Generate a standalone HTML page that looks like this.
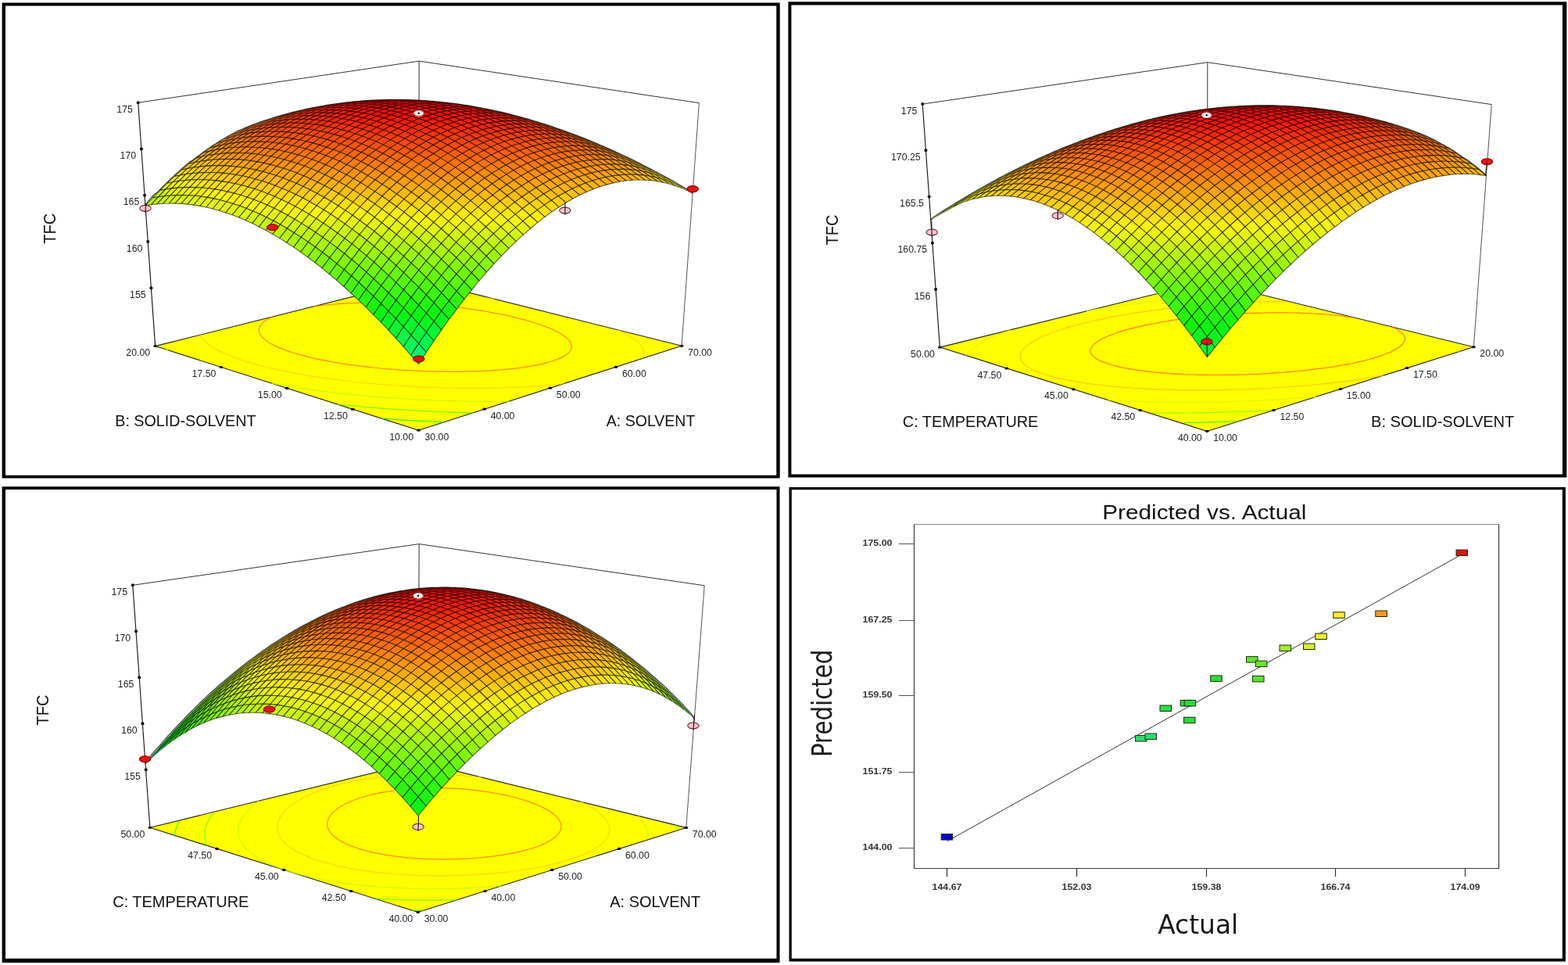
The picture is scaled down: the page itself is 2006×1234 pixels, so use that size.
<!DOCTYPE html>
<html lang="en"><head><meta charset="utf-8"><title>Response surface plots</title>
<style>
html,body{margin:0;padding:0;background:#fff;}
body{width:2006px;height:1234px;overflow:hidden;}
svg{display:block;}
.s0{stroke-opacity:0.15}.s1{stroke-opacity:0.24}.s2{stroke-opacity:0.33}.s3{stroke-opacity:0.42}.s4{stroke-opacity:0.51}
</style></head><body>
<svg width="2006" height="1234" viewBox="0 0 2006 1234">
<rect width="2006" height="1234" fill="#fff"/>
<path fill="#000" fill-rule="evenodd" d="M2.6,3.4H997.7V611.6H2.6ZM7,7.6H993.3V607.8H7Z"/>
<path fill="#000" fill-rule="evenodd" d="M1008.4,2.2H2004.3V610.6H1008.4ZM1012.4,6.4H1998.9V606.6H1012.4Z"/>
<path fill="#000" fill-rule="evenodd" d="M2.6,622.2H997.5V1231H2.6ZM7,625.9H993.5V1225.8H7Z"/>
<path fill="#000" fill-rule="evenodd" d="M1009.5,623H2002.9V1229.5H1009.5ZM1012.8,626.2H1998.8V1225.7H1012.8Z"/>
<g id="p1"><g fill="none" stroke="#333" stroke-width="1">
<polyline points="176.7,131.3 536.1,78.1 894.4,131.7"/>
<line x1="536.1" y1="78.1" x2="535.9" y2="358.1"/>
<line x1="894.4" y1="131.7" x2="872.1" y2="442.3" stroke="#555"/>
<line x1="176.7" y1="131.3" x2="198.6" y2="442.6" stroke="#111" stroke-width="1.1"/>
</g>
<polygon points="198.6,442.6 535.5,550.2 872.1,442.3 535.9,358.1" fill="#ffff00" stroke="#222" stroke-width="1.1" stroke-linejoin="round"/>
<g fill="none" stroke-width="1.2">
<polyline points="568.1,539.8 562.5,539.6 557,539.3 551.1,539 543.5,538.6 535.9,538.2 530,537.9 524.7,537.6 519.4,537.3 512.5,536.8 504.5,536.3 498.7,535.9 493.6,535.5 488.2,535.1" stroke="#08f526" stroke-opacity="0.8"/>
<polyline points="605.1,527.9 599.3,527.8 593.6,527.6 587.9,527.5 582.2,527.3 575.3,527 568.2,526.8 561,526.5 554.6,526.2 549.2,526 543.8,525.7 538.5,525.4 531.4,525 523.8,524.6 517.6,524.2 512.5,523.9 507.4,523.6 500.2,523.1 492.3,522.5 487.3,522.1 482.4,521.7 475.6,521.2 467.9,520.5 463.1,520.1 458.4,519.7 449.7,518.9 444.4,518.3 439.7,517.9 431.6,517" stroke="#54f50d" stroke-opacity="0.8"/>
<polyline points="650.5,513.3 644.2,513.4 637.9,513.5 631.8,513.5 625.7,513.5 619.6,513.5 613.7,513.4 607.7,513.3 601.9,513.3 596.1,513.2 590.4,513 584.5,512.9 577.7,512.7 570.9,512.5 564,512.3 557.1,512 551.7,511.8 546.4,511.6 541.1,511.3 535.3,511 527.8,510.6 520.4,510.2 515.3,509.9 510.3,509.5 504.8,509.2 496.8,508.6 490.7,508.1 485.8,507.8 480.5,507.3 472.1,506.6 467,506.1 462.3,505.7 454.7,505 448.7,504.4 444.2,503.9 436.5,503.1 431,502.5 426.7,502 418.2,500.9 414,500.4 407,499.5 401.5,498.8 396.5,498.1 389.4,497.1 385.5,496.5 377.7,495.3 373.8,494.7 366.2,493.5 361.5,492.7 355,491.6 348.1,490.4" stroke="#bbf50d" stroke-opacity="0.8"/>
<polyline points="214.7,447.7 212.5,446.2 210.2,444.5 208.3,443 206.7,441.6" stroke="#bbf50d" stroke-opacity="0.8"/>
<polyline points="525.7,360.7 529.9,360.9 534,361.1 538.8,361.4 545.4,361.8 550.3,362.1" stroke="#bbf50d" stroke-opacity="0.8"/>
<polyline points="721.5,490.6 715.6,491.2 711.2,491.7 704,492.4 697.7,492.9 693,493.3 688,493.7 680.4,494.2 673.6,494.6 668.6,494.9 663.5,495.1 658.3,495.4 652,495.6 645.3,495.8 638.7,496 632.2,496.2 625.9,496.3 619.7,496.4 613.9,496.4 607.9,496.4 601.9,496.4 595.8,496.4 589.7,496.4 584,496.3 578.4,496.2 572.8,496.1 567.2,495.9 561.8,495.8 556.4,495.6 550.1,495.3 543.1,495.1 536,494.7 530.3,494.4 525.2,494.2 520.2,493.9 513.9,493.5 506.2,493 500.7,492.6 495.9,492.2 490.2,491.8 482,491.1 477.4,490.7 472.9,490.3 464.7,489.5 459.6,488.9 455.2,488.5 446.6,487.5 442.4,487 436.6,486.3 430,485.5 426,485 418,483.9 414.1,483.3 406.3,482.2 402.5,481.6 395,480.4 391.4,479.7 384.1,478.5 378.2,477.4 373.6,476.5 366.7,475.2 362.3,474.3 356.8,473.1 350.3,471.7 344.1,470.2 341,469.5 335,468 329.2,466.4 323.5,464.8 318,463.2 312.7,461.6 307.6,459.9 302.6,458.1 297.8,456.4 293.3,454.6 291.1,453.7 286.8,451.8 282.8,449.9 280.5,448.8 277.1,447 273.6,445 271.9,444 268.8,441.9 267.3,440.8 264.5,438.7 263.3,437.6 261.5,435.9 259.9,434.2 258.9,433.1 257.6,431.3 256.5,429.5 255.9,428.3" stroke="#face0d" stroke-opacity="0.8"/>
<polyline points="484.7,370.9 489.5,371 494.2,371.1 498.9,371.2 503.4,371.4 508,371.5 513.6,371.7 519.7,372 525.5,372.2 529.7,372.4 533.9,372.7 539,373 545.8,373.4 550.3,373.7 554.3,374 560.1,374.4 566.1,374.9 570,375.2 575.5,375.7 581.3,376.3 585.1,376.6 592.3,377.4 596.1,377.8 601.4,378.4 606.9,379 611,379.5 617.5,380.3 621.4,380.8 627.9,381.7 632.7,382.3" stroke="#face0d" stroke-opacity="0.8"/>
<polyline points="790.2,421.8 794,423.6 796.1,424.6 800,426.7 802,427.8 805.1,429.6 807.5,431.2 809.2,432.3 811.6,434.1 814,436 815.5,437.3 816.8,438.6 818.2,440 819.7,441.8 821,443.5 822,445.2 822.7,446.9 823.3,448.4 823.6,450 823.7,451.5 823.7,452.9 823.5,454.4 823,456.2 822,458.3" stroke="#face0d" stroke-opacity="0.8"/>
<polyline points="401.1,391.9 405.9,391.2 411.8,390.5 416.9,390 420.9,389.6 428.6,388.9 432.7,388.6 436.9,388.3 443.2,387.9 449.8,387.5 454.3,387.3 458.9,387.2 463.6,387 468.4,386.9 473.4,386.8 478.7,386.8 484,386.8 489.1,386.8 494.3,386.8 499.9,386.9 505.6,387.1 511.5,387.3 517.6,387.5 522,387.7 526.4,387.9 530.7,388.1 537.3,388.5 543.3,389 547.4,389.3 551.8,389.6 559.3,390.2 563.2,390.6 567.9,391.1 574.5,391.8 578.2,392.2 585.5,393 589.1,393.5 596.2,394.4 599.7,394.9 606.5,395.9 609.9,396.4 616.6,397.4 623.1,398.5 626.3,399.1 632.6,400.3 638.9,401.5 644.7,402.7 648,403.4 653.9,404.7 659.7,406.1 665.3,407.5 670.8,408.9 676.2,410.5 681.5,412 684.1,412.8 689.1,414.5 694,416.2 698.5,417.9 701,418.9 705.4,420.7 707.6,421.7 711.7,423.7 713.7,424.7 717.4,426.8 719.2,427.9 721.4,429.4 724,431.4 725.4,432.6 726.8,433.9 728.2,435.5 729.5,437.3 730.4,439 731,440.6 731.3,442.1 731.4,443.6 731.2,445.1 730.7,446.4 729.9,448.1 728.3,450.3 727.1,451.5 725.3,453 722.6,454.8 719.9,456.4 716.9,457.9 712.4,459.8 707.4,461.5 701.9,463.2 696.1,464.7 689.8,466.1 684.9,467.1 679.5,468.1 672.2,469.3 668.4,469.9 661.4,470.8 656.3,471.4 652.1,471.8 643.7,472.6 638.9,473 634.3,473.4 628.3,473.8 621.1,474.2 614.8,474.5 609.7,474.7 604.5,474.9 599.1,475 593.7,475.1 588.1,475.2 582.4,475.3 576.6,475.3 570.6,475.2 564.5,475.2 558.3,475.1 551.9,474.9 545.3,474.7 538.6,474.5 533.5,474.2 528.5,474 523.6,473.7 517.3,473.4 509.8,472.9 504.6,472.5 500,472.1 493.9,471.6 486.6,471 482.3,470.5 476.6,470 469.6,469.2 465.5,468.7 457.4,467.7 453.5,467.2 446.7,466.3 442,465.6 434.9,464.5 431,463.8 423.9,462.6 420.4,461.9 413.6,460.6 407.1,459.3 403.9,458.6 397.6,457.2 391.6,455.7 385.8,454.2 380.2,452.6 374.9,451 369.7,449.4 364.9,447.6 360.2,445.9 356.6,444.4 353.8,443.1 349.8,441.2 347.4,439.9 344.5,438.2 342,436.6 339.8,435.1 338.3,433.9 336,431.7 335,430.6 333.9,429.2 332.7,427.2 332,425.7 331.6,424.4 331.4,423 331.4,421.7 331.5,420.2 332,418.7 332.7,417.2 333.7,415.6 335.1,413.8 336.6,412.3 338,411.2 339.7,410 342.9,407.9 344.8,406.9 348.6,405" stroke="#fa6a0d" stroke-opacity="0.8"/>
</g>
<g stroke="#000" stroke-opacity="0.6" stroke-width="1.1" stroke-linejoin="round">
<path d="M536,191.2l7.8,6.1 -7.8,3.5 -7.7,-6.2z" fill="#aef50d"/>
<path d="M543.9,188l7.8,6.1 -7.9,3.2 -7.8,-6.1z" fill="#bdf50d"/>
<path d="M528.2,185.3l7.8,5.9 -7.7,3.4 -7.9,-5.9z" fill="#c5f50d"/>
<path d="M551.8,185l7.7,6.2 -7.8,2.9 -7.8,-6.1z" fill="#cbf50d"/>
<path d="M536.1,182.2l7.8,5.8 -7.9,3.2 -7.8,-5.9z" fill="#d4f50d"/>
<path d="M520.3,179.8l7.9,5.5 -7.8,3.4 -7.9,-5.5z" fill="#dbf50d"/>
<path d="M559.7,182.3l7.8,6.1 -8,2.8 -7.7,-6.2z" fill="#d8f50d"/>
<path d="M544,179.2l7.8,5.8 -7.9,3 -7.8,-5.8z" fill="#e1f50d"/>
<path d="M528.1,176.7l8,5.5 -7.9,3.1 -7.9,-5.5z" fill="#e9f50d"/>
<path d="M512.3,174.7l8,5.1 -7.8,3.4 -8,-5.1z" fill="#eff50d"/>
<path d="M567.8,179.8l7.7,6.1 -8,2.5 -7.8,-6.1z" fill="#e4f50d"/>
<path d="M551.9,176.5l7.8,5.8 -7.9,2.7 -7.8,-5.8z" fill="#eef50d"/>
<path d="M536.1,173.8l7.9,5.4 -7.9,3 -8,-5.5z" fill="#f6f50d"/>
<path d="M520.2,171.6l7.9,5.1 -7.8,3.1 -8,-5.1z" fill="#faf20d"/>
<path d="M504.3,169.9l8,4.8 -7.8,3.4 -8,-4.8z" fill="#faed0d"/>
<path d="M575.8,177.6l7.8,6 -8.1,2.3 -7.7,-6.1z" fill="#f0f50d"/>
<path d="M559.9,174.1l7.9,5.7 -8.1,2.5 -7.8,-5.8z" fill="#faf40d"/>
<path d="M544,171.1l7.9,5.4 -7.9,2.7 -7.9,-5.4z" fill="#faec0d"/>
<path d="M528.1,168.7l8,5.1 -8,2.9 -7.9,-5.1z" fill="#fae40d"/>
<path d="M512.1,166.8l8.1,4.8 -7.9,3.1 -8,-4.8z" fill="#fadf0d"/>
<path d="M496.2,165.5l8.1,4.4 -7.8,3.4 -8.1,-4.5z" fill="#fadb0d"/>
<path d="M583.9,175.6l7.8,6 -8.1,2 -7.8,-6z" fill="#faf40d"/>
<path d="M568,171.9l7.8,5.7 -8,2.2 -7.9,-5.7z" fill="#fae90d"/>
<path d="M552,168.7l7.9,5.4 -8,2.4 -7.9,-5.4z" fill="#fae00d"/>
<path d="M536.1,166.1l7.9,5 -7.9,2.7 -8,-5.1z" fill="#fad80d"/>
<path d="M520,164l8.1,4.7 -7.9,2.9 -8.1,-4.8z" fill="#fad20d"/>
<path d="M504,162.5l8.1,4.3 -7.8,3.1 -8.1,-4.4z" fill="#facd0d"/>
<path d="M488,161.5l8.2,4 -7.8,3.3 -8.2,-4z" fill="#faca0d"/>
<path d="M592.1,173.8l7.8,6 -8.2,1.8 -7.8,-6z" fill="#faea0d"/>
<path d="M576.1,169.9l7.8,5.7 -8.1,2 -7.8,-5.7z" fill="#fadf0d"/>
<path d="M560.1,166.5l7.9,5.4 -8.1,2.2 -7.9,-5.4z" fill="#fad50d"/>
<path d="M544.1,163.7l7.9,5 -8,2.4 -7.9,-5z" fill="#facd0d"/>
<path d="M528,161.4l8.1,4.7 -8,2.6 -8.1,-4.7z" fill="#fac60d"/>
<path d="M511.9,159.6l8.1,4.4 -7.9,2.8 -8.1,-4.3z" fill="#fac10d"/>
<path d="M495.9,158.5l8.1,4 -7.8,3 -8.2,-4z" fill="#fabd0d"/>
<path d="M600.4,172.2l7.7,6 -8.2,1.6 -7.8,-6z" fill="#fae10d"/>
<path d="M479.8,157.8l8.2,3.7 -7.8,3.3 -8.2,-3.7z" fill="#fabb0d"/>
<path d="M584.3,168.1l7.8,5.7 -8.2,1.8 -7.8,-5.7z" fill="#fad50d"/>
<path d="M568.3,164.5l7.8,5.4 -8.1,2 -7.9,-5.4z" fill="#facb0d"/>
<path d="M552.2,161.5l7.9,5 -8.1,2.2 -7.9,-5z" fill="#fac20d"/>
<path d="M536.1,159l8,4.7 -8,2.4 -8.1,-4.7z" fill="#faba0d"/>
<path d="M519.9,157.1l8.1,4.3 -8,2.6 -8.1,-4.4z" fill="#fab50d"/>
<path d="M608.7,170.9l7.7,5.9 -8.3,1.4 -7.7,-6z" fill="#fad90d"/>
<path d="M503.8,155.7l8.1,3.9 -7.9,2.9 -8.1,-4z" fill="#fab10d"/>
<path d="M487.6,154.8l8.3,3.7 -7.9,3 -8.2,-3.7z" fill="#faae0d"/>
<path d="M471.5,154.6l8.3,3.2 -7.8,3.3 -8.3,-3.3z" fill="#faad0d"/>
<path d="M592.6,166.6l7.8,5.6 -8.3,1.6 -7.8,-5.7z" fill="#facc0d"/>
<path d="M576.5,162.8l7.8,5.3 -8.2,1.8 -7.8,-5.4z" fill="#fac10d"/>
<path d="M560.3,159.6l8,4.9 -8.2,2 -7.9,-5z" fill="#fab80d"/>
<path d="M544.1,156.9l8.1,4.6 -8.1,2.2 -8,-4.7z" fill="#fab00d"/>
<path d="M617,169.8l7.7,5.9 -8.3,1.1 -7.7,-5.9z" fill="#fad10d"/>
<path d="M528,154.7l8.1,4.3 -8.1,2.4 -8.1,-4.3z" fill="#faa90d"/>
<path d="M511.8,153.1l8.1,4 -8,2.5 -8.1,-3.9z" fill="#faa50d"/>
<path d="M495.6,152.1l8.2,3.6 -7.9,2.8 -8.3,-3.7z" fill="#faa20d"/>
<path d="M479.3,151.6l8.3,3.2 -7.8,3 -8.3,-3.2z" fill="#faa00d"/>
<path d="M600.9,165.3l7.8,5.6 -8.3,1.3 -7.8,-5.6z" fill="#fac40d"/>
<path d="M463.1,151.7l8.4,2.9 -7.8,3.2 -8.4,-2.9z" fill="#faa00d"/>
<path d="M584.7,161.3l7.9,5.3 -8.3,1.5 -7.8,-5.3z" fill="#fab80d"/>
<path d="M568.5,157.9l8,4.9 -8.2,1.7 -8,-4.9z" fill="#faae0d"/>
<path d="M552.3,155l8,4.6 -8.1,1.9 -8.1,-4.6z" fill="#faa60d"/>
<path d="M625.4,169l7.7,5.8 -8.4,0.9 -7.7,-5.9z" fill="#faca0d"/>
<path d="M536.1,152.6l8,4.3 -8,2.1 -8.1,-4.3z" fill="#fa9f0d"/>
<path d="M519.8,150.8l8.2,3.9 -8.1,2.4 -8.1,-4z" fill="#fa9a0d"/>
<path d="M609.2,164.3l7.8,5.5 -8.3,1.1 -7.8,-5.6z" fill="#fabc0d"/>
<path d="M503.5,149.5l8.3,3.6 -8,2.6 -8.2,-3.6z" fill="#fa960d"/>
<path d="M487.3,148.8l8.3,3.3 -8,2.7 -8.3,-3.2z" fill="#fa940d"/>
<path d="M454.7,149.2l8.4,2.5 -7.8,3.2 -8.4,-2.6z" fill="#fa940d"/>
<path d="M471,148.7l8.3,2.9 -7.8,3 -8.4,-2.9z" fill="#fa930d"/>
<path d="M593,160.1l7.9,5.2 -8.3,1.3 -7.9,-5.3z" fill="#fab00d"/>
<path d="M576.8,156.4l7.9,4.9 -8.2,1.5 -8,-4.9z" fill="#faa60d"/>
<path d="M633.8,168.4l7.7,5.8 -8.4,0.6 -7.7,-5.8z" fill="#fac40d"/>
<path d="M560.5,153.3l8,4.6 -8.2,1.7 -8,-4.6z" fill="#fa9d0d"/>
<path d="M544.2,150.8l8.1,4.2 -8.2,1.9 -8,-4.3z" fill="#fa950d"/>
<path d="M617.6,163.5l7.8,5.5 -8.4,0.8 -7.8,-5.5z" fill="#fab60d"/>
<path d="M527.9,148.7l8.2,3.9 -8.1,2.1 -8.2,-3.9z" fill="#fa8f0d"/>
<path d="M511.6,147.3l8.2,3.5 -8,2.3 -8.3,-3.6z" fill="#fa8b0d"/>
<path d="M495.2,146.4l8.3,3.1 -7.9,2.6 -8.3,-3.3z" fill="#fa880d"/>
<path d="M446.3,147l8.4,2.2 -7.8,3.1 -8.4,-2.1z" fill="#fa8a0d"/>
<path d="M478.9,146l8.4,2.8 -8,2.8 -8.3,-2.9z" fill="#fa870d"/>
<path d="M462.6,146.2l8.4,2.5 -7.9,3 -8.4,-2.5z" fill="#fa880d"/>
<path d="M601.4,159.1l7.8,5.2 -8.3,1 -7.9,-5.2z" fill="#faa90d"/>
<path d="M585.1,155.2l7.9,4.9 -8.3,1.2 -7.9,-4.9z" fill="#fa9e0d"/>
<path d="M642.3,168l7.7,5.8 -8.5,0.4 -7.7,-5.8z" fill="#fabe0d"/>
<path d="M568.8,151.9l8,4.5 -8.3,1.5 -8,-4.6z" fill="#fa940d"/>
<path d="M552.4,149.1l8.1,4.2 -8.2,1.7 -8.1,-4.2z" fill="#fa8c0d"/>
<path d="M626.1,162.9l7.7,5.5 -8.4,0.6 -7.8,-5.5z" fill="#faaf0d"/>
<path d="M536.1,146.9l8.1,3.9 -8.1,1.8 -8.2,-3.9z" fill="#fa860d"/>
<path d="M519.7,145.2l8.2,3.5 -8.1,2.1 -8.2,-3.5z" fill="#fa810d"/>
<path d="M503.3,144.1l8.3,3.2 -8.1,2.2 -8.3,-3.1z" fill="#fa7e0d"/>
<path d="M437.7,145.3l8.6,1.7 -7.8,3.2 -8.5,-1.8z" fill="#fa800d"/>
<path d="M609.8,158.3l7.8,5.2 -8.4,0.8 -7.8,-5.2z" fill="#faa20d"/>
<path d="M486.9,143.6l8.3,2.8 -7.9,2.4 -8.4,-2.8z" fill="#fa7c0d"/>
<path d="M454.1,144.2l8.5,2 -7.9,3 -8.4,-2.2z" fill="#fa7d0d"/>
<path d="M470.5,143.6l8.4,2.4 -7.9,2.7 -8.4,-2.5z" fill="#fa7c0d"/>
<path d="M593.5,154.3l7.9,4.8 -8.4,1 -7.9,-4.9z" fill="#fa970d"/>
<path d="M650.9,167.9l7.6,5.7 -8.5,0.2 -7.7,-5.8z" fill="#fab90d"/>
<path d="M577.1,150.8l8,4.4 -8.3,1.2 -8,-4.5z" fill="#fa8d0d"/>
<path d="M560.7,147.8l8.1,4.1 -8.3,1.4 -8.1,-4.2z" fill="#fa840d"/>
<path d="M634.6,162.6l7.7,5.4 -8.5,0.4 -7.7,-5.5z" fill="#faaa0d"/>
<path d="M544.3,145.4l8.1,3.7 -8.2,1.7 -8.1,-3.9z" fill="#fa7d0d"/>
<path d="M527.8,143.5l8.3,3.4 -8.2,1.8 -8.2,-3.5z" fill="#fa770d"/>
<path d="M618.3,157.8l7.8,5.1 -8.5,0.6 -7.8,-5.2z" fill="#fa9c0d"/>
<path d="M429.2,144l8.5,1.3 -7.7,3.1 -8.6,-1.3z" fill="#fa780d"/>
<path d="M511.4,142.1l8.3,3.1 -8.1,2.1 -8.3,-3.2z" fill="#fa740d"/>
<path d="M445.6,142.5l8.5,1.7 -7.8,2.8 -8.6,-1.7z" fill="#fa740d"/>
<path d="M494.9,141.4l8.4,2.7 -8.1,2.3 -8.3,-2.8z" fill="#fa710d"/>
<path d="M462,141.5l8.5,2.1 -7.9,2.6 -8.5,-2z" fill="#fa710d"/>
<path d="M478.5,141.2l8.4,2.4 -8,2.4 -8.4,-2.4z" fill="#fa710d"/>
<path d="M601.9,153.6l7.9,4.7 -8.4,0.8 -7.9,-4.8z" fill="#fa900d"/>
<path d="M659.5,168l7.6,5.7 -8.6,-0.1 -7.6,-5.7z" fill="#fab50d"/>
<path d="M585.5,149.9l8,4.4 -8.4,0.9 -8,-4.4z" fill="#fa860d"/>
<path d="M643.1,162.5l7.8,5.4 -8.6,0.1 -7.7,-5.4z" fill="#faa50d"/>
<path d="M569,146.7l8.1,4.1 -8.3,1.1 -8.1,-4.1z" fill="#fa7c0d"/>
<path d="M552.5,144l8.2,3.8 -8.3,1.3 -8.1,-3.7z" fill="#fa750d"/>
<path d="M626.8,157.6l7.8,5 -8.5,0.3 -7.8,-5.1z" fill="#fa970d"/>
<path d="M536.1,142l8.2,3.4 -8.2,1.5 -8.3,-3.4z" fill="#fa6f0d"/>
<path d="M420.6,143.1l8.6,0.9 -7.8,3.1 -8.6,-1z" fill="#fa710d"/>
<path d="M519.6,140.4l8.2,3.1 -8.1,1.7 -8.3,-3.1z" fill="#fa6a0d"/>
<path d="M437,141.2l8.6,1.3 -7.9,2.8 -8.5,-1.3z" fill="#fa6c0d"/>
<path d="M503,139.4l8.4,2.7 -8.1,2 -8.4,-2.7z" fill="#fa670d"/>
<path d="M453.5,139.9l8.5,1.6 -7.9,2.7 -8.5,-1.7z" fill="#fa680d"/>
<path d="M486.5,139l8.4,2.4 -8,2.2 -8.4,-2.4z" fill="#fa660d"/>
<path d="M610.3,153.1l8,4.7 -8.5,0.5 -7.9,-4.7z" fill="#fa8a0d"/>
<path d="M470,139.2l8.5,2 -8,2.4 -8.5,-2.1z" fill="#fa660d"/>
<path d="M668.1,168.4l7.7,5.6 -8.7,-0.3 -7.6,-5.7z" fill="#fab10d"/>
<path d="M593.9,149.2l8,4.4 -8.4,0.7 -8,-4.4z" fill="#fa7f0d"/>
<path d="M651.8,162.7l7.7,5.3 -8.6,-0.1 -7.8,-5.4z" fill="#faa10d"/>
<path d="M577.4,145.8l8.1,4.1 -8.4,0.9 -8.1,-4.1z" fill="#fa760d"/>
<path d="M560.9,143l8.1,3.7 -8.3,1.1 -8.2,-3.8z" fill="#fa6d0d"/>
<path d="M635.3,157.6l7.8,4.9 -8.5,0.1 -7.8,-5z" fill="#fa920d"/>
<path d="M544.3,140.7l8.2,3.3 -8.2,1.4 -8.2,-3.4z" fill="#fa670d"/>
<path d="M411.9,142.6l8.7,0.5 -7.8,3 -8.7,-0.5z" fill="#fa6b0d" class="s4"/>
<path d="M527.8,138.9l8.3,3.1 -8.3,1.5 -8.2,-3.1z" fill="#fa620d"/>
<path d="M676.8,169l7.6,5.5 -8.6,-0.5 -7.7,-5.6z" fill="#faae0d"/>
<path d="M428.4,140.4l8.6,0.8 -7.8,2.8 -8.6,-0.9z" fill="#fa650d" class="s4"/>
<path d="M618.9,152.9l7.9,4.7 -8.5,0.2 -8,-4.7z" fill="#fa850d"/>
<path d="M511.2,137.8l8.4,2.6 -8.2,1.7 -8.4,-2.7z" fill="#fa5e0d"/>
<path d="M444.9,138.7l8.6,1.2 -7.9,2.6 -8.6,-1.3z" fill="#fa600d"/>
<path d="M494.6,137.1l8.4,2.3 -8.1,2 -8.4,-2.4z" fill="#fa5c0d"/>
<path d="M461.5,137.6l8.5,1.6 -8,2.3 -8.5,-1.6z" fill="#fa5d0d"/>
<path d="M478.1,137.1l8.4,1.9 -8,2.2 -8.5,-2z" fill="#fa5c0d"/>
<path d="M602.4,148.8l7.9,4.3 -8.4,0.5 -8,-4.4z" fill="#fa7a0d"/>
<path d="M660.4,163.1l7.7,5.3 -8.6,-0.4 -7.7,-5.3z" fill="#fa9e0d"/>
<path d="M585.8,145.2l8.1,4 -8.4,0.7 -8.1,-4.1z" fill="#fa6f0d"/>
<path d="M644,157.8l7.8,4.9 -8.7,-0.2 -7.8,-4.9z" fill="#fa8e0d"/>
<path d="M569.3,142.2l8.1,3.6 -8.4,0.9 -8.1,-3.7z" fill="#fa670d"/>
<path d="M552.7,139.7l8.2,3.3 -8.4,1 -8.2,-3.3z" fill="#fa600d"/>
<path d="M403.2,142.5l8.7,0.1 -7.8,3 -8.7,-0.1z" fill="#fa660d" class="s4"/>
<path d="M685.6,169.8l7.6,5.5 -8.8,-0.8 -7.6,-5.5z" fill="#faac0d"/>
<path d="M627.5,153l7.8,4.6 -8.5,0 -7.9,-4.7z" fill="#fa810d"/>
<path d="M536.1,137.7l8.2,3 -8.2,1.3 -8.3,-3.1z" fill="#fa5a0d"/>
<path d="M419.7,139.9l8.7,0.5 -7.8,2.7 -8.7,-0.5z" fill="#fa5f0d" class="s4"/>
<path d="M519.4,136.3l8.4,2.6 -8.2,1.5 -8.4,-2.6z" fill="#fa560d"/>
<path d="M436.3,137.9l8.6,0.8 -7.9,2.5 -8.6,-0.8z" fill="#fa590d" class="s4"/>
<path d="M502.8,135.5l8.4,2.3 -8.2,1.6 -8.4,-2.3z" fill="#fa540d"/>
<path d="M452.9,136.4l8.6,1.2 -8,2.3 -8.6,-1.2z" fill="#fa560d" class="s4"/>
<path d="M486.2,135.2l8.4,1.9 -8.1,1.9 -8.4,-1.9z" fill="#fa530d" class="s4"/>
<path d="M469.5,135.5l8.6,1.6 -8.1,2.1 -8.5,-1.6z" fill="#fa530d" class="s4"/>
<path d="M610.9,148.6l8,4.3 -8.6,0.2 -7.9,-4.3z" fill="#fa750d"/>
<path d="M669.1,163.8l7.7,5.2 -8.7,-0.6 -7.7,-5.3z" fill="#fa9b0d"/>
<path d="M594.3,144.9l8.1,3.9 -8.5,0.4 -8.1,-4z" fill="#fa6a0d"/>
<path d="M652.6,158.3l7.8,4.8 -8.6,-0.4 -7.8,-4.9z" fill="#fa8b0d"/>
<path d="M577.7,141.6l8.1,3.6 -8.4,0.6 -8.1,-3.6z" fill="#fa610d"/>
<path d="M694.4,170.9l7.6,5.5 -8.8,-1.1 -7.6,-5.5z" fill="#faaa0d"/>
<path d="M394.4,142.9l8.8,-0.4 -7.8,3 -8.8,0.3z" fill="#fa620d" class="s3"/>
<path d="M561.1,138.9l8.2,3.3 -8.4,0.8 -8.2,-3.3z" fill="#fa590d"/>
<path d="M636.1,153.2l7.9,4.6 -8.7,-0.2 -7.8,-4.6z" fill="#fa7d0d"/>
<path d="M411,139.9l8.7,0 -7.8,2.7 -8.7,-0.1z" fill="#fa5a0d" class="s4"/>
<path d="M544.4,136.8l8.3,2.9 -8.4,1 -8.2,-3z" fill="#fa530d"/>
<path d="M427.6,137.5l8.7,0.4 -7.9,2.5 -8.7,-0.5z" fill="#fa540d" class="s4"/>
<path d="M527.7,135.2l8.4,2.5 -8.3,1.2 -8.4,-2.6z" fill="#fa4e0d" class="s4"/>
<path d="M677.9,164.7l7.7,5.1 -8.8,-0.8 -7.7,-5.2z" fill="#fa990d"/>
<path d="M444.3,135.7l8.6,0.7 -8,2.3 -8.6,-0.8z" fill="#fa4f0d" class="s4"/>
<path d="M511,134.1l8.4,2.2 -8.2,1.5 -8.4,-2.3z" fill="#fa4b0d" class="s4"/>
<path d="M619.5,148.7l8,4.3 -8.6,-0.1 -8,-4.3z" fill="#fa700d"/>
<path d="M460.9,134.4l8.6,1.1 -8,2.1 -8.6,-1.2z" fill="#fa4c0d" class="s4"/>
<path d="M494.3,133.7l8.5,1.8 -8.2,1.6 -8.4,-1.9z" fill="#fa4a0d" class="s4"/>
<path d="M477.6,133.8l8.6,1.4 -8.1,1.9 -8.6,-1.6z" fill="#fa4a0d" class="s4"/>
<path d="M602.9,144.8l8,3.8 -8.5,0.2 -8.1,-3.9z" fill="#fa650d"/>
<path d="M661.3,159l7.8,4.8 -8.7,-0.7 -7.8,-4.8z" fill="#fa890d"/>
<path d="M586.2,141.3l8.1,3.6 -8.5,0.3 -8.1,-3.6z" fill="#fa5c0d"/>
<path d="M703.2,172.3l7.6,5.3 -8.8,-1.2 -7.6,-5.5z" fill="#faa90d"/>
<path d="M385.6,143.7l8.8,-0.8 -7.8,2.9 -8.8,0.7z" fill="#fa600d" class="s3"/>
<path d="M644.8,153.8l7.8,4.5 -8.6,-0.5 -7.9,-4.6z" fill="#fa7a0d"/>
<path d="M569.5,138.4l8.2,3.2 -8.4,0.6 -8.2,-3.3z" fill="#fa530d" class="s4"/>
<path d="M402.2,140.3l8.8,-0.4 -7.8,2.6 -8.8,0.4z" fill="#fa570d" class="s3"/>
<path d="M552.8,136.1l8.3,2.8 -8.4,0.8 -8.3,-2.9z" fill="#fa4d0d" class="s4"/>
<path d="M686.7,165.9l7.7,5 -8.8,-1.1 -7.7,-5.1z" fill="#fa970d"/>
<path d="M418.9,137.5l8.7,0 -7.9,2.4 -8.7,0z" fill="#fa4f0d" class="s3"/>
<path d="M536.1,134.3l8.3,2.5 -8.3,0.9 -8.4,-2.5z" fill="#fa480d" class="s4"/>
<path d="M628.1,149.1l8,4.1 -8.6,-0.2 -8,-4.3z" fill="#fa6d0d"/>
<path d="M435.6,135.3l8.7,0.4 -8,2.2 -8.7,-0.4z" fill="#fa490d" class="s3"/>
<path d="M519.3,133l8.4,2.2 -8.3,1.1 -8.4,-2.2z" fill="#fa440d" class="s4"/>
<path d="M452.3,133.7l8.6,0.7 -8,2 -8.6,-0.7z" fill="#fa450d" class="s3"/>
<path d="M502.6,132.3l8.4,1.8 -8.2,1.4 -8.5,-1.8z" fill="#fa420d" class="s4"/>
<path d="M469,132.7l8.6,1.1 -8.1,1.7 -8.6,-1.1z" fill="#fa430d" class="s4"/>
<path d="M485.8,132.2l8.5,1.5 -8.1,1.5 -8.6,-1.4z" fill="#fa410d" class="s4"/>
<path d="M611.5,144.9l8,3.8 -8.6,-0.1 -8,-3.8z" fill="#fa610d"/>
<path d="M670.1,160l7.8,4.7 -8.8,-0.9 -7.8,-4.8z" fill="#fa870d"/>
<path d="M712.1,173.8l7.6,5.3 -8.9,-1.5 -7.6,-5.3z" fill="#faa90d"/>
<path d="M594.7,141.3l8.2,3.5 -8.6,0.1 -8.1,-3.6z" fill="#fa570d" class="s4"/>
<path d="M376.7,144.8l8.9,-1.1 -7.8,2.8 -8.8,1.1z" fill="#fa5e0d" class="s2"/>
<path d="M653.5,154.6l7.8,4.4 -8.7,-0.7 -7.8,-4.5z" fill="#fa780d"/>
<path d="M578,138.2l8.2,3.1 -8.5,0.3 -8.2,-3.2z" fill="#fa4e0d" class="s4"/>
<path d="M393.4,141.1l8.8,-0.8 -7.8,2.6 -8.8,0.8z" fill="#fa540d" class="s3"/>
<path d="M695.5,167.3l7.7,5 -8.8,-1.4 -7.7,-5z" fill="#fa970d"/>
<path d="M561.2,135.6l8.3,2.8 -8.4,0.5 -8.3,-2.8z" fill="#fa470d" class="s4"/>
<path d="M410.1,138l8.8,-0.5 -7.9,2.4 -8.8,0.4z" fill="#fa4c0d" class="s3"/>
<path d="M636.8,149.7l8,4.1 -8.7,-0.6 -8,-4.1z" fill="#fa6a0d" class="s4"/>
<path d="M544.4,133.6l8.4,2.5 -8.4,0.7 -8.3,-2.5z" fill="#fa420d" class="s4"/>
<path d="M426.8,135.4l8.8,-0.1 -8,2.2 -8.7,0z" fill="#fa450d" class="s3"/>
<path d="M527.6,132.2l8.5,2.1 -8.4,0.9 -8.4,-2.2z" fill="#fa3d0d" class="s4"/>
<path d="M443.6,133.4l8.7,0.3 -8,2 -8.7,-0.4z" fill="#fa400d" class="s3"/>
<path d="M510.8,131.3l8.5,1.7 -8.3,1.1 -8.4,-1.8z" fill="#fa3b0d" class="s4"/>
<path d="M460.4,132l8.6,0.7 -8.1,1.7 -8.6,-0.7z" fill="#fa3c0d" class="s3"/>
<path d="M678.9,161.2l7.8,4.7 -8.8,-1.2 -7.8,-4.7z" fill="#fa860d"/>
<path d="M494,131l8.6,1.3 -8.3,1.4 -8.5,-1.5z" fill="#fa3a0d" class="s3"/>
<path d="M620.1,145.3l8,3.8 -8.6,-0.4 -8,-3.8z" fill="#fa5e0d" class="s4"/>
<path d="M477.2,131.2l8.6,1 -8.2,1.6 -8.6,-1.1z" fill="#fa3a0d" class="s3"/>
<path d="M721,175.6l7.6,5.3 -8.9,-1.8 -7.6,-5.3z" fill="#faa90d"/>
<path d="M367.8,146.5l8.9,-1.7 -7.7,2.8 -8.9,1.6z" fill="#fa5e0d" class="s2"/>
<path d="M603.3,141.5l8.2,3.4 -8.6,-0.1 -8.2,-3.5z" fill="#fa530d" class="s4"/>
<path d="M662.3,155.6l7.8,4.4 -8.8,-1 -7.8,-4.4z" fill="#fa760d" class="s4"/>
<path d="M384.5,142.4l8.9,-1.3 -7.8,2.6 -8.9,1.1z" fill="#fa530d" class="s2"/>
<path d="M586.6,138.2l8.1,3.1 -8.5,0 -8.2,-3.1z" fill="#fa4a0d" class="s4"/>
<path d="M704.4,168.9l7.7,4.9 -8.9,-1.5 -7.7,-5z" fill="#fa960d"/>
<path d="M569.7,135.4l8.3,2.8 -8.5,0.2 -8.3,-2.8z" fill="#fa420d" class="s4"/>
<path d="M401.3,138.8l8.8,-0.8 -7.9,2.3 -8.8,0.8z" fill="#fa4a0d" class="s2"/>
<path d="M645.6,150.5l7.9,4.1 -8.7,-0.8 -8,-4.1z" fill="#fa680d" class="s4"/>
<path d="M552.9,133.2l8.3,2.4 -8.4,0.5 -8.4,-2.5z" fill="#fa3c0d" class="s4"/>
<path d="M418.1,135.9l8.7,-0.5 -7.9,2.1 -8.8,0.5z" fill="#fa420d" class="s2"/>
<path d="M687.8,162.6l7.7,4.7 -8.8,-1.4 -7.8,-4.7z" fill="#fa850d" class="s4"/>
<path d="M536,131.6l8.4,2 -8.3,0.7 -8.5,-2.1z" fill="#fa370d" class="s3"/>
<path d="M434.9,133.6l8.7,-0.2 -8,1.9 -8.8,0.1z" fill="#fa3c0d" class="s2"/>
<path d="M628.8,146l8,3.7 -8.7,-0.6 -8,-3.8z" fill="#fa5b0d" class="s4"/>
<path d="M730,177.7l7.5,5.2 -8.9,-2 -7.6,-5.3z" fill="#faaa0d" class="s4"/>
<path d="M519.2,130.5l8.4,1.7 -8.3,0.8 -8.5,-1.7z" fill="#fa340d" class="s3"/>
<path d="M451.7,131.8l8.7,0.2 -8.1,1.7 -8.7,-0.3z" fill="#fa370d" class="s3"/>
<path d="M502.3,130l8.5,1.3 -8.2,1 -8.6,-1.3z" fill="#fa330d" class="s3"/>
<path d="M468.6,130.6l8.6,0.6 -8.2,1.5 -8.6,-0.7z" fill="#fa340d" class="s3"/>
<path d="M485.4,130l8.6,1 -8.2,1.2 -8.6,-1z" fill="#fa330d" class="s3"/>
<path d="M358.9,148.5l8.9,-2 -7.7,2.7 -9,2z" fill="#fa5f0d" class="s1"/>
<path d="M612,142l8.1,3.3 -8.6,-0.4 -8.2,-3.4z" fill="#fa500d" class="s4"/>
<path d="M671.1,156.9l7.8,4.3 -8.8,-1.2 -7.8,-4.4z" fill="#fa750d" class="s4"/>
<path d="M375.6,144l8.9,-1.6 -7.8,2.4 -8.9,1.7z" fill="#fa530d" class="s1"/>
<path d="M713.4,170.8l7.6,4.8 -8.9,-1.8 -7.7,-4.9z" fill="#fa970d" class="s4"/>
<path d="M595.2,138.5l8.1,3 -8.6,-0.2 -8.1,-3.1z" fill="#fa460d" class="s4"/>
<path d="M392.4,140.1l8.9,-1.3 -7.9,2.3 -8.9,1.3z" fill="#fa490d" class="s1"/>
<path d="M654.3,151.6l8,4 -8.8,-1 -7.9,-4.1z" fill="#fa670d" class="s4"/>
<path d="M578.3,135.5l8.3,2.7 -8.6,0 -8.3,-2.8z" fill="#fa3e0d" class="s3"/>
<path d="M409.2,136.8l8.9,-0.9 -8,2.1 -8.8,0.8z" fill="#fa400d" class="s2"/>
<path d="M561.4,133.1l8.3,2.3 -8.5,0.2 -8.3,-2.4z" fill="#fa370d" class="s3"/>
<path d="M696.7,164.4l7.7,4.5 -8.9,-1.6 -7.7,-4.7z" fill="#fa850d" class="s4"/>
<path d="M739,180l7.5,5.1 -9,-2.2 -7.5,-5.2z" fill="#faac0d" class="s4"/>
<path d="M637.6,146.9l8,3.6 -8.8,-0.8 -8,-3.7z" fill="#fa590d" class="s4"/>
<path d="M426.1,134.1l8.8,-0.5 -8.1,1.8 -8.7,0.5z" fill="#fa390d" class="s2"/>
<path d="M544.5,131.3l8.4,1.9 -8.5,0.4 -8.4,-2z" fill="#fa320d" class="s3"/>
<path d="M349.9,151l9,-2.5 -7.8,2.7 -8.9,2.4z" fill="#fa610d" class="s0"/>
<path d="M443,132l8.7,-0.2 -8.1,1.6 -8.7,0.2z" fill="#fa330d" class="s2"/>
<path d="M527.6,130l8.4,1.6 -8.4,0.6 -8.4,-1.7z" fill="#fa2f0d" class="s3"/>
<path d="M459.9,130.4l8.7,0.2 -8.2,1.4 -8.7,-0.2z" fill="#fa2f0d" class="s2"/>
<path d="M510.7,129.2l8.5,1.3 -8.4,0.8 -8.5,-1.3z" fill="#fa2c0d" class="s3"/>
<path d="M476.8,129.5l8.6,0.5 -8.2,1.2 -8.6,-0.6z" fill="#fa2d0d" class="s2"/>
<path d="M493.7,129.1l8.6,0.9 -8.3,1 -8.6,-1z" fill="#fa2c0d" class="s2"/>
<path d="M620.7,142.7l8.1,3.3 -8.7,-0.7 -8.1,-3.3z" fill="#fa4e0d" class="s3"/>
<path d="M680,158.4l7.8,4.2 -8.9,-1.4 -7.8,-4.3z" fill="#fa750d" class="s4"/>
<path d="M366.7,146.1l8.9,-2.1 -7.8,2.5 -8.9,2z" fill="#fa540d" class="s0"/>
<path d="M722.4,172.9l7.6,4.8 -9,-2.1 -7.6,-4.8z" fill="#fa980d" class="s4"/>
<path d="M603.8,139l8.2,3 -8.7,-0.5 -8.1,-3z" fill="#fa440d" class="s3"/>
<path d="M383.5,141.9l8.9,-1.8 -7.9,2.3 -8.9,1.6z" fill="#fa490d" class="s1"/>
<path d="M663.2,153l7.9,3.9 -8.8,-1.3 -8,-4z" fill="#fa660d" class="s4"/>
<path d="M586.9,135.9l8.3,2.6 -8.6,-0.3 -8.3,-2.7z" fill="#fa3b0d" class="s3"/>
<path d="M748.1,182.6l7.5,5 -9.1,-2.5 -7.5,-5.1z" fill="#faae0d" class="s4"/>
<path d="M705.7,166.3l7.7,4.5 -9,-1.9 -7.7,-4.5z" fill="#fa860d" class="s4"/>
<path d="M400.3,138.2l8.9,-1.4 -7.9,2 -8.9,1.3z" fill="#fa3f0d" class="s1"/>
<path d="M570,133.3l8.3,2.2 -8.6,-0.1 -8.3,-2.3z" fill="#fa340d" class="s3"/>
<path d="M646.3,148.1l8,3.5 -8.7,-1.1 -8,-3.6z" fill="#fa580d" class="s3"/>
<path d="M340.9,153.9l9,-2.9 -7.7,2.6 -9,2.9z" fill="#fa650d" class="s0"/>
<path d="M417.2,135.1l8.9,-1 -8,1.8 -8.9,0.9z" fill="#fa370d" class="s1"/>
<path d="M553,131.2l8.4,1.9 -8.5,0.1 -8.4,-1.9z" fill="#fa2e0d" class="s3"/>
<path d="M434.2,132.6l8.8,-0.6 -8.1,1.6 -8.8,0.5z" fill="#fa300d" class="s1"/>
<path d="M536,129.7l8.5,1.6 -8.5,0.3 -8.4,-1.6z" fill="#fa2a0d" class="s2"/>
<path d="M688.9,160.2l7.8,4.2 -8.9,-1.8 -7.8,-4.2z" fill="#fa750d" class="s4"/>
<path d="M451.1,130.7l8.8,-0.3 -8.2,1.4 -8.7,0.2z" fill="#fa2b0d" class="s1"/>
<path d="M629.5,143.7l8.1,3.2 -8.8,-0.9 -8.1,-3.3z" fill="#fa4c0d" class="s3"/>
<path d="M519.1,128.8l8.5,1.2 -8.4,0.5 -8.5,-1.3z" fill="#fa270d" class="s2"/>
<path d="M468.1,129.3l8.7,0.2 -8.2,1.1 -8.7,-0.2z" fill="#fa280d" class="s2"/>
<path d="M357.7,148.7l9,-2.6 -7.8,2.4 -9,2.5z" fill="#fa570d" class="s0"/>
<path d="M731.4,175.3l7.6,4.7 -9,-2.3 -7.6,-4.8z" fill="#fa9a0d" class="s4"/>
<path d="M502.1,128.4l8.6,0.8 -8.4,0.8 -8.6,-0.9z" fill="#fa260d" class="s2"/>
<path d="M485.1,128.6l8.6,0.5 -8.3,0.9 -8.6,-0.5z" fill="#fa260d" class="s2"/>
<path d="M612.5,139.8l8.2,2.9 -8.7,-0.7 -8.2,-3z" fill="#fa410d" class="s3"/>
<path d="M374.5,144.1l9,-2.2 -7.9,2.1 -8.9,2.1z" fill="#fa4a0d" class="s0"/>
<path d="M672.1,154.6l7.9,3.8 -8.9,-1.5 -7.9,-3.9z" fill="#fa660d" class="s3"/>
<path d="M757.2,185.4l7.5,4.9 -9.1,-2.7 -7.5,-5z" fill="#fab10d" class="s4"/>
<path d="M714.7,168.5l7.7,4.4 -9,-2.1 -7.7,-4.5z" fill="#fa870d" class="s3"/>
<path d="M595.6,136.5l8.2,2.5 -8.6,-0.5 -8.3,-2.6z" fill="#fa380d" class="s3"/>
<path d="M391.4,140l8.9,-1.8 -7.9,1.9 -8.9,1.8z" fill="#fa3f0d" class="s0"/>
<path d="M331.8,157.3l9.1,-3.4 -7.7,2.6 -9.1,3.3z" fill="#fa690d" class="s0"/>
<path d="M655.2,149.5l8,3.5 -8.9,-1.4 -8,-3.5z" fill="#fa580d" class="s3"/>
<path d="M578.6,133.7l8.3,2.2 -8.6,-0.4 -8.3,-2.2z" fill="#fa300d" class="s2"/>
<path d="M408.4,136.5l8.8,-1.4 -8,1.7 -8.9,1.4z" fill="#fa360d" class="s0"/>
<path d="M561.6,131.4l8.4,1.9 -8.6,-0.2 -8.4,-1.9z" fill="#fa2a0d" class="s2"/>
<path d="M425.3,133.7l8.9,-1.1 -8.1,1.5 -8.9,1z" fill="#fa2f0d" class="s0"/>
<path d="M697.9,162.3l7.8,4 -9,-1.9 -7.8,-4.2z" fill="#fa760d" class="s3"/>
<path d="M348.6,151.7l9.1,-3 -7.8,2.3 -9,2.9z" fill="#fa5a0d" class="s0"/>
<path d="M740.5,177.9l7.6,4.7 -9.1,-2.6 -7.6,-4.7z" fill="#fa9c0d" class="s3"/>
<path d="M544.6,129.7l8.4,1.5 -8.5,0.1 -8.5,-1.6z" fill="#fa250d" class="s2"/>
<path d="M638.3,144.9l8,3.2 -8.7,-1.2 -8.1,-3.2z" fill="#fa4b0d" class="s3"/>
<path d="M442.3,131.4l8.8,-0.7 -8.1,1.3 -8.8,0.6z" fill="#fa290d" class="s1"/>
<path d="M527.5,128.6l8.5,1.1 -8.4,0.3 -8.5,-1.2z" fill="#fa220d" class="s2"/>
<path d="M459.3,129.7l8.8,-0.4 -8.2,1.1 -8.8,0.3z" fill="#fa240d" class="s1"/>
<path d="M510.5,128l8.6,0.8 -8.4,0.4 -8.6,-0.8z" fill="#fa200d" class="s2"/>
<path d="M476.4,128.5l8.7,0.1 -8.3,0.9 -8.7,-0.2z" fill="#fa210d" class="s1"/>
<path d="M493.4,128l8.7,0.4 -8.4,0.7 -8.6,-0.5z" fill="#fa200d" class="s1"/>
<path d="M365.5,146.7l9,-2.6 -7.8,2 -9,2.6z" fill="#fa4d0d" class="s0"/>
<path d="M621.3,140.9l8.2,2.8 -8.8,-1 -8.2,-2.9z" fill="#fa400d" class="s3"/>
<path d="M681,156.5l7.9,3.7 -8.9,-1.8 -7.9,-3.8z" fill="#fa660d" class="s3"/>
<path d="M766.3,188.4l7.5,4.9 -9.1,-3 -7.5,-4.9z" fill="#fab40d" class="s3"/>
<path d="M723.7,171l7.7,4.3 -9,-2.4 -7.7,-4.4z" fill="#fa890d" class="s3"/>
<path d="M322.7,161.1l9.1,-3.8 -7.7,2.5 -9,3.7z" fill="#fa6f0d" class="s1"/>
<path d="M382.5,142.2l8.9,-2.2 -7.9,1.9 -9,2.2z" fill="#fa410d" class="s0"/>
<path d="M604.3,137.3l8.2,2.5 -8.7,-0.8 -8.2,-2.5z" fill="#fa360d" class="s2"/>
<path d="M664.1,151.2l8,3.4 -8.9,-1.6 -8,-3.5z" fill="#fa580d" class="s3"/>
<path d="M399.4,138.4l9,-1.9 -8.1,1.7 -8.9,1.8z" fill="#fa370d" class="s0"/>
<path d="M587.3,134.3l8.3,2.2 -8.7,-0.6 -8.3,-2.2z" fill="#fa2e0d" class="s2"/>
<path d="M339.6,155.1l9,-3.4 -7.7,2.2 -9.1,3.4z" fill="#fa5f0d" class="s1"/>
<path d="M706.9,164.5l7.8,4 -9,-2.2 -7.8,-4z" fill="#fa780d" class="s3"/>
<path d="M749.6,180.8l7.6,4.6 -9.1,-2.8 -7.6,-4.7z" fill="#fa9f0d" class="s3"/>
<path d="M416.4,135.1l8.9,-1.4 -8.1,1.4 -8.8,1.4z" fill="#fa2e0d" class="s0"/>
<path d="M570.2,131.9l8.4,1.8 -8.6,-0.4 -8.4,-1.9z" fill="#fa270d" class="s2"/>
<path d="M647.1,146.4l8.1,3.1 -8.9,-1.4 -8,-3.2z" fill="#fa4b0d" class="s2"/>
<path d="M433.5,132.5l8.8,-1.1 -8.1,1.2 -8.9,1.1z" fill="#fa270d" class="s0"/>
<path d="M553.1,130l8.5,1.4 -8.6,-0.2 -8.4,-1.5z" fill="#fa220d" class="s2"/>
<path d="M356.5,149.7l9,-3 -7.8,2 -9.1,3z" fill="#fa500d" class="s1"/>
<path d="M450.5,130.4l8.8,-0.7 -8.2,1 -8.8,0.7z" fill="#fa220d" class="s0"/>
<path d="M536,128.6l8.6,1.1 -8.6,0 -8.5,-1.1z" fill="#fa1e0d" class="s1"/>
<path d="M775.5,191.7l7.4,4.7 -9.1,-3.1 -7.5,-4.9z" fill="#fab80d" class="s3"/>
<path d="M467.6,128.9l8.8,-0.4 -8.3,0.8 -8.8,0.4z" fill="#fa1e0d" class="s0"/>
<path d="M518.9,127.9l8.6,0.7 -8.4,0.2 -8.6,-0.8z" fill="#fa1c0d" class="s1"/>
<path d="M690,158.6l7.9,3.7 -9,-2.1 -7.9,-3.7z" fill="#fa670d" class="s3"/>
<path d="M484.7,128l8.7,0 -8.3,0.6 -8.7,-0.1z" fill="#fa1c0d" class="s0"/>
<path d="M501.8,127.6l8.7,0.4 -8.4,0.4 -8.7,-0.4z" fill="#fa1b0d" class="s1"/>
<path d="M630.1,142.2l8.2,2.7 -8.8,-1.2 -8.2,-2.8z" fill="#fa3f0d" class="s2"/>
<path d="M313.6,165.4l9.1,-4.3 -7.6,2.4 -9.1,4.2z" fill="#fa750d" class="s2"/>
<path d="M732.8,173.7l7.7,4.2 -9.1,-2.6 -7.7,-4.3z" fill="#fa8c0d" class="s3"/>
<path d="M373.4,144.9l9.1,-2.7 -8,1.9 -9,2.6z" fill="#fa430d" class="s0"/>
<path d="M613.1,138.5l8.2,2.4 -8.8,-1.1 -8.2,-2.5z" fill="#fa350d" class="s2"/>
<path d="M673,153.1l8,3.4 -8.9,-1.9 -8,-3.4z" fill="#fa580d" class="s2"/>
<path d="M390.4,140.7l9,-2.3 -8,1.6 -8.9,2.2z" fill="#fa380d" class="s0"/>
<path d="M330.5,159l9.1,-3.9 -7.8,2.2 -9.1,3.8z" fill="#fa640d" class="s1"/>
<path d="M758.7,183.9l7.6,4.5 -9.1,-3 -7.6,-4.6z" fill="#faa30d" class="s3"/>
<path d="M596,135.3l8.3,2 -8.7,-0.8 -8.3,-2.2z" fill="#fa2c0d" class="s2"/>
<path d="M715.9,167.1l7.8,3.9 -9,-2.5 -7.8,-4z" fill="#fa7a0d" class="s2"/>
<path d="M407.5,137.1l8.9,-2 -8,1.4 -9,1.9z" fill="#fa2f0d" class="s0"/>
<path d="M578.9,132.6l8.4,1.7 -8.7,-0.6 -8.4,-1.8z" fill="#fa250d" class="s1"/>
<path d="M656,148.2l8.1,3 -8.9,-1.7 -8.1,-3.1z" fill="#fa4b0d" class="s2"/>
<path d="M347.4,153.2l9.1,-3.5 -7.9,2 -9,3.4z" fill="#fa550d" class="s1"/>
<path d="M424.6,134l8.9,-1.5 -8.2,1.2 -8.9,1.4z" fill="#fa270d" class="s0"/>
<path d="M784.7,195.2l7.4,4.7 -9.2,-3.5 -7.4,-4.7z" fill="#fabd0d" class="s3"/>
<path d="M561.8,130.5l8.4,1.4 -8.6,-0.5 -8.5,-1.4z" fill="#fa1f0d" class="s1"/>
<path d="M304.5,170.1l9.1,-4.7 -7.6,2.3 -9.2,4.6z" fill="#fa7d0d" class="s2"/>
<path d="M699,161l7.9,3.5 -9,-2.2 -7.9,-3.7z" fill="#fa690d" class="s2"/>
<path d="M441.7,131.6l8.8,-1.2 -8.2,1 -8.8,1.1z" fill="#fa200d" class="s0"/>
<path d="M544.6,129l8.5,1 -8.5,-0.3 -8.6,-1.1z" fill="#fa1a0d" class="s1"/>
<path d="M741.9,176.7l7.7,4.1 -9.1,-2.9 -7.7,-4.2z" fill="#fa8f0d" class="s2"/>
<path d="M639,143.8l8.1,2.6 -8.8,-1.5 -8.2,-2.7z" fill="#fa3f0d" class="s2"/>
<path d="M458.8,129.7l8.8,-0.8 -8.3,0.8 -8.8,0.7z" fill="#fa1c0d" class="s0"/>
<path d="M527.5,128l8.5,0.6 -8.5,0 -8.6,-0.7z" fill="#fa180d" class="s0"/>
<path d="M364.4,148l9,-3.1 -7.9,1.8 -9,3z" fill="#fa470d" class="s1"/>
<path d="M476,128.4l8.7,-0.4 -8.3,0.5 -8.8,0.4z" fill="#fa180d" class="s0"/>
<path d="M510.3,127.6l8.6,0.3 -8.4,0.1 -8.7,-0.4z" fill="#fa160d" class="s0"/>
<path d="M493.1,127.7l8.7,-0.1 -8.4,0.4 -8.7,0z" fill="#fa170d" class="s0"/>
<path d="M321.4,163.3l9.1,-4.3 -7.8,2.1 -9.1,4.3z" fill="#fa6b0d" class="s2"/>
<path d="M621.9,139.8l8.2,2.4 -8.8,-1.3 -8.2,-2.4z" fill="#fa340d" class="s1"/>
<path d="M682,155.3l8,3.3 -9,-2.1 -8,-3.4z" fill="#fa5a0d" class="s2"/>
<path d="M381.4,143.5l9,-2.8 -7.9,1.5 -9.1,2.7z" fill="#fa3b0d" class="s1"/>
<path d="M767.9,187.3l7.6,4.4 -9.2,-3.3 -7.6,-4.5z" fill="#faa80d" class="s2"/>
<path d="M725,169.9l7.8,3.8 -9.1,-2.7 -7.8,-3.9z" fill="#fa7d0d" class="s2"/>
<path d="M604.8,136.5l8.3,2 -8.8,-1.2 -8.3,-2z" fill="#fa2b0d" class="s1"/>
<path d="M398.5,139.5l9,-2.4 -8.1,1.3 -9,2.3z" fill="#fa300d" class="s1"/>
<path d="M338.3,157.2l9.1,-4 -7.8,1.9 -9.1,3.9z" fill="#fa5b0d" class="s2"/>
<path d="M295.3,175.2l9.2,-5.1 -7.7,2.2 -9.1,5.1z" fill="#fa860d" class="s3"/>
<path d="M665,150.2l8,2.9 -8.9,-1.9 -8.1,-3z" fill="#fa4c0d" class="s2"/>
<path d="M794,199l7.4,4.6 -9.3,-3.7 -7.4,-4.7z" fill="#fac20d" class="s2"/>
<path d="M587.6,133.6l8.4,1.7 -8.7,-1 -8.4,-1.7z" fill="#fa230d" class="s1"/>
<path d="M415.6,136l9,-2 -8.2,1.1 -8.9,2z" fill="#fa280d" class="s1"/>
<path d="M708.1,163.6l7.8,3.5 -9,-2.6 -7.9,-3.5z" fill="#fa6c0d" class="s2"/>
<path d="M751.1,179.9l7.6,4 -9.1,-3.1 -7.7,-4.1z" fill="#fa930d" class="s2"/>
<path d="M570.4,131.3l8.5,1.3 -8.7,-0.7 -8.4,-1.4z" fill="#fa1d0d" class="s0"/>
<path d="M432.8,133.2l8.9,-1.6 -8.2,0.9 -8.9,1.5z" fill="#fa200d" class="s0"/>
<path d="M355.3,151.6l9.1,-3.6 -7.9,1.7 -9.1,3.5z" fill="#fa4c0d" class="s2"/>
<path d="M647.9,145.6l8.1,2.6 -8.9,-1.8 -8.1,-2.6z" fill="#fa3f0d" class="s1"/>
<path d="M553.2,129.6l8.6,0.9 -8.7,-0.5 -8.5,-1z" fill="#fa180d" class="s0"/>
<path d="M450,131l8.8,-1.3 -8.3,0.7 -8.8,1.2z" fill="#fa1a0d" class="s0"/>
<path d="M312.2,168.1l9.2,-4.8 -7.8,2.1 -9.1,4.7z" fill="#fa730d" class="s3"/>
<path d="M536,128.4l8.6,0.6 -8.6,-0.4 -8.5,-0.6z" fill="#fa140d" class="s0"/>
<path d="M467.2,129.3l8.8,-0.9 -8.4,0.5 -8.8,0.8z" fill="#fa160d" class="s0"/>
<path d="M518.8,127.8l8.7,0.2 -8.6,-0.1 -8.6,-0.3z" fill="#fa130d" class="s0"/>
<path d="M484.4,128.2l8.7,-0.5 -8.4,0.3 -8.7,0.4z" fill="#fa130d" class="s0"/>
<path d="M501.6,127.7l8.7,-0.1 -8.5,0 -8.7,0.1z" fill="#fa120d" class="s0"/>
<path d="M777.2,190.9l7.5,4.3 -9.2,-3.5 -7.6,-4.4z" fill="#faac0d" class="s2"/>
<path d="M691.1,157.8l7.9,3.2 -9,-2.4 -8,-3.3z" fill="#fa5c0d" class="s1"/>
<path d="M630.8,141.5l8.2,2.3 -8.9,-1.6 -8.2,-2.4z" fill="#fa340d" class="s1"/>
<path d="M372.4,146.7l9,-3.2 -8,1.4 -9,3.1z" fill="#fa3f0d" class="s2"/>
<path d="M734.2,172.9l7.7,3.8 -9.1,-3 -7.8,-3.8z" fill="#fa800d" class="s2"/>
<path d="M286.1,180.8l9.2,-5.6 -7.6,2.2 -9.2,5.5z" fill="#fa900d" class="s3"/>
<path d="M329.2,161.6l9.1,-4.4 -7.8,1.8 -9.1,4.3z" fill="#fa620d" class="s3"/>
<path d="M613.6,137.9l8.3,1.9 -8.8,-1.3 -8.3,-2z" fill="#fa2a0d" class="s0"/>
<path d="M389.5,142.3l9,-2.8 -8.1,1.2 -9,2.8z" fill="#fa330d" class="s2"/>
<path d="M803.2,203l7.5,4.5 -9.3,-3.9 -7.4,-4.6z" fill="#fac80d" class="s2"/>
<path d="M674,152.5l8,2.8 -9,-2.2 -8,-2.9z" fill="#fa4d0d" class="s1"/>
<path d="M596.4,134.9l8.4,1.6 -8.8,-1.2 -8.4,-1.7z" fill="#fa220d" class="s0"/>
<path d="M406.6,138.5l9,-2.5 -8.1,1.1 -9,2.4z" fill="#fa2a0d" class="s2"/>
<path d="M760.3,183.4l7.6,3.9 -9.2,-3.4 -7.6,-4z" fill="#fa980d" class="s2"/>
<path d="M717.2,166.5l7.8,3.4 -9.1,-2.8 -7.8,-3.5z" fill="#fa6f0d" class="s1"/>
<path d="M346.2,155.6l9.1,-4 -7.9,1.6 -9.1,4z" fill="#fa520d" class="s3"/>
<path d="M303,173.3l9.2,-5.2 -7.7,2 -9.2,5.1z" fill="#fa7c0d" class="s3"/>
<path d="M579.2,132.4l8.4,1.2 -8.7,-1 -8.5,-1.3z" fill="#fa1b0d" class="s0"/>
<path d="M423.8,135.3l9,-2.1 -8.2,0.8 -9,2z" fill="#fa210d" class="s1"/>
<path d="M656.9,147.7l8.1,2.5 -9,-2 -8.1,-2.6z" fill="#fa400d" class="s1"/>
<path d="M561.9,130.5l8.5,0.8 -8.6,-0.8 -8.6,-0.9z" fill="#fa160d" class="s0"/>
<path d="M441,132.7l9,-1.7 -8.3,0.6 -8.9,1.6z" fill="#fa1a0d" class="s1"/>
<path d="M786.4,194.8l7.6,4.2 -9.3,-3.8 -7.5,-4.3z" fill="#fab20d" class="s2"/>
<path d="M363.3,150.3l9.1,-3.6 -8,1.3 -9.1,3.6z" fill="#fa440d" class="s3"/>
<path d="M276.9,186.9l9.2,-6.1 -7.6,2.1 -9.2,6z" fill="#fa9c0d" class="s4"/>
<path d="M544.7,129.1l8.5,0.5 -8.6,-0.6 -8.6,-0.6z" fill="#fa120d" class="s0"/>
<path d="M458.3,130.6l8.9,-1.3 -8.4,0.4 -8.8,1.3z" fill="#fa150d" class="s1"/>
<path d="M700.1,160.5l8,3.1 -9.1,-2.6 -7.9,-3.2z" fill="#fa5e0d" class="s1"/>
<path d="M743.4,176.2l7.7,3.7 -9.2,-3.2 -7.7,-3.8z" fill="#fa840d" class="s1"/>
<path d="M639.7,143.4l8.2,2.2 -8.9,-1.8 -8.2,-2.3z" fill="#fa350d" class="s0"/>
<path d="M527.4,128.3l8.6,0.1 -8.5,-0.4 -8.7,-0.2z" fill="#fa100d" class="s0"/>
<path d="M475.6,129.2l8.8,-1 -8.4,0.2 -8.8,0.9z" fill="#fa110d" class="s1"/>
<path d="M510.1,128l8.7,-0.2 -8.5,-0.2 -8.7,0.1z" fill="#fa0f0d" class="s0"/>
<path d="M492.8,128.3l8.8,-0.6 -8.5,0 -8.7,0.5z" fill="#fa0f0d" class="s0"/>
<path d="M320,166.4l9.2,-4.8 -7.8,1.7 -9.2,4.8z" fill="#fa6a0d" class="s3"/>
<path d="M812.6,207.2l7.4,4.4 -9.3,-4.1 -7.5,-4.5z" fill="#facf0d" class="s1"/>
<path d="M380.4,145.6l9.1,-3.3 -8.1,1.2 -9,3.2z" fill="#fa380d" class="s2"/>
<path d="M622.5,139.7l8.3,1.8 -8.9,-1.7 -8.3,-1.9z" fill="#fa2b0d" class="s0"/>
<path d="M683,155l8.1,2.8 -9.1,-2.5 -8,-2.8z" fill="#fa500d" class="s0"/>
<path d="M769.5,187.1l7.7,3.8 -9.3,-3.6 -7.6,-3.9z" fill="#fa9d0d" class="s1"/>
<path d="M293.8,179l9.2,-5.7 -7.7,1.9 -9.2,5.6z" fill="#fa870d" class="s4"/>
<path d="M726.3,169.6l7.9,3.3 -9.2,-3 -7.8,-3.4z" fill="#fa720d" class="s1"/>
<path d="M337.1,160.1l9.1,-4.5 -7.9,1.6 -9.1,4.4z" fill="#fa590d" class="s3"/>
<path d="M397.6,141.4l9,-2.9 -8.1,1 -9,2.8z" fill="#fa2d0d" class="s2"/>
<path d="M605.2,136.5l8.4,1.4 -8.8,-1.4 -8.4,-1.6z" fill="#fa220d" class="s0"/>
<path d="M267.7,193.4l9.2,-6.5 -7.6,2 -9.2,6.4z" fill="#faa80d" class="s4"/>
<path d="M414.8,137.8l9,-2.5 -8.2,0.7 -9,2.5z" fill="#fa230d" class="s2"/>
<path d="M665.9,150.1l8.1,2.4 -9,-2.3 -8.1,-2.5z" fill="#fa420d" class="s0"/>
<path d="M588,133.8l8.4,1.1 -8.8,-1.3 -8.4,-1.2z" fill="#fa1b0d" class="s0"/>
<path d="M795.7,198.9l7.5,4.1 -9.2,-4 -7.6,-4.2z" fill="#fab80d" class="s1"/>
<path d="M354.2,154.4l9.1,-4.1 -8,1.3 -9.1,4z" fill="#fa4a0d" class="s3"/>
<path d="M432.1,134.8l8.9,-2.1 -8.2,0.5 -9,2.1z" fill="#fa1c0d" class="s2"/>
<path d="M570.7,131.7l8.5,0.7 -8.8,-1.1 -8.5,-0.8z" fill="#fa150d" class="s0"/>
<path d="M310.8,171.7l9.2,-5.3 -7.8,1.7 -9.2,5.2z" fill="#fa730d" class="s4"/>
<path d="M709.3,163.5l7.9,3 -9.1,-2.9 -8,-3.1z" fill="#fa620d" class="s0"/>
<path d="M752.6,179.8l7.7,3.6 -9.2,-3.5 -7.7,-3.7z" fill="#fa890d" class="s1"/>
<path d="M449.4,132.4l8.9,-1.8 -8.3,0.4 -9,1.7z" fill="#fa150d" class="s2"/>
<path d="M648.7,145.6l8.2,2.1 -9,-2.1 -8.2,-2.2z" fill="#fa360d" class="s0"/>
<path d="M553.4,130.1l8.5,0.4 -8.7,-0.9 -8.5,-0.5z" fill="#fa100d" class="s0"/>
<path d="M821.9,211.7l7.4,4.3 -9.3,-4.4 -7.4,-4.4z" fill="#fad60d" class="s1"/>
<path d="M466.7,130.6l8.9,-1.4 -8.4,0.1 -8.9,1.3z" fill="#fa110d" class="s2"/>
<path d="M536,129l8.7,0.1 -8.7,-0.7 -8.6,-0.1z" fill="#fa0d0d" class="s0"/>
<path d="M371.3,149.3l9.1,-3.7 -8,1.1 -9.1,3.6z" fill="#fa3d0d" class="s3"/>
<path d="M484,129.4l8.8,-1.1 -8.4,-0.1 -8.8,1z" fill="#fa0e0d" class="s1"/>
<path d="M518.7,128.6l8.7,-0.3 -8.6,-0.5 -8.7,0.2z" fill="#fa0c0d" class="s1"/>
<path d="M501.4,128.7l8.7,-0.7 -8.5,-0.3 -8.8,0.6z" fill="#fa0c0d" class="s1"/>
<path d="M284.6,185.2l9.2,-6.2 -7.7,1.8 -9.2,6.1z" fill="#fa920d" class="s4"/>
<path d="M631.4,141.7l8.3,1.7 -8.9,-1.9 -8.3,-1.8z" fill="#fa2b0d" class="s0"/>
<path d="M692.1,157.8l8,2.7 -9,-2.7 -8.1,-2.8z" fill="#fa530d" class="s0"/>
<path d="M778.8,191l7.6,3.8 -9.2,-3.9 -7.7,-3.8z" fill="#faa30d" class="s1"/>
<path d="M327.9,165.1l9.2,-5 -7.9,1.5 -9.2,4.8z" fill="#fa620d" class="s4"/>
<path d="M258.5,200.3l9.2,-6.9 -7.6,1.9 -9.2,6.9z" fill="#fab60d"/>
<path d="M735.5,173l7.9,3.2 -9.2,-3.3 -7.9,-3.3z" fill="#fa770d" class="s0"/>
<path d="M388.5,144.7l9.1,-3.3 -8.1,0.9 -9.1,3.3z" fill="#fa310d" class="s3"/>
<path d="M614.1,138.3l8.4,1.4 -8.9,-1.8 -8.4,-1.4z" fill="#fa220d" class="s0"/>
<path d="M805.1,203.2l7.5,4 -9.4,-4.2 -7.5,-4.1z" fill="#fabf0d" class="s0"/>
<path d="M405.8,140.8l9,-3 -8.2,0.7 -9,2.9z" fill="#fa270d" class="s3"/>
<path d="M674.9,152.7l8.1,2.3 -9,-2.5 -8.1,-2.4z" fill="#fa450d" class="s0"/>
<path d="M301.6,177.5l9.2,-5.8 -7.8,1.6 -9.2,5.7z" fill="#fa7e0d" class="s4"/>
<path d="M345,159l9.2,-4.6 -8,1.2 -9.1,4.5z" fill="#fa520d" class="s4"/>
<path d="M596.8,135.4l8.4,1.1 -8.8,-1.6 -8.4,-1.1z" fill="#fa1a0d" class="s0"/>
<path d="M761.8,183.6l7.7,3.5 -9.2,-3.7 -7.7,-3.6z" fill="#fa8f0d" class="s0"/>
<path d="M718.4,166.7l7.9,2.9 -9.1,-3.1 -7.9,-3z" fill="#fa660d" class="s0"/>
<path d="M423.1,137.4l9,-2.6 -8.3,0.5 -9,2.5z" fill="#fa1e0d" class="s3"/>
<path d="M831.3,216.5l7.4,4.2 -9.4,-4.7 -7.4,-4.3z" fill="#fade0d" class="s0"/>
<path d="M579.5,133.1l8.5,0.7 -8.8,-1.4 -8.5,-0.7z" fill="#fa140d" class="s0"/>
<path d="M275.4,191.7l9.2,-6.5 -7.7,1.7 -9.2,6.5z" fill="#fa9f0d"/>
<path d="M657.7,148.1l8.2,2 -9,-2.4 -8.2,-2.1z" fill="#fa380d" class="s0"/>
<path d="M440.4,134.6l9,-2.2 -8.4,0.3 -8.9,2.1z" fill="#fa170d" class="s2"/>
<path d="M362.2,153.5l9.1,-4.2 -8,1 -9.1,4.1z" fill="#fa430d" class="s4"/>
<path d="M562.1,131.3l8.6,0.4 -8.8,-1.2 -8.5,-0.4z" fill="#fa0f0d" class="s1"/>
<path d="M249.2,207.8l9.3,-7.5 -7.6,1.9 -9.3,7.3z" fill="#fac40d"/>
<path d="M318.7,170.4l9.2,-5.3 -7.9,1.3 -9.2,5.3z" fill="#fa6b0d" class="s4"/>
<path d="M457.8,132.5l8.9,-1.9 -8.4,0 -8.9,1.8z" fill="#fa110d" class="s2"/>
<path d="M544.7,130.1l8.7,0 -8.7,-1 -8.7,-0.1z" fill="#fa0c0d" class="s1"/>
<path d="M788.2,195.2l7.5,3.7 -9.3,-4.1 -7.6,-3.8z" fill="#faa90d" class="s0"/>
<path d="M475.2,130.8l8.8,-1.4 -8.4,-0.2 -8.9,1.4z" fill="#fa0d0d" class="s2"/>
<path d="M527.3,129.4l8.7,-0.4 -8.6,-0.7 -8.7,0.3z" fill="#fa0a0d" class="s1"/>
<path d="M701.3,160.9l8,2.6 -9.2,-3 -8,-2.7z" fill="#fa560d" class="s0"/>
<path d="M492.5,129.8l8.9,-1.1 -8.6,-0.4 -8.8,1.1z" fill="#fa0a0d" class="s2"/>
<path d="M509.9,129.3l8.8,-0.7 -8.6,-0.6 -8.7,0.7z" fill="#fa090d" class="s2"/>
<path d="M640.4,143.9l8.3,1.7 -9,-2.2 -8.3,-1.7z" fill="#fa2d0d" class="s0"/>
<path d="M744.8,176.6l7.8,3.2 -9.2,-3.6 -7.9,-3.2z" fill="#fa7c0d" class="s0"/>
<path d="M379.4,148.5l9.1,-3.8 -8.1,0.9 -9.1,3.7z" fill="#fa360d" class="s3"/>
<path d="M292.4,183.7l9.2,-6.2 -7.8,1.5 -9.2,6.2z" fill="#fa890d"/>
<path d="M814.5,207.8l7.4,3.9 -9.3,-4.5 -7.5,-4z" fill="#fac60d" class="s0"/>
<path d="M335.8,164l9.2,-5 -7.9,1.1 -9.2,5z" fill="#fa5a0d" class="s4"/>
<path d="M623.1,140.4l8.3,1.3 -8.9,-2 -8.4,-1.4z" fill="#fa230d" class="s0"/>
<path d="M396.7,144.2l9.1,-3.4 -8.2,0.6 -9.1,3.3z" fill="#fa2b0d" class="s3"/>
<path d="M684,155.6l8.1,2.2 -9.1,-2.8 -8.1,-2.3z" fill="#fa480d" class="s0"/>
<path d="M266.1,198.8l9.3,-7.1 -7.7,1.7 -9.2,6.9z" fill="#faac0d"/>
<path d="M840.8,221.4l7.3,4.1 -9.4,-4.8 -7.4,-4.2z" fill="#fae60d" class="s0"/>
<path d="M771.1,187.6l7.7,3.4 -9.3,-3.9 -7.7,-3.5z" fill="#fa950d" class="s0"/>
<path d="M239.9,215.6l9.3,-7.8 -7.6,1.7 -9.2,7.8z" fill="#fad40d"/>
<path d="M727.6,170.2l7.9,2.8 -9.2,-3.4 -7.9,-2.9z" fill="#fa6a0d" class="s0"/>
<path d="M605.7,137.3l8.4,1 -8.9,-1.8 -8.4,-1.1z" fill="#fa1b0d" class="s1"/>
<path d="M414.1,140.5l9,-3.1 -8.3,0.4 -9,3z" fill="#fa210d" class="s3"/>
<path d="M353,158.1l9.2,-4.6 -8,0.9 -9.2,4.6z" fill="#fa4b0d" class="s4"/>
<path d="M309.5,176.3l9.2,-5.9 -7.9,1.3 -9.2,5.8z" fill="#fa760d"/>
<path d="M666.8,150.8l8.1,1.9 -9,-2.6 -8.2,-2z" fill="#fa3b0d" class="s0"/>
<path d="M588.3,134.8l8.5,0.6 -8.8,-1.6 -8.5,-0.7z" fill="#fa140d" class="s1"/>
<path d="M431.4,137.3l9,-2.7 -8.3,0.2 -9,2.6z" fill="#fa190d" class="s3"/>
<path d="M797.5,199.7l7.6,3.5 -9.4,-4.3 -7.5,-3.7z" fill="#fab00d" class="s0"/>
<path d="M570.9,132.8l8.6,0.3 -8.8,-1.4 -8.6,-0.4z" fill="#fa0f0d" class="s1"/>
<path d="M448.8,134.8l9,-2.3 -8.4,-0.1 -9,2.2z" fill="#fa130d" class="s3"/>
<path d="M710.4,164.2l8,2.5 -9.1,-3.2 -8,-2.6z" fill="#fa5a0d" class="s0"/>
<path d="M283.1,190.4l9.3,-6.7 -7.8,1.5 -9.2,6.5z" fill="#fa960d"/>
<path d="M754,180.5l7.8,3.1 -9.2,-3.8 -7.8,-3.2z" fill="#fa820d" class="s0"/>
<path d="M370.3,152.8l9.1,-4.3 -8.1,0.8 -9.1,4.2z" fill="#fa3d0d" class="s4"/>
<path d="M553.5,131.4l8.6,-0.1 -8.7,-1.2 -8.7,0z" fill="#fa0b0d" class="s2"/>
<path d="M466.2,132.8l9,-2 -8.5,-0.2 -8.9,1.9z" fill="#fa0e0d" class="s3"/>
<path d="M649.4,146.5l8.3,1.6 -9,-2.5 -8.3,-1.7z" fill="#fa2f0d" class="s1"/>
<path d="M823.9,212.7l7.4,3.8 -9.4,-4.8 -7.4,-3.9z" fill="#face0d" class="s0"/>
<path d="M536,130.6l8.7,-0.5 -8.7,-1.1 -8.7,0.4z" fill="#fa090d" class="s2"/>
<path d="M483.7,131.4l8.8,-1.6 -8.5,-0.4 -8.8,1.4z" fill="#fa0a0d" class="s3"/>
<path d="M256.8,206.3l9.3,-7.5 -7.6,1.5 -9.3,7.5z" fill="#fabb0d"/>
<path d="M326.6,169.4l9.2,-5.4 -7.9,1.1 -9.2,5.3z" fill="#fa640d"/>
<path d="M518.6,130.3l8.7,-0.9 -8.6,-0.8 -8.8,0.7z" fill="#fa080d" class="s2"/>
<path d="M501.1,130.5l8.8,-1.2 -8.5,-0.6 -8.9,1.1z" fill="#fa080d" class="s2"/>
<path d="M230.6,224l9.3,-8.4 -7.5,1.7 -9.3,8.3z" fill="#fae50d"/>
<path d="M850.3,226.6l7.3,4 -9.5,-5.1 -7.3,-4.1z" fill="#faef0d" class="s0"/>
<path d="M387.6,148.1l9.1,-3.9 -8.2,0.5 -9.1,3.8z" fill="#fa310d" class="s4"/>
<path d="M632.1,142.7l8.3,1.2 -9,-2.2 -8.3,-1.3z" fill="#fa250d" class="s1"/>
<path d="M693.2,158.7l8.1,2.2 -9.2,-3.1 -8.1,-2.2z" fill="#fa4c0d" class="s0"/>
<path d="M780.5,191.9l7.7,3.3 -9.4,-4.2 -7.7,-3.4z" fill="#fa9b0d" class="s0"/>
<path d="M736.9,173.9l7.9,2.7 -9.3,-3.6 -7.9,-2.8z" fill="#fa700d" class="s0"/>
<path d="M300.2,182.6l9.3,-6.3 -7.9,1.2 -9.2,6.2z" fill="#fa820d"/>
<path d="M343.8,163.2l9.2,-5.1 -8,0.9 -9.2,5z" fill="#fa530d"/>
<path d="M405,144l9.1,-3.5 -8.3,0.3 -9.1,3.4z" fill="#fa260d" class="s4"/>
<path d="M614.7,139.5l8.4,0.9 -9,-2.1 -8.4,-1z" fill="#fa1c0d" class="s1"/>
<path d="M806.9,204.4l7.6,3.4 -9.4,-4.6 -7.6,-3.5z" fill="#fab80d" class="s0"/>
<path d="M273.8,197.5l9.3,-7.1 -7.7,1.3 -9.3,7.1z" fill="#faa40d"/>
<path d="M675.9,153.7l8.1,1.9 -9.1,-2.9 -8.1,-1.9z" fill="#fa3e0d" class="s1"/>
<path d="M422.4,140.5l9,-3.2 -8.3,0.1 -9,3.1z" fill="#fa1d0d" class="s4"/>
<path d="M221.3,232.7l9.3,-8.7 -7.5,1.6 -9.3,8.6z" fill="#f7f50d"/>
<path d="M597.2,136.8l8.5,0.5 -8.9,-1.9 -8.5,-0.6z" fill="#fa150d" class="s2"/>
<path d="M247.5,214.2l9.3,-7.9 -7.6,1.5 -9.3,7.8z" fill="#facb0d"/>
<path d="M763.4,184.7l7.7,2.9 -9.3,-4 -7.8,-3.1z" fill="#fa880d" class="s0"/>
<path d="M361.1,157.5l9.2,-4.7 -8.1,0.7 -9.2,4.6z" fill="#fa450d"/>
<path d="M719.7,167.8l7.9,2.4 -9.2,-3.5 -8,-2.5z" fill="#fa5f0d" class="s1"/>
<path d="M833.3,217.8l7.5,3.6 -9.5,-4.9 -7.4,-3.8z" fill="#fad70d" class="s0"/>
<path d="M317.4,175.4l9.2,-6 -7.9,1 -9.2,5.9z" fill="#fa6f0d"/>
<path d="M439.8,137.5l9,-2.7 -8.4,-0.2 -9,2.7z" fill="#fa150d" class="s4"/>
<path d="M579.8,134.6l8.5,0.2 -8.8,-1.7 -8.6,-0.3z" fill="#fa0f0d" class="s2"/>
<path d="M658.5,149.3l8.3,1.5 -9.1,-2.7 -8.3,-1.6z" fill="#fa320d" class="s1"/>
<path d="M562.3,133l8.6,-0.2 -8.8,-1.5 -8.6,0.1z" fill="#fa0b0d" class="s2"/>
<path d="M457.3,135.2l8.9,-2.4 -8.4,-0.3 -9,2.3z" fill="#fa0f0d" class="s3"/>
<path d="M859.8,232.1l7.3,3.9 -9.5,-5.4 -7.3,-4z" fill="#f7f50d" class="s0"/>
<path d="M544.8,132l8.7,-0.6 -8.8,-1.3 -8.7,0.5z" fill="#fa080d" class="s2"/>
<path d="M474.8,133.4l8.9,-2 -8.5,-0.6 -9,2z" fill="#fa0b0d" class="s3"/>
<path d="M378.5,152.4l9.1,-4.3 -8.2,0.4 -9.1,4.3z" fill="#fa370d" class="s4"/>
<path d="M290.9,189.3l9.3,-6.7 -7.8,1.1 -9.3,6.7z" fill="#fa8f0d"/>
<path d="M527.3,131.5l8.7,-0.9 -8.7,-1.2 -8.7,0.9z" fill="#fa080d" class="s3"/>
<path d="M492.2,132.2l8.9,-1.7 -8.6,-0.7 -8.8,1.6z" fill="#fa080d" class="s3"/>
<path d="M789.9,196.5l7.6,3.2 -9.3,-4.5 -7.7,-3.3z" fill="#faa30d" class="s0"/>
<path d="M509.8,131.5l8.8,-1.2 -8.7,-1 -8.8,1.2z" fill="#fa080d" class="s3"/>
<path d="M702.4,162.1l8,2.1 -9.1,-3.3 -8.1,-2.2z" fill="#fa500d" class="s1"/>
<path d="M641.1,145.3l8.3,1.2 -9,-2.6 -8.3,-1.2z" fill="#fa280d" class="s2"/>
<path d="M212,242l9.3,-9.3 -7.5,1.5 -9.2,9.2z" fill="#e4f50d"/>
<path d="M334.6,168.7l9.2,-5.5 -8,0.8 -9.2,5.4z" fill="#fa5d0d"/>
<path d="M746.2,177.9l7.8,2.6 -9.2,-3.9 -7.9,-2.7z" fill="#fa760d" class="s1"/>
<path d="M264.5,205.1l9.3,-7.6 -7.7,1.3 -9.3,7.5z" fill="#fab30d"/>
<path d="M238.2,222.7l9.3,-8.5 -7.6,1.4 -9.3,8.4z" fill="#fadc0d"/>
<path d="M395.9,148l9.1,-4 -8.3,0.2 -9.1,3.9z" fill="#fa2c0d" class="s4"/>
<path d="M816.4,209.3l7.5,3.4 -9.4,-4.9 -7.6,-3.4z" fill="#fac00d" class="s0"/>
<path d="M623.6,141.9l8.5,0.8 -9,-2.3 -8.4,-0.9z" fill="#fa1e0d" class="s2"/>
<path d="M685,157l8.2,1.7 -9.2,-3.1 -8.1,-1.9z" fill="#fa420d" class="s1"/>
<path d="M308.1,181.8l9.3,-6.4 -7.9,0.9 -9.3,6.3z" fill="#fa7b0d"/>
<path d="M413.3,144l9.1,-3.5 -8.3,0 -9.1,3.5z" fill="#fa220d" class="s4"/>
<path d="M351.9,162.7l9.2,-5.2 -8.1,0.6 -9.2,5.1z" fill="#fa4d0d"/>
<path d="M842.8,223.1l7.5,3.5 -9.5,-5.2 -7.5,-3.6z" fill="#fae00d" class="s0"/>
<path d="M772.7,189.1l7.8,2.8 -9.4,-4.3 -7.7,-2.9z" fill="#fa8f0d" class="s1"/>
<path d="M606.2,139l8.5,0.5 -9,-2.2 -8.5,-0.5z" fill="#fa170d" class="s2"/>
<path d="M728.9,171.6l8,2.3 -9.3,-3.7 -7.9,-2.4z" fill="#fa650d" class="s1"/>
<path d="M202.7,251.7l9.3,-9.7 -7.4,1.4 -9.3,9.6z" fill="#cff50d"/>
<path d="M430.8,140.7l9,-3.2 -8.4,-0.2 -9,3.2z" fill="#fa190d" class="s4"/>
<path d="M869.3,237.8l7.3,3.7 -9.5,-5.5 -7.3,-3.9z" fill="#ecf50d" class="s0"/>
<path d="M281.6,196.6l9.3,-7.3 -7.8,1.1 -9.3,7.1z" fill="#fa9d0d"/>
<path d="M588.7,136.7l8.5,0.1 -8.9,-2 -8.5,-0.2z" fill="#fa100d" class="s2"/>
<path d="M667.6,152.4l8.3,1.3 -9.1,-2.9 -8.3,-1.5z" fill="#fa360d" class="s2"/>
<path d="M228.9,231.5l9.3,-8.8 -7.6,1.3 -9.3,8.7z" fill="#faef0d"/>
<path d="M255.2,213.2l9.3,-8.1 -7.7,1.2 -9.3,7.9z" fill="#fac30d"/>
<path d="M448.3,138l9,-2.8 -8.5,-0.4 -9,2.7z" fill="#fa120d" class="s4"/>
<path d="M369.3,157.2l9.2,-4.8 -8.2,0.4 -9.2,4.7z" fill="#fa3f0d"/>
<path d="M799.3,201.3l7.6,3.1 -9.4,-4.7 -7.6,-3.2z" fill="#faaa0d" class="s1"/>
<path d="M571.1,134.9l8.7,-0.3 -8.9,-1.8 -8.6,0.2z" fill="#fa0b0d" class="s3"/>
<path d="M325.4,174.8l9.2,-6.1 -8,0.7 -9.2,6z" fill="#fa680d"/>
<path d="M465.8,135.8l9,-2.4 -8.6,-0.6 -8.9,2.4z" fill="#fa0d0d" class="s4"/>
<path d="M553.6,133.6l8.7,-0.6 -8.8,-1.6 -8.7,0.6z" fill="#fa080d" class="s3"/>
<path d="M711.6,165.8l8.1,2 -9.3,-3.6 -8,-2.1z" fill="#fa550d" class="s2"/>
<path d="M755.5,182.2l7.9,2.5 -9.4,-4.2 -7.8,-2.6z" fill="#fa7c0d" class="s1"/>
<path d="M483.3,134.3l8.9,-2.1 -8.5,-0.8 -8.9,2z" fill="#fa090d" class="s4"/>
<path d="M536,133l8.8,-1 -8.8,-1.4 -8.7,0.9z" fill="#fa080d" class="s3"/>
<path d="M650.2,148.2l8.3,1.1 -9.1,-2.8 -8.3,-1.2z" fill="#fa2b0d" class="s2"/>
<path d="M500.9,133.3l8.9,-1.8 -8.7,-1 -8.9,1.7z" fill="#fa080d" class="s4"/>
<path d="M518.4,132.8l8.9,-1.3 -8.7,-1.2 -8.8,1.2z" fill="#fa080d" class="s3"/>
<path d="M825.8,214.5l7.5,3.3 -9.4,-5.1 -7.5,-3.4z" fill="#fac90d" class="s1"/>
<path d="M386.7,152.4l9.2,-4.4 -8.3,0.1 -9.1,4.3z" fill="#fa330d"/>
<path d="M193.4,261.8l9.3,-10.1 -7.4,1.3 -9.3,10z" fill="#b9f50d"/>
<path d="M298.8,188.6l9.3,-6.8 -7.9,0.8 -9.3,6.7z" fill="#fa880d"/>
<path d="M342.7,168.3l9.2,-5.6 -8.1,0.5 -9.2,5.5z" fill="#fa580d"/>
<path d="M632.7,144.6l8.4,0.7 -9,-2.6 -8.5,-0.8z" fill="#fa210d" class="s2"/>
<path d="M852.4,228.6l7.4,3.5 -9.5,-5.5 -7.5,-3.5z" fill="#fae90d" class="s1"/>
<path d="M694.2,160.5l8.2,1.6 -9.2,-3.4 -8.2,-1.7z" fill="#fa470d" class="s2"/>
<path d="M219.6,240.9l9.3,-9.4 -7.6,1.2 -9.3,9.3z" fill="#ecf50d"/>
<path d="M782.1,193.8l7.8,2.7 -9.4,-4.6 -7.8,-2.8z" fill="#fa960d" class="s1"/>
<path d="M272.3,204.3l9.3,-7.7 -7.8,0.9 -9.3,7.6z" fill="#faac0d"/>
<path d="M404.2,148.1l9.1,-4.1 -8.3,0 -9.1,4z" fill="#fa280d"/>
<path d="M245.9,221.7l9.3,-8.5 -7.7,1 -9.3,8.5z" fill="#fad50d"/>
<path d="M738.2,175.7l8,2.2 -9.3,-4 -8,-2.3z" fill="#fa6b0d" class="s2"/>
<path d="M878.9,243.7l7.2,3.6 -9.5,-5.8 -7.3,-3.7z" fill="#e2f50d" class="s1"/>
<path d="M615.2,141.6l8.4,0.3 -8.9,-2.4 -8.5,-0.5z" fill="#fa190d" class="s3"/>
<path d="M421.7,144.4l9.1,-3.7 -8.4,-0.2 -9.1,3.5z" fill="#fa1e0d"/>
<path d="M316.1,181.2l9.3,-6.4 -8,0.6 -9.3,6.4z" fill="#fa740d"/>
<path d="M360.1,162.5l9.2,-5.3 -8.2,0.3 -9.2,5.2z" fill="#fa480d"/>
<path d="M808.7,206.4l7.7,2.9 -9.5,-4.9 -7.6,-3.1z" fill="#fab30d" class="s1"/>
<path d="M676.8,155.7l8.2,1.3 -9.1,-3.3 -8.3,-1.3z" fill="#fa3a0d" class="s2"/>
<path d="M597.6,139l8.6,0 -9,-2.2 -8.5,-0.1z" fill="#fa120d" class="s3"/>
<path d="M439.2,141.3l9.1,-3.3 -8.5,-0.5 -9,3.2z" fill="#fa160d"/>
<path d="M764.9,186.7l7.8,2.4 -9.3,-4.4 -7.9,-2.5z" fill="#fa830d" class="s2"/>
<path d="M720.9,169.7l8,1.9 -9.2,-3.8 -8.1,-2z" fill="#fa5b0d" class="s2"/>
<path d="M580,137.1l8.7,-0.4 -8.9,-2.1 -8.7,0.3z" fill="#fa0d0d" class="s3"/>
<path d="M289.5,195.9l9.3,-7.3 -7.9,0.7 -9.3,7.3z" fill="#fa960d"/>
<path d="M210.3,250.7l9.3,-9.8 -7.6,1.1 -9.3,9.7z" fill="#d7f50d"/>
<path d="M835.3,219.9l7.5,3.2 -9.5,-5.3 -7.5,-3.3z" fill="#fad20d" class="s1"/>
<path d="M456.8,138.8l9,-3 -8.5,-0.6 -9,2.8z" fill="#fa100d" class="s4"/>
<path d="M377.5,157.3l9.2,-4.9 -8.2,0 -9.2,4.8z" fill="#fa3b0d"/>
<path d="M659.3,151.4l8.3,1 -9.1,-3.1 -8.3,-1.1z" fill="#fa2f0d" class="s3"/>
<path d="M562.4,135.6l8.7,-0.7 -8.8,-1.9 -8.7,0.6z" fill="#fa090d" class="s3"/>
<path d="M263,212.4l9.3,-8.1 -7.8,0.8 -9.3,8.1z" fill="#fabc0d"/>
<path d="M236.6,230.6l9.3,-8.9 -7.7,1 -9.3,8.8z" fill="#fae70d"/>
<path d="M474.4,136.8l8.9,-2.5 -8.5,-0.9 -9,2.4z" fill="#fa0b0d" class="s4"/>
<path d="M544.8,134.7l8.8,-1.1 -8.8,-1.6 -8.8,1z" fill="#fa080d" class="s4"/>
<path d="M333.4,174.4l9.3,-6.1 -8.1,0.4 -9.2,6.1z" fill="#fa630d"/>
<path d="M861.9,234.4l7.4,3.4 -9.5,-5.7 -7.4,-3.5z" fill="#faf40d" class="s1"/>
<path d="M492,135.4l8.9,-2.1 -8.7,-1.1 -8.9,2.1z" fill="#fa080d" class="s4"/>
<path d="M527.2,134.4l8.8,-1.4 -8.7,-1.5 -8.9,1.3z" fill="#fa080d" class="s4"/>
<path d="M509.6,134.6l8.8,-1.8 -8.6,-1.3 -8.9,1.8z" fill="#fa080d" class="s4"/>
<path d="M791.5,198.7l7.8,2.6 -9.4,-4.8 -7.8,-2.7z" fill="#fa9e0d" class="s2"/>
<path d="M703.5,164.3l8.1,1.5 -9.2,-3.7 -8.2,-1.6z" fill="#fa4c0d" class="s2"/>
<path d="M641.8,147.6l8.4,0.6 -9.1,-2.9 -8.4,-0.7z" fill="#fa250d" class="s3"/>
<path d="M395,152.6l9.2,-4.5 -8.3,-0.1 -9.2,4.4z" fill="#fa2f0d"/>
<path d="M747.6,180.1l7.9,2.1 -9.3,-4.3 -8,-2.2z" fill="#fa720d" class="s2"/>
<path d="M306.8,188.2l9.3,-7 -8,0.6 -9.3,6.8z" fill="#fa820d"/>
<path d="M201,260.9l9.3,-10.2 -7.6,1 -9.3,10.1z" fill="#c1f50d"/>
<path d="M350.8,168.2l9.3,-5.7 -8.2,0.2 -9.2,5.6z" fill="#fa530d"/>
<path d="M818.2,211.7l7.6,2.8 -9.4,-5.2 -7.7,-2.9z" fill="#fabc0d" class="s2"/>
<path d="M624.2,144.4l8.5,0.2 -9.1,-2.7 -8.4,-0.3z" fill="#fa1c0d" class="s3"/>
<path d="M412.5,148.5l9.2,-4.1 -8.4,-0.4 -9.1,4.1z" fill="#fa240d"/>
<path d="M280.2,203.7l9.3,-7.8 -7.9,0.7 -9.3,7.7z" fill="#faa50d"/>
<path d="M227.3,240.1l9.3,-9.5 -7.7,0.9 -9.3,9.4z" fill="#f4f50d"/>
<path d="M686,159.3l8.2,1.2 -9.2,-3.5 -8.2,-1.3z" fill="#fa3f0d" class="s3"/>
<path d="M253.7,221l9.3,-8.6 -7.8,0.8 -9.3,8.5z" fill="#face0d"/>
<path d="M606.6,141.7l8.6,-0.1 -9,-2.6 -8.6,0z" fill="#fa150d" class="s3"/>
<path d="M844.9,225.6l7.5,3 -9.6,-5.5 -7.5,-3.2z" fill="#fadc0d" class="s2"/>
<path d="M774.3,191.4l7.8,2.4 -9.4,-4.7 -7.8,-2.4z" fill="#fa8b0d" class="s2"/>
<path d="M430.1,145.1l9.1,-3.8 -8.4,-0.6 -9.1,3.7z" fill="#fa1b0d"/>
<path d="M730.2,173.9l8,1.8 -9.3,-4.1 -8,-1.9z" fill="#fa610d" class="s2"/>
<path d="M368.3,162.6l9.2,-5.3 -8.2,-0.1 -9.2,5.3z" fill="#fa440d"/>
<path d="M324.1,181l9.3,-6.6 -8,0.4 -9.3,6.4z" fill="#fa6f0d"/>
<path d="M589,139.5l8.6,-0.5 -8.9,-2.3 -8.7,0.4z" fill="#fa0f0d" class="s4"/>
<path d="M871.5,240.5l7.4,3.2 -9.6,-5.9 -7.4,-3.4z" fill="#f0f50d" class="s2"/>
<path d="M447.7,142.2l9.1,-3.4 -8.5,-0.8 -9.1,3.3z" fill="#fa140d"/>
<path d="M668.5,154.8l8.3,0.9 -9.2,-3.3 -8.3,-1z" fill="#fa330d" class="s3"/>
<path d="M571.3,137.9l8.7,-0.8 -8.9,-2.2 -8.7,0.7z" fill="#fa0a0d" class="s4"/>
<path d="M465.3,139.8l9.1,-3 -8.6,-1 -9,3z" fill="#fa0e0d"/>
<path d="M801,203.8l7.7,2.6 -9.4,-5.1 -7.8,-2.6z" fill="#faa70d" class="s2"/>
<path d="M297.5,195.6l9.3,-7.4 -8,0.4 -9.3,7.3z" fill="#fa900d"/>
<path d="M553.7,136.8l8.7,-1.2 -8.8,-2 -8.8,1.1z" fill="#fa080d" class="s4"/>
<path d="M483,138.1l9,-2.7 -8.7,-1.1 -8.9,2.5z" fill="#fa0a0d"/>
<path d="M385.8,157.6l9.2,-5 -8.3,-0.2 -9.2,4.9z" fill="#fa370d"/>
<path d="M217.9,250l9.4,-9.9 -7.7,0.8 -9.3,9.8z" fill="#dff50d"/>
<path d="M712.7,168.3l8.2,1.4 -9.3,-3.9 -8.1,-1.5z" fill="#fa520d" class="s3"/>
<path d="M536,136.3l8.8,-1.6 -8.8,-1.7 -8.8,1.4z" fill="#fa080d" class="s4"/>
<path d="M500.7,136.9l8.9,-2.3 -8.7,-1.3 -8.9,2.1z" fill="#fa080d"/>
<path d="M518.3,136.3l8.9,-1.9 -8.8,-1.6 -8.8,1.8z" fill="#fa080d" class="s4"/>
<path d="M756.9,184.7l8,2 -9.4,-4.5 -7.9,-2.1z" fill="#fa790d" class="s3"/>
<path d="M650.9,150.9l8.4,0.5 -9.1,-3.2 -8.4,-0.6z" fill="#fa290d" class="s3"/>
<path d="M270.9,211.9l9.3,-8.2 -7.9,0.6 -9.3,8.1z" fill="#fab60d"/>
<path d="M244.3,230.1l9.4,-9.1 -7.8,0.7 -9.3,8.9z" fill="#fae00d"/>
<path d="M341.5,174.4l9.3,-6.2 -8.1,0.1 -9.3,6.1z" fill="#fa5e0d"/>
<path d="M827.7,217.2l7.6,2.7 -9.5,-5.4 -7.6,-2.8z" fill="#fac50d" class="s2"/>
<path d="M403.4,153.1l9.1,-4.6 -8.3,-0.4 -9.2,4.5z" fill="#fa2c0d"/>
<path d="M633.3,147.5l8.5,0.1 -9.1,-3 -8.5,-0.2z" fill="#fa1f0d" class="s4"/>
<path d="M854.4,231.5l7.5,2.9 -9.5,-5.8 -7.5,-3z" fill="#fae60d" class="s2"/>
<path d="M695.2,163.2l8.3,1.1 -9.3,-3.8 -8.2,-1.2z" fill="#fa450d" class="s3"/>
<path d="M783.7,196.5l7.8,2.2 -9.4,-4.9 -7.8,-2.4z" fill="#fa930d" class="s3"/>
<path d="M314.8,188l9.3,-7 -8,0.2 -9.3,7z" fill="#fa7c0d"/>
<path d="M359,168.4l9.3,-5.8 -8.2,-0.1 -9.3,5.7z" fill="#fa4e0d"/>
<path d="M421,149.3l9.1,-4.2 -8.4,-0.7 -9.2,4.1z" fill="#fa220d"/>
<path d="M739.5,178.4l8.1,1.7 -9.4,-4.4 -8,-1.8z" fill="#fa680d" class="s3"/>
<path d="M208.6,260.3l9.3,-10.3 -7.6,0.7 -9.3,10.2z" fill="#c8f50d"/>
<path d="M615.7,144.6l8.5,-0.2 -9,-2.8 -8.6,0.1z" fill="#fa180d" class="s4"/>
<path d="M288.1,203.4l9.4,-7.8 -8,0.3 -9.3,7.8z" fill="#faa00d"/>
<path d="M235,239.6l9.3,-9.5 -7.7,0.5 -9.3,9.5z" fill="#faf40d"/>
<path d="M438.6,146l9.1,-3.8 -8.5,-0.9 -9.1,3.8z" fill="#fa190d"/>
<path d="M677.7,158.5l8.3,0.8 -9.2,-3.6 -8.3,-0.9z" fill="#fa380d" class="s3"/>
<path d="M261.5,220.6l9.4,-8.7 -7.9,0.5 -9.3,8.6z" fill="#fac70d"/>
<path d="M598,142.2l8.6,-0.5 -9,-2.7 -8.6,0.5z" fill="#fa110d" class="s4"/>
<path d="M810.5,209.2l7.7,2.5 -9.5,-5.3 -7.7,-2.6z" fill="#fab00d" class="s3"/>
<path d="M376.6,163l9.2,-5.4 -8.3,-0.3 -9.2,5.3z" fill="#fa400d"/>
<path d="M456.3,143.3l9,-3.5 -8.5,-1 -9.1,3.4z" fill="#fa130d"/>
<path d="M580.3,140.4l8.7,-0.9 -9,-2.4 -8.7,0.8z" fill="#fa0c0d" class="s4"/>
<path d="M332.2,181.1l9.3,-6.7 -8.1,0 -9.3,6.6z" fill="#fa6a0d"/>
<path d="M722.1,172.6l8.1,1.3 -9.3,-4.2 -8.2,-1.4z" fill="#fa590d" class="s3"/>
<path d="M766.4,189.5l7.9,1.9 -9.4,-4.7 -8,-2z" fill="#fa810d" class="s3"/>
<path d="M474,141.2l9,-3.1 -8.6,-1.3 -9.1,3z" fill="#fa0d0d"/>
<path d="M837.3,223l7.6,2.6 -9.6,-5.7 -7.6,-2.7z" fill="#fad00d" class="s3"/>
<path d="M562.6,139.1l8.7,-1.2 -8.9,-2.3 -8.7,1.2z" fill="#fa090d" class="s4"/>
<path d="M660.1,154.4l8.4,0.4 -9.2,-3.4 -8.4,-0.5z" fill="#fa2d0d" class="s4"/>
<path d="M491.7,139.6l9,-2.7 -8.7,-1.5 -9,2.7z" fill="#fa090d"/>
<path d="M544.9,138.4l8.8,-1.6 -8.9,-2.1 -8.8,1.6z" fill="#fa080d"/>
<path d="M509.4,138.7l8.9,-2.4 -8.7,-1.7 -8.9,2.3z" fill="#fa080d"/>
<path d="M527.1,138.3l8.9,-2 -8.8,-1.9 -8.9,1.9z" fill="#fa080d"/>
<path d="M394.1,158.2l9.3,-5.1 -8.4,-0.5 -9.2,5z" fill="#fa340d"/>
<path d="M864,237.7l7.5,2.8 -9.6,-6.1 -7.5,-2.9z" fill="#faf10d" class="s3"/>
<path d="M305.5,195.5l9.3,-7.5 -8,0.2 -9.3,7.4z" fill="#fa8b0d"/>
<path d="M225.6,249.6l9.4,-10 -7.7,0.5 -9.4,9.9z" fill="#e5f50d"/>
<path d="M793.2,201.7l7.8,2.1 -9.5,-5.1 -7.8,-2.2z" fill="#fa9c0d" class="s3"/>
<path d="M642.4,150.8l8.5,0.1 -9.1,-3.3 -8.5,-0.1z" fill="#fa240d" class="s4"/>
<path d="M349.7,174.7l9.3,-6.3 -8.2,-0.2 -9.3,6.2z" fill="#fa5a0d"/>
<path d="M704.5,167.3l8.2,1 -9.2,-4 -8.3,-1.1z" fill="#fa4b0d" class="s4"/>
<path d="M278.8,211.8l9.3,-8.4 -7.9,0.3 -9.3,8.2z" fill="#fab00d"/>
<path d="M252.1,229.8l9.4,-9.2 -7.8,0.4 -9.4,9.1z" fill="#fada0d"/>
<path d="M748.9,183.1l8,1.6 -9.3,-4.6 -8.1,-1.7z" fill="#fa700d" class="s3"/>
<path d="M411.8,154l9.2,-4.7 -8.5,-0.8 -9.1,4.6z" fill="#fa290d"/>
<path d="M624.8,147.7l8.5,-0.2 -9.1,-3.1 -8.5,0.2z" fill="#fa1b0d" class="s4"/>
<path d="M820,214.9l7.7,2.3 -9.5,-5.5 -7.7,-2.5z" fill="#faba0d" class="s3"/>
<path d="M429.5,150.3l9.1,-4.3 -8.5,-0.9 -9.1,4.2z" fill="#fa200d"/>
<path d="M322.9,188.2l9.3,-7.1 -8.1,-0.1 -9.3,7z" fill="#fa780d"/>
<path d="M686.9,162.5l8.3,0.7 -9.2,-3.9 -8.3,-0.8z" fill="#fa3e0d" class="s4"/>
<path d="M367.3,168.9l9.3,-5.9 -8.3,-0.4 -9.3,5.8z" fill="#fa4b0d"/>
<path d="M607,145.2l8.7,-0.6 -9.1,-2.9 -8.6,0.5z" fill="#fa150d" class="s4"/>
<path d="M216.3,260l9.3,-10.4 -7.7,0.4 -9.3,10.3z" fill="#cff50d"/>
<path d="M775.8,194.7l7.9,1.8 -9.4,-5.1 -7.9,-1.9z" fill="#fa890d" class="s3"/>
<path d="M846.9,229l7.5,2.5 -9.5,-5.9 -7.6,-2.6z" fill="#fada0d" class="s3"/>
<path d="M447.2,147.2l9.1,-3.9 -8.6,-1.1 -9.1,3.8z" fill="#fa180d"/>
<path d="M731.4,177.2l8.1,1.2 -9.3,-4.5 -8.1,-1.3z" fill="#fa600d" class="s4"/>
<path d="M296.1,203.5l9.4,-8 -8,0.1 -9.4,7.8z" fill="#fa9b0d"/>
<path d="M589.3,143.2l8.7,-1 -9,-2.7 -8.7,0.9z" fill="#fa0f0d"/>
<path d="M242.8,239.4l9.3,-9.6 -7.8,0.3 -9.3,9.5z" fill="#faee0d"/>
<path d="M269.4,220.6l9.4,-8.8 -7.9,0.1 -9.4,8.7z" fill="#fac20d"/>
<path d="M464.9,144.8l9.1,-3.6 -8.7,-1.4 -9,3.5z" fill="#fa120d"/>
<path d="M669.3,158.2l8.4,0.3 -9.2,-3.7 -8.4,-0.4z" fill="#fa330d" class="s4"/>
<path d="M384.9,163.7l9.2,-5.5 -8.3,-0.6 -9.2,5.4z" fill="#fa3e0d"/>
<path d="M571.6,141.8l8.7,-1.4 -9,-2.5 -8.7,1.2z" fill="#fa0b0d"/>
<path d="M482.7,142.8l9,-3.2 -8.7,-1.5 -9,3.1z" fill="#fa0d0d"/>
<path d="M340.4,181.5l9.3,-6.8 -8.2,-0.3 -9.3,6.7z" fill="#fa670d"/>
<path d="M553.8,140.8l8.8,-1.7 -8.9,-2.3 -8.8,1.6z" fill="#fa090d"/>
<path d="M802.7,207.2l7.8,2 -9.5,-5.4 -7.8,-2.1z" fill="#faa60d" class="s3"/>
<path d="M500.4,141.5l9,-2.8 -8.7,-1.8 -9,2.7z" fill="#fa0a0d"/>
<path d="M536,140.5l8.9,-2.1 -8.9,-2.1 -8.9,2z" fill="#fa080d"/>
<path d="M518.2,140.7l8.9,-2.4 -8.8,-2 -8.9,2.4z" fill="#fa080d"/>
<path d="M713.9,171.7l8.2,0.9 -9.4,-4.3 -8.2,-1z" fill="#fa520d" class="s4"/>
<path d="M651.6,154.5l8.5,-0.1 -9.2,-3.5 -8.5,-0.1z" fill="#fa290d" class="s4"/>
<path d="M758.4,188.1l8,1.4 -9.5,-4.8 -8,-1.6z" fill="#fa780d" class="s4"/>
<path d="M402.6,159.1l9.2,-5.1 -8.4,-0.9 -9.3,5.1z" fill="#fa320d"/>
<path d="M313.6,195.8l9.3,-7.6 -8.1,-0.2 -9.3,7.5z" fill="#fa870d"/>
<path d="M829.6,220.8l7.7,2.2 -9.6,-5.8 -7.7,-2.3z" fill="#fac40d" class="s3"/>
<path d="M358,175.3l9.3,-6.4 -8.3,-0.5 -9.3,6.3z" fill="#fa570d"/>
<path d="M233.4,249.5l9.4,-10.1 -7.8,0.2 -9.4,10z" fill="#ebf50d"/>
<path d="M633.9,151.2l8.5,-0.4 -9.1,-3.3 -8.5,0.2z" fill="#fa200d"/>
<path d="M286.8,211.9l9.3,-8.4 -8,-0.1 -9.3,8.4z" fill="#faac0d"/>
<path d="M420.3,155.1l9.2,-4.8 -8.5,-1 -9.2,4.7z" fill="#fa280d"/>
<path d="M260,229.8l9.4,-9.2 -7.9,0 -9.4,9.2z" fill="#fad50d"/>
<path d="M856.5,235.3l7.5,2.4 -9.6,-6.2 -7.5,-2.5z" fill="#fae60d" class="s4"/>
<path d="M696.2,166.8l8.3,0.5 -9.3,-4.1 -8.3,-0.7z" fill="#fa440d" class="s4"/>
<path d="M785.3,200.1l7.9,1.6 -9.5,-5.2 -7.9,-1.8z" fill="#fa930d" class="s4"/>
<path d="M740.8,182l8.1,1.1 -9.4,-4.7 -8.1,-1.2z" fill="#fa680d" class="s4"/>
<path d="M616.2,148.5l8.6,-0.8 -9.1,-3.1 -8.7,0.6z" fill="#fa190d"/>
<path d="M438,151.7l9.2,-4.5 -8.6,-1.2 -9.1,4.3z" fill="#fa1f0d"/>
<path d="M331.1,188.7l9.3,-7.2 -8.2,-0.4 -9.3,7.1z" fill="#fa740d"/>
<path d="M375.6,169.7l9.3,-6 -8.3,-0.7 -9.3,5.9z" fill="#fa480d"/>
<path d="M598.4,146.3l8.6,-1.1 -9,-3 -8.7,1z" fill="#fa130d"/>
<path d="M678.6,162.3l8.3,0.2 -9.2,-4 -8.4,-0.3z" fill="#fa390d" class="s4"/>
<path d="M455.8,148.8l9.1,-4 -8.6,-1.5 -9.1,3.9z" fill="#fa180d"/>
<path d="M812.3,213l7.7,1.9 -9.5,-5.7 -7.8,-2z" fill="#fab00d" class="s4"/>
<path d="M224,260.1l9.4,-10.6 -7.8,0.1 -9.3,10.4z" fill="#d4f50d"/>
<path d="M580.6,144.7l8.7,-1.5 -9,-2.8 -8.7,1.4z" fill="#fa0e0d"/>
<path d="M473.6,146.5l9.1,-3.7 -8.7,-1.6 -9.1,3.6z" fill="#fa120d"/>
<path d="M304.2,203.9l9.4,-8.1 -8.1,-0.3 -9.4,8z" fill="#fa970d"/>
<path d="M723.2,176.4l8.2,0.8 -9.3,-4.6 -8.2,-0.9z" fill="#fa590d" class="s4"/>
<path d="M767.8,193.3l8,1.4 -9.4,-5.2 -8,-1.4z" fill="#fa810d" class="s4"/>
<path d="M562.7,143.6l8.9,-1.8 -9,-2.7 -8.8,1.7z" fill="#fa0b0d"/>
<path d="M491.4,144.8l9,-3.3 -8.7,-1.9 -9,3.2z" fill="#fa0e0d"/>
<path d="M393.3,164.8l9.3,-5.7 -8.5,-0.9 -9.2,5.5z" fill="#fa3c0d"/>
<path d="M250.6,239.6l9.4,-9.8 -7.9,0 -9.3,9.6z" fill="#fae90d"/>
<path d="M277.4,220.8l9.4,-8.9 -8,-0.1 -9.4,8.8z" fill="#fabe0d"/>
<path d="M839.2,227l7.7,2 -9.6,-6 -7.7,-2.2z" fill="#facf0d" class="s4"/>
<path d="M544.9,143l8.9,-2.2 -8.9,-2.4 -8.9,2.1z" fill="#fa0a0d"/>
<path d="M509.2,143.6l9,-2.9 -8.8,-2 -9,2.8z" fill="#fa0b0d"/>
<path d="M660.9,158.4l8.4,-0.2 -9.2,-3.8 -8.5,0.1z" fill="#fa2e0d"/>
<path d="M527.1,143.1l8.9,-2.6 -8.9,-2.2 -8.9,2.4z" fill="#fa0a0d"/>
<path d="M348.7,182.2l9.3,-6.9 -8.3,-0.6 -9.3,6.8z" fill="#fa640d"/>
<path d="M411,160.4l9.3,-5.3 -8.5,-1.1 -9.2,5.1z" fill="#fa300d"/>
<path d="M643.1,154.9l8.5,-0.4 -9.2,-3.7 -8.5,0.4z" fill="#fa250d"/>
<path d="M794.8,205.7l7.9,1.5 -9.5,-5.5 -7.9,-1.6z" fill="#fa9c0d" class="s4"/>
<path d="M705.6,171.3l8.3,0.4 -9.4,-4.4 -8.3,-0.5z" fill="#fa4b0d"/>
<path d="M321.7,196.4l9.4,-7.7 -8.2,-0.5 -9.3,7.6z" fill="#fa830d"/>
<path d="M750.3,187.1l8.1,1 -9.5,-5 -8.1,-1.1z" fill="#fa700d" class="s4"/>
<path d="M366.3,176.2l9.3,-6.5 -8.3,-0.8 -9.3,6.4z" fill="#fa540d"/>
<path d="M428.8,156.5l9.2,-4.8 -8.5,-1.4 -9.2,4.8z" fill="#fa270d"/>
<path d="M625.3,152l8.6,-0.8 -9.1,-3.5 -8.6,0.8z" fill="#fa1d0d"/>
<path d="M241.3,249.8l9.3,-10.2 -7.8,-0.2 -9.4,10.1z" fill="#f0f50d"/>
<path d="M294.8,212.4l9.4,-8.5 -8.1,-0.4 -9.3,8.4z" fill="#faa80d"/>
<path d="M821.8,219l7.8,1.8 -9.6,-5.9 -7.7,-1.9z" fill="#faba0d" class="s4"/>
<path d="M268,230.2l9.4,-9.4 -8,-0.2 -9.4,9.2z" fill="#fad10d"/>
<path d="M687.9,166.7l8.3,0.1 -9.3,-4.3 -8.3,-0.2z" fill="#fa3f0d"/>
<path d="M446.6,153.3l9.2,-4.5 -8.6,-1.6 -9.2,4.5z" fill="#fa1f0d"/>
<path d="M607.5,149.7l8.7,-1.2 -9.2,-3.3 -8.6,1.1z" fill="#fa170d"/>
<path d="M777.3,198.8l8,1.3 -9.5,-5.4 -8,-1.4z" fill="#fa8a0d" class="s4"/>
<path d="M384,170.9l9.3,-6.1 -8.4,-1.1 -9.3,6z" fill="#fa470d"/>
<path d="M848.8,233.4l7.7,1.9 -9.6,-6.3 -7.7,-2z" fill="#fadb0d" class="s4"/>
<path d="M339.3,189.5l9.4,-7.3 -8.3,-0.7 -9.3,7.2z" fill="#fa720d"/>
<path d="M732.7,181.3l8.1,0.7 -9.4,-4.8 -8.2,-0.8z" fill="#fa610d"/>
<path d="M464.5,150.6l9.1,-4.1 -8.7,-1.7 -9.1,4z" fill="#fa180d"/>
<path d="M589.6,147.9l8.8,-1.6 -9.1,-3.1 -8.7,1.5z" fill="#fa120d"/>
<path d="M482.3,148.5l9.1,-3.7 -8.7,-2 -9.1,3.7z" fill="#fa130d"/>
<path d="M571.8,146.6l8.8,-1.9 -9,-2.9 -8.9,1.8z" fill="#fa0f0d"/>
<path d="M670.1,162.5l8.5,-0.2 -9.3,-4.1 -8.4,0.2z" fill="#fa340d"/>
<path d="M500.2,147l9,-3.4 -8.8,-2.1 -9,3.3z" fill="#fa0f0d"/>
<path d="M553.9,145.9l8.8,-2.3 -8.9,-2.8 -8.9,2.2z" fill="#fa0d0d"/>
<path d="M231.9,260.4l9.4,-10.6 -7.9,-0.3 -9.4,10.6z" fill="#d9f50d"/>
<path d="M312.3,204.5l9.4,-8.1 -8.1,-0.6 -9.4,8.1z" fill="#fa930d"/>
<path d="M518.1,146.1l9,-3 -8.9,-2.4 -9,2.9z" fill="#fa0d0d"/>
<path d="M536,145.7l8.9,-2.7 -8.9,-2.5 -8.9,2.6z" fill="#fa0c0d"/>
<path d="M401.8,166.1l9.2,-5.7 -8.4,-1.3 -9.3,5.7z" fill="#fa3a0d"/>
<path d="M804.4,211.6l7.9,1.4 -9.6,-5.8 -7.9,-1.5z" fill="#faa70d"/>
<path d="M258.6,240l9.4,-9.8 -8,-0.4 -9.4,9.8z" fill="#fae50d"/>
<path d="M285.4,221.4l9.4,-9 -8,-0.5 -9.4,8.9z" fill="#faba0d"/>
<path d="M715,176l8.2,0.4 -9.3,-4.7 -8.3,-0.4z" fill="#fa530d"/>
<path d="M357,183.2l9.3,-7 -8.3,-0.9 -9.3,6.9z" fill="#fa610d"/>
<path d="M652.3,159l8.6,-0.6 -9.3,-3.9 -8.5,0.4z" fill="#fa2b0d"/>
<path d="M759.7,192.4l8.1,0.9 -9.4,-5.2 -8.1,-1z" fill="#fa790d"/>
<path d="M419.6,161.9l9.2,-5.4 -8.5,-1.4 -9.3,5.3z" fill="#fa300d"/>
<path d="M831.4,225.3l7.8,1.7 -9.6,-6.2 -7.8,-1.8z" fill="#fac60d"/>
<path d="M634.5,155.9l8.6,-1 -9.2,-3.7 -8.6,0.8z" fill="#fa230d"/>
<path d="M329.9,197.3l9.4,-7.8 -8.2,-0.8 -9.4,7.7z" fill="#fa810d"/>
<path d="M697.2,171.3l8.4,0 -9.4,-4.5 -8.3,-0.1z" fill="#fa470d"/>
<path d="M437.4,158.3l9.2,-5 -8.6,-1.6 -9.2,4.8z" fill="#fa270d"/>
<path d="M374.7,177.4l9.3,-6.5 -8.4,-1.2 -9.3,6.5z" fill="#fa530d"/>
<path d="M786.9,204.6l7.9,1.1 -9.5,-5.6 -8,-1.3z" fill="#fa940d"/>
<path d="M616.6,153.3l8.7,-1.3 -9.1,-3.5 -8.7,1.2z" fill="#fa1c0d"/>
<path d="M742.1,186.5l8.2,0.6 -9.5,-5.1 -8.1,-0.7z" fill="#fa6a0d"/>
<path d="M302.9,213.2l9.4,-8.7 -8.1,-0.6 -9.4,8.5z" fill="#faa50d"/>
<path d="M249.2,250.3l9.4,-10.3 -8,-0.4 -9.3,10.2z" fill="#f4f50d"/>
<path d="M455.3,155.2l9.2,-4.6 -8.7,-1.8 -9.2,4.5z" fill="#fa1f0d"/>
<path d="M276,230.9l9.4,-9.5 -8,-0.6 -9.4,9.4z" fill="#facd0d"/>
<path d="M598.7,151.3l8.8,-1.6 -9.1,-3.4 -8.8,1.6z" fill="#fa170d"/>
<path d="M679.5,167l8.4,-0.3 -9.3,-4.4 -8.5,0.2z" fill="#fa3b0d"/>
<path d="M473.2,152.8l9.1,-4.3 -8.7,-2 -9.1,4.1z" fill="#fa190d"/>
<path d="M392.5,172.3l9.3,-6.2 -8.5,-1.3 -9.3,6.1z" fill="#fa460d"/>
<path d="M814,217.7l7.8,1.3 -9.5,-6 -7.9,-1.4z" fill="#fab20d"/>
<path d="M580.8,149.9l8.8,-2 -9,-3.2 -8.8,1.9z" fill="#fa130d"/>
<path d="M347.6,190.6l9.4,-7.4 -8.3,-1 -9.4,7.3z" fill="#fa700d"/>
<path d="M491.1,150.9l9.1,-3.9 -8.8,-2.2 -9.1,3.7z" fill="#fa140d"/>
<path d="M562.9,149l8.9,-2.4 -9.1,-3 -8.8,2.3z" fill="#fa100d"/>
<path d="M509.1,149.6l9,-3.5 -8.9,-2.5 -9,3.4z" fill="#fa110d"/>
<path d="M545,148.6l8.9,-2.7 -9,-2.9 -8.9,2.7z" fill="#fa0f0d"/>
<path d="M724.4,181.1l8.3,0.2 -9.5,-4.9 -8.2,-0.4z" fill="#fa5b0d"/>
<path d="M527,148.8l9,-3.1 -8.9,-2.6 -9,3z" fill="#fa0f0d"/>
<path d="M769.3,198l8,0.8 -9.5,-5.5 -8.1,-0.9z" fill="#fa830d"/>
<path d="M661.6,163.2l8.5,-0.7 -9.2,-4.1 -8.6,0.6z" fill="#fa310d"/>
<path d="M841.1,231.8l7.7,1.6 -9.6,-6.4 -7.8,-1.7z" fill="#fad10d"/>
<path d="M410.3,167.7l9.3,-5.8 -8.6,-1.5 -9.2,5.7z" fill="#fa3a0d"/>
<path d="M320.6,205.5l9.3,-8.2 -8.2,-0.9 -9.4,8.1z" fill="#fa910d"/>
<path d="M239.8,261.1l9.4,-10.8 -7.9,-0.5 -9.4,10.6z" fill="#ddf50d"/>
<path d="M293.5,222.3l9.4,-9.1 -8.1,-0.8 -9.4,9z" fill="#fab70d"/>
<path d="M365.4,184.5l9.3,-7.1 -8.4,-1.2 -9.3,7z" fill="#fa600d"/>
<path d="M266.6,240.8l9.4,-9.9 -8,-0.7 -9.4,9.8z" fill="#fae20d"/>
<path d="M643.7,160l8.6,-1 -9.2,-4.1 -8.6,1z" fill="#fa290d"/>
<path d="M796.4,210.6l8,1 -9.6,-5.9 -7.9,-1.1z" fill="#fa9f0d"/>
<path d="M706.6,176.2l8.4,-0.2 -9.4,-4.7 -8.4,0z" fill="#fa4e0d"/>
<path d="M428.2,163.7l9.2,-5.4 -8.6,-1.8 -9.2,5.4z" fill="#fa300d"/>
<path d="M751.6,192l8.1,0.4 -9.4,-5.3 -8.2,-0.6z" fill="#fa730d"/>
<path d="M625.8,157.3l8.7,-1.4 -9.2,-3.9 -8.7,1.3z" fill="#fa220d"/>
<path d="M446.1,160.3l9.2,-5.1 -8.7,-1.9 -9.2,5z" fill="#fa270d"/>
<path d="M338.2,198.5l9.4,-7.9 -8.3,-1.1 -9.4,7.8z" fill="#fa7f0d"/>
<path d="M383.2,179l9.3,-6.7 -8.5,-1.4 -9.3,6.5z" fill="#fa520d"/>
<path d="M823.6,224.1l7.8,1.2 -9.6,-6.3 -7.8,-1.3z" fill="#fabd0d"/>
<path d="M688.8,171.7l8.4,-0.4 -9.3,-4.6 -8.4,0.3z" fill="#fa430d"/>
<path d="M607.9,155.1l8.7,-1.8 -9.1,-3.6 -8.8,1.6z" fill="#fa1c0d"/>
<path d="M464,157.5l9.2,-4.7 -8.7,-2.2 -9.2,4.6z" fill="#fa200d"/>
<path d="M311.2,214.3l9.4,-8.8 -8.3,-1 -9.4,8.7z" fill="#faa20d"/>
<path d="M257.2,251.2l9.4,-10.4 -8,-0.8 -9.4,10.3z" fill="#f7f50d"/>
<path d="M589.9,153.5l8.8,-2.2 -9.1,-3.4 -8.8,2z" fill="#fa170d"/>
<path d="M778.8,203.9l8.1,0.7 -9.6,-5.8 -8,-0.8z" fill="#fa8d0d"/>
<path d="M733.9,186.4l8.2,0.1 -9.4,-5.2 -8.3,-0.2z" fill="#fa640d"/>
<path d="M482,155.2l9.1,-4.3 -8.8,-2.4 -9.1,4.3z" fill="#fa1b0d"/>
<path d="M284.1,231.9l9.4,-9.6 -8.1,-0.9 -9.4,9.5z" fill="#facb0d"/>
<path d="M572,152.4l8.8,-2.5 -9,-3.3 -8.9,2.4z" fill="#fa140d"/>
<path d="M401,174l9.3,-6.3 -8.5,-1.6 -9.3,6.2z" fill="#fa450d"/>
<path d="M500,153.5l9.1,-3.9 -8.9,-2.6 -9.1,3.9z" fill="#fa160d"/>
<path d="M670.9,167.8l8.6,-0.8 -9.4,-4.5 -8.5,0.7z" fill="#fa380d"/>
<path d="M554,151.8l8.9,-2.8 -9,-3.1 -8.9,2.7z" fill="#fa130d"/>
<path d="M518,152.4l9,-3.6 -8.9,-2.7 -9,3.5z" fill="#fa140d"/>
<path d="M356,192l9.4,-7.5 -8.4,-1.3 -9.4,7.4z" fill="#fa6e0d"/>
<path d="M536,151.8l9,-3.2 -9,-2.9 -9,3.1z" fill="#fa130d"/>
<path d="M806,216.9l8,0.8 -9.6,-6.1 -8,-1z" fill="#faaa0d"/>
<path d="M418.9,169.6l9.3,-5.9 -8.6,-1.8 -9.3,5.8z" fill="#fa3a0d"/>
<path d="M716.1,181.3l8.3,-0.2 -9.4,-5.1 -8.4,0.2z" fill="#fa570d"/>
<path d="M653,164.4l8.6,-1.2 -9.3,-4.2 -8.6,1z" fill="#fa2f0d"/>
<path d="M328.8,206.9l9.4,-8.4 -8.3,-1.2 -9.3,8.2z" fill="#fa8f0d"/>
<path d="M761.1,197.7l8.2,0.3 -9.6,-5.6 -8.1,-0.4z" fill="#fa7d0d"/>
<path d="M247.8,262.1l9.4,-10.9 -8,-0.9 -9.4,10.8z" fill="#e0f50d"/>
<path d="M373.8,186.1l9.4,-7.1 -8.5,-1.6 -9.3,7.1z" fill="#fa5f0d"/>
<path d="M833.3,230.8l7.8,1 -9.7,-6.5 -7.8,-1.2z" fill="#fac90d"/>
<path d="M301.7,223.5l9.5,-9.2 -8.3,-1.1 -9.4,9.1z" fill="#fab50d"/>
<path d="M436.9,165.9l9.2,-5.6 -8.7,-2 -9.2,5.4z" fill="#fa310d"/>
<path d="M274.7,241.9l9.4,-10 -8.1,-1 -9.4,9.9z" fill="#fadf0d"/>
<path d="M635.1,161.5l8.6,-1.5 -9.2,-4.1 -8.7,1.4z" fill="#fa280d"/>
<path d="M698.2,176.7l8.4,-0.5 -9.4,-4.9 -8.4,0.4z" fill="#fa4b0d"/>
<path d="M454.8,162.7l9.2,-5.2 -8.7,-2.3 -9.2,5.1z" fill="#fa290d"/>
<path d="M617.1,159.2l8.7,-1.9 -9.2,-4 -8.7,1.8z" fill="#fa220d"/>
<path d="M788.4,210.1l8,0.5 -9.5,-6 -8.1,-0.7z" fill="#fa980d"/>
<path d="M743.4,192l8.2,0 -9.5,-5.5 -8.2,-0.1z" fill="#fa6e0d"/>
<path d="M346.6,200l9.4,-8 -8.4,-1.4 -9.4,7.9z" fill="#fa7e0d"/>
<path d="M391.7,180.8l9.3,-6.8 -8.5,-1.7 -9.3,6.7z" fill="#fa520d"/>
<path d="M472.8,160l9.2,-4.8 -8.8,-2.4 -9.2,4.7z" fill="#fa220d"/>
<path d="M599.1,157.3l8.8,-2.2 -9.2,-3.8 -8.8,2.2z" fill="#fa1d0d"/>
<path d="M680.3,172.6l8.5,-0.9 -9.3,-4.7 -8.6,0.8z" fill="#fa400d"/>
<path d="M490.9,157.9l9.1,-4.4 -8.9,-2.6 -9.1,4.3z" fill="#fa1d0d"/>
<path d="M581.1,156.1l8.8,-2.6 -9.1,-3.6 -8.8,2.5z" fill="#fa190d"/>
<path d="M319.4,215.7l9.4,-8.8 -8.2,-1.4 -9.4,8.8z" fill="#faa10d"/>
<path d="M815.7,223.4l7.9,0.7 -9.6,-6.4 -8,-0.8z" fill="#fab60d"/>
<path d="M508.9,156.5l9.1,-4.1 -8.9,-2.8 -9.1,3.9z" fill="#fa190d"/>
<path d="M563,155.3l9,-2.9 -9.1,-3.4 -8.9,2.8z" fill="#fa170d"/>
<path d="M265.3,252.4l9.4,-10.5 -8.1,-1.1 -9.4,10.4z" fill="#faf50d"/>
<path d="M545,155.1l9,-3.3 -9,-3.2 -9,3.2z" fill="#fa160d"/>
<path d="M526.9,155.5l9.1,-3.7 -9,-3 -9,3.6z" fill="#fa170d"/>
<path d="M292.3,233.2l9.4,-9.7 -8.2,-1.2 -9.4,9.6z" fill="#fac90d"/>
<path d="M409.6,176.1l9.3,-6.5 -8.6,-1.9 -9.3,6.3z" fill="#fa460d"/>
<path d="M725.5,186.8l8.4,-0.4 -9.5,-5.3 -8.3,0.2z" fill="#fa600d"/>
<path d="M770.7,203.7l8.1,0.2 -9.5,-5.9 -8.2,-0.3z" fill="#fa870d"/>
<path d="M364.4,193.7l9.4,-7.6 -8.4,-1.6 -9.4,7.5z" fill="#fa6e0d"/>
<path d="M662.4,169.1l8.5,-1.3 -9.3,-4.6 -8.6,1.2z" fill="#fa370d"/>
<path d="M427.6,171.9l9.3,-6 -8.7,-2.2 -9.3,5.9z" fill="#fa3b0d"/>
<path d="M644.4,166l8.6,-1.6 -9.3,-4.4 -8.6,1.5z" fill="#fa2f0d"/>
<path d="M337.2,208.5l9.4,-8.5 -8.4,-1.5 -9.4,8.4z" fill="#fa8e0d"/>
<path d="M707.7,182l8.4,-0.7 -9.5,-5.1 -8.4,0.5z" fill="#fa540d"/>
<path d="M798,216.4l8,0.5 -9.6,-6.3 -8,-0.5z" fill="#faa40d"/>
<path d="M382.3,188l9.4,-7.2 -8.5,-1.8 -9.4,7.1z" fill="#fa5f0d"/>
<path d="M445.6,168.3l9.2,-5.6 -8.7,-2.4 -9.2,5.6z" fill="#fa320d"/>
<path d="M255.8,263.4l9.5,-11 -8.1,-1.2 -9.4,10.9z" fill="#e2f50d"/>
<path d="M752.9,197.8l8.2,-0.1 -9.5,-5.7 -8.2,0z" fill="#fa780d"/>
<path d="M310,225l9.4,-9.3 -8.2,-1.4 -9.5,9.2z" fill="#fab40d"/>
<path d="M626.4,163.5l8.7,-2 -9.3,-4.2 -8.7,1.9z" fill="#fa280d"/>
<path d="M282.8,243.3l9.5,-10.1 -8.2,-1.3 -9.4,10z" fill="#fadd0d"/>
<path d="M463.6,165.3l9.2,-5.3 -8.8,-2.5 -9.2,5.2z" fill="#fa2b0d"/>
<path d="M825.3,230.2l8,0.6 -9.7,-6.7 -7.9,-0.7z" fill="#fac20d"/>
<path d="M608.3,161.5l8.8,-2.3 -9.2,-4.1 -8.8,2.2z" fill="#fa230d"/>
<path d="M689.7,177.8l8.5,-1.1 -9.4,-5 -8.5,0.9z" fill="#fa490d"/>
<path d="M400.3,182.9l9.3,-6.8 -8.6,-2.1 -9.3,6.8z" fill="#fa520d"/>
<path d="M481.7,162.9l9.2,-5 -8.9,-2.7 -9.2,4.8z" fill="#fa250d"/>
<path d="M355,201.8l9.4,-8.1 -8.4,-1.7 -9.4,8z" fill="#fa7e0d"/>
<path d="M590.2,160l8.9,-2.7 -9.2,-3.8 -8.8,2.6z" fill="#fa1f0d"/>
<path d="M780.3,210l8.1,0.1 -9.6,-6.2 -8.1,-0.2z" fill="#fa930d"/>
<path d="M499.8,161l9.1,-4.5 -8.9,-3 -9.1,4.4z" fill="#fa200d"/>
<path d="M735,192.5l8.4,-0.5 -9.5,-5.6 -8.4,0.4z" fill="#fa6a0d"/>
<path d="M572.2,159.1l8.9,-3 -9.1,-3.7 -9,2.9z" fill="#fa1c0d"/>
<path d="M517.9,159.7l9,-4.2 -8.9,-3.1 -9.1,4.1z" fill="#fa1d0d"/>
<path d="M554.1,158.8l8.9,-3.5 -9,-3.5 -9,3.3z" fill="#fa1b0d"/>
<path d="M536,158.9l9,-3.8 -9,-3.3 -9.1,3.7z" fill="#fa1b0d"/>
<path d="M671.7,174l8.6,-1.4 -9.4,-4.8 -8.5,1.3z" fill="#fa3f0d"/>
<path d="M327.8,217.4l9.4,-8.9 -8.4,-1.6 -9.4,8.8z" fill="#faa00d"/>
<path d="M418.3,178.4l9.3,-6.5 -8.7,-2.3 -9.3,6.5z" fill="#fa470d"/>
<path d="M273.4,253.9l9.4,-10.6 -8.1,-1.4 -9.4,10.5z" fill="#faf30d"/>
<path d="M300.5,234.8l9.5,-9.8 -8.3,-1.5 -9.4,9.7z" fill="#fac80d"/>
<path d="M372.9,195.8l9.4,-7.8 -8.5,-1.9 -9.4,7.6z" fill="#fa6e0d"/>
<path d="M807.7,223.1l8,0.3 -9.7,-6.5 -8,-0.5z" fill="#fab00d"/>
<path d="M653.7,170.8l8.7,-1.7 -9.4,-4.7 -8.6,1.6z" fill="#fa360d"/>
<path d="M717.1,187.6l8.4,-0.8 -9.4,-5.5 -8.4,0.7z" fill="#fa5d0d"/>
<path d="M436.3,174.4l9.3,-6.1 -8.7,-2.4 -9.3,6z" fill="#fa3d0d"/>
<path d="M762.5,204l8.2,-0.3 -9.6,-6 -8.2,0.1z" fill="#fa830d"/>
<path d="M635.7,168.1l8.7,-2.1 -9.3,-4.5 -8.7,2z" fill="#fa2f0d"/>
<path d="M345.6,210.4l9.4,-8.6 -8.4,-1.8 -9.4,8.5z" fill="#fa8e0d"/>
<path d="M454.4,171.1l9.2,-5.8 -8.8,-2.6 -9.2,5.6z" fill="#fa350d"/>
<path d="M390.9,190.3l9.4,-7.4 -8.6,-2.1 -9.4,7.2z" fill="#fa600d"/>
<path d="M699.2,183.2l8.5,-1.2 -9.5,-5.3 -8.5,1.1z" fill="#fa520d"/>
<path d="M263.9,265l9.5,-11.1 -8.1,-1.5 -9.5,11z" fill="#e4f50d"/>
<path d="M617.6,165.9l8.8,-2.4 -9.3,-4.3 -8.8,2.3z" fill="#fa290d"/>
<path d="M318.3,226.8l9.5,-9.4 -8.4,-1.7 -9.4,9.3z" fill="#fab30d"/>
<path d="M472.5,168.2l9.2,-5.3 -8.9,-2.9 -9.2,5.3z" fill="#fa2e0d"/>
<path d="M789.9,216.5l8.1,-0.1 -9.6,-6.3 -8.1,-0.1z" fill="#fa9e0d"/>
<path d="M291.1,245.1l9.4,-10.3 -8.2,-1.6 -9.5,10.1z" fill="#fadd0d"/>
<path d="M744.6,198.4l8.3,-0.6 -9.5,-5.8 -8.4,0.5z" fill="#fa740d"/>
<path d="M599.5,164.3l8.8,-2.8 -9.2,-4.2 -8.9,2.7z" fill="#fa250d"/>
<path d="M490.6,166l9.2,-5 -8.9,-3.1 -9.2,5z" fill="#fa280d"/>
<path d="M408.9,185.4l9.4,-7 -8.7,-2.3 -9.3,6.8z" fill="#fa540d"/>
<path d="M581.3,163.2l8.9,-3.2 -9.1,-3.9 -8.9,3z" fill="#fa220d"/>
<path d="M681.2,179.3l8.5,-1.5 -9.4,-5.2 -8.6,1.4z" fill="#fa470d"/>
<path d="M363.5,204l9.4,-8.2 -8.5,-2.1 -9.4,8.1z" fill="#fa7e0d"/>
<path d="M508.7,164.3l9.2,-4.6 -9,-3.2 -9.1,4.5z" fill="#fa240d"/>
<path d="M563.2,162.7l9,-3.6 -9.2,-3.8 -8.9,3.5z" fill="#fa200d"/>
<path d="M526.9,163.2l9.1,-4.3 -9.1,-3.4 -9,4.2z" fill="#fa210d"/>
<path d="M545,162.7l9.1,-3.9 -9.1,-3.7 -9,3.8z" fill="#fa200d"/>
<path d="M817.3,230l8,0.2 -9.6,-6.8 -8,-0.3z" fill="#fabc0d"/>
<path d="M726.7,193.4l8.3,-0.9 -9.5,-5.7 -8.4,0.8z" fill="#fa670d"/>
<path d="M427,181.1l9.3,-6.7 -8.7,-2.5 -9.3,6.5z" fill="#fa490d"/>
<path d="M336.2,219.5l9.4,-9.1 -8.4,-1.9 -9.4,8.9z" fill="#faa00d"/>
<path d="M772.1,210.3l8.2,-0.3 -9.6,-6.3 -8.2,0.3z" fill="#fa8e0d"/>
<path d="M663.1,175.9l8.6,-1.9 -9.3,-4.9 -8.7,1.7z" fill="#fa3f0d"/>
<path d="M281.6,255.8l9.5,-10.7 -8.3,-1.8 -9.4,10.6z" fill="#faf30d"/>
<path d="M308.8,236.7l9.5,-9.9 -8.3,-1.8 -9.5,9.8z" fill="#fac70d"/>
<path d="M381.5,198.1l9.4,-7.8 -8.6,-2.3 -9.4,7.8z" fill="#fa6f0d"/>
<path d="M445.1,177.3l9.3,-6.2 -8.8,-2.8 -9.3,6.1z" fill="#fa400d"/>
<path d="M645,173l8.7,-2.2 -9.3,-4.8 -8.7,2.1z" fill="#fa370d"/>
<path d="M708.7,188.8l8.4,-1.2 -9.4,-5.6 -8.5,1.2z" fill="#fa5b0d"/>
<path d="M799.6,223.2l8.1,-0.1 -9.7,-6.7 -8.1,0.1z" fill="#faab0d"/>
<path d="M463.2,174.1l9.3,-5.9 -8.9,-2.9 -9.2,5.8z" fill="#fa380d"/>
<path d="M626.9,170.7l8.8,-2.6 -9.3,-4.6 -8.8,2.4z" fill="#fa310d"/>
<path d="M754.2,204.7l8.3,-0.7 -9.6,-6.2 -8.3,0.6z" fill="#fa7f0d"/>
<path d="M354.1,212.7l9.4,-8.7 -8.5,-2.2 -9.4,8.6z" fill="#fa8f0d"/>
<path d="M399.5,192.9l9.4,-7.5 -8.6,-2.5 -9.4,7.4z" fill="#fa620d"/>
<path d="M608.7,168.9l8.9,-3 -9.3,-4.4 -8.8,2.8z" fill="#fa2c0d"/>
<path d="M481.4,171.5l9.2,-5.5 -8.9,-3.1 -9.2,5.3z" fill="#fa310d"/>
<path d="M272.1,267l9.5,-11.2 -8.2,-1.9 -9.5,11.1z" fill="#e4f50d"/>
<path d="M690.6,184.8l8.6,-1.6 -9.5,-5.4 -8.5,1.5z" fill="#fa510d"/>
<path d="M326.7,229l9.5,-9.5 -8.4,-2.1 -9.5,9.4z" fill="#fab40d"/>
<path d="M299.4,247.1l9.4,-10.4 -8.3,-1.9 -9.4,10.3z" fill="#fadd0d"/>
<path d="M590.5,167.6l9,-3.3 -9.3,-4.3 -8.9,3.2z" fill="#fa290d"/>
<path d="M499.6,169.5l9.1,-5.2 -8.9,-3.3 -9.2,5z" fill="#fa2c0d"/>
<path d="M572.4,166.9l8.9,-3.7 -9.1,-4.1 -9,3.6z" fill="#fa270d"/>
<path d="M517.7,168l9.2,-4.8 -9,-3.5 -9.2,4.6z" fill="#fa290d"/>
<path d="M417.6,188.2l9.4,-7.1 -8.7,-2.7 -9.4,7z" fill="#fa560d"/>
<path d="M554.2,166.7l9,-4 -9.1,-3.9 -9.1,3.9z" fill="#fa260d"/>
<path d="M535.9,167l9.1,-4.3 -9,-3.8 -9.1,4.3z" fill="#fa270d"/>
<path d="M781.7,217l8.2,-0.5 -9.6,-6.5 -8.2,0.3z" fill="#fa9a0d"/>
<path d="M736.2,199.5l8.4,-1.1 -9.6,-5.9 -8.3,0.9z" fill="#fa720d"/>
<path d="M372.1,206.5l9.4,-8.4 -8.6,-2.3 -9.4,8.2z" fill="#fa7f0d"/>
<path d="M672.5,181.2l8.7,-1.9 -9.5,-5.3 -8.6,1.9z" fill="#fa470d"/>
<path d="M435.7,184l9.4,-6.7 -8.8,-2.9 -9.3,6.7z" fill="#fa4c0d"/>
<path d="M344.6,221.8l9.5,-9.1 -8.5,-2.3 -9.4,9.1z" fill="#faa10d"/>
<path d="M809.3,230.3l8,-0.3 -9.6,-6.9 -8.1,0.1z" fill="#fab70d"/>
<path d="M654.4,178.2l8.7,-2.3 -9.4,-5.1 -8.7,2.2z" fill="#fa400d"/>
<path d="M718.2,194.8l8.5,-1.4 -9.6,-5.8 -8.4,1.2z" fill="#fa660d"/>
<path d="M390.1,200.8l9.4,-7.9 -8.6,-2.6 -9.4,7.8z" fill="#fa710d"/>
<path d="M317.2,239l9.5,-10 -8.4,-2.2 -9.5,9.9z" fill="#fac80d"/>
<path d="M289.9,258l9.5,-10.9 -8.3,-2 -9.5,10.7z" fill="#faf30d"/>
<path d="M763.8,211.2l8.3,-0.9 -9.6,-6.3 -8.3,0.7z" fill="#fa8b0d"/>
<path d="M453.9,180.5l9.3,-6.4 -8.8,-3 -9.3,6.2z" fill="#fa430d"/>
<path d="M636.2,175.7l8.8,-2.7 -9.3,-4.9 -8.8,2.6z" fill="#fa390d"/>
<path d="M472.1,177.5l9.3,-6 -8.9,-3.3 -9.3,5.9z" fill="#fa3c0d"/>
<path d="M700.1,190.6l8.6,-1.8 -9.5,-5.6 -8.6,1.6z" fill="#fa5b0d"/>
<path d="M618,173.7l8.9,-3 -9.3,-4.8 -8.9,3z" fill="#fa340d"/>
<path d="M362.6,215.3l9.5,-8.8 -8.6,-2.5 -9.4,8.7z" fill="#fa910d"/>
<path d="M408.2,195.7l9.4,-7.5 -8.7,-2.8 -9.4,7.5z" fill="#fa640d"/>
<path d="M490.3,175.1l9.3,-5.6 -9,-3.5 -9.2,5.5z" fill="#fa360d"/>
<path d="M791.4,223.9l8.2,-0.7 -9.7,-6.7 -8.2,0.5z" fill="#faa70d"/>
<path d="M599.8,172.3l8.9,-3.4 -9.2,-4.6 -9,3.3z" fill="#fa300d"/>
<path d="M745.8,205.8l8.4,-1.1 -9.6,-6.3 -8.4,1.1z" fill="#fa7d0d"/>
<path d="M508.6,173.2l9.1,-5.2 -9,-3.7 -9.1,5.2z" fill="#fa310d"/>
<path d="M581.6,171.4l8.9,-3.8 -9.2,-4.4 -8.9,3.7z" fill="#fa2d0d"/>
<path d="M335.2,231.5l9.4,-9.7 -8.4,-2.3 -9.5,9.5z" fill="#fab50d"/>
<path d="M280.4,269.3l9.5,-11.3 -8.3,-2.2 -9.5,11.2z" fill="#e4f50d"/>
<path d="M526.8,171.9l9.1,-4.9 -9,-3.8 -9.2,4.8z" fill="#fa2e0d"/>
<path d="M563.3,171l9.1,-4.1 -9.2,-4.2 -9,4z" fill="#fa2c0d"/>
<path d="M682,186.9l8.6,-2.1 -9.4,-5.5 -8.7,1.9z" fill="#fa510d"/>
<path d="M545.1,171.2l9.1,-4.5 -9.2,-4 -9.1,4.3z" fill="#fa2c0d"/>
<path d="M307.7,249.5l9.5,-10.5 -8.4,-2.3 -9.4,10.4z" fill="#fadd0d"/>
<path d="M426.4,191.2l9.3,-7.2 -8.7,-2.9 -9.4,7.1z" fill="#fa590d"/>
<path d="M380.7,209.2l9.4,-8.4 -8.6,-2.7 -9.4,8.4z" fill="#fa810d"/>
<path d="M727.7,201l8.5,-1.5 -9.5,-6.1 -8.5,1.4z" fill="#fa710d"/>
<path d="M663.8,183.7l8.7,-2.5 -9.4,-5.3 -8.7,2.3z" fill="#fa490d"/>
<path d="M773.4,217.9l8.3,-0.9 -9.6,-6.7 -8.3,0.9z" fill="#fa970d"/>
<path d="M444.6,187.3l9.3,-6.8 -8.8,-3.2 -9.4,6.7z" fill="#fa4f0d"/>
<path d="M353.2,224.5l9.4,-9.2 -8.5,-2.6 -9.5,9.1z" fill="#faa30d"/>
<path d="M645.6,181l8.8,-2.8 -9.4,-5.2 -8.8,2.7z" fill="#fa420d"/>
<path d="M398.8,203.8l9.4,-8.1 -8.7,-2.8 -9.4,7.9z" fill="#fa740d"/>
<path d="M462.8,183.9l9.3,-6.4 -8.9,-3.4 -9.3,6.4z" fill="#fa470d"/>
<path d="M325.7,241.6l9.5,-10.1 -8.5,-2.5 -9.5,10z" fill="#fac90d"/>
<path d="M709.6,196.6l8.6,-1.8 -9.5,-6 -8.6,1.8z" fill="#fa650d"/>
<path d="M298.2,260.5l9.5,-11 -8.3,-2.4 -9.5,10.9z" fill="#faf40d"/>
<path d="M801.1,231l8.2,-0.7 -9.7,-7.1 -8.2,0.7z" fill="#fab40d"/>
<path d="M627.4,178.8l8.8,-3.1 -9.3,-5 -8.9,3z" fill="#fa3c0d"/>
<path d="M755.4,212.5l8.4,-1.3 -9.6,-6.5 -8.4,1.1z" fill="#fa890d"/>
<path d="M481.1,181.1l9.2,-6 -8.9,-3.6 -9.3,6z" fill="#fa400d"/>
<path d="M609.1,177.2l8.9,-3.5 -9.3,-4.8 -8.9,3.4z" fill="#fa380d"/>
<path d="M499.3,178.9l9.3,-5.7 -9,-3.7 -9.3,5.6z" fill="#fa3b0d"/>
<path d="M417,198.9l9.4,-7.7 -8.8,-3 -9.4,7.5z" fill="#fa670d"/>
<path d="M371.2,218.1l9.5,-8.9 -8.6,-2.7 -9.5,8.8z" fill="#fa930d"/>
<path d="M691.5,192.8l8.6,-2.2 -9.5,-5.8 -8.6,2.1z" fill="#fa5b0d"/>
<path d="M590.8,176.1l9,-3.8 -9.3,-4.7 -8.9,3.8z" fill="#fa350d"/>
<path d="M517.6,177.3l9.2,-5.4 -9.1,-3.9 -9.1,5.2z" fill="#fa370d"/>
<path d="M572.5,175.6l9.1,-4.2 -9.2,-4.5 -9.1,4.1z" fill="#fa330d"/>
<path d="M535.9,176.2l9.2,-5 -9.2,-4.2 -9.1,4.9z" fill="#fa340d"/>
<path d="M554.2,175.6l9.1,-4.6 -9.1,-4.3 -9.1,4.5z" fill="#fa330d"/>
<path d="M343.7,234.3l9.5,-9.8 -8.6,-2.7 -9.4,9.7z" fill="#fab70d"/>
<path d="M737.3,207.5l8.5,-1.7 -9.6,-6.3 -8.5,1.5z" fill="#fa7c0d"/>
<path d="M783.1,225l8.3,-1.1 -9.7,-6.9 -8.3,0.9z" fill="#faa40d"/>
<path d="M288.7,271.9l9.5,-11.4 -8.3,-2.5 -9.5,11.3z" fill="#e3f50d"/>
<path d="M435.2,194.6l9.4,-7.3 -8.9,-3.3 -9.3,7.2z" fill="#fa5d0d"/>
<path d="M673.3,189.4l8.7,-2.5 -9.5,-5.7 -8.7,2.5z" fill="#fa520d"/>
<path d="M316.2,252.2l9.5,-10.6 -8.5,-2.6 -9.5,10.5z" fill="#fadf0d"/>
<path d="M389.4,212.3l9.4,-8.5 -8.7,-3 -9.4,8.4z" fill="#fa840d"/>
<path d="M453.5,190.9l9.3,-7 -8.9,-3.4 -9.3,6.8z" fill="#fa530d"/>
<path d="M655.1,186.6l8.7,-2.9 -9.4,-5.5 -8.8,2.8z" fill="#fa4b0d"/>
<path d="M719.2,203l8.5,-2 -9.5,-6.2 -8.6,1.8z" fill="#fa700d"/>
<path d="M765.1,219.3l8.3,-1.4 -9.6,-6.7 -8.4,1.3z" fill="#fa960d"/>
<path d="M361.8,227.5l9.4,-9.4 -8.6,-2.8 -9.4,9.2z" fill="#faa50d"/>
<path d="M471.8,187.7l9.3,-6.6 -9,-3.6 -9.3,6.4z" fill="#fa4c0d"/>
<path d="M636.8,184.3l8.8,-3.3 -9.4,-5.3 -8.8,3.1z" fill="#fa450d"/>
<path d="M407.6,207.1l9.4,-8.2 -8.8,-3.2 -9.4,8.1z" fill="#fa770d"/>
<path d="M334.2,244.5l9.5,-10.2 -8.5,-2.8 -9.5,10.1z" fill="#facb0d"/>
<path d="M306.7,263.3l9.5,-11.1 -8.5,-2.7 -9.5,11z" fill="#f9f50d"/>
<path d="M618.5,182.5l8.9,-3.7 -9.4,-5.1 -8.9,3.5z" fill="#fa400d"/>
<path d="M490.1,185.1l9.2,-6.2 -9,-3.8 -9.2,6z" fill="#fa450d"/>
<path d="M701,199l8.6,-2.4 -9.5,-6 -8.6,2.2z" fill="#fa660d"/>
<path d="M600.2,181.2l8.9,-4 -9.3,-4.9 -9,3.8z" fill="#fa3d0d"/>
<path d="M508.4,183.1l9.2,-5.8 -9,-4.1 -9.3,5.7z" fill="#fa400d"/>
<path d="M792.8,232.2l8.3,-1.2 -9.7,-7.1 -8.3,1.1z" fill="#fab20d"/>
<path d="M425.8,202.4l9.4,-7.8 -8.8,-3.4 -9.4,7.7z" fill="#fa6b0d"/>
<path d="M747,214.2l8.4,-1.7 -9.6,-6.7 -8.5,1.7z" fill="#fa880d"/>
<path d="M581.8,180.5l9,-4.4 -9.2,-4.7 -9.1,4.2z" fill="#fa3b0d"/>
<path d="M526.8,181.6l9.1,-5.4 -9.1,-4.3 -9.2,5.4z" fill="#fa3d0d"/>
<path d="M379.9,221.4l9.5,-9.1 -8.7,-3.1 -9.5,8.9z" fill="#fa960d"/>
<path d="M563.5,180.3l9,-4.7 -9.2,-4.6 -9.1,4.6z" fill="#fa3a0d"/>
<path d="M545.1,180.7l9.1,-5.1 -9.1,-4.4 -9.2,5z" fill="#fa3b0d"/>
<path d="M682.8,195.4l8.7,-2.6 -9.5,-5.9 -8.7,2.5z" fill="#fa5d0d"/>
<path d="M352.3,237.4l9.5,-9.9 -8.6,-3 -9.5,9.8z" fill="#fab90d"/>
<path d="M444.1,198.3l9.4,-7.4 -8.9,-3.6 -9.4,7.3z" fill="#fa610d"/>
<path d="M297.1,274.8l9.6,-11.5 -8.5,-2.8 -9.5,11.4z" fill="#e1f50d"/>
<path d="M324.7,255.2l9.5,-10.7 -8.5,-2.9 -9.5,10.6z" fill="#fae10d"/>
<path d="M664.5,192.5l8.8,-3.1 -9.5,-5.7 -8.7,2.9z" fill="#fa550d"/>
<path d="M728.8,209.6l8.5,-2.1 -9.6,-6.5 -8.5,2z" fill="#fa7c0d"/>
<path d="M774.8,226.5l8.3,-1.5 -9.7,-7.1 -8.3,1.4z" fill="#faa30d"/>
<path d="M398.1,215.7l9.5,-8.6 -8.8,-3.3 -9.4,8.5z" fill="#fa880d"/>
<path d="M462.4,194.8l9.4,-7.1 -9,-3.8 -9.3,7z" fill="#fa580d"/>
<path d="M646.2,190l8.9,-3.4 -9.5,-5.6 -8.8,3.3z" fill="#fa4e0d"/>
<path d="M480.8,191.8l9.3,-6.7 -9,-4 -9.3,6.6z" fill="#fa510d"/>
<path d="M710.6,205.4l8.6,-2.4 -9.6,-6.4 -8.6,2.4z" fill="#fa710d"/>
<path d="M370.4,230.9l9.5,-9.5 -8.7,-3.3 -9.4,9.4z" fill="#faa90d"/>
<path d="M627.9,188l8.9,-3.7 -9.4,-5.5 -8.9,3.7z" fill="#fa490d"/>
<path d="M416.4,210.7l9.4,-8.3 -8.8,-3.5 -9.4,8.2z" fill="#fa7b0d"/>
<path d="M756.6,221.2l8.5,-1.9 -9.7,-6.8 -8.4,1.7z" fill="#fa950d"/>
<path d="M499.1,189.4l9.3,-6.3 -9.1,-4.2 -9.2,6.2z" fill="#fa4b0d"/>
<path d="M609.5,186.6l9,-4.1 -9.4,-5.3 -8.9,4z" fill="#fa450d"/>
<path d="M342.8,247.8l9.5,-10.4 -8.6,-3.1 -9.5,10.2z" fill="#face0d"/>
<path d="M315.2,266.4l9.5,-11.2 -8.5,-3 -9.5,11.1z" fill="#f7f50d"/>
<path d="M517.5,187.6l9.3,-6 -9.2,-4.3 -9.2,5.8z" fill="#fa470d"/>
<path d="M591.1,185.7l9.1,-4.5 -9.4,-5.1 -9,4.4z" fill="#fa430d"/>
<path d="M692.3,201.8l8.7,-2.8 -9.5,-6.2 -8.7,2.6z" fill="#fa680d"/>
<path d="M535.9,186.3l9.2,-5.6 -9.2,-4.5 -9.1,5.4z" fill="#fa440d"/>
<path d="M572.7,185.3l9.1,-4.8 -9.3,-4.9 -9,4.7z" fill="#fa420d"/>
<path d="M554.3,185.5l9.2,-5.2 -9.3,-4.7 -9.1,5.1z" fill="#fa420d"/>
<path d="M434.7,206.2l9.4,-7.9 -8.9,-3.7 -9.4,7.8z" fill="#fa700d"/>
<path d="M388.6,224.9l9.5,-9.2 -8.7,-3.4 -9.5,9.1z" fill="#fa9a0d"/>
<path d="M738.5,216.5l8.5,-2.3 -9.7,-6.7 -8.5,2.1z" fill="#fa890d"/>
<path d="M784.5,233.9l8.3,-1.7 -9.7,-7.2 -8.3,1.5z" fill="#fab00d"/>
<path d="M674,198.6l8.8,-3.2 -9.5,-6 -8.8,3.1z" fill="#fa600d"/>
<path d="M453,202.3l9.4,-7.5 -8.9,-3.9 -9.4,7.4z" fill="#fa660d"/>
<path d="M360.9,240.9l9.5,-10 -8.6,-3.4 -9.5,9.9z" fill="#fabd0d"/>
<path d="M305.6,278.1l9.6,-11.7 -8.5,-3.1 -9.6,11.5z" fill="#def50d"/>
<path d="M333.2,258.6l9.6,-10.8 -8.6,-3.3 -9.5,10.7z" fill="#fae40d"/>
<path d="M655.7,196l8.8,-3.5 -9.4,-5.9 -8.9,3.4z" fill="#fa590d"/>
<path d="M406.9,219.5l9.5,-8.8 -8.8,-3.6 -9.5,8.6z" fill="#fa8c0d"/>
<path d="M471.4,199l9.4,-7.2 -9,-4.1 -9.4,7.1z" fill="#fa5e0d"/>
<path d="M720.2,212.2l8.6,-2.6 -9.6,-6.6 -8.6,2.4z" fill="#fa7d0d"/>
<path d="M766.3,228.5l8.5,-2 -9.7,-7.2 -8.5,1.9z" fill="#faa20d"/>
<path d="M637.3,193.9l8.9,-3.9 -9.4,-5.7 -8.9,3.7z" fill="#fa530d"/>
<path d="M489.8,196.2l9.3,-6.8 -9,-4.3 -9.3,6.7z" fill="#fa570d"/>
<path d="M379.2,234.5l9.4,-9.6 -8.7,-3.5 -9.5,9.5z" fill="#faad0d"/>
<path d="M618.9,192.3l9,-4.3 -9.4,-5.5 -9,4.1z" fill="#fa4f0d"/>
<path d="M425.2,214.6l9.5,-8.4 -8.9,-3.8 -9.4,8.3z" fill="#fa800d"/>
<path d="M508.2,194l9.3,-6.4 -9.1,-4.5 -9.3,6.3z" fill="#fa520d"/>
<path d="M701.9,208.3l8.7,-2.9 -9.6,-6.4 -8.7,2.8z" fill="#fa740d"/>
<path d="M600.5,191.2l9,-4.6 -9.3,-5.4 -9.1,4.5z" fill="#fa4c0d"/>
<path d="M526.7,192.3l9.2,-6 -9.1,-4.7 -9.3,6z" fill="#fa4e0d"/>
<path d="M582,190.7l9.1,-5 -9.3,-5.2 -9.1,4.8z" fill="#fa4a0d"/>
<path d="M351.4,251.3l9.5,-10.4 -8.6,-3.5 -9.5,10.4z" fill="#fad20d"/>
<path d="M545.1,191.2l9.2,-5.7 -9.2,-4.8 -9.2,5.6z" fill="#fa4b0d"/>
<path d="M563.6,190.7l9.1,-5.4 -9.2,-5 -9.2,5.2z" fill="#fa4a0d"/>
<path d="M323.7,269.9l9.5,-11.3 -8.5,-3.4 -9.5,11.2z" fill="#f3f50d"/>
<path d="M748.1,223.6l8.5,-2.4 -9.6,-7 -8.5,2.3z" fill="#fa960d"/>
<path d="M443.6,210.4l9.4,-8.1 -8.9,-4 -9.4,7.9z" fill="#fa750d"/>
<path d="M683.6,205l8.7,-3.2 -9.5,-6.4 -8.8,3.2z" fill="#fa6b0d"/>
<path d="M397.4,228.7l9.5,-9.2 -8.8,-3.8 -9.5,9.2z" fill="#fa9e0d"/>
<path d="M462,206.7l9.4,-7.7 -9,-4.2 -9.4,7.5z" fill="#fa6c0d"/>
<path d="M665.2,202.3l8.8,-3.7 -9.5,-6.1 -8.8,3.5z" fill="#fa640d"/>
<path d="M729.9,219.2l8.6,-2.7 -9.7,-6.9 -8.6,2.6z" fill="#fa8a0d"/>
<path d="M369.6,244.6l9.6,-10.1 -8.8,-3.6 -9.5,10z" fill="#fac10d"/>
<path d="M776.1,236.1l8.4,-2.2 -9.7,-7.4 -8.5,2z" fill="#fab00d"/>
<path d="M314.2,281.7l9.5,-11.8 -8.5,-3.5 -9.6,11.7z" fill="#dbf50d"/>
<path d="M415.8,223.5l9.4,-8.9 -8.8,-3.9 -9.5,8.8z" fill="#fa910d"/>
<path d="M480.5,203.5l9.3,-7.3 -9,-4.4 -9.4,7.2z" fill="#fa650d"/>
<path d="M646.8,200l8.9,-4 -9.5,-6 -8.9,3.9z" fill="#fa5e0d"/>
<path d="M341.9,262.3l9.5,-11 -8.6,-3.5 -9.6,10.8z" fill="#fae80d"/>
<path d="M711.5,215.2l8.7,-3 -9.6,-6.8 -8.7,2.9z" fill="#fa800d"/>
<path d="M498.9,200.9l9.3,-6.9 -9.1,-4.6 -9.3,6.8z" fill="#fa5e0d"/>
<path d="M628.4,198.2l8.9,-4.3 -9.4,-5.9 -9,4.3z" fill="#fa590d"/>
<path d="M609.9,197l9,-4.7 -9.4,-5.7 -9,4.6z" fill="#fa560d"/>
<path d="M517.4,198.9l9.3,-6.6 -9.2,-4.7 -9.3,6.4z" fill="#fa590d"/>
<path d="M757.8,231l8.5,-2.5 -9.7,-7.3 -8.5,2.4z" fill="#faa30d"/>
<path d="M434.2,218.9l9.4,-8.5 -8.9,-4.2 -9.5,8.4z" fill="#fa860d"/>
<path d="M387.9,238.5l9.5,-9.8 -8.8,-3.8 -9.4,9.6z" fill="#fab10d"/>
<path d="M591.4,196.3l9.1,-5.1 -9.4,-5.5 -9.1,5z" fill="#fa540d"/>
<path d="M535.9,197.4l9.2,-6.2 -9.2,-4.9 -9.2,6z" fill="#fa560d"/>
<path d="M572.9,196.1l9.1,-5.4 -9.3,-5.4 -9.1,5.4z" fill="#fa530d"/>
<path d="M554.4,196.5l9.2,-5.8 -9.3,-5.2 -9.2,5.7z" fill="#fa540d"/>
<path d="M693.2,211.8l8.7,-3.5 -9.6,-6.5 -8.7,3.2z" fill="#fa770d"/>
<path d="M360.1,255.2l9.5,-10.6 -8.7,-3.7 -9.5,10.4z" fill="#fad60d"/>
<path d="M332.3,273.7l9.6,-11.4 -8.7,-3.7 -9.5,11.3z" fill="#eff50d"/>
<path d="M452.6,214.8l9.4,-8.1 -9,-4.4 -9.4,8.1z" fill="#fa7c0d"/>
<path d="M739.5,226.5l8.6,-2.9 -9.6,-7.1 -8.6,2.7z" fill="#fa970d"/>
<path d="M674.8,208.8l8.8,-3.8 -9.6,-6.4 -8.8,3.7z" fill="#fa6f0d"/>
<path d="M406.3,232.9l9.5,-9.4 -8.9,-4 -9.5,9.2z" fill="#faa30d"/>
<path d="M471.1,211.3l9.4,-7.8 -9.1,-4.5 -9.4,7.7z" fill="#fa730d"/>
<path d="M656.3,206.4l8.9,-4.1 -9.5,-6.3 -8.9,4z" fill="#fa690d"/>
<path d="M378.4,248.7l9.5,-10.2 -8.7,-4 -9.6,10.1z" fill="#fac60d"/>
<path d="M721.2,222.4l8.7,-3.2 -9.7,-7 -8.7,3z" fill="#fa8d0d"/>
<path d="M489.6,208.3l9.3,-7.4 -9.1,-4.7 -9.3,7.3z" fill="#fa6c0d"/>
<path d="M424.7,227.9l9.5,-9 -9,-4.3 -9.4,8.9z" fill="#fa970d"/>
<path d="M637.8,204.5l9,-4.5 -9.5,-6.1 -8.9,4.3z" fill="#fa640d"/>
<path d="M322.8,285.6l9.5,-11.9 -8.6,-3.8 -9.5,11.8z" fill="#d6f50d"/>
<path d="M350.6,266.3l9.5,-11.1 -8.7,-3.9 -9.5,11z" fill="#faed0d"/>
<path d="M767.6,238.7l8.5,-2.6 -9.8,-7.6 -8.5,2.5z" fill="#fab10d"/>
<path d="M508.1,205.9l9.3,-7 -9.2,-4.9 -9.3,6.9z" fill="#fa660d"/>
<path d="M619.3,203.1l9.1,-4.9 -9.5,-5.9 -9,4.7z" fill="#fa600d"/>
<path d="M526.6,204.1l9.3,-6.7 -9.2,-5.1 -9.3,6.6z" fill="#fa610d"/>
<path d="M600.8,202.2l9.1,-5.2 -9.4,-5.8 -9.1,5.1z" fill="#fa5e0d"/>
<path d="M702.8,218.8l8.7,-3.6 -9.6,-6.9 -8.7,3.5z" fill="#fa830d"/>
<path d="M545.2,202.8l9.2,-6.3 -9.3,-5.3 -9.2,6.2z" fill="#fa5e0d"/>
<path d="M582.3,201.9l9.1,-5.6 -9.4,-5.6 -9.1,5.4z" fill="#fa5c0d"/>
<path d="M443.2,223.5l9.4,-8.7 -9,-4.4 -9.4,8.5z" fill="#fa8c0d"/>
<path d="M563.7,202.1l9.2,-6 -9.3,-5.4 -9.2,5.8z" fill="#fa5d0d"/>
<path d="M396.8,242.8l9.5,-9.9 -8.9,-4.2 -9.5,9.8z" fill="#fab70d"/>
<path d="M749.3,234l8.5,-3 -9.7,-7.4 -8.6,2.9z" fill="#faa50d"/>
<path d="M684.4,215.7l8.8,-3.9 -9.6,-6.8 -8.8,3.8z" fill="#fa7b0d"/>
<path d="M368.9,259.4l9.5,-10.7 -8.8,-4.1 -9.5,10.6z" fill="#fadb0d"/>
<path d="M461.6,219.6l9.5,-8.3 -9.1,-4.6 -9.4,8.1z" fill="#fa820d"/>
<path d="M341,277.9l9.6,-11.6 -8.7,-4 -9.6,11.4z" fill="#eaf50d"/>
<path d="M415.2,237.4l9.5,-9.5 -8.9,-4.4 -9.5,9.4z" fill="#faaa0d"/>
<path d="M665.9,213.1l8.9,-4.3 -9.6,-6.5 -8.9,4.1z" fill="#fa750d"/>
<path d="M730.9,229.8l8.6,-3.3 -9.6,-7.3 -8.7,3.2z" fill="#fa9a0d"/>
<path d="M480.2,216.2l9.4,-7.9 -9.1,-4.8 -9.4,7.8z" fill="#fa7a0d"/>
<path d="M647.4,211l8.9,-4.6 -9.5,-6.4 -9,4.5z" fill="#fa6f0d"/>
<path d="M498.7,213.5l9.4,-7.6 -9.2,-5 -9.3,7.4z" fill="#fa740d"/>
<path d="M387.2,253.1l9.6,-10.3 -8.9,-4.3 -9.5,10.2z" fill="#facb0d"/>
<path d="M433.7,232.6l9.5,-9.1 -9,-4.6 -9.5,9z" fill="#fa9e0d"/>
<path d="M628.8,209.4l9,-4.9 -9.4,-6.3 -9.1,4.9z" fill="#fa6b0d"/>
<path d="M712.5,226l8.7,-3.6 -9.7,-7.2 -8.7,3.6z" fill="#fa910d"/>
<path d="M517.3,211.3l9.3,-7.2 -9.2,-5.2 -9.3,7z" fill="#fa6e0d"/>
<path d="M359.3,270.6l9.6,-11.2 -8.8,-4.2 -9.5,11.1z" fill="#faf20d"/>
<path d="M331.4,289.9l9.6,-12 -8.7,-4.2 -9.5,11.9z" fill="#d1f50d"/>
<path d="M610.3,208.4l9,-5.3 -9.4,-6.1 -9.1,5.2z" fill="#fa680d"/>
<path d="M535.9,209.6l9.3,-6.8 -9.3,-5.4 -9.3,6.7z" fill="#fa6a0d"/>
<path d="M591.7,207.9l9.1,-5.7 -9.4,-5.9 -9.1,5.6z" fill="#fa670d"/>
<path d="M759,241.8l8.6,-3.1 -9.8,-7.7 -8.5,3z" fill="#fab40d"/>
<path d="M554.5,208.5l9.2,-6.4 -9.3,-5.6 -9.2,6.3z" fill="#fa680d"/>
<path d="M573.1,207.9l9.2,-6 -9.4,-5.8 -9.2,6z" fill="#fa660d"/>
<path d="M452.2,228.3l9.4,-8.7 -9,-4.8 -9.4,8.7z" fill="#fa930d"/>
<path d="M694,222.8l8.8,-4 -9.6,-7 -8.8,3.9z" fill="#fa880d"/>
<path d="M405.7,247.4l9.5,-10 -8.9,-4.5 -9.5,9.9z" fill="#fabd0d"/>
<path d="M470.7,224.6l9.5,-8.4 -9.1,-4.9 -9.5,8.3z" fill="#fa8a0d"/>
<path d="M377.7,264l9.5,-10.9 -8.8,-4.4 -9.5,10.7z" fill="#fae10d"/>
<path d="M740.6,237.5l8.7,-3.5 -9.8,-7.5 -8.6,3.3z" fill="#faa80d"/>
<path d="M675.5,220.1l8.9,-4.4 -9.6,-6.9 -8.9,4.3z" fill="#fa810d"/>
<path d="M349.7,282.3l9.6,-11.7 -8.7,-4.3 -9.6,11.6z" fill="#e5f50d"/>
<path d="M424.2,242.2l9.5,-9.6 -9,-4.7 -9.5,9.5z" fill="#fab00d"/>
<path d="M489.3,221.5l9.4,-8 -9.1,-5.2 -9.4,7.9z" fill="#fa820d"/>
<path d="M656.9,217.8l9,-4.7 -9.6,-6.7 -8.9,4.6z" fill="#fa7b0d"/>
<path d="M722.2,233.6l8.7,-3.8 -9.7,-7.4 -8.7,3.6z" fill="#fa9e0d"/>
<path d="M507.9,218.9l9.4,-7.6 -9.2,-5.4 -9.4,7.6z" fill="#fa7c0d"/>
<path d="M638.3,216.1l9.1,-5.1 -9.6,-6.5 -9,4.9z" fill="#fa770d"/>
<path d="M396.1,257.9l9.6,-10.5 -8.9,-4.6 -9.6,10.3z" fill="#fad20d"/>
<path d="M442.7,237.6l9.5,-9.3 -9,-4.8 -9.5,9.1z" fill="#faa50d"/>
<path d="M526.6,216.9l9.3,-7.3 -9.3,-5.5 -9.3,7.2z" fill="#fa770d"/>
<path d="M619.7,214.9l9.1,-5.5 -9.5,-6.3 -9,5.3z" fill="#fa730d"/>
<path d="M545.2,215.4l9.3,-6.9 -9.3,-5.7 -9.3,6.8z" fill="#fa740d"/>
<path d="M601.1,214.2l9.2,-5.8 -9.5,-6.2 -9.1,5.7z" fill="#fa710d"/>
<path d="M368.1,275.3l9.6,-11.3 -8.8,-4.6 -9.6,11.2z" fill="#f7f50d"/>
<path d="M340.2,294.5l9.5,-12.2 -8.7,-4.4 -9.6,12z" fill="#cbf50d"/>
<path d="M563.8,214.5l9.3,-6.6 -9.4,-5.8 -9.2,6.4z" fill="#fa720d"/>
<path d="M582.5,214.1l9.2,-6.2 -9.4,-6 -9.2,6z" fill="#fa710d"/>
<path d="M703.7,230.2l8.8,-4.2 -9.7,-7.2 -8.8,4z" fill="#fa960d"/>
<path d="M461.3,233.5l9.4,-8.9 -9.1,-5 -9.4,8.7z" fill="#fa9b0d"/>
<path d="M750.4,245.5l8.6,-3.7 -9.7,-7.8 -8.7,3.5z" fill="#fab70d"/>
<path d="M414.6,252.3l9.6,-10.1 -9,-4.8 -9.5,10z" fill="#fac40d"/>
<path d="M685.1,227.3l8.9,-4.5 -9.6,-7.1 -8.9,4.4z" fill="#fa8e0d"/>
<path d="M479.9,230l9.4,-8.5 -9.1,-5.3 -9.5,8.4z" fill="#fa920d"/>
<path d="M386.6,268.8l9.5,-10.9 -8.9,-4.8 -9.5,10.9z" fill="#fae80d"/>
<path d="M666.5,224.9l9,-4.8 -9.6,-7 -9,4.7z" fill="#fa880d"/>
<path d="M358.5,287.1l9.6,-11.8 -8.8,-4.7 -9.6,11.7z" fill="#def50d"/>
<path d="M731.9,241.4l8.7,-3.9 -9.7,-7.7 -8.7,3.8z" fill="#faad0d"/>
<path d="M433.2,247.3l9.5,-9.7 -9,-5 -9.5,9.6z" fill="#fab80d"/>
<path d="M498.5,227.1l9.4,-8.2 -9.2,-5.4 -9.4,8z" fill="#fa8b0d"/>
<path d="M647.9,223.1l9,-5.3 -9.5,-6.8 -9.1,5.1z" fill="#fa830d"/>
<path d="M517.2,224.7l9.4,-7.8 -9.3,-5.6 -9.4,7.6z" fill="#fa850d"/>
<path d="M629.3,221.7l9,-5.6 -9.5,-6.7 -9.1,5.5z" fill="#fa7f0d"/>
<path d="M535.9,222.8l9.3,-7.4 -9.3,-5.8 -9.3,7.3z" fill="#fa810d"/>
<path d="M713.4,237.9l8.8,-4.3 -9.7,-7.6 -8.8,4.2z" fill="#faa40d"/>
<path d="M405.1,262.9l9.5,-10.6 -8.9,-4.9 -9.6,10.5z" fill="#fad90d"/>
<path d="M610.6,220.9l9.1,-6 -9.4,-6.5 -9.2,5.8z" fill="#fa7d0d"/>
<path d="M451.8,242.9l9.5,-9.4 -9.1,-5.2 -9.5,9.3z" fill="#faad0d"/>
<path d="M554.6,221.5l9.2,-7 -9.3,-6 -9.3,6.9z" fill="#fa7e0d"/>
<path d="M591.9,220.5l9.2,-6.3 -9.4,-6.3 -9.2,6.2z" fill="#fa7c0d"/>
<path d="M573.2,220.8l9.3,-6.7 -9.4,-6.2 -9.3,6.6z" fill="#fa7c0d"/>
<path d="M377,280.3l9.6,-11.5 -8.9,-4.8 -9.6,11.3z" fill="#f0f50d"/>
<path d="M348.9,299.4l9.6,-12.3 -8.8,-4.8 -9.5,12.2z" fill="#c4f50d"/>
<path d="M694.8,234.9l8.9,-4.7 -9.7,-7.4 -8.9,4.5z" fill="#fa9c0d"/>
<path d="M470.4,239.1l9.5,-9.1 -9.2,-5.4 -9.4,8.9z" fill="#faa30d"/>
<path d="M423.7,257.6l9.5,-10.3 -9,-5.1 -9.6,10.1z" fill="#facc0d"/>
<path d="M676.2,232.3l8.9,-5 -9.6,-7.2 -9,4.8z" fill="#fa950d"/>
<path d="M741.6,249.5l8.8,-4 -9.8,-8 -8.7,3.9z" fill="#fabc0d"/>
<path d="M489.1,235.7l9.4,-8.6 -9.2,-5.6 -9.4,8.5z" fill="#fa9b0d"/>
<path d="M395.5,274l9.6,-11.1 -9,-5 -9.5,10.9z" fill="#faef0d"/>
<path d="M657.5,230.3l9,-5.4 -9.6,-7.1 -9,5.3z" fill="#fa900d"/>
<path d="M507.8,233l9.4,-8.3 -9.3,-5.8 -9.4,8.2z" fill="#fa950d"/>
<path d="M367.4,292.2l9.6,-11.9 -8.9,-5 -9.6,11.8z" fill="#d7f50d"/>
<path d="M442.3,252.8l9.5,-9.9 -9.1,-5.3 -9.5,9.7z" fill="#fac00d"/>
<path d="M638.8,228.8l9.1,-5.7 -9.6,-7 -9,5.6z" fill="#fa8c0d"/>
<path d="M723.1,245.9l8.8,-4.5 -9.7,-7.8 -8.8,4.3z" fill="#fab20d"/>
<path d="M526.5,230.8l9.4,-8 -9.3,-5.9 -9.4,7.8z" fill="#fa8f0d"/>
<path d="M620.1,227.8l9.2,-6.1 -9.6,-6.8 -9.1,6z" fill="#fa890d"/>
<path d="M545.2,229.1l9.4,-7.6 -9.4,-6.1 -9.3,7.4z" fill="#fa8b0d"/>
<path d="M601.4,227.3l9.2,-6.4 -9.5,-6.7 -9.2,6.3z" fill="#fa880d"/>
<path d="M564,228l9.2,-7.2 -9.4,-6.3 -9.2,7z" fill="#fa890d"/>
<path d="M582.7,227.4l9.2,-6.9 -9.4,-6.4 -9.3,6.7z" fill="#fa880d"/>
<path d="M460.9,248.6l9.5,-9.5 -9.1,-5.6 -9.5,9.4z" fill="#fab60d"/>
<path d="M414.1,268.3l9.6,-10.7 -9.1,-5.3 -9.5,10.6z" fill="#fae10d"/>
<path d="M704.5,242.7l8.9,-4.8 -9.7,-7.7 -8.9,4.7z" fill="#faaa0d"/>
<path d="M385.9,285.6l9.6,-11.6 -8.9,-5.2 -9.6,11.5z" fill="#e8f50d"/>
<path d="M357.8,304.6l9.6,-12.4 -8.9,-5.1 -9.6,12.3z" fill="#bdf50d"/>
<path d="M479.6,244.9l9.5,-9.2 -9.2,-5.7 -9.5,9.1z" fill="#faad0d"/>
<path d="M685.8,240l9,-5.1 -9.7,-7.6 -8.9,5z" fill="#faa30d"/>
<path d="M432.7,263.2l9.6,-10.4 -9.1,-5.5 -9.5,10.3z" fill="#fad40d"/>
<path d="M498.3,241.7l9.5,-8.7 -9.3,-5.9 -9.4,8.6z" fill="#faa50d"/>
<path d="M667.2,237.8l9,-5.5 -9.7,-7.4 -9,5.4z" fill="#fa9d0d"/>
<path d="M732.9,254.1l8.7,-4.6 -9.7,-8.1 -8.8,4.5z" fill="#fac20d"/>
<path d="M404.5,279.5l9.6,-11.2 -9,-5.4 -9.6,11.1z" fill="#f7f50d"/>
<path d="M517.1,239.2l9.4,-8.4 -9.3,-6.1 -9.4,8.3z" fill="#fa9f0d"/>
<path d="M648.4,236.2l9.1,-5.9 -9.6,-7.2 -9.1,5.7z" fill="#fa990d"/>
<path d="M451.4,258.6l9.5,-10 -9.1,-5.7 -9.5,9.9z" fill="#fac90d"/>
<path d="M376.3,297.7l9.6,-12.1 -8.9,-5.3 -9.6,11.9z" fill="#cff50d"/>
<path d="M535.9,237.1l9.3,-8 -9.3,-6.3 -9.4,8z" fill="#fa9a0d"/>
<path d="M629.7,235l9.1,-6.2 -9.5,-7.1 -9.2,6.1z" fill="#fa960d"/>
<path d="M554.6,235.6l9.4,-7.6 -9.4,-6.5 -9.4,7.6z" fill="#fa960d"/>
<path d="M611,234.4l9.1,-6.6 -9.5,-6.9 -9.2,6.4z" fill="#fa940d"/>
<path d="M714.2,250.8l8.9,-4.9 -9.7,-8 -8.9,4.8z" fill="#fab90d"/>
<path d="M573.4,234.7l9.3,-7.3 -9.5,-6.6 -9.2,7.2z" fill="#fa940d"/>
<path d="M592.2,234.3l9.2,-7 -9.5,-6.8 -9.2,6.9z" fill="#fa930d"/>
<path d="M470.1,254.5l9.5,-9.6 -9.2,-5.8 -9.5,9.5z" fill="#fabf0d"/>
<path d="M423.1,274l9.6,-10.8 -9,-5.6 -9.6,10.7z" fill="#faea0d"/>
<path d="M695.6,248l8.9,-5.3 -9.7,-7.8 -9,5.1z" fill="#fab20d"/>
<path d="M394.9,291.2l9.6,-11.7 -9,-5.5 -9.6,11.6z" fill="#dff50d"/>
<path d="M488.9,251l9.4,-9.3 -9.2,-6 -9.5,9.2z" fill="#fab70d"/>
<path d="M366.7,310.2l9.6,-12.5 -8.9,-5.5 -9.6,12.4z" fill="#b5f50d"/>
<path d="M676.8,245.7l9,-5.7 -9.6,-7.7 -9,5.5z" fill="#faac0d"/>
<path d="M441.8,269.1l9.6,-10.5 -9.1,-5.8 -9.6,10.4z" fill="#fade0d"/>
<path d="M507.6,248.1l9.5,-8.9 -9.3,-6.2 -9.5,8.7z" fill="#faaf0d"/>
<path d="M658.1,243.8l9.1,-6 -9.7,-7.5 -9.1,5.9z" fill="#faa70d"/>
<path d="M526.4,245.7l9.5,-8.6 -9.4,-6.3 -9.4,8.4z" fill="#faaa0d"/>
<path d="M413.6,285.4l9.5,-11.4 -9,-5.7 -9.6,11.2z" fill="#eef50d"/>
<path d="M639.3,242.5l9.1,-6.3 -9.6,-7.4 -9.1,6.2z" fill="#faa30d"/>
<path d="M724,259.2l8.9,-5.1 -9.8,-8.2 -8.9,4.9z" fill="#fac90d"/>
<path d="M460.6,264.6l9.5,-10.1 -9.2,-5.9 -9.5,10z" fill="#fad30d"/>
<path d="M545.3,243.8l9.3,-8.2 -9.4,-6.5 -9.3,8z" fill="#faa50d"/>
<path d="M620.5,241.7l9.2,-6.7 -9.6,-7.2 -9.1,6.6z" fill="#faa10d"/>
<path d="M385.3,303.4l9.6,-12.2 -9,-5.6 -9.6,12.1z" fill="#c6f50d"/>
<path d="M564.1,242.5l9.3,-7.8 -9.4,-6.7 -9.4,7.6z" fill="#faa20d"/>
<path d="M601.7,241.5l9.3,-7.1 -9.6,-7.1 -9.2,7z" fill="#faa00d"/>
<path d="M582.9,241.7l9.3,-7.4 -9.5,-6.9 -9.3,7.3z" fill="#faa00d"/>
<path d="M705.3,256.2l8.9,-5.4 -9.7,-8.1 -8.9,5.3z" fill="#fac10d"/>
<path d="M479.4,260.8l9.5,-9.8 -9.3,-6.1 -9.5,9.6z" fill="#fac90d"/>
<path d="M432.3,280l9.5,-10.9 -9.1,-5.9 -9.6,10.8z" fill="#faf30d"/>
<path d="M686.6,253.8l9,-5.8 -9.8,-8 -9,5.7z" fill="#faba0d"/>
<path d="M498.2,257.5l9.4,-9.4 -9.3,-6.4 -9.4,9.3z" fill="#fac10d"/>
<path d="M403.9,297.2l9.7,-11.8 -9.1,-5.9 -9.6,11.7z" fill="#d6f50d"/>
<path d="M375.7,316.1l9.6,-12.7 -9,-5.7 -9.6,12.5z" fill="#acf50d"/>
<path d="M667.8,251.8l9,-6.1 -9.6,-7.9 -9.1,6z" fill="#fab50d"/>
<path d="M451,275.3l9.6,-10.7 -9.2,-6 -9.6,10.5z" fill="#fae80d"/>
<path d="M517,254.7l9.4,-9 -9.3,-6.5 -9.5,8.9z" fill="#fabb0d"/>
<path d="M649,250.3l9.1,-6.5 -9.7,-7.6 -9.1,6.3z" fill="#fab10d"/>
<path d="M535.8,252.5l9.5,-8.7 -9.4,-6.7 -9.5,8.6z" fill="#fab50d"/>
<path d="M630.1,249.4l9.2,-6.9 -9.6,-7.5 -9.2,6.7z" fill="#faaf0d"/>
<path d="M554.7,250.8l9.4,-8.3 -9.5,-6.9 -9.3,8.2z" fill="#fab10d"/>
<path d="M422.7,291.5l9.6,-11.5 -9.2,-6 -9.5,11.4z" fill="#e4f50d"/>
<path d="M469.8,271l9.6,-10.2 -9.3,-6.3 -9.5,10.1z" fill="#fadd0d"/>
<path d="M611.3,248.9l9.2,-7.2 -9.5,-7.3 -9.3,7.1z" fill="#faad0d"/>
<path d="M573.6,249.7l9.3,-8 -9.5,-7 -9.3,7.8z" fill="#faaf0d"/>
<path d="M592.4,249l9.3,-7.5 -9.5,-7.2 -9.3,7.4z" fill="#faad0d"/>
<path d="M715.1,264.8l8.9,-5.6 -9.8,-8.4 -8.9,5.4z" fill="#fad10d"/>
<path d="M394.3,309.5l9.6,-12.3 -9,-6 -9.6,12.2z" fill="#bcf50d"/>
<path d="M488.6,267.4l9.6,-9.9 -9.3,-6.5 -9.5,9.8z" fill="#fad40d"/>
<path d="M696.3,262.1l9,-5.9 -9.7,-8.2 -9,5.8z" fill="#faca0d"/>
<path d="M441.4,286.4l9.6,-11.1 -9.2,-6.2 -9.5,10.9z" fill="#f1f50d"/>
<path d="M507.5,264.2l9.5,-9.5 -9.4,-6.6 -9.4,9.4z" fill="#facd0d"/>
<path d="M677.5,260l9.1,-6.2 -9.8,-8.1 -9,6.1z" fill="#fac40d"/>
<path d="M413,303.5l9.7,-12 -9.1,-6.1 -9.7,11.8z" fill="#ccf50d"/>
<path d="M384.7,322.3l9.6,-12.8 -9,-6.1 -9.6,12.7z" fill="#a2f50d"/>
<path d="M526.4,261.7l9.4,-9.2 -9.4,-6.8 -9.4,9z" fill="#fac60d"/>
<path d="M460.2,281.8l9.6,-10.8 -9.2,-6.4 -9.6,10.7z" fill="#faf20d"/>
<path d="M658.6,258.4l9.2,-6.6 -9.7,-8 -9.1,6.5z" fill="#fac00d"/>
<path d="M545.3,259.6l9.4,-8.8 -9.4,-7 -9.5,8.7z" fill="#fac20d"/>
<path d="M639.8,257.3l9.2,-7 -9.7,-7.8 -9.2,6.9z" fill="#fabd0d"/>
<path d="M564.2,258.1l9.4,-8.4 -9.5,-7.2 -9.4,8.3z" fill="#fabe0d"/>
<path d="M620.9,256.7l9.2,-7.3 -9.6,-7.7 -9.2,7.2z" fill="#fabb0d"/>
<path d="M583.1,257.1l9.3,-8.1 -9.5,-7.3 -9.3,8z" fill="#fabc0d"/>
<path d="M602,256.7l9.3,-7.8 -9.6,-7.4 -9.3,7.5z" fill="#fabb0d"/>
<path d="M431.8,298l9.6,-11.6 -9.1,-6.4 -9.6,11.5z" fill="#d9f50d"/>
<path d="M479.1,277.8l9.5,-10.4 -9.2,-6.6 -9.6,10.2z" fill="#fae80d"/>
<path d="M403.4,315.9l9.6,-12.4 -9.1,-6.3 -9.6,12.3z" fill="#b2f50d"/>
<path d="M706.1,270.8l9,-6 -9.8,-8.6 -9,5.9z" fill="#fada0d"/>
<path d="M498,274.3l9.5,-10.1 -9.3,-6.7 -9.6,9.9z" fill="#fae00d"/>
<path d="M450.6,293.1l9.6,-11.3 -9.2,-6.5 -9.6,11.1z" fill="#e6f50d"/>
<path d="M687.2,268.6l9.1,-6.5 -9.7,-8.3 -9.1,6.2z" fill="#fad40d"/>
<path d="M516.9,271.3l9.5,-9.6 -9.4,-7 -9.5,9.5z" fill="#fad90d"/>
<path d="M668.4,266.8l9.1,-6.8 -9.7,-8.2 -9.2,6.6z" fill="#facf0d"/>
<path d="M422.2,310.1l9.6,-12.1 -9.1,-6.5 -9.7,12z" fill="#c1f50d"/>
<path d="M535.8,268.9l9.5,-9.3 -9.5,-7.1 -9.4,9.2z" fill="#fad30d"/>
<path d="M393.8,328.9l9.6,-13 -9.1,-6.4 -9.6,12.8z" fill="#97f50d"/>
<path d="M469.5,288.7l9.6,-10.9 -9.3,-6.8 -9.6,10.8z" fill="#f1f50d"/>
<path d="M649.5,265.6l9.1,-7.2 -9.6,-8.1 -9.2,7z" fill="#facc0d"/>
<path d="M554.8,267l9.4,-8.9 -9.5,-7.3 -9.4,8.8z" fill="#face0d"/>
<path d="M630.5,264.8l9.3,-7.5 -9.7,-7.9 -9.2,7.3z" fill="#faca0d"/>
<path d="M573.7,265.7l9.4,-8.6 -9.5,-7.4 -9.4,8.4z" fill="#facb0d"/>
<path d="M611.6,264.6l9.3,-7.9 -9.6,-7.8 -9.3,7.8z" fill="#fac90d"/>
<path d="M592.7,264.9l9.3,-8.2 -9.6,-7.7 -9.3,8.1z" fill="#faca0d"/>
<path d="M488.4,284.8l9.6,-10.5 -9.4,-6.9 -9.5,10.4z" fill="#faf40d"/>
<path d="M441,304.8l9.6,-11.7 -9.2,-6.7 -9.6,11.6z" fill="#cef50d"/>
<path d="M412.6,322.7l9.6,-12.6 -9.2,-6.6 -9.6,12.4z" fill="#a7f50d"/>
<path d="M507.4,281.5l9.5,-10.2 -9.4,-7.1 -9.5,10.1z" fill="#faec0d"/>
<path d="M697,277.4l9.1,-6.6 -9.8,-8.7 -9.1,6.5z" fill="#fae40d"/>
<path d="M459.9,300l9.6,-11.3 -9.3,-6.9 -9.6,11.3z" fill="#daf50d"/>
<path d="M526.3,278.7l9.5,-9.8 -9.4,-7.2 -9.5,9.6z" fill="#fae50d"/>
<path d="M678.1,275.5l9.1,-6.9 -9.7,-8.6 -9.1,6.8z" fill="#fadf0d"/>
<path d="M659.2,274.1l9.2,-7.3 -9.8,-8.4 -9.1,7.2z" fill="#fadc0d"/>
<path d="M545.3,276.5l9.5,-9.5 -9.5,-7.4 -9.5,9.3z" fill="#fae00d"/>
<path d="M431.4,317l9.6,-12.2 -9.2,-6.8 -9.6,12.1z" fill="#b5f50d"/>
<path d="M478.8,295.8l9.6,-11 -9.3,-7 -9.6,10.9z" fill="#e5f50d"/>
<path d="M402.9,335.7l9.7,-13 -9.2,-6.8 -9.6,13z" fill="#8cf50d"/>
<path d="M640.2,273.2l9.3,-7.6 -9.7,-8.3 -9.3,7.5z" fill="#fad90d"/>
<path d="M564.3,274.8l9.4,-9.1 -9.5,-7.6 -9.4,8.9z" fill="#fadc0d"/>
<path d="M621.3,272.8l9.2,-8 -9.6,-8.1 -9.3,7.9z" fill="#fad80d"/>
<path d="M583.3,273.6l9.4,-8.7 -9.6,-7.8 -9.4,8.6z" fill="#fad90d"/>
<path d="M602.3,272.9l9.3,-8.3 -9.6,-7.9 -9.3,8.2z" fill="#fad80d"/>
<path d="M497.8,292.2l9.6,-10.7 -9.4,-7.2 -9.6,10.5z" fill="#eef50d"/>
<path d="M450.3,311.9l9.6,-11.9 -9.3,-6.9 -9.6,11.7z" fill="#c2f50d"/>
<path d="M421.7,329.7l9.7,-12.7 -9.2,-6.9 -9.6,12.6z" fill="#9bf50d"/>
<path d="M516.8,289l9.5,-10.3 -9.4,-7.4 -9.5,10.2z" fill="#f5f50d"/>
<path d="M687.9,284.4l9.1,-7 -9.8,-8.8 -9.1,6.9z" fill="#faf00d"/>
<path d="M469.2,307.3l9.6,-11.5 -9.3,-7.1 -9.6,11.3z" fill="#cdf50d"/>
<path d="M535.8,286.4l9.5,-9.9 -9.5,-7.6 -9.5,9.8z" fill="#faf30d"/>
<path d="M668.9,282.9l9.2,-7.4 -9.7,-8.7 -9.2,7.3z" fill="#faec0d"/>
<path d="M554.8,284.4l9.5,-9.6 -9.5,-7.8 -9.5,9.5z" fill="#faee0d"/>
<path d="M650,281.9l9.2,-7.8 -9.7,-8.5 -9.3,7.6z" fill="#fae90d"/>
<path d="M440.6,324.3l9.7,-12.4 -9.3,-7.1 -9.6,12.2z" fill="#a9f50d"/>
<path d="M573.8,282.8l9.5,-9.2 -9.6,-7.9 -9.4,9.1z" fill="#faea0d"/>
<path d="M630.9,281.3l9.3,-8.1 -9.7,-8.4 -9.2,8z" fill="#fae70d"/>
<path d="M488.2,303.3l9.6,-11.1 -9.4,-7.4 -9.6,11z" fill="#d8f50d"/>
<path d="M592.9,281.8l9.4,-8.9 -9.6,-8 -9.4,8.7z" fill="#fae80d"/>
<path d="M611.9,281.3l9.4,-8.5 -9.7,-8.2 -9.3,8.3z" fill="#fae70d"/>
<path d="M412.1,342.9l9.6,-13.2 -9.1,-7 -9.7,13z" fill="#80f50d"/>
<path d="M507.2,299.8l9.6,-10.8 -9.4,-7.5 -9.6,10.7z" fill="#e0f50d"/>
<path d="M459.6,319.4l9.6,-12.1 -9.3,-7.3 -9.6,11.9z" fill="#b5f50d"/>
<path d="M526.3,296.9l9.5,-10.5 -9.5,-7.7 -9.5,10.3z" fill="#e8f50d"/>
<path d="M431,337.1l9.6,-12.8 -9.2,-7.3 -9.7,12.7z" fill="#8ef50d"/>
<path d="M678.7,292l9.2,-7.6 -9.8,-8.9 -9.2,7.4z" fill="#f2f50d"/>
<path d="M545.3,294.4l9.5,-10 -9.5,-7.9 -9.5,9.9z" fill="#edf50d"/>
<path d="M478.6,315l9.6,-11.7 -9.4,-7.5 -9.6,11.5z" fill="#c0f50d"/>
<path d="M659.7,290.8l9.2,-7.9 -9.7,-8.8 -9.2,7.8z" fill="#f5f50d"/>
<path d="M564.4,292.5l9.4,-9.7 -9.5,-8 -9.5,9.6z" fill="#f2f50d"/>
<path d="M640.7,290.1l9.3,-8.2 -9.8,-8.7 -9.3,8.1z" fill="#f7f50d"/>
<path d="M583.5,291.2l9.4,-9.4 -9.6,-8.2 -9.5,9.2z" fill="#f5f50d"/>
<path d="M621.6,290l9.3,-8.7 -9.6,-8.5 -9.4,8.5z" fill="#f8f50d"/>
<path d="M602.5,290.3l9.4,-9 -9.6,-8.4 -9.4,8.9z" fill="#f7f50d"/>
<path d="M450,331.9l9.6,-12.5 -9.3,-7.5 -9.7,12.4z" fill="#9cf50d"/>
<path d="M497.6,311.1l9.6,-11.3 -9.4,-7.6 -9.6,11.1z" fill="#caf50d"/>
<path d="M421.3,350.5l9.7,-13.4 -9.3,-7.4 -9.6,13.2z" fill="#73f50d"/>
<path d="M516.7,307.8l9.6,-10.9 -9.5,-7.9 -9.6,10.8z" fill="#d2f50d"/>
<path d="M469,327.1l9.6,-12.1 -9.4,-7.7 -9.6,12.1z" fill="#a8f50d"/>
<path d="M535.8,305l9.5,-10.6 -9.5,-8 -9.5,10.5z" fill="#d9f50d"/>
<path d="M440.3,344.8l9.7,-12.9 -9.4,-7.6 -9.6,12.8z" fill="#81f50d"/>
<path d="M554.9,302.7l9.5,-10.2 -9.6,-8.1 -9.5,10z" fill="#def50d"/>
<path d="M669.5,300.1l9.2,-8.1 -9.8,-9.1 -9.2,7.9z" fill="#e4f50d"/>
<path d="M488,322.9l9.6,-11.8 -9.4,-7.8 -9.6,11.7z" fill="#b2f50d"/>
<path d="M574,301l9.5,-9.8 -9.7,-8.4 -9.4,9.7z" fill="#e2f50d"/>
<path d="M650.4,299.2l9.3,-8.4 -9.7,-8.9 -9.3,8.2z" fill="#e6f50d"/>
<path d="M593.1,299.8l9.4,-9.5 -9.6,-8.5 -9.4,9.4z" fill="#e5f50d"/>
<path d="M631.3,298.9l9.4,-8.8 -9.8,-8.8 -9.3,8.7z" fill="#e7f50d"/>
<path d="M612.2,299.1l9.4,-9.1 -9.7,-8.7 -9.4,9z" fill="#e7f50d"/>
<path d="M459.3,339.7l9.7,-12.6 -9.4,-7.7 -9.6,12.5z" fill="#8ef50d"/>
<path d="M507.1,319.2l9.6,-11.4 -9.5,-8 -9.6,11.3z" fill="#bbf50d"/>
<path d="M430.6,358.3l9.7,-13.5 -9.3,-7.7 -9.7,13.4z" fill="#65f50d"/>
<path d="M526.2,316.1l9.6,-11.1 -9.5,-8.1 -9.6,10.9z" fill="#c3f50d"/>
<path d="M478.4,335.2l9.6,-12.3 -9.4,-7.9 -9.6,12.1z" fill="#99f50d"/>
<path d="M545.3,313.5l9.6,-10.8 -9.6,-8.3 -9.5,10.6z" fill="#c9f50d"/>
<path d="M449.6,352.9l9.7,-13.2 -9.3,-7.8 -9.7,12.9z" fill="#73f50d"/>
<path d="M564.5,311.4l9.5,-10.4 -9.6,-8.5 -9.5,10.2z" fill="#cff50d"/>
<path d="M660.2,308.6l9.3,-8.5 -9.8,-9.3 -9.3,8.4z" fill="#d4f50d"/>
<path d="M497.5,331.2l9.6,-12 -9.5,-8.1 -9.6,11.8z" fill="#a3f50d"/>
<path d="M583.6,309.8l9.5,-10 -9.6,-8.6 -9.5,9.8z" fill="#d2f50d"/>
<path d="M641.1,308.2l9.3,-9 -9.7,-9.1 -9.4,8.8z" fill="#d6f50d"/>
<path d="M602.8,308.7l9.4,-9.6 -9.7,-8.8 -9.4,9.5z" fill="#d5f50d"/>
<path d="M621.9,308.2l9.4,-9.3 -9.7,-8.9 -9.4,9.1z" fill="#d6f50d"/>
<path d="M516.6,327.7l9.6,-11.6 -9.5,-8.3 -9.6,11.4z" fill="#acf50d"/>
<path d="M468.7,348l9.7,-12.8 -9.4,-8.1 -9.7,12.6z" fill="#7ff50d"/>
<path d="M439.9,366.5l9.7,-13.6 -9.3,-8.1 -9.7,13.5z" fill="#57f50d"/>
<path d="M535.7,324.7l9.6,-11.2 -9.5,-8.5 -9.6,11.1z" fill="#b3f50d"/>
<path d="M487.8,343.6l9.7,-12.4 -9.5,-8.3 -9.6,12.3z" fill="#8af50d"/>
<path d="M554.9,322.2l9.6,-10.8 -9.6,-8.7 -9.6,10.8z" fill="#b9f50d"/>
<path d="M574.1,320.3l9.5,-10.5 -9.6,-8.8 -9.5,10.4z" fill="#bef50d"/>
<path d="M459,361.2l9.7,-13.2 -9.4,-8.3 -9.7,13.2z" fill="#64f50d"/>
<path d="M650.9,317.7l9.3,-9.1 -9.8,-9.4 -9.3,9z" fill="#c4f50d"/>
<path d="M593.3,318.9l9.5,-10.2 -9.7,-8.9 -9.5,10z" fill="#c1f50d"/>
<path d="M507,339.7l9.6,-12 -9.5,-8.5 -9.6,12z" fill="#94f50d"/>
<path d="M631.7,317.6l9.4,-9.4 -9.8,-9.3 -9.4,9.3z" fill="#c4f50d"/>
<path d="M612.5,318l9.4,-9.8 -9.7,-9.1 -9.4,9.6z" fill="#c3f50d"/>
<path d="M526.1,336.4l9.6,-11.7 -9.5,-8.6 -9.6,11.6z" fill="#9cf50d"/>
<path d="M478.1,356.5l9.7,-12.9 -9.4,-8.4 -9.7,12.8z" fill="#70f50d"/>
<path d="M449.3,375l9.7,-13.8 -9.4,-8.3 -9.7,13.6z" fill="#48f50d"/>
<path d="M545.3,333.6l9.6,-11.4 -9.6,-8.7 -9.6,11.2z" fill="#a3f50d"/>
<path d="M497.3,352.3l9.7,-12.6 -9.5,-8.5 -9.7,12.4z" fill="#7bf50d"/>
<path d="M564.6,331.3l9.5,-11 -9.6,-8.9 -9.6,10.8z" fill="#a9f50d"/>
<path d="M583.8,329.5l9.5,-10.6 -9.7,-9.1 -9.5,10.5z" fill="#adf50d"/>
<path d="M603,328.3l9.5,-10.3 -9.7,-9.3 -9.5,10.2z" fill="#b0f50d"/>
<path d="M468.4,369.9l9.7,-13.4 -9.4,-8.5 -9.7,13.2z" fill="#55f50d"/>
<path d="M641.5,327.3l9.4,-9.6 -9.8,-9.5 -9.4,9.4z" fill="#b2f50d"/>
<path d="M622.2,327.5l9.5,-9.9 -9.8,-9.4 -9.4,9.8z" fill="#b1f50d"/>
<path d="M516.5,348.6l9.6,-12.2 -9.5,-8.7 -9.6,12z" fill="#84f50d"/>
<path d="M535.7,345.4l9.6,-11.8 -9.6,-8.9 -9.6,11.7z" fill="#8cf50d"/>
<path d="M487.6,365.3l9.7,-13 -9.5,-8.7 -9.7,12.9z" fill="#60f50d"/>
<path d="M458.7,383.8l9.7,-13.9 -9.4,-8.7 -9.7,13.8z" fill="#38f50d"/>
<path d="M555,342.8l9.6,-11.5 -9.7,-9.1 -9.6,11.4z" fill="#92f50d"/>
<path d="M574.2,340.7l9.6,-11.2 -9.7,-9.2 -9.5,11z" fill="#97f50d"/>
<path d="M506.8,361.3l9.7,-12.7 -9.5,-8.9 -9.7,12.6z" fill="#6af50d"/>
<path d="M593.5,339.1l9.5,-10.8 -9.7,-9.4 -9.5,10.6z" fill="#9bf50d"/>
<path d="M612.8,338l9.4,-10.5 -9.7,-9.5 -9.5,10.3z" fill="#9ef50d"/>
<path d="M632,337.4l9.5,-10.1 -9.8,-9.7 -9.5,9.9z" fill="#9ff50d"/>
<path d="M477.9,378.9l9.7,-13.6 -9.5,-8.8 -9.7,13.4z" fill="#45f50d"/>
<path d="M526.1,357.8l9.6,-12.4 -9.6,-9 -9.6,12.2z" fill="#73f50d"/>
<path d="M545.4,354.8l9.6,-12 -9.7,-9.2 -9.6,11.8z" fill="#7af50d"/>
<path d="M497.1,374.5l9.7,-13.2 -9.5,-9 -9.7,13z" fill="#50f50d"/>
<path d="M564.6,352.3l9.6,-11.6 -9.6,-9.4 -9.6,11.5z" fill="#80f50d"/>
<path d="M468.2,392.9l9.7,-14 -9.5,-9 -9.7,13.9z" fill="#28f50d"/>
<path d="M583.9,350.4l9.6,-11.3 -9.7,-9.6 -9.6,11.2z" fill="#85f50d"/>
<path d="M516.4,370.6l9.7,-12.8 -9.6,-9.2 -9.7,12.7z" fill="#59f50d"/>
<path d="M603.2,348.9l9.6,-10.9 -9.8,-9.7 -9.5,10.8z" fill="#89f50d"/>
<path d="M622.5,347.9l9.5,-10.5 -9.8,-9.9 -9.4,10.5z" fill="#8bf50d"/>
<path d="M487.4,388.2l9.7,-13.7 -9.5,-9.2 -9.7,13.6z" fill="#34f50d"/>
<path d="M535.7,367.3l9.7,-12.5 -9.7,-9.4 -9.6,12.4z" fill="#61f50d"/>
<path d="M555,364.5l9.6,-12.2 -9.6,-9.5 -9.6,12z" fill="#68f50d"/>
<path d="M506.7,384l9.7,-13.4 -9.6,-9.3 -9.7,13.2z" fill="#3ef50d"/>
<path d="M574.3,362.1l9.6,-11.7 -9.7,-9.7 -9.6,11.6z" fill="#6ef50d"/>
<path d="M477.7,402.4l9.7,-14.2 -9.5,-9.3 -9.7,14z" fill="#17f50d"/>
<path d="M593.7,360.3l9.5,-11.4 -9.7,-9.8 -9.6,11.3z" fill="#72f50d"/>
<path d="M613,359l9.5,-11.1 -9.7,-9.9 -9.6,10.9z" fill="#75f50d"/>
<path d="M526,380.3l9.7,-13 -9.6,-9.5 -9.7,12.8z" fill="#47f50d"/>
<path d="M497,397.8l9.7,-13.8 -9.6,-9.5 -9.7,13.7z" fill="#22f50d"/>
<path d="M545.4,377.1l9.6,-12.6 -9.6,-9.7 -9.7,12.5z" fill="#4ff50d"/>
<path d="M564.7,374.4l9.6,-12.3 -9.7,-9.8 -9.6,12.2z" fill="#56f50d"/>
<path d="M516.3,393.8l9.7,-13.5 -9.6,-9.7 -9.7,13.4z" fill="#2cf50d"/>
<path d="M584.1,372.3l9.6,-12 -9.8,-9.9 -9.6,11.7z" fill="#5bf50d"/>
<path d="M603.5,370.6l9.5,-11.6 -9.8,-10.1 -9.5,11.4z" fill="#5ff50d"/>
<path d="M487.3,412.1l9.7,-14.3 -9.6,-9.6 -9.7,14.2z" fill="#08f50f"/>
<path d="M535.7,390.2l9.7,-13.1 -9.7,-9.8 -9.7,13z" fill="#35f50d"/>
<path d="M555.1,387.2l9.6,-12.8 -9.7,-9.9 -9.6,12.6z" fill="#3cf50d"/>
<path d="M506.6,407.7l9.7,-13.9 -9.6,-9.8 -9.7,13.8z" fill="#10f50d"/>
<path d="M574.4,384.7l9.7,-12.4 -9.8,-10.2 -9.6,12.3z" fill="#42f50d"/>
<path d="M526,403.9l9.7,-13.7 -9.7,-9.9 -9.7,13.5z" fill="#19f50d"/>
<path d="M593.9,382.7l9.6,-12.1 -9.8,-10.3 -9.6,12z" fill="#47f50d"/>
<path d="M496.9,422.2l9.7,-14.5 -9.6,-9.9 -9.7,14.3z" fill="#08f521"/>
<path d="M545.4,400.5l9.7,-13.3 -9.7,-10.1 -9.7,13.1z" fill="#22f50d"/>
<path d="M564.8,397.6l9.6,-12.9 -9.7,-10.3 -9.6,12.8z" fill="#29f50d"/>
<path d="M516.2,418l9.8,-14.1 -9.7,-10.1 -9.7,13.9z" fill="#08f517"/>
<path d="M584.2,395.3l9.7,-12.6 -9.8,-10.4 -9.7,12.4z" fill="#2ff50d"/>
<path d="M535.6,414.3l9.8,-13.8 -9.7,-10.3 -9.7,13.7z" fill="#08f50e"/>
<path d="M506.5,432.6l9.7,-14.6 -9.6,-10.3 -9.7,14.5z" fill="#08f533"/>
<path d="M555.1,411.1l9.7,-13.5 -9.7,-10.4 -9.7,13.3z" fill="#0ef50d"/>
<path d="M574.5,408.3l9.7,-13 -9.8,-10.6 -9.6,12.9z" fill="#15f50d"/>
<path d="M525.9,428.5l9.7,-14.2 -9.6,-10.4 -9.8,14.1z" fill="#08f52a"/>
<path d="M545.4,425l9.7,-13.9 -9.7,-10.6 -9.8,13.8z" fill="#08f521"/>
<path d="M516.2,443.3l9.7,-14.8 -9.7,-10.5 -9.7,14.6z" fill="#08f546"/>
<path d="M564.8,421.9l9.7,-13.6 -9.7,-10.7 -9.7,13.5z" fill="#08f51a"/>
<path d="M535.6,439.4l9.8,-14.4 -9.8,-10.7 -9.7,14.2z" fill="#08f53d"/>
<path d="M555.1,436l9.7,-14.1 -9.7,-10.8 -9.7,13.9z" fill="#08f535"/>
<path d="M525.9,454.3l9.7,-14.9 -9.7,-10.9 -9.7,14.8z" fill="#08f55a"/>
<path d="M545.4,450.5l9.7,-14.5 -9.7,-11 -9.8,14.4z" fill="#08f551"/>
<path d="M535.6,465.6l9.8,-15.1 -9.8,-11.1 -9.7,14.9z" fill="#08f56e"/>
</g>
<polyline points="186,263 189,257.9 192,254.6 195,251.3 198,248.1 201,246.2 204,243.1 207,239.9 210,237.1 213,234.1 216,231.2 219,228.3 222,225.4 225,222.6 228,219.9 231,217.2 234,214.5 237,211.9 240,209.3 243,206.8 246,205.3 249,202.9 252,200.5 255,198.5 258,196.2 261,194 264,191.8 267,189.7 270,187.6 273,185.6 276,183.7 279,181.7 282,179.9 285,178 288,176.3 291,174.6 294,172.9 297,171.3 300,169.7 303,168.2 306,166.7 309,165.6 312,164.2 315,162.9 318,161.6 321,160.3 324,159.1 327,158.1 330,157 333,155.9 336,154.9 339,153.9 342,153 345,152 348,151 351,150.1 354,149.2 357,148.3 360,147.5 363,146.7 366,145.9 369,145 372,144.2 375,143.4 378,142.7 381,142 384,141.4 387,140.7 390,139.9 393,139.2 396,138.6 399,138 402,137.4 405,136.9 408,136.4 411,135.8 414,135.3 417,134.7 420,134.2 423,133.7 426,133.3 429,132.9 432,132.5 435,132.1 438,131.7 441,131.3 444,130.9 447,130.6 450,130.3 453,130 456,129.7 459,129.5 462,129.2 465,129 468,128.8 471,128.6 474,128.4 477,128.2 480,128.1 483,128 486,127.9 489,127.8 492,127.7 495,127.6 498,127.6 501,127.6 504,127.6 507,127.6 510,127.6 513,127.6 516,127.6 519,127.7 522,127.7 525,127.8 528,128 531,128.1 534,128.2 537,128.4 540,128.6 543,128.7 546,128.9 549,129.1 552,129.4 555,129.6 558,129.9 561,130.1 564,130.4 567,130.9 570,131.2 573,131.5 576,131.9 579,132.2 582,132.6 585,133 588,133.4 591,133.8 594,134.3 597,134.7 600,135.2 603,135.7 606,136.2 609,136.8 612,137.4 615,138 618,138.6 621,139.1 624,139.7 627,140.3 630,140.9 633,141.6 636,142.2 639,142.8 642,143.5 645,144.2 648,144.9 651,145.7 654,146.5 657,147.3 660,148.1 663,148.9 666,149.7 669,150.6 672,151.4 675,152.2 678,153 681,153.9 684,154.8 687,155.6 690,156.6 693,157.5 696,158.4 699,159.4 702,160.4 705,161.4 708,162.4 711,163.5 714,164.6 717,165.6 720,166.7 723,167.7 726,168.8 729,169.9 732,171 735,172.1 738,173.2 741,174.4 744,175.6 747,176.7 750,177.9 753,179.2 756,180.4 759,181.7 762,182.8 765,184.2 768,185.5 771,186.7 774,188.1 777,189.4 780,190.7 783,192.1 786,193.4 789,194.8 792,196.1 795,197.5 798,199 801,200.3 804,201.8 807,203.2 810,204.7 813,206.1 816,207.7 819,209.1 822,210.7 825,212.3 828,213.8 831,215.4 834,216.9 837,218.5 840,220.1 843,221.7 846,223.3 849,224.9 852,226.6 855,228.1 858,229.9 861,231.4 864,233.2 867,235 870,236.7 873,238.6 876,240.2 879,242.1 882,243.8 886.1,247.3" fill="none" stroke="#000" stroke-opacity="0.7" stroke-width="1.3" stroke-linejoin="round"/>
<circle cx="193.4" cy="368.3" r="2" fill="#000"/>
<text x="186.6" y="380.9" font-size="12.3" text-anchor="end" fill="#222" font-family="'Liberation Sans',sans-serif">155</text>
<circle cx="189.2" cy="309" r="2" fill="#000"/>
<text x="182.4" y="321.6" font-size="12.3" text-anchor="end" fill="#222" font-family="'Liberation Sans',sans-serif">160</text>
<circle cx="185.1" cy="249.8" r="2" fill="#000"/>
<text x="178.3" y="262.4" font-size="12.3" text-anchor="end" fill="#222" font-family="'Liberation Sans',sans-serif">165</text>
<circle cx="180.9" cy="190.6" r="2" fill="#000"/>
<text x="174.1" y="203.2" font-size="12.3" text-anchor="end" fill="#222" font-family="'Liberation Sans',sans-serif">170</text>
<circle cx="176.7" cy="131.3" r="2" fill="#000"/>
<text x="169.9" y="143.9" font-size="12.3" text-anchor="end" fill="#222" font-family="'Liberation Sans',sans-serif">175</text>
<ellipse cx="535.5" cy="550.2" rx="2.4" ry="1.6" fill="#000"/>
<text x="529" y="562.7" font-size="12.3" text-anchor="end" fill="#222" font-family="'Liberation Sans',sans-serif">10.00</text>
<ellipse cx="451.3" cy="523.3" rx="2.4" ry="1.6" fill="#000"/>
<text x="444.8" y="535.8" font-size="12.3" text-anchor="end" fill="#222" font-family="'Liberation Sans',sans-serif">12.50</text>
<ellipse cx="367.1" cy="496.4" rx="2.4" ry="1.6" fill="#000"/>
<text x="360.6" y="508.9" font-size="12.3" text-anchor="end" fill="#222" font-family="'Liberation Sans',sans-serif">15.00</text>
<ellipse cx="282.9" cy="469.5" rx="2.4" ry="1.6" fill="#000"/>
<text x="276.4" y="482" font-size="12.3" text-anchor="end" fill="#222" font-family="'Liberation Sans',sans-serif">17.50</text>
<ellipse cx="198.6" cy="442.6" rx="2.4" ry="1.6" fill="#000"/>
<text x="192.1" y="455.1" font-size="12.3" text-anchor="end" fill="#222" font-family="'Liberation Sans',sans-serif">20.00</text>
<text x="543.5" y="562.7" font-size="12.3" text-anchor="start" fill="#222" font-family="'Liberation Sans',sans-serif">30.00</text>
<ellipse cx="619.7" cy="523.2" rx="2.4" ry="1.6" fill="#000"/>
<text x="627.7" y="535.7" font-size="12.3" text-anchor="start" fill="#222" font-family="'Liberation Sans',sans-serif">40.00</text>
<ellipse cx="703.8" cy="496.2" rx="2.4" ry="1.6" fill="#000"/>
<text x="711.8" y="508.7" font-size="12.3" text-anchor="start" fill="#222" font-family="'Liberation Sans',sans-serif">50.00</text>
<ellipse cx="788" cy="469.3" rx="2.4" ry="1.6" fill="#000"/>
<text x="796" y="481.8" font-size="12.3" text-anchor="start" fill="#222" font-family="'Liberation Sans',sans-serif">60.00</text>
<ellipse cx="872.1" cy="442.3" rx="2.4" ry="1.6" fill="#000"/>
<text x="880.1" y="454.8" font-size="12.3" text-anchor="start" fill="#222" font-family="'Liberation Sans',sans-serif">70.00</text>
<ellipse cx="535.7" cy="144.8" rx="6.2" ry="3.4" fill="#fff4f4" stroke="#d8a0a0" stroke-width="1.1"/><circle cx="535.7" cy="144.8" r="1.2" fill="#111"/>
<ellipse cx="186" cy="266.4" rx="7.2" ry="4" fill="#ffc6c6" stroke="#5a2444" stroke-width="1.1"/><line x1="186.5" y1="260" x2="186" y2="271.9" stroke="#1a0a14" stroke-width="1.1"/>
<ellipse cx="348.7" cy="290.8" rx="7.2" ry="4" fill="#e41414" stroke="#8a0000" stroke-width="1.1"/>
<ellipse cx="722.9" cy="269.1" rx="7.2" ry="4" fill="#ffc6c6" stroke="#5a2444" stroke-width="1.1"/><line x1="722.9" y1="259" x2="722.9" y2="274.6" stroke="#1a0a14" stroke-width="1.1"/>
<ellipse cx="886.2" cy="241.6" rx="7.2" ry="4" fill="#e41414" stroke="#8a0000" stroke-width="1.1"/>
<ellipse cx="535.7" cy="459" rx="7.2" ry="4" fill="#e41414" stroke="#8a0000" stroke-width="1.1"/>
<text x="147.3" y="545.1" font-size="19.9" fill="#111" font-family="'Liberation Sans',sans-serif" textLength="180.2" lengthAdjust="spacingAndGlyphs">B: SOLID-SOLVENT</text>
<text x="775.8" y="545.1" font-size="19.9" fill="#111" font-family="'Liberation Sans',sans-serif" textLength="113.6" lengthAdjust="spacingAndGlyphs">A: SOLVENT</text>
<text x="51.2" y="292.3" font-size="21.6" fill="#111" font-family="'Liberation Sans',sans-serif" textLength="38.9" lengthAdjust="spacingAndGlyphs" transform="rotate(-90 70.7 292.3)">TFC</text></g>
<g id="p2"><g fill="none" stroke="#333" stroke-width="1">
<polyline points="1180.2,133.1 1544.8,79.7 1908.2,133.6"/>
<line x1="1544.8" y1="79.7" x2="1544.5" y2="359.7"/>
<line x1="1908.2" y1="133.6" x2="1885.3" y2="443.7" stroke="#555"/>
<line x1="1180.2" y1="133.1" x2="1202.4" y2="444.1" stroke="#111" stroke-width="1.1"/>
</g>
<polygon points="1202.4,444.1 1544.2,551.4 1885.3,443.7 1544.5,359.7" fill="#ffff00" stroke="#222" stroke-width="1.1" stroke-linejoin="round"/>
<g fill="none" stroke-width="1.2">
<polyline points="1584.3,538.7 1577.1,539 1569.9,539.2 1563.8,539.4 1557.9,539.6 1552,539.7 1546.1,539.9 1540.1,540 1534.1,540.1 1528,540.3 1521.7,540.4 1515.1,540.4" stroke="#1df50d" stroke-opacity="0.8"/>
<polyline points="1525.8,364.3 1531,363.9 1535.1,363.7 1539.8,363.4 1546.6,363 1551.4,362.7 1555.6,362.4" stroke="#1df50d" stroke-opacity="0.8"/>
<polyline points="1629.3,524.5 1623.4,524.8 1618,525.1 1612.6,525.4 1606.9,525.6 1599.6,525.9 1592.4,526.2 1585.3,526.5 1579.3,526.7 1573.6,526.9 1567.9,527.1 1562.1,527.2 1556.3,527.4 1550.4,527.5 1543.9,527.7 1537.2,527.8 1530.6,527.9 1524.1,528 1517.6,528 1511.2,528.1 1504.8,528.1 1498.5,528.1 1492.3,528.1 1486.1,528.1 1479.9,528 1473.9,527.9" stroke="#7af50d" stroke-opacity="0.8"/>
<polyline points="1479.4,375.8 1483.4,375.4 1487.9,374.9 1494.7,374.3 1498.6,374 1504.3,373.5 1510.2,373 1514.1,372.6 1519.7,372.2 1526,371.7 1530,371.4 1534.4,371.1 1541.4,370.6 1546.3,370.3 1550.4,370.1 1555.1,369.8 1561.8,369.4 1567.2,369.1 1571.5,368.9 1575.8,368.7" stroke="#7af50d" stroke-opacity="0.8"/>
<polyline points="1683.7,507.3 1677.3,507.9 1672.5,508.3 1667.2,508.7 1659.1,509.3 1652.9,509.7 1647.8,510.1 1642.8,510.4 1635.7,510.8 1628.2,511.3 1622.1,511.6 1616.9,511.9 1611.5,512.1 1606.1,512.4 1598.9,512.7 1591.8,513 1584.8,513.2 1578.7,513.4 1573,513.6 1567.3,513.7 1561.6,513.9 1555.8,514 1549.9,514.1 1544,514.2 1538,514.3 1531.7,514.3 1525.4,514.4 1519.1,514.4 1513,514.4 1506.8,514.4 1500.8,514.3 1494.4,514.2 1487.8,514.2 1481.2,514 1474.5,513.9 1467.8,513.7 1460.9,513.5 1454.7,513.3 1449.2,513.1 1443.8,512.9 1438.4,512.7 1432.3,512.4 1424.9,512 1417.5,511.6" stroke="#d8f50d" stroke-opacity="0.8"/>
<polyline points="1236,454.7 1236.9,453.2 1238,451.7 1239.2,450.3 1240.5,448.9 1242.6,446.9 1245,444.9 1246.6,443.7 1248.4,442.5 1251.4,440.4 1253.9,438.9 1255.8,437.8 1259.9,435.6 1262,434.5 1265.8,432.6 1268.5,431.4 1272.7,429.5 1275.4,428.4 1280.2,426.5 1282.6,425.6 1287.6,423.7 1292.7,421.9" stroke="#d8f50d" stroke-opacity="0.8"/>
<polyline points="1390.3,397.8 1395.3,396.9 1401.8,395.7 1408.4,394.6 1411.8,394.1 1418.5,393 1423.3,392.2 1428.7,391.4 1435.5,390.4 1439,389.9 1446,389 1449.5,388.5 1456.6,387.6 1460.2,387.1 1467.4,386.2 1471.1,385.8 1478.4,385 1482.1,384.6 1488.5,383.9 1493.4,383.4 1497.4,383 1504.8,382.3 1508.7,381.9 1514.1,381.4 1520.4,380.9 1524.3,380.5 1529.7,380.1 1536.3,379.6 1540.4,379.3 1544.5,379 1551.5,378.5 1556.9,378.2 1561.1,377.9 1565.4,377.7 1571.7,377.4 1578.2,377 1582.7,376.8 1587.1,376.6 1591.6,376.4 1596.9,376.2 1602.9,376 1608.8,375.8" stroke="#d8f50d" stroke-opacity="0.8"/>
<polyline points="1770.2,480 1763.3,481.3 1756.9,482.4 1752.2,483.1 1744.9,484.3 1740.8,484.9 1733.7,485.9 1728.9,486.6 1723.2,487.3 1716.6,488.2 1712.5,488.7 1704,489.7 1699.7,490.1 1694.3,490.7 1686.5,491.5 1682,491.9 1676.7,492.5 1668.3,493.2 1663.6,493.6 1658.9,494 1651.9,494.5 1644.5,495 1639.6,495.4 1634.6,495.7 1628.7,496 1621.3,496.5 1614.2,496.8 1609,497.1 1603.7,497.3 1598.4,497.5 1592.8,497.8 1586,498 1579.2,498.2 1572.6,498.4 1566.1,498.5 1559.6,498.6 1553.5,498.7 1547.6,498.8 1541.6,498.8 1535.6,498.8 1529.4,498.8 1523.2,498.7 1516.9,498.7 1511.1,498.6 1505.4,498.5 1499.7,498.4 1494.2,498.2 1488.7,498 1483.3,497.9 1476.5,497.6 1469.3,497.3 1462.3,496.9 1457.3,496.6 1452.3,496.3 1446.7,495.9 1438.7,495.4 1433,494.9 1428.4,494.5 1421.7,493.9 1414.8,493.2 1410.5,492.7 1403,491.9 1397.8,491.2 1392.6,490.5 1385.7,489.5 1381,488.8 1374.4,487.7 1367.1,486.4 1363.7,485.7 1356.9,484.3 1350.5,482.8 1344.4,481.2 1341.5,480.4 1335.9,478.6 1332.7,477.5 1328.3,475.9 1323.7,474 1319.5,472 1317.6,470.9 1314.1,468.7 1312.5,467.6 1309.8,465.2 1308.7,464 1307.4,462.4 1306.2,460.2 1305.6,458.7 1305.3,457.3 1305.2,455.8 1305.3,454.3 1305.6,452.8 1306.2,451.1 1307,449.4 1308.2,447.7 1309.7,445.8 1311.3,444.2 1312.7,442.9 1314.2,441.7 1317,439.6 1319.3,438.1 1321.1,437 1325,434.8 1327,433.7 1330.9,431.8 1333.4,430.6 1337.9,428.7 1340.2,427.7 1345,425.8 1348.9,424.4 1352.4,423.2 1357.6,421.5 1362.8,419.8 1368.2,418.2 1371,417.4 1376.5,415.8 1382.2,414.3 1388,412.9 1393.9,411.5 1399.9,410.1 1403,409.4 1409,408.1 1415.3,406.8 1421.6,405.6 1428,404.3 1431.2,403.7 1437.8,402.6 1444.4,401.5 1447.8,400.9 1454.6,399.8 1460.6,398.9 1464.9,398.3 1472,397.3 1475.5,396.8 1482.7,395.9 1486.3,395.4 1493.6,394.5 1497.3,394.1 1503.8,393.4 1508.6,392.9 1512.8,392.4 1520.1,391.7 1524,391.3 1529.7,390.8 1535.9,390.3 1539.9,389.9 1545.3,389.5 1552.2,389 1556.3,388.7 1560.5,388.4 1566.9,388 1573.4,387.7 1577.7,387.4 1582.1,387.2 1586.7,387 1593,386.7 1599.2,386.5 1604.9,386.3 1609.6,386.1 1614.3,386 1619.1,385.9 1624,385.8 1629,385.7 1634,385.7 1639.3,385.6 1644.6,385.6" stroke="#fabb0d" stroke-opacity="0.8"/>
<polyline points="1874.4,441 1873.6,442.2 1871.7,444.4 1870.4,445.7 1868.8,447.1 1866.5,448.9 1864.6,450.2" stroke="#fabb0d" stroke-opacity="0.8"/>
<polyline points="1780.5,417.9 1782.9,418.9 1786.4,420.7 1788.7,422 1790.4,423.2 1792.7,425 1794.6,426.8 1795.6,428.2 1796.4,429.6 1797,431.1 1797.2,432.7 1797.2,434.4 1796.8,435.8 1796.3,437.1 1795.6,438.3 1793.9,440.5 1792.6,441.8 1791.2,443.1 1788.4,445.1 1786.7,446.1 1783.1,448.1 1779.2,450.1 1777.1,451 1772.6,452.8 1767.9,454.6 1762.8,456.3 1757.4,457.9 1751.8,459.5 1745.9,461 1739.8,462.4 1736.6,463.2 1730.1,464.5 1723.4,465.8 1719.7,466.5 1712.8,467.7 1706.5,468.8 1701.8,469.5 1694.9,470.5 1690.2,471.1 1684.4,471.9 1678.1,472.7 1673.9,473.2 1665.4,474.1 1661.1,474.5 1656.7,474.9 1648.3,475.7 1643.2,476.1 1638.5,476.5 1632.3,476.9 1624.7,477.4 1619.3,477.7 1614.3,478 1609.2,478.3 1603.2,478.5 1596.4,478.8 1589.7,479 1583.2,479.2 1577.2,479.3 1571.6,479.4 1565.8,479.5 1559.9,479.5 1554,479.5 1547.9,479.5 1541.6,479.4 1535.5,479.3 1530,479.1 1524.7,479 1519.4,478.8 1514.2,478.6 1507.8,478.2 1500.4,477.8 1494.6,477.4 1489.9,477.1 1484.4,476.6 1476.4,475.9 1472.1,475.4 1466.2,474.7 1459.7,473.9 1455.5,473.3 1448.2,472.2 1442.3,471.2 1437.5,470.3 1430.9,468.9 1424.8,467.3 1419.1,465.7 1413.9,463.9 1409.2,462.1 1405.5,460.3 1403.2,459 1400.3,457 1398.6,455.6 1397.5,454.3 1396.2,452.4 1395.4,450.5 1395.1,448.8 1395.2,447.3 1395.7,445.7 1396.5,444.1 1397.4,442.7 1398.5,441.4 1399.8,440.1 1402.4,438 1404.5,436.5 1406.2,435.4 1410.1,433.3 1412.1,432.2 1416.4,430.3 1418.6,429.3 1423.3,427.5 1428.3,425.7 1433.1,424.1 1436,423.2 1441.5,421.7 1447.1,420.1 1452.8,418.7 1458.8,417.3 1464.2,416.1 1468,415.3 1474.3,414 1480.8,412.8 1485.7,411.9 1490.8,411 1497.6,409.9 1501.1,409.4 1508.1,408.4 1512.2,407.8 1519,406.9 1522.8,406.5 1530.2,405.6 1534.1,405.2 1541.4,404.4 1545.8,404 1549.8,403.6 1557.8,402.9 1562.1,402.6 1566.3,402.3 1572.6,401.9 1579.2,401.5 1583.7,401.2 1588.1,401 1592.9,400.7 1599.3,400.5 1605.4,400.3 1611.4,400.1 1616.6,400 1621.6,399.9 1626.8,399.8 1632,399.8 1637.4,399.8 1642.9,399.8 1648.5,399.9 1654.3,400 1659.5,400.1 1664.3,400.3 1669.1,400.5 1673.7,400.7 1679.6,401 1686.6,401.4 1691.4,401.7 1695.7,402 1702.1,402.5 1708,403.1 1711.9,403.5 1719.6,404.3 1723.3,404.8 1730.6,405.8" stroke="#fa5f0d" stroke-opacity="0.8"/>
</g>
<g stroke="#000" stroke-opacity="0.6" stroke-width="1.1" stroke-linejoin="round">
<path d="M1544.6,252.9l7.8,5.1 -7.8,9.4 -7.8,-5.1z" fill="#08f50d"/>
<path d="M1536.8,248.2l7.8,4.7 -7.8,9.4 -7.8,-4.8z" fill="#1bf50d"/>
<path d="M1552.5,244l7.8,5 -7.9,9 -7.8,-5.1z" fill="#28f50d"/>
<path d="M1528.8,243.6l8,4.6 -7.8,9.3 -8,-4.6z" fill="#2ef50d"/>
<path d="M1544.6,239.2l7.9,4.8 -7.9,8.9 -7.8,-4.7z" fill="#3bf50d"/>
<path d="M1560.5,235.3l7.8,5 -8,8.7 -7.8,-5z" fill="#47f50d"/>
<path d="M1520.8,239.4l8,4.2 -7.8,9.3 -7.9,-4.3z" fill="#40f50d"/>
<path d="M1536.7,234.8l7.9,4.4 -7.8,9 -8,-4.6z" fill="#4ef50d"/>
<path d="M1552.6,230.7l7.9,4.6 -8,8.7 -7.9,-4.8z" fill="#5af50d"/>
<path d="M1568.5,227.1l7.8,4.9 -8,8.3 -7.8,-5z" fill="#64f50d"/>
<path d="M1512.8,235.4l8,4 -7.7,9.2 -8.1,-4z" fill="#51f50d"/>
<path d="M1528.7,230.6l8,4.2 -7.9,8.8 -8,-4.2z" fill="#5ff50d"/>
<path d="M1544.6,226.3l8,4.4 -8,8.5 -7.9,-4.4z" fill="#6cf50d"/>
<path d="M1560.6,222.5l7.9,4.6 -8,8.2 -7.9,-4.6z" fill="#77f50d"/>
<path d="M1576.6,219.3l7.8,4.8 -8.1,7.9 -7.8,-4.9z" fill="#80f50d"/>
<path d="M1504.7,231.7l8.1,3.7 -7.8,9.2 -8.1,-3.8z" fill="#61f50d"/>
<path d="M1520.6,226.7l8.1,3.9 -7.9,8.8 -8,-4z" fill="#6ff50d"/>
<path d="M1536.6,222.2l8,4.1 -7.9,8.5 -8,-4.2z" fill="#7df50d"/>
<path d="M1552.7,218.2l7.9,4.3 -8,8.2 -8,-4.4z" fill="#88f50d"/>
<path d="M1568.7,214.8l7.9,4.5 -8.1,7.8 -7.9,-4.6z" fill="#92f50d"/>
<path d="M1584.8,211.9l7.8,4.7 -8.2,7.5 -7.8,-4.8z" fill="#9bf50d"/>
<path d="M1496.5,228.3l8.2,3.4 -7.8,9.1 -8.2,-3.5z" fill="#70f50d"/>
<path d="M1512.5,223.1l8.1,3.6 -7.8,8.7 -8.1,-3.7z" fill="#7ff50d"/>
<path d="M1528.6,218.3l8,3.9 -7.9,8.4 -8.1,-3.9z" fill="#8df50d"/>
<path d="M1544.7,214.2l8,4 -8.1,8.1 -8,-4.1z" fill="#99f50d"/>
<path d="M1560.8,210.5l7.9,4.3 -8.1,7.7 -7.9,-4.3z" fill="#a4f50d"/>
<path d="M1488.3,225.2l8.2,3.1 -7.8,9 -8.2,-3.2z" fill="#7ef50d"/>
<path d="M1576.9,207.4l7.9,4.5 -8.2,7.4 -7.9,-4.5z" fill="#adf50d"/>
<path d="M1593,204.9l7.8,4.6 -8.2,7.1 -7.8,-4.7z" fill="#b4f50d"/>
<path d="M1504.3,219.7l8.2,3.4 -7.8,8.6 -8.2,-3.4z" fill="#8ef50d"/>
<path d="M1520.5,214.8l8.1,3.5 -8,8.4 -8.1,-3.6z" fill="#9cf50d"/>
<path d="M1536.6,210.4l8.1,3.8 -8.1,8 -8,-3.9z" fill="#a9f50d"/>
<path d="M1552.8,206.5l8,4 -8.1,7.7 -8,-4z" fill="#b4f50d"/>
<path d="M1480,222.3l8.3,2.9 -7.8,8.9 -8.3,-2.9z" fill="#8bf50d"/>
<path d="M1568.9,203.2l8,4.2 -8.2,7.4 -7.9,-4.3z" fill="#bef50d"/>
<path d="M1585.1,200.5l7.9,4.4 -8.2,7 -7.9,-4.5z" fill="#c6f50d"/>
<path d="M1496.1,216.7l8.2,3 -7.8,8.6 -8.2,-3.1z" fill="#9cf50d"/>
<path d="M1601.3,198.3l7.9,4.6 -8.4,6.6 -7.8,-4.6z" fill="#ccf50d"/>
<path d="M1512.3,211.5l8.2,3.3 -8,8.3 -8.2,-3.4z" fill="#aaf50d"/>
<path d="M1528.5,206.9l8.1,3.5 -8,7.9 -8.1,-3.5z" fill="#b8f50d"/>
<path d="M1544.7,202.9l8.1,3.6 -8.1,7.7 -8.1,-3.8z" fill="#c3f50d"/>
<path d="M1471.6,219.7l8.4,2.6 -7.8,8.9 -8.3,-2.7z" fill="#98f50d"/>
<path d="M1560.9,199.3l8,3.9 -8.1,7.3 -8,-4z" fill="#cef50d"/>
<path d="M1487.8,213.9l8.3,2.8 -7.8,8.5 -8.3,-2.9z" fill="#a9f50d"/>
<path d="M1577.2,196.4l7.9,4.1 -8.2,6.9 -8,-4.2z" fill="#d6f50d"/>
<path d="M1593.5,193.9l7.8,4.4 -8.3,6.6 -7.9,-4.4z" fill="#ddf50d"/>
<path d="M1609.7,192.1l7.9,4.5 -8.4,6.3 -7.9,-4.6z" fill="#e3f50d"/>
<path d="M1504,208.5l8.3,3 -8,8.2 -8.2,-3z" fill="#b8f50d"/>
<path d="M1520.3,203.7l8.2,3.2 -8,7.9 -8.2,-3.3z" fill="#c6f50d"/>
<path d="M1463.2,217.5l8.4,2.2 -7.7,8.8 -8.4,-2.4z" fill="#a3f50d"/>
<path d="M1536.5,199.5l8.2,3.4 -8.1,7.5 -8.1,-3.5z" fill="#d2f50d"/>
<path d="M1552.8,195.7l8.1,3.6 -8.1,7.2 -8.1,-3.6z" fill="#ddf50d"/>
<path d="M1479.4,211.4l8.4,2.5 -7.8,8.4 -8.4,-2.6z" fill="#b5f50d"/>
<path d="M1569.2,192.6l8,3.8 -8.3,6.8 -8,-3.9z" fill="#e6f50d"/>
<path d="M1585.5,189.9l8,4 -8.4,6.6 -7.9,-4.1z" fill="#edf50d"/>
<path d="M1495.7,205.8l8.3,2.7 -7.9,8.2 -8.3,-2.8z" fill="#c4f50d"/>
<path d="M1601.8,187.8l7.9,4.3 -8.4,6.2 -7.8,-4.4z" fill="#f3f50d"/>
<path d="M1618.2,186.3l7.8,4.5 -8.4,5.8 -7.9,-4.5z" fill="#f8f50d"/>
<path d="M1512,200.8l8.3,2.9 -8,7.8 -8.3,-3z" fill="#d3f50d"/>
<path d="M1454.7,215.4l8.5,2.1 -7.7,8.6 -8.5,-2.1z" fill="#aef50d"/>
<path d="M1528.3,196.4l8.2,3.1 -8,7.4 -8.2,-3.2z" fill="#e0f50d"/>
<path d="M1544.7,192.4l8.1,3.3 -8.1,7.2 -8.2,-3.4z" fill="#ebf50d"/>
<path d="M1471,209.2l8.4,2.2 -7.8,8.3 -8.4,-2.2z" fill="#c0f50d"/>
<path d="M1561.1,189l8.1,3.6 -8.3,6.7 -8.1,-3.6z" fill="#f5f50d"/>
<path d="M1577.5,186.2l8,3.7 -8.3,6.5 -8,-3.8z" fill="#faf20d"/>
<path d="M1487.3,203.4l8.4,2.4 -7.9,8.1 -8.4,-2.5z" fill="#d0f50d"/>
<path d="M1593.9,183.9l7.9,3.9 -8.3,6.1 -8,-4z" fill="#faec0d"/>
<path d="M1610.3,182.2l7.9,4.1 -8.5,5.8 -7.9,-4.3z" fill="#fae70d"/>
<path d="M1626.7,181l7.8,4.3 -8.5,5.5 -7.8,-4.5z" fill="#fae30d"/>
<path d="M1503.7,198.2l8.3,2.6 -8,7.7 -8.3,-2.7z" fill="#dff50d"/>
<path d="M1446.2,213.7l8.5,1.7 -7.7,8.6 -8.5,-1.8z" fill="#b8f50d"/>
<path d="M1520.1,193.5l8.2,2.9 -8,7.3 -8.3,-2.9z" fill="#ecf50d"/>
<path d="M1462.5,207.3l8.5,1.9 -7.8,8.3 -8.5,-2.1z" fill="#caf50d"/>
<path d="M1536.5,189.4l8.2,3 -8.2,7.1 -8.2,-3.1z" fill="#f8f50d"/>
<path d="M1552.9,185.8l8.2,3.2 -8.3,6.7 -8.1,-3.3z" fill="#faec0d"/>
<path d="M1478.9,201.3l8.4,2.1 -7.9,8 -8.4,-2.2z" fill="#dbf50d"/>
<path d="M1569.4,182.7l8.1,3.5 -8.3,6.4 -8.1,-3.6z" fill="#fae40d"/>
<path d="M1585.8,180.2l8.1,3.7 -8.4,6 -8,-3.7z" fill="#fadd0d"/>
<path d="M1602.3,178.3l8,3.9 -8.5,5.6 -7.9,-3.9z" fill="#fad70d"/>
<path d="M1495.3,195.9l8.4,2.3 -8,7.6 -8.4,-2.4z" fill="#eaf50d"/>
<path d="M1437.6,212.3l8.6,1.4 -7.7,8.5 -8.6,-1.5z" fill="#c1f50d"/>
<path d="M1618.8,176.9l7.9,4.1 -8.5,5.3 -7.9,-4.1z" fill="#fad30d"/>
<path d="M1635.3,176.1l7.8,4.3 -8.6,4.9 -7.8,-4.3z" fill="#fad10d"/>
<path d="M1511.7,191l8.4,2.5 -8.1,7.3 -8.3,-2.6z" fill="#f8f50d"/>
<path d="M1454,205.6l8.5,1.7 -7.8,8.1 -8.5,-1.7z" fill="#d4f50d"/>
<path d="M1528.2,186.7l8.3,2.7 -8.2,7 -8.2,-2.9z" fill="#faea0d"/>
<path d="M1544.7,182.9l8.2,2.9 -8.2,6.6 -8.2,-3z" fill="#fae00d"/>
<path d="M1470.4,199.5l8.5,1.8 -7.9,7.9 -8.5,-1.9z" fill="#e5f50d"/>
<path d="M1561.2,179.6l8.2,3.1 -8.3,6.3 -8.2,-3.2z" fill="#fad70d"/>
<path d="M1577.8,176.9l8,3.3 -8.3,6 -8.1,-3.5z" fill="#facf0d"/>
<path d="M1429,211.1l8.6,1.2 -7.7,8.4 -8.6,-1.2z" fill="#c9f50d"/>
<path d="M1486.8,193.9l8.5,2 -8,7.5 -8.4,-2.1z" fill="#f5f50d"/>
<path d="M1594.3,174.7l8,3.6 -8.4,5.6 -8.1,-3.7z" fill="#fac90d"/>
<path d="M1610.8,173.1l8,3.8 -8.5,5.3 -8,-3.9z" fill="#fac50d"/>
<path d="M1627.4,172.1l7.9,4 -8.6,4.9 -7.9,-4.1z" fill="#fac20d"/>
<path d="M1643.9,171.6l7.9,4.2 -8.7,4.6 -7.8,-4.3z" fill="#fac00d"/>
<path d="M1503.3,188.8l8.4,2.2 -8,7.2 -8.4,-2.3z" fill="#faec0d"/>
<path d="M1445.4,204.3l8.6,1.3 -7.8,8.1 -8.6,-1.4z" fill="#dcf50d"/>
<path d="M1519.9,184.2l8.3,2.5 -8.1,6.8 -8.4,-2.5z" fill="#fadf0d"/>
<path d="M1461.8,197.9l8.6,1.6 -7.9,7.8 -8.5,-1.7z" fill="#eef50d"/>
<path d="M1536.4,180.2l8.3,2.7 -8.2,6.5 -8.3,-2.7z" fill="#fad40d"/>
<path d="M1553,176.7l8.2,2.9 -8.3,6.2 -8.2,-2.9z" fill="#faca0d"/>
<path d="M1420.3,210.3l8.7,0.8 -7.7,8.4 -8.7,-1z" fill="#d1f50d"/>
<path d="M1478.3,192.1l8.5,1.8 -7.9,7.4 -8.5,-1.8z" fill="#faf00d"/>
<path d="M1569.6,173.8l8.2,3.1 -8.4,5.8 -8.2,-3.1z" fill="#fac20d"/>
<path d="M1586.2,171.5l8.1,3.2 -8.5,5.5 -8,-3.3z" fill="#fabc0d"/>
<path d="M1602.8,169.6l8,3.5 -8.5,5.2 -8,-3.6z" fill="#fab70d"/>
<path d="M1494.9,186.8l8.4,2 -8,7.1 -8.5,-2z" fill="#fae20d"/>
<path d="M1619.4,168.4l8,3.7 -8.6,4.8 -8,-3.8z" fill="#fab30d"/>
<path d="M1652.6,167.6l7.9,4.1 -8.7,4.1 -7.9,-4.2z" fill="#fab00d"/>
<path d="M1636,167.7l7.9,3.9 -8.6,4.5 -7.9,-4z" fill="#fab10d"/>
<path d="M1436.7,203.2l8.7,1.1 -7.8,8 -8.6,-1.2z" fill="#e4f50d"/>
<path d="M1511.5,182.1l8.4,2.1 -8.2,6.8 -8.4,-2.2z" fill="#fad50d"/>
<path d="M1453.2,196.7l8.6,1.2 -7.8,7.7 -8.6,-1.3z" fill="#f7f50d"/>
<path d="M1528.1,177.9l8.3,2.3 -8.2,6.5 -8.3,-2.5z" fill="#fac90d"/>
<path d="M1411.5,209.7l8.8,0.6 -7.7,8.2 -8.7,-0.7z" fill="#d7f50d"/>
<path d="M1544.7,174.2l8.3,2.5 -8.3,6.2 -8.3,-2.7z" fill="#fabf0d"/>
<path d="M1469.8,190.7l8.5,1.4 -7.9,7.4 -8.6,-1.6z" fill="#fae70d"/>
<path d="M1561.4,171.1l8.2,2.7 -8.4,5.8 -8.2,-2.9z" fill="#fab60d"/>
<path d="M1578,168.5l8.2,3 -8.4,5.4 -8.2,-3.1z" fill="#faaf0d"/>
<path d="M1486.4,185.2l8.5,1.6 -8.1,7.1 -8.5,-1.8z" fill="#fad80d"/>
<path d="M1428,202.5l8.7,0.7 -7.7,7.9 -8.7,-0.8z" fill="#ebf50d"/>
<path d="M1594.7,166.5l8.1,3.1 -8.5,5.1 -8.1,-3.2z" fill="#faa90d"/>
<path d="M1611.4,165l8,3.4 -8.6,4.7 -8,-3.5z" fill="#faa50d"/>
<path d="M1661.4,164l7.8,4 -8.7,3.7 -7.9,-4.1z" fill="#faa20d"/>
<path d="M1628.1,164.1l7.9,3.6 -8.6,4.4 -8,-3.7z" fill="#faa30d"/>
<path d="M1644.7,163.7l7.9,3.9 -8.7,4 -7.9,-3.9z" fill="#faa20d"/>
<path d="M1503,180.2l8.5,1.9 -8.2,6.7 -8.4,-2z" fill="#facb0d"/>
<path d="M1444.6,195.7l8.6,1 -7.8,7.6 -8.7,-1.1z" fill="#faf10d"/>
<path d="M1519.7,175.8l8.4,2.1 -8.2,6.3 -8.4,-2.1z" fill="#fabf0d"/>
<path d="M1402.7,209.4l8.8,0.3 -7.6,8.1 -8.8,-0.3z" fill="#ddf50d"/>
<path d="M1536.4,171.9l8.3,2.3 -8.3,6 -8.3,-2.3z" fill="#fab40d"/>
<path d="M1461.2,189.5l8.6,1.2 -8,7.2 -8.6,-1.2z" fill="#fae00d"/>
<path d="M1553.1,168.6l8.3,2.5 -8.4,5.6 -8.3,-2.5z" fill="#faab0d"/>
<path d="M1419.3,202l8.7,0.5 -7.7,7.8 -8.8,-0.6z" fill="#f2f50d"/>
<path d="M1477.8,183.8l8.6,1.4 -8.1,6.9 -8.5,-1.4z" fill="#fad00d"/>
<path d="M1569.8,165.8l8.2,2.7 -8.4,5.3 -8.2,-2.7z" fill="#faa30d"/>
<path d="M1586.5,163.6l8.2,2.9 -8.5,5 -8.2,-3z" fill="#fa9d0d"/>
<path d="M1603.3,161.9l8.1,3.1 -8.6,4.6 -8.1,-3.1z" fill="#fa990d"/>
<path d="M1670.2,160.8l7.8,3.9 -8.8,3.3 -7.8,-4z" fill="#fa950d"/>
<path d="M1620,160.8l8.1,3.3 -8.7,4.3 -8,-3.4z" fill="#fa950d"/>
<path d="M1653.5,160.2l7.9,3.8 -8.8,3.6 -7.9,-3.9z" fill="#fa940d"/>
<path d="M1636.8,160.2l7.9,3.5 -8.7,4 -7.9,-3.6z" fill="#fa940d"/>
<path d="M1494.5,178.7l8.5,1.5 -8.1,6.6 -8.5,-1.6z" fill="#fac20d"/>
<path d="M1435.9,195.1l8.7,0.6 -7.9,7.5 -8.7,-0.7z" fill="#faea0d"/>
<path d="M1393.9,209.4l8.8,0 -7.6,8.1 -8.8,-0.1z" fill="#e2f50d"/>
<path d="M1511.2,174.1l8.5,1.7 -8.2,6.3 -8.5,-1.9z" fill="#fab60d"/>
<path d="M1452.5,188.7l8.7,0.8 -8,7.2 -8.6,-1z" fill="#fad90d"/>
<path d="M1527.9,170l8.5,1.9 -8.3,6 -8.4,-2.1z" fill="#faaa0d"/>
<path d="M1410.5,201.8l8.8,0.2 -7.8,7.7 -8.8,-0.3z" fill="#f7f50d"/>
<path d="M1544.7,166.4l8.4,2.2 -8.4,5.6 -8.3,-2.3z" fill="#faa10d"/>
<path d="M1469.2,182.8l8.6,1 -8,6.9 -8.6,-1.2z" fill="#fac90d"/>
<path d="M1561.5,163.5l8.3,2.3 -8.4,5.3 -8.3,-2.5z" fill="#fa990d"/>
<path d="M1578.3,161l8.2,2.6 -8.5,4.9 -8.2,-2.7z" fill="#fa920d"/>
<path d="M1679.1,158.1l7.8,3.8 -8.9,2.8 -7.8,-3.9z" fill="#fa890d"/>
<path d="M1485.9,177.4l8.6,1.3 -8.1,6.5 -8.6,-1.4z" fill="#faba0d"/>
<path d="M1595.1,159.1l8.2,2.8 -8.6,4.6 -8.2,-2.9z" fill="#fa8d0d"/>
<path d="M1427.1,194.7l8.8,0.4 -7.9,7.4 -8.7,-0.5z" fill="#fae40d"/>
<path d="M1662.3,157.2l7.9,3.6 -8.8,3.2 -7.9,-3.8z" fill="#fa870d"/>
<path d="M1611.9,157.8l8.1,3 -8.6,4.2 -8.1,-3.1z" fill="#fa890d"/>
<path d="M1645.5,156.8l8,3.4 -8.8,3.5 -7.9,-3.5z" fill="#fa860d"/>
<path d="M1628.7,157l8.1,3.2 -8.7,3.9 -8.1,-3.3z" fill="#fa870d"/>
<path d="M1385,209.7l8.9,-0.3 -7.6,8 -8.9,0.2z" fill="#e6f50d"/>
<path d="M1502.7,172.6l8.5,1.5 -8.2,6.1 -8.5,-1.5z" fill="#faad0d"/>
<path d="M1443.8,188.1l8.7,0.6 -7.9,7 -8.7,-0.6z" fill="#fad20d"/>
<path d="M1519.5,168.3l8.4,1.7 -8.2,5.8 -8.5,-1.7z" fill="#faa20d"/>
<path d="M1401.6,201.9l8.9,-0.1 -7.8,7.6 -8.8,0z" fill="#faf30d"/>
<path d="M1536.3,164.6l8.4,1.8 -8.3,5.5 -8.5,-1.9z" fill="#fa970d"/>
<path d="M1460.5,182l8.7,0.8 -8,6.7 -8.7,-0.8z" fill="#fac20d"/>
<path d="M1553.1,161.4l8.4,2.1 -8.4,5.1 -8.4,-2.2z" fill="#fa8f0d"/>
<path d="M1418.3,194.6l8.8,0.1 -7.8,7.3 -8.8,-0.2z" fill="#fadf0d"/>
<path d="M1570,158.7l8.3,2.3 -8.5,4.8 -8.3,-2.3z" fill="#fa870d"/>
<path d="M1477.3,176.5l8.6,0.9 -8.1,6.4 -8.6,-1z" fill="#fab30d"/>
<path d="M1688,155.8l7.8,3.8 -8.9,2.3 -7.8,-3.8z" fill="#fa7e0d"/>
<path d="M1376,210.3l9,-0.6 -7.6,7.9 -8.9,0.4z" fill="#eaf50d"/>
<path d="M1586.9,156.7l8.2,2.4 -8.6,4.5 -8.2,-2.6z" fill="#fa820d"/>
<path d="M1671.2,154.6l7.9,3.5 -8.9,2.7 -7.9,-3.6z" fill="#fa7b0d"/>
<path d="M1603.8,155.1l8.1,2.7 -8.6,4.1 -8.2,-2.8z" fill="#fa7d0d"/>
<path d="M1654.4,153.9l7.9,3.3 -8.8,3 -8,-3.4z" fill="#fa790d"/>
<path d="M1620.6,154.1l8.1,2.9 -8.7,3.8 -8.1,-3z" fill="#fa7b0d"/>
<path d="M1637.5,153.7l8,3.1 -8.7,3.4 -8.1,-3.2z" fill="#fa790d"/>
<path d="M1494.1,171.5l8.6,1.1 -8.2,6.1 -8.6,-1.3z" fill="#faa50d"/>
<path d="M1435,187.8l8.8,0.3 -7.9,7 -8.8,-0.4z" fill="#facd0d"/>
<path d="M1392.7,202.3l8.9,-0.4 -7.7,7.5 -8.9,0.3z" fill="#faef0d"/>
<path d="M1510.9,167l8.6,1.3 -8.3,5.8 -8.5,-1.5z" fill="#fa990d"/>
<path d="M1451.8,181.6l8.7,0.4 -8,6.7 -8.7,-0.6z" fill="#fabc0d"/>
<path d="M1527.8,163l8.5,1.6 -8.4,5.4 -8.4,-1.7z" fill="#fa8f0d"/>
<path d="M1544.7,159.6l8.4,1.8 -8.4,5 -8.4,-1.8z" fill="#fa860d"/>
<path d="M1409.4,194.9l8.9,-0.3 -7.8,7.2 -8.9,0.1z" fill="#fadb0d"/>
<path d="M1367,211.2l9,-0.9 -7.5,7.7 -9,0.8z" fill="#ecf50d"/>
<path d="M1468.6,175.8l8.7,0.7 -8.1,6.3 -8.7,-0.8z" fill="#faad0d"/>
<path d="M1561.6,156.8l8.4,1.9 -8.5,4.8 -8.4,-2.1z" fill="#fa7e0d"/>
<path d="M1697,154l7.8,3.7 -9,1.9 -7.8,-3.8z" fill="#fa750d"/>
<path d="M1578.6,154.5l8.3,2.2 -8.6,4.3 -8.3,-2.3z" fill="#fa780d"/>
<path d="M1680.1,152.4l7.9,3.4 -8.9,2.3 -7.9,-3.5z" fill="#fa710d"/>
<path d="M1595.5,152.7l8.3,2.4 -8.7,4 -8.2,-2.4z" fill="#fa730d"/>
<path d="M1663.2,151.4l8,3.2 -8.9,2.6 -7.9,-3.3z" fill="#fa6e0d"/>
<path d="M1485.4,170.6l8.7,0.9 -8.2,5.9 -8.6,-0.9z" fill="#fa9f0d"/>
<path d="M1612.5,151.6l8.1,2.5 -8.7,3.7 -8.1,-2.7z" fill="#fa6f0d"/>
<path d="M1426.1,187.9l8.9,-0.1 -7.9,6.9 -8.8,-0.1z" fill="#fac80d"/>
<path d="M1646.3,150.9l8.1,3 -8.9,2.9 -8,-3.1z" fill="#fa6d0d"/>
<path d="M1629.4,150.9l8.1,2.8 -8.8,3.3 -8.1,-2.9z" fill="#fa6e0d"/>
<path d="M1383.7,203l9,-0.7 -7.7,7.4 -9,0.6z" fill="#faec0d"/>
<path d="M1502.3,165.9l8.6,1.1 -8.2,5.6 -8.6,-1.1z" fill="#fa920d"/>
<path d="M1443,181.4l8.8,0.2 -8,6.5 -8.8,-0.3z" fill="#fab70d"/>
<path d="M1519.3,161.8l8.5,1.2 -8.3,5.3 -8.6,-1.3z" fill="#fa870d"/>
<path d="M1400.5,195.4l8.9,-0.5 -7.8,7 -8.9,0.4z" fill="#fad80d"/>
<path d="M1358,212.4l9,-1.2 -7.5,7.6 -9.1,1.1z" fill="#eef50d"/>
<path d="M1536.2,158.2l8.5,1.4 -8.4,5 -8.5,-1.6z" fill="#fa7d0d"/>
<path d="M1459.8,175.5l8.8,0.3 -8.1,6.2 -8.7,-0.4z" fill="#faa70d"/>
<path d="M1706,152.7l7.8,3.5 -9,1.5 -7.8,-3.7z" fill="#fa6d0d"/>
<path d="M1553.2,155.1l8.4,1.7 -8.5,4.6 -8.4,-1.8z" fill="#fa750d"/>
<path d="M1689.1,150.7l7.9,3.3 -9,1.8 -7.9,-3.4z" fill="#fa680d"/>
<path d="M1570.2,152.6l8.4,1.9 -8.6,4.2 -8.4,-1.9z" fill="#fa6e0d"/>
<path d="M1417.3,188.2l8.8,-0.3 -7.8,6.7 -8.9,0.3z" fill="#fac50d"/>
<path d="M1476.7,170.1l8.7,0.5 -8.1,5.9 -8.7,-0.7z" fill="#fa990d"/>
<path d="M1587.2,150.7l8.3,2 -8.6,4 -8.3,-2.2z" fill="#fa690d"/>
<path d="M1672.2,149.3l7.9,3.1 -8.9,2.2 -8,-3.2z" fill="#fa640d"/>
<path d="M1374.7,204l9,-1 -7.7,7.3 -9,0.9z" fill="#faea0d"/>
<path d="M1604.2,149.3l8.3,2.3 -8.7,3.5 -8.3,-2.4z" fill="#fa650d"/>
<path d="M1655.2,148.5l8,2.9 -8.8,2.5 -8.1,-3z" fill="#fa620d"/>
<path d="M1621.2,148.4l8.2,2.5 -8.8,3.2 -8.1,-2.5z" fill="#fa630d"/>
<path d="M1638.2,148.2l8.1,2.7 -8.8,2.8 -8.1,-2.8z" fill="#fa620d"/>
<path d="M1493.7,165.2l8.6,0.7 -8.2,5.6 -8.7,-0.9z" fill="#fa8c0d"/>
<path d="M1434.1,181.6l8.9,-0.2 -8,6.4 -8.9,0.1z" fill="#fab30d"/>
<path d="M1348.9,213.8l9.1,-1.4 -7.6,7.5 -9,1.3z" fill="#eff50d"/>
<path d="M1510.7,160.8l8.6,1 -8.4,5.2 -8.6,-1.1z" fill="#fa800d"/>
<path d="M1391.5,196.2l9,-0.8 -7.8,6.9 -9,0.7z" fill="#fad50d"/>
<path d="M1451,175.4l8.8,0.1 -8,6.1 -8.8,-0.2z" fill="#faa20d"/>
<path d="M1527.7,157l8.5,1.2 -8.4,4.8 -8.5,-1.2z" fill="#fa760d"/>
<path d="M1715.1,151.8l7.8,3.5 -9.1,0.9 -7.8,-3.5z" fill="#fa660d"/>
<path d="M1544.7,153.8l8.5,1.3 -8.5,4.5 -8.5,-1.4z" fill="#fa6d0d"/>
<path d="M1408.3,188.8l9,-0.6 -7.9,6.7 -8.9,0.5z" fill="#fac10d"/>
<path d="M1365.6,205.3l9.1,-1.3 -7.7,7.2 -9,1.2z" fill="#fae90d"/>
<path d="M1698.2,149.5l7.8,3.2 -9,1.3 -7.9,-3.3z" fill="#fa600d"/>
<path d="M1468,169.8l8.7,0.3 -8.1,5.7 -8.8,-0.3z" fill="#fa940d"/>
<path d="M1561.8,151.1l8.4,1.5 -8.6,4.2 -8.4,-1.7z" fill="#fa660d"/>
<path d="M1681.2,147.7l7.9,3 -9,1.7 -7.9,-3.1z" fill="#fa5c0d"/>
<path d="M1578.8,148.9l8.4,1.8 -8.6,3.8 -8.4,-1.9z" fill="#fa600d"/>
<path d="M1664.1,146.5l8.1,2.8 -9,2.1 -8,-2.9z" fill="#fa590d"/>
<path d="M1595.9,147.3l8.3,2 -8.7,3.4 -8.3,-2z" fill="#fa5c0d"/>
<path d="M1647.1,145.9l8.1,2.6 -8.9,2.4 -8.1,-2.7z" fill="#fa570d"/>
<path d="M1613,146.3l8.2,2.1 -8.7,3.2 -8.3,-2.3z" fill="#fa590d"/>
<path d="M1630.1,145.8l8.1,2.4 -8.8,2.7 -8.2,-2.5z" fill="#fa570d"/>
<path d="M1485,164.8l8.7,0.4 -8.3,5.4 -8.7,-0.5z" fill="#fa860d"/>
<path d="M1425.2,182l8.9,-0.4 -8,6.3 -8.8,0.3z" fill="#faaf0d"/>
<path d="M1339.8,215.6l9.1,-1.8 -7.5,7.4 -9.1,1.6z" fill="#eff50d"/>
<path d="M1382.5,197.3l9,-1.1 -7.8,6.8 -9,1z" fill="#fad30d"/>
<path d="M1502,160.2l8.7,0.6 -8.4,5.1 -8.6,-0.7z" fill="#fa7a0d"/>
<path d="M1442.2,175.7l8.8,-0.3 -8,6 -8.9,0.2z" fill="#fa9f0d"/>
<path d="M1519.1,156.2l8.6,0.8 -8.4,4.8 -8.6,-1z" fill="#fa6f0d"/>
<path d="M1724.2,151.4l7.8,3.3 -9.1,0.6 -7.8,-3.5z" fill="#fa600d"/>
<path d="M1399.3,189.8l9,-1 -7.8,6.6 -9,0.8z" fill="#fabf0d"/>
<path d="M1356.5,206.9l9.1,-1.6 -7.6,7.1 -9.1,1.4z" fill="#fae80d"/>
<path d="M1536.2,152.8l8.5,1 -8.5,4.4 -8.5,-1.2z" fill="#fa660d"/>
<path d="M1459.2,169.9l8.8,-0.1 -8.2,5.7 -8.8,-0.1z" fill="#fa8f0d"/>
<path d="M1707.2,148.7l7.9,3.1 -9.1,0.9 -7.8,-3.2z" fill="#fa590d"/>
<path d="M1553.3,149.8l8.5,1.3 -8.6,4 -8.5,-1.3z" fill="#fa5e0d"/>
<path d="M1690.2,146.6l8,2.9 -9.1,1.2 -7.9,-3z" fill="#fa540d"/>
<path d="M1570.4,147.5l8.4,1.4 -8.6,3.7 -8.4,-1.5z" fill="#fa580d"/>
<path d="M1673.1,145l8.1,2.7 -9,1.6 -8.1,-2.8z" fill="#fa500d"/>
<path d="M1416.3,182.7l8.9,-0.7 -7.9,6.2 -9,0.6z" fill="#faad0d"/>
<path d="M1330.6,217.6l9.2,-2 -7.5,7.2 -9.2,2z" fill="#eff50d"/>
<path d="M1476.2,164.6l8.8,0.2 -8.3,5.3 -8.7,-0.3z" fill="#fa810d"/>
<path d="M1587.5,145.7l8.4,1.6 -8.7,3.4 -8.4,-1.8z" fill="#fa530d"/>
<path d="M1656,144l8.1,2.5 -8.9,2 -8.1,-2.6z" fill="#fa4e0d"/>
<path d="M1604.7,144.4l8.3,1.9 -8.8,3 -8.3,-2z" fill="#fa4f0d"/>
<path d="M1373.4,198.7l9.1,-1.4 -7.8,6.7 -9.1,1.3z" fill="#fad20d"/>
<path d="M1638.9,143.6l8.2,2.3 -8.9,2.3 -8.1,-2.4z" fill="#fa4d0d"/>
<path d="M1621.8,143.7l8.3,2.1 -8.9,2.6 -8.2,-2.1z" fill="#fa4d0d"/>
<path d="M1493.3,159.9l8.7,0.3 -8.3,5 -8.7,-0.4z" fill="#fa750d"/>
<path d="M1433.3,176.2l8.9,-0.5 -8.1,5.9 -8.9,0.4z" fill="#fa9b0d"/>
<path d="M1510.4,155.7l8.7,0.5 -8.4,4.6 -8.7,-0.6z" fill="#fa690d"/>
<path d="M1347.4,208.8l9.1,-1.9 -7.6,6.9 -9.1,1.8z" fill="#fae80d"/>
<path d="M1390.3,191l9,-1.2 -7.8,6.4 -9,1.1z" fill="#fabe0d"/>
<path d="M1733.4,151.4l7.8,3.3 -9.2,0 -7.8,-3.3z" fill="#fa5c0d" class="s4"/>
<path d="M1450.3,170.3l8.9,-0.4 -8.2,5.5 -8.8,0.3z" fill="#fa8c0d"/>
<path d="M1527.6,152l8.6,0.8 -8.5,4.2 -8.6,-0.8z" fill="#fa600d"/>
<path d="M1716.4,148.4l7.8,3 -9.1,0.4 -7.9,-3.1z" fill="#fa540d" class="s4"/>
<path d="M1544.7,148.9l8.6,0.9 -8.6,4 -8.5,-1z" fill="#fa570d"/>
<path d="M1321.4,220l9.2,-2.4 -7.5,7.2 -9.2,2.2z" fill="#eef50d"/>
<path d="M1699.3,145.9l7.9,2.8 -9,0.8 -8,-2.9z" fill="#fa4e0d"/>
<path d="M1407.3,183.8l9,-1.1 -8,6.1 -9,1z" fill="#faab0d"/>
<path d="M1364.3,200.4l9.1,-1.7 -7.8,6.6 -9.1,1.6z" fill="#fad20d"/>
<path d="M1467.4,164.8l8.8,-0.2 -8.2,5.2 -8.8,0.1z" fill="#fa7d0d"/>
<path d="M1561.9,146.3l8.5,1.2 -8.6,3.6 -8.5,-1.3z" fill="#fa510d"/>
<path d="M1682.2,144l8,2.6 -9,1.1 -8.1,-2.7z" fill="#fa490d"/>
<path d="M1579.1,144.3l8.4,1.4 -8.7,3.2 -8.4,-1.4z" fill="#fa4b0d"/>
<path d="M1665,142.6l8.1,2.4 -9,1.5 -8.1,-2.5z" fill="#fa460d"/>
<path d="M1596.3,142.9l8.4,1.5 -8.8,2.9 -8.4,-1.6z" fill="#fa470d"/>
<path d="M1647.9,141.9l8.1,2.1 -8.9,1.9 -8.2,-2.3z" fill="#fa440d"/>
<path d="M1613.5,142l8.3,1.7 -8.8,2.6 -8.3,-1.9z" fill="#fa450d"/>
<path d="M1630.7,141.6l8.2,2 -8.8,2.2 -8.3,-2.1z" fill="#fa430d"/>
<path d="M1484.5,159.9l8.8,0 -8.3,4.9 -8.8,-0.2z" fill="#fa700d"/>
<path d="M1424.3,177.1l9,-0.9 -8.1,5.8 -8.9,0.7z" fill="#fa990d"/>
<path d="M1338.2,210.9l9.2,-2.1 -7.6,6.8 -9.2,2z" fill="#fae90d"/>
<path d="M1381.2,192.5l9.1,-1.5 -7.8,6.3 -9.1,1.4z" fill="#fabd0d"/>
<path d="M1742.6,151.9l7.8,3.2 -9.2,-0.4 -7.8,-3.3z" fill="#fa580d" class="s4"/>
<path d="M1501.7,155.5l8.7,0.2 -8.4,4.5 -8.7,-0.3z" fill="#fa640d"/>
<path d="M1441.4,170.9l8.9,-0.6 -8.1,5.4 -8.9,0.5z" fill="#fa890d"/>
<path d="M1725.5,148.5l7.9,2.9 -9.2,0 -7.8,-3z" fill="#fa500d" class="s4"/>
<path d="M1518.9,151.6l8.7,0.4 -8.5,4.2 -8.7,-0.5z" fill="#fa5a0d"/>
<path d="M1312.1,222.6l9.3,-2.6 -7.5,7 -9.3,2.5z" fill="#ecf50d"/>
<path d="M1398.2,185.1l9.1,-1.3 -8,6 -9,1.2z" fill="#faa90d"/>
<path d="M1355.1,202.4l9.2,-2 -7.8,6.5 -9.1,1.9z" fill="#fad20d"/>
<path d="M1708.4,145.7l8,2.7 -9.2,0.3 -7.9,-2.8z" fill="#fa490d" class="s4"/>
<path d="M1536.1,148.3l8.6,0.6 -8.5,3.9 -8.6,-0.8z" fill="#fa510d"/>
<path d="M1458.5,165.3l8.9,-0.5 -8.2,5.1 -8.9,0.4z" fill="#fa7a0d"/>
<path d="M1691.3,143.4l8,2.5 -9.1,0.7 -8,-2.6z" fill="#fa430d" class="s4"/>
<path d="M1553.4,145.5l8.5,0.8 -8.6,3.5 -8.6,-0.9z" fill="#fa4a0d"/>
<path d="M1674.1,141.7l8.1,2.3 -9.1,1 -8.1,-2.4z" fill="#fa3f0d" class="s4"/>
<path d="M1570.6,143.3l8.5,1 -8.7,3.2 -8.5,-1.2z" fill="#fa440d"/>
<path d="M1656.9,140.6l8.1,2 -9,1.4 -8.1,-2.1z" fill="#fa3c0d" class="s4"/>
<path d="M1587.9,141.7l8.4,1.2 -8.8,2.8 -8.4,-1.4z" fill="#fa400d"/>
<path d="M1415.3,178.3l9,-1.2 -8,5.6 -9,1.1z" fill="#fa970d"/>
<path d="M1475.7,160.2l8.8,-0.3 -8.3,4.7 -8.8,0.2z" fill="#fa6c0d"/>
<path d="M1329,213.4l9.2,-2.5 -7.6,6.7 -9.2,2.4z" fill="#faea0d"/>
<path d="M1639.6,140l8.3,1.9 -9,1.7 -8.2,-2z" fill="#fa3b0d" class="s4"/>
<path d="M1605.1,140.6l8.4,1.4 -8.8,2.4 -8.4,-1.5z" fill="#fa3d0d"/>
<path d="M1622.4,140l8.3,1.6 -8.9,2.1 -8.3,-1.7z" fill="#fa3b0d"/>
<path d="M1372.1,194.3l9.1,-1.8 -7.8,6.2 -9.1,1.7z" fill="#fabd0d"/>
<path d="M1751.8,152.9l7.8,3 -9.2,-0.8 -7.8,-3.2z" fill="#fa560d" class="s3"/>
<path d="M1492.9,155.6l8.8,-0.1 -8.4,4.4 -8.8,0z" fill="#fa600d"/>
<path d="M1302.8,225.5l9.3,-2.9 -7.5,6.9 -9.3,2.7z" fill="#e9f50d"/>
<path d="M1432.4,171.9l9,-1 -8.1,5.3 -9,0.9z" fill="#fa870d"/>
<path d="M1734.7,149.2l7.9,2.7 -9.2,-0.5 -7.9,-2.9z" fill="#fa4d0d" class="s3"/>
<path d="M1510.2,151.5l8.7,0.1 -8.5,4.1 -8.7,-0.2z" fill="#fa560d"/>
<path d="M1345.9,204.7l9.2,-2.3 -7.7,6.4 -9.2,2.1z" fill="#fad30d"/>
<path d="M1389.1,186.8l9.1,-1.7 -7.9,5.9 -9.1,1.5z" fill="#faa90d"/>
<path d="M1717.6,146l7.9,2.5 -9.1,-0.1 -8,-2.7z" fill="#fa450d" class="s3"/>
<path d="M1527.4,148l8.7,0.3 -8.5,3.7 -8.7,-0.4z" fill="#fa4c0d"/>
<path d="M1449.6,166.1l8.9,-0.8 -8.2,5 -8.9,0.6z" fill="#fa770d"/>
<path d="M1700.4,143.4l8,2.3 -9.1,0.2 -8,-2.5z" fill="#fa3e0d" class="s3"/>
<path d="M1544.7,145l8.7,0.5 -8.7,3.4 -8.6,-0.6z" fill="#fa440d"/>
<path d="M1319.7,216.1l9.3,-2.7 -7.6,6.6 -9.3,2.6z" fill="#faec0d"/>
<path d="M1683.2,141.3l8.1,2.1 -9.1,0.6 -8.1,-2.3z" fill="#fa390d" class="s4"/>
<path d="M1406.2,179.7l9.1,-1.4 -8,5.5 -9.1,1.3z" fill="#fa970d"/>
<path d="M1562,142.6l8.6,0.7 -8.7,3 -8.5,-0.8z" fill="#fa3e0d"/>
<path d="M1466.8,160.8l8.9,-0.6 -8.3,4.6 -8.9,0.5z" fill="#fa690d"/>
<path d="M1362.9,196.4l9.2,-2.1 -7.8,6.1 -9.2,2z" fill="#fabe0d"/>
<path d="M1665.9,139.8l8.2,1.9 -9.1,0.9 -8.1,-2z" fill="#fa350d" class="s4"/>
<path d="M1579.4,140.8l8.5,0.9 -8.8,2.6 -8.5,-1z" fill="#fa390d" class="s4"/>
<path d="M1761.1,154.3l7.8,2.9 -9.3,-1.3 -7.8,-3z" fill="#fa550d" class="s3"/>
<path d="M1648.6,138.9l8.3,1.7 -9,1.3 -8.3,-1.9z" fill="#fa330d" class="s4"/>
<path d="M1596.7,139.4l8.4,1.2 -8.8,2.3 -8.4,-1.2z" fill="#fa350d" class="s4"/>
<path d="M1631.3,138.5l8.3,1.5 -8.9,1.6 -8.3,-1.6z" fill="#fa330d" class="s4"/>
<path d="M1614,138.7l8.4,1.3 -8.9,2 -8.4,-1.4z" fill="#fa330d" class="s4"/>
<path d="M1293.5,228.7l9.3,-3.2 -7.5,6.7 -9.3,3.1z" fill="#e6f50d"/>
<path d="M1484.1,156l8.8,-0.4 -8.4,4.3 -8.8,0.3z" fill="#fa5d0d"/>
<path d="M1423.4,173.2l9,-1.3 -8.1,5.2 -9,1.2z" fill="#fa850d"/>
<path d="M1744,150.2l7.8,2.7 -9.2,-1 -7.9,-2.7z" fill="#fa4b0d" class="s3"/>
<path d="M1336.6,207.2l9.3,-2.5 -7.7,6.2 -9.2,2.5z" fill="#fad50d"/>
<path d="M1380,188.7l9.1,-1.9 -7.9,5.7 -9.1,1.8z" fill="#faa90d"/>
<path d="M1501.4,151.7l8.8,-0.2 -8.5,4 -8.8,0.1z" fill="#fa520d"/>
<path d="M1726.8,146.7l7.9,2.5 -9.2,-0.7 -7.9,-2.5z" fill="#fa420d" class="s3"/>
<path d="M1440.6,167.2l9,-1.1 -8.2,4.8 -9,1z" fill="#fa760d"/>
<path d="M1518.7,148l8.7,0 -8.5,3.6 -8.7,-0.1z" fill="#fa480d" class="s4"/>
<path d="M1310.4,219.2l9.3,-3.1 -7.6,6.5 -9.3,2.9z" fill="#faef0d"/>
<path d="M1709.6,143.7l8,2.3 -9.2,-0.3 -8,-2.3z" fill="#fa3b0d" class="s3"/>
<path d="M1397.1,181.5l9.1,-1.8 -8,5.4 -9.1,1.7z" fill="#fa960d"/>
<path d="M1536.1,144.9l8.6,0.1 -8.6,3.3 -8.7,-0.3z" fill="#fa400d" class="s4"/>
<path d="M1353.7,198.9l9.2,-2.5 -7.8,6 -9.2,2.3z" fill="#fabf0d"/>
<path d="M1692.3,141.3l8.1,2.1 -9.1,0 -8.1,-2.1z" fill="#fa350d" class="s3"/>
<path d="M1457.9,161.7l8.9,-0.9 -8.3,4.5 -8.9,0.8z" fill="#fa670d"/>
<path d="M1770.5,156.3l7.7,2.7 -9.3,-1.8 -7.8,-2.9z" fill="#fa560d" class="s2"/>
<path d="M1284.1,232.2l9.4,-3.5 -7.5,6.6 -9.4,3.4z" fill="#e2f50d"/>
<path d="M1553.4,142.2l8.6,0.4 -8.6,2.9 -8.7,-0.5z" fill="#fa390d" class="s4"/>
<path d="M1675,139.5l8.2,1.8 -9.1,0.4 -8.2,-1.9z" fill="#fa300d" class="s3"/>
<path d="M1570.8,140.2l8.6,0.6 -8.8,2.5 -8.6,-0.7z" fill="#fa330d" class="s4"/>
<path d="M1657.7,138.2l8.2,1.6 -9,0.8 -8.3,-1.7z" fill="#fa2d0d" class="s3"/>
<path d="M1588.2,138.7l8.5,0.7 -8.8,2.3 -8.5,-0.9z" fill="#fa2f0d" class="s4"/>
<path d="M1640.3,137.5l8.3,1.4 -9,1.1 -8.3,-1.5z" fill="#fa2b0d" class="s3"/>
<path d="M1605.6,137.7l8.4,1 -8.9,1.9 -8.4,-1.2z" fill="#fa2c0d" class="s4"/>
<path d="M1623,137.3l8.3,1.2 -8.9,1.5 -8.4,-1.3z" fill="#fa2b0d" class="s3"/>
<path d="M1475.2,156.7l8.9,-0.7 -8.4,4.2 -8.9,0.6z" fill="#fa5a0d" class="s4"/>
<path d="M1414.3,174.8l9.1,-1.6 -8.1,5.1 -9.1,1.4z" fill="#fa850d"/>
<path d="M1327.3,210.1l9.3,-2.9 -7.6,6.2 -9.3,2.7z" fill="#fad80d"/>
<path d="M1753.3,151.8l7.8,2.5 -9.3,-1.4 -7.8,-2.7z" fill="#fa4a0d" class="s2"/>
<path d="M1370.8,191l9.2,-2.3 -7.9,5.6 -9.2,2.1z" fill="#faaa0d"/>
<path d="M1492.5,152.3l8.9,-0.6 -8.5,3.9 -8.8,0.4z" fill="#fa4f0d" class="s4"/>
<path d="M1736.1,147.9l7.9,2.3 -9.3,-1 -7.9,-2.5z" fill="#fa410d" class="s2"/>
<path d="M1301,222.5l9.4,-3.3 -7.6,6.3 -9.3,3.2z" fill="#faf30d"/>
<path d="M1431.6,168.6l9,-1.4 -8.2,4.7 -9,1.3z" fill="#fa750d" class="s4"/>
<path d="M1509.9,148.4l8.8,-0.4 -8.5,3.5 -8.8,0.2z" fill="#fa440d" class="s4"/>
<path d="M1718.8,144.6l8,2.1 -9.2,-0.7 -8,-2.3z" fill="#fa380d" class="s2"/>
<path d="M1344.4,201.6l9.3,-2.7 -7.8,5.8 -9.3,2.5z" fill="#fac10d"/>
<path d="M1388,183.6l9.1,-2.1 -8,5.3 -9.1,1.9z" fill="#fa970d"/>
<path d="M1274.7,235.9l9.4,-3.7 -7.5,6.5 -9.4,3.6z" fill="#ddf50d"/>
<path d="M1779.8,158.6l7.7,2.7 -9.3,-2.3 -7.7,-2.7z" fill="#fa570d" class="s1"/>
<path d="M1527.3,145l8.8,-0.1 -8.7,3.1 -8.7,0z" fill="#fa3c0d" class="s4"/>
<path d="M1701.5,141.8l8.1,1.9 -9.2,-0.3 -8.1,-2.1z" fill="#fa310d" class="s2"/>
<path d="M1448.9,162.9l9,-1.2 -8.3,4.4 -9,1.1z" fill="#fa660d" class="s4"/>
<path d="M1544.7,142.2l8.7,0 -8.7,2.8 -8.6,-0.1z" fill="#fa340d" class="s4"/>
<path d="M1684.2,139.6l8.1,1.7 -9.1,0 -8.2,-1.8z" fill="#fa2c0d" class="s2"/>
<path d="M1318,213.3l9.3,-3.2 -7.6,6 -9.3,3.1z" fill="#fadb0d"/>
<path d="M1562.2,139.9l8.6,0.3 -8.8,2.4 -8.6,-0.4z" fill="#fa2e0d" class="s3"/>
<path d="M1762.6,153.8l7.9,2.5 -9.4,-2 -7.8,-2.5z" fill="#fa4b0d" class="s1"/>
<path d="M1405.2,176.7l9.1,-1.9 -8.1,4.9 -9.1,1.8z" fill="#fa850d" class="s4"/>
<path d="M1666.8,138l8.2,1.5 -9.1,0.3 -8.2,-1.6z" fill="#fa280d" class="s2"/>
<path d="M1466.2,157.7l9,-1 -8.4,4.1 -8.9,0.9z" fill="#fa580d" class="s4"/>
<path d="M1361.5,193.5l9.3,-2.5 -7.9,5.4 -9.2,2.5z" fill="#faac0d" class="s4"/>
<path d="M1579.6,138.2l8.6,0.5 -8.8,2.1 -8.6,-0.6z" fill="#fa2a0d" class="s3"/>
<path d="M1649.4,136.9l8.3,1.3 -9.1,0.7 -8.3,-1.4z" fill="#fa250d" class="s3"/>
<path d="M1597.1,137l8.5,0.7 -8.9,1.7 -8.5,-0.7z" fill="#fa260d" class="s3"/>
<path d="M1632,136.4l8.3,1.1 -9,1 -8.3,-1.2z" fill="#fa240d" class="s3"/>
<path d="M1614.5,136.4l8.5,0.9 -9,1.4 -8.4,-1z" fill="#fa250d" class="s3"/>
<path d="M1291.6,226.1l9.4,-3.6 -7.5,6.2 -9.4,3.5z" fill="#f7f50d" class="s4"/>
<path d="M1745.4,149.6l7.9,2.2 -9.3,-1.6 -7.9,-2.3z" fill="#fa400d" class="s1"/>
<path d="M1483.6,153.1l8.9,-0.8 -8.4,3.7 -8.9,0.7z" fill="#fa4c0d" class="s4"/>
<path d="M1422.5,170.3l9.1,-1.7 -8.2,4.6 -9.1,1.6z" fill="#fa750d" class="s4"/>
<path d="M1335.1,204.6l9.3,-3 -7.8,5.6 -9.3,2.9z" fill="#fac40d" class="s4"/>
<path d="M1265.2,240l9.5,-4.1 -7.5,6.4 -9.4,3.9z" fill="#d7f50d" class="s4"/>
<path d="M1378.8,185.9l9.2,-2.3 -8,5.1 -9.2,2.3z" fill="#fa990d" class="s4"/>
<path d="M1728.1,145.9l8,2 -9.3,-1.2 -8,-2.1z" fill="#fa370d" class="s1"/>
<path d="M1501.1,149l8.8,-0.6 -8.5,3.3 -8.9,0.6z" fill="#fa420d" class="s4"/>
<path d="M1789.2,161.5l7.7,2.5 -9.4,-2.7 -7.7,-2.7z" fill="#fa5a0d" class="s0"/>
<path d="M1439.8,164.4l9.1,-1.5 -8.3,4.3 -9,1.4z" fill="#fa650d" class="s4"/>
<path d="M1710.7,142.8l8.1,1.8 -9.2,-0.9 -8.1,-1.9z" fill="#fa2f0d" class="s1"/>
<path d="M1518.5,145.4l8.8,-0.4 -8.6,3 -8.8,0.4z" fill="#fa380d" class="s3"/>
<path d="M1308.6,216.7l9.4,-3.4 -7.6,5.9 -9.4,3.3z" fill="#fadf0d" class="s4"/>
<path d="M1772,156.3l7.8,2.3 -9.3,-2.3 -7.9,-2.5z" fill="#fa4d0d" class="s0"/>
<path d="M1693.4,140.2l8.1,1.6 -9.2,-0.5 -8.1,-1.7z" fill="#fa290d" class="s2"/>
<path d="M1536,142.4l8.7,-0.2 -8.6,2.7 -8.8,0.1z" fill="#fa310d" class="s3"/>
<path d="M1396,178.9l9.2,-2.2 -8.1,4.8 -9.1,2.1z" fill="#fa860d" class="s4"/>
<path d="M1352.3,196.3l9.2,-2.8 -7.8,5.4 -9.3,2.7z" fill="#faaf0d" class="s4"/>
<path d="M1457.2,159.1l9,-1.4 -8.3,4 -9,1.2z" fill="#fa570d" class="s4"/>
<path d="M1675.9,138.2l8.3,1.4 -9.2,-0.1 -8.2,-1.5z" fill="#fa240d" class="s2"/>
<path d="M1553.5,140l8.7,-0.1 -8.8,2.3 -8.7,0z" fill="#fa2a0d" class="s3"/>
<path d="M1282.2,230l9.4,-3.9 -7.5,6.1 -9.4,3.7z" fill="#f2f50d" class="s4"/>
<path d="M1658.5,136.8l8.3,1.2 -9.1,0.2 -8.3,-1.3z" fill="#fa210d" class="s2"/>
<path d="M1571,138.1l8.6,0.1 -8.8,2 -8.6,-0.3z" fill="#fa250d" class="s3"/>
<path d="M1754.7,151.7l7.9,2.1 -9.3,-2 -7.9,-2.2z" fill="#fa410d" class="s0"/>
<path d="M1641,135.9l8.4,1 -9.1,0.6 -8.3,-1.1z" fill="#fa1f0d" class="s2"/>
<path d="M1588.5,136.7l8.6,0.3 -8.9,1.7 -8.6,-0.5z" fill="#fa210d" class="s3"/>
<path d="M1623.5,135.6l8.5,0.8 -9,0.9 -8.5,-0.9z" fill="#fa1e0d" class="s2"/>
<path d="M1606,135.9l8.5,0.5 -8.9,1.3 -8.5,-0.7z" fill="#fa1f0d" class="s2"/>
<path d="M1255.7,244.3l9.5,-4.3 -7.4,6.2 -9.5,4.2z" fill="#d1f50d" class="s4"/>
<path d="M1474.7,154.2l8.9,-1.1 -8.4,3.6 -9,1z" fill="#fa4b0d" class="s3"/>
<path d="M1413.4,172.3l9.1,-2 -8.2,4.5 -9.1,1.9z" fill="#fa750d" class="s4"/>
<path d="M1325.7,207.9l9.4,-3.3 -7.8,5.5 -9.3,3.2z" fill="#fac80d" class="s4"/>
<path d="M1798.6,164.8l7.7,2.4 -9.4,-3.2 -7.7,-2.5z" fill="#fa5d0d" class="s0"/>
<path d="M1369.5,188.6l9.3,-2.7 -8,5.1 -9.3,2.5z" fill="#fa9b0d" class="s4"/>
<path d="M1737.4,147.7l8,1.9 -9.3,-1.7 -8,-2z" fill="#fa370d" class="s0"/>
<path d="M1492.2,150l8.9,-1 -8.6,3.3 -8.9,0.8z" fill="#fa400d" class="s3"/>
<path d="M1299.2,220.5l9.4,-3.8 -7.6,5.8 -9.4,3.6z" fill="#fae40d" class="s4"/>
<path d="M1430.8,166.2l9,-1.8 -8.2,4.2 -9.1,1.7z" fill="#fa660d" class="s3"/>
<path d="M1720,144.2l8.1,1.7 -9.3,-1.3 -8.1,-1.8z" fill="#fa2e0d" class="s0"/>
<path d="M1781.4,159.3l7.8,2.2 -9.4,-2.9 -7.8,-2.3z" fill="#fa500d" class="s0"/>
<path d="M1509.7,146.2l8.8,-0.8 -8.6,3 -8.8,0.6z" fill="#fa360d" class="s3"/>
<path d="M1342.9,199.5l9.4,-3.2 -7.9,5.3 -9.3,3z" fill="#fab20d" class="s4"/>
<path d="M1386.8,181.4l9.2,-2.5 -8,4.7 -9.2,2.3z" fill="#fa880d" class="s3"/>
<path d="M1702.6,141.3l8.1,1.5 -9.2,-1 -8.1,-1.6z" fill="#fa270d" class="s1"/>
<path d="M1272.7,234.2l9.5,-4.2 -7.5,5.9 -9.5,4.1z" fill="#ecf50d" class="s4"/>
<path d="M1527.2,143l8.8,-0.6 -8.7,2.6 -8.8,0.4z" fill="#fa2e0d" class="s3"/>
<path d="M1448.2,160.7l9,-1.6 -8.3,3.8 -9.1,1.5z" fill="#fa570d" class="s3"/>
<path d="M1685.1,139l8.3,1.2 -9.2,-0.6 -8.3,-1.4z" fill="#fa220d" class="s1"/>
<path d="M1764.1,154.3l7.9,2 -9.4,-2.5 -7.9,-2.1z" fill="#fa430d" class="s0"/>
<path d="M1246.2,248.9l9.5,-4.6 -7.4,6.1 -9.5,4.5z" fill="#caf50d" class="s4"/>
<path d="M1544.7,140.3l8.8,-0.3 -8.8,2.2 -8.7,0.2z" fill="#fa270d" class="s2"/>
<path d="M1667.6,137.2l8.3,1 -9.1,-0.2 -8.3,-1.2z" fill="#fa1d0d" class="s1"/>
<path d="M1316.4,211.5l9.3,-3.6 -7.7,5.4 -9.4,3.4z" fill="#facc0d" class="s3"/>
<path d="M1562.3,138.2l8.7,-0.1 -8.8,1.8 -8.7,0.1z" fill="#fa210d" class="s2"/>
<path d="M1808,168.6l7.8,2.2 -9.5,-3.6 -7.7,-2.4z" fill="#fa620d" class="s1"/>
<path d="M1404.2,174.6l9.2,-2.3 -8.2,4.4 -9.2,2.2z" fill="#fa770d" class="s3"/>
<path d="M1650.1,136l8.4,0.8 -9.1,0.1 -8.4,-1z" fill="#fa1a0d" class="s1"/>
<path d="M1579.9,136.7l8.6,0 -8.9,1.5 -8.6,-0.1z" fill="#fa1d0d" class="s2"/>
<path d="M1465.7,155.7l9,-1.5 -8.5,3.5 -9,1.4z" fill="#fa4a0d" class="s3"/>
<path d="M1360.2,191.6l9.3,-3 -8,4.9 -9.2,2.8z" fill="#fa9e0d" class="s3"/>
<path d="M1632.6,135.3l8.4,0.6 -9,0.5 -8.5,-0.8z" fill="#fa190d" class="s1"/>
<path d="M1597.4,135.7l8.6,0.2 -8.9,1.1 -8.6,-0.3z" fill="#fa1a0d" class="s2"/>
<path d="M1615,135.2l8.5,0.4 -9,0.8 -8.5,-0.5z" fill="#fa190d" class="s2"/>
<path d="M1746.7,150l8,1.7 -9.3,-2.1 -8,-1.9z" fill="#fa380d" class="s0"/>
<path d="M1289.8,224.5l9.4,-4 -7.6,5.6 -9.4,3.9z" fill="#fae90d" class="s3"/>
<path d="M1483.2,151.2l9,-1.2 -8.6,3.1 -8.9,1.1z" fill="#fa3f0d" class="s3"/>
<path d="M1790.8,162.7l7.8,2.1 -9.4,-3.3 -7.8,-2.2z" fill="#fa540d" class="s1"/>
<path d="M1421.6,168.4l9.2,-2.2 -8.3,4.1 -9.1,2z" fill="#fa660d" class="s3"/>
<path d="M1263.2,238.7l9.5,-4.5 -7.5,5.8 -9.5,4.3z" fill="#e6f50d" class="s3"/>
<path d="M1333.6,202.9l9.3,-3.4 -7.8,5.1 -9.4,3.3z" fill="#fab60d" class="s3"/>
<path d="M1377.6,184.2l9.2,-2.8 -8,4.5 -9.3,2.7z" fill="#fa8a0d" class="s3"/>
<path d="M1500.7,147.3l9,-1.1 -8.6,2.8 -8.9,1z" fill="#fa350d" class="s2"/>
<path d="M1711.9,142.9l8.1,1.3 -9.3,-1.4 -8.1,-1.5z" fill="#fa270d" class="s0"/>
<path d="M1236.6,253.8l9.6,-4.9 -7.4,6 -9.5,4.7z" fill="#c3f50d" class="s3"/>
<path d="M1773.5,157.4l7.9,1.9 -9.4,-3 -7.9,-2z" fill="#fa460d" class="s1"/>
<path d="M1439.1,162.7l9.1,-2 -8.4,3.7 -9,1.8z" fill="#fa580d" class="s3"/>
<path d="M1518.3,143.9l8.9,-0.9 -8.7,2.4 -8.8,0.8z" fill="#fa2c0d" class="s2"/>
<path d="M1694.4,140.2l8.2,1.1 -9.2,-1.1 -8.3,-1.2z" fill="#fa200d" class="s0"/>
<path d="M1817.5,172.8l7.7,2.2 -9.4,-4.2 -7.8,-2.2z" fill="#fa680d" class="s2"/>
<path d="M1306.9,215.4l9.5,-3.9 -7.8,5.2 -9.4,3.8z" fill="#fad10d" class="s3"/>
<path d="M1535.9,141l8.8,-0.7 -8.7,2.1 -8.8,0.6z" fill="#fa240d" class="s2"/>
<path d="M1395,177.2l9.2,-2.6 -8.2,4.3 -9.2,2.5z" fill="#fa790d" class="s3"/>
<path d="M1676.8,138l8.3,1 -9.2,-0.8 -8.3,-1z" fill="#fa1b0d" class="s0"/>
<path d="M1350.9,194.8l9.3,-3.2 -7.9,4.7 -9.4,3.2z" fill="#faa10d" class="s3"/>
<path d="M1553.5,138.7l8.8,-0.5 -8.8,1.8 -8.8,0.3z" fill="#fa1e0d" class="s2"/>
<path d="M1456.6,157.5l9.1,-1.8 -8.5,3.4 -9,1.6z" fill="#fa4a0d" class="s2"/>
<path d="M1756.1,152.7l8,1.6 -9.4,-2.6 -8,-1.7z" fill="#fa3b0d" class="s0"/>
<path d="M1659.3,136.5l8.3,0.7 -9.1,-0.4 -8.4,-0.8z" fill="#fa170d" class="s0"/>
<path d="M1280.3,228.9l9.5,-4.4 -7.6,5.5 -9.5,4.2z" fill="#faef0d" class="s3"/>
<path d="M1571.2,137l8.7,-0.3 -8.9,1.4 -8.7,0.1z" fill="#fa1a0d" class="s1"/>
<path d="M1641.7,135.5l8.4,0.5 -9.1,-0.1 -8.4,-0.6z" fill="#fa150d" class="s0"/>
<path d="M1588.8,135.8l8.6,-0.1 -8.9,1 -8.6,0z" fill="#fa160d" class="s1"/>
<path d="M1624.1,135l8.5,0.3 -9.1,0.3 -8.5,-0.4z" fill="#fa140d" class="s1"/>
<path d="M1606.4,135.1l8.6,0.1 -9,0.7 -8.6,-0.2z" fill="#fa140d" class="s1"/>
<path d="M1800.3,166.6l7.7,2 -9.4,-3.8 -7.8,-2.1z" fill="#fa590d" class="s2"/>
<path d="M1253.6,243.4l9.6,-4.7 -7.5,5.6 -9.5,4.6z" fill="#def50d" class="s3"/>
<path d="M1474.2,152.8l9,-1.6 -8.5,3 -9,1.5z" fill="#fa3e0d" class="s2"/>
<path d="M1738.7,148.5l8,1.5 -9.3,-2.3 -8.1,-1.6z" fill="#fa300d" class="s0"/>
<path d="M1412.4,170.8l9.2,-2.4 -8.2,3.9 -9.2,2.3z" fill="#fa680d" class="s2"/>
<path d="M1324.2,206.6l9.4,-3.7 -7.9,5 -9.3,3.6z" fill="#fabb0d" class="s3"/>
<path d="M1227,259l9.6,-5.2 -7.3,5.8 -9.6,5.1z" fill="#bbf50d" class="s3"/>
<path d="M1368.2,187.3l9.4,-3.1 -8.1,4.4 -9.3,3z" fill="#fa8e0d" class="s2"/>
<path d="M1491.8,148.7l8.9,-1.4 -8.5,2.7 -9,1.2z" fill="#fa340d" class="s2"/>
<path d="M1721.2,144.9l8.1,1.2 -9.3,-1.9 -8.1,-1.3z" fill="#fa270d" class="s0"/>
<path d="M1782.9,161l7.9,1.7 -9.4,-3.4 -7.9,-1.9z" fill="#fa4b0d" class="s2"/>
<path d="M1827,177.5l7.7,2 -9.5,-4.5 -7.7,-2.2z" fill="#fa6f0d" class="s2"/>
<path d="M1297.5,219.5l9.4,-4.1 -7.7,5.1 -9.4,4z" fill="#fad70d" class="s2"/>
<path d="M1429.9,165l9.2,-2.3 -8.3,3.5 -9.2,2.2z" fill="#fa590d" class="s2"/>
<path d="M1509.4,145.1l8.9,-1.2 -8.6,2.3 -9,1.1z" fill="#fa2a0d" class="s1"/>
<path d="M1703.7,141.9l8.2,1 -9.3,-1.6 -8.2,-1.1z" fill="#fa200d" class="s0"/>
<path d="M1341.5,198.4l9.4,-3.6 -8,4.7 -9.3,3.4z" fill="#faa60d" class="s2"/>
<path d="M1385.7,180.2l9.3,-3 -8.2,4.2 -9.2,2.8z" fill="#fa7b0d" class="s2"/>
<path d="M1270.7,233.5l9.6,-4.6 -7.6,5.3 -9.5,4.5z" fill="#f9f50d" class="s2"/>
<path d="M1765.5,155.9l8,1.5 -9.4,-3.1 -8,-1.6z" fill="#fa3e0d" class="s1"/>
<path d="M1527.1,142.1l8.8,-1.1 -8.7,2 -8.9,0.9z" fill="#fa230d" class="s1"/>
<path d="M1686.1,139.4l8.3,0.8 -9.3,-1.2 -8.3,-1z" fill="#fa1a0d" class="s0"/>
<path d="M1447.5,159.6l9.1,-2.1 -8.4,3.2 -9.1,2z" fill="#fa4b0d" class="s2"/>
<path d="M1809.7,171l7.8,1.8 -9.5,-4.2 -7.7,-2z" fill="#fa5f0d" class="s2"/>
<path d="M1544.7,139.6l8.8,-0.9 -8.8,1.6 -8.8,0.7z" fill="#fa1c0d" class="s1"/>
<path d="M1668.5,137.5l8.3,0.5 -9.2,-0.8 -8.3,-0.7z" fill="#fa150d" class="s0"/>
<path d="M1244.1,248.5l9.5,-5.1 -7.4,5.5 -9.6,4.9z" fill="#d6f50d" class="s2"/>
<path d="M1562.4,137.6l8.8,-0.6 -8.9,1.2 -8.8,0.5z" fill="#fa170d" class="s0"/>
<path d="M1650.8,136.1l8.5,0.4 -9.2,-0.5 -8.4,-0.5z" fill="#fa120d" class="s0"/>
<path d="M1217.4,264.5l9.6,-5.5 -7.3,5.7 -9.6,5.3z" fill="#b2f50d" class="s2"/>
<path d="M1314.7,210.7l9.5,-4.1 -7.8,4.9 -9.5,3.9z" fill="#fac00d" class="s2"/>
<path d="M1748.1,151.4l8,1.3 -9.4,-2.7 -8,-1.5z" fill="#fa330d" class="s1"/>
<path d="M1580.1,136.2l8.7,-0.4 -8.9,0.9 -8.7,0.3z" fill="#fa130d" class="s0"/>
<path d="M1633.2,135.3l8.5,0.2 -9.1,-0.2 -8.5,-0.3z" fill="#fa100d" class="s0"/>
<path d="M1403.2,173.6l9.2,-2.8 -8.2,3.8 -9.2,2.6z" fill="#fa6b0d" class="s2"/>
<path d="M1597.8,135.3l8.6,-0.2 -9,0.6 -8.6,0.1z" fill="#fa110d" class="s0"/>
<path d="M1615.5,135l8.6,0 -9.1,0.2 -8.6,-0.1z" fill="#fa100d" class="s0"/>
<path d="M1465.1,154.8l9.1,-2 -8.5,2.9 -9.1,1.8z" fill="#fa3f0d" class="s1"/>
<path d="M1358.9,190.7l9.3,-3.4 -8,4.3 -9.3,3.2z" fill="#fa920d" class="s2"/>
<path d="M1836.5,182.7l7.7,1.9 -9.5,-5.1 -7.7,-2z" fill="#fa780d" class="s3"/>
<path d="M1792.4,165l7.9,1.6 -9.5,-3.9 -7.9,-1.7z" fill="#fa500d" class="s2"/>
<path d="M1730.5,147.4l8.2,1.1 -9.4,-2.4 -8.1,-1.2z" fill="#fa290d" class="s1"/>
<path d="M1288,224l9.5,-4.5 -7.7,5 -9.5,4.4z" fill="#fadd0d" class="s2"/>
<path d="M1482.8,150.4l9,-1.7 -8.6,2.5 -9,1.6z" fill="#fa340d" class="s1"/>
<path d="M1420.7,167.5l9.2,-2.5 -8.3,3.4 -9.2,2.4z" fill="#fa5b0d" class="s1"/>
<path d="M1713,144l8.2,0.9 -9.3,-2 -8.2,-1z" fill="#fa210d" class="s1"/>
<path d="M1261.2,238.4l9.5,-4.9 -7.5,5.2 -9.6,4.7z" fill="#f1f50d" class="s2"/>
<path d="M1332.1,202.3l9.4,-3.9 -7.9,4.5 -9.4,3.7z" fill="#faab0d" class="s2"/>
<path d="M1500.4,146.7l9,-1.6 -8.7,2.2 -8.9,1.4z" fill="#fa2a0d" class="s1"/>
<path d="M1376.4,183.4l9.3,-3.2 -8.1,4 -9.4,3.1z" fill="#fa7f0d" class="s2"/>
<path d="M1775,159.6l7.9,1.4 -9.4,-3.6 -8,-1.5z" fill="#fa430d" class="s2"/>
<path d="M1819.2,175.9l7.8,1.6 -9.5,-4.7 -7.8,-1.8z" fill="#fa670d" class="s3"/>
<path d="M1234.4,253.8l9.7,-5.3 -7.5,5.3 -9.6,5.2z" fill="#cef50d" class="s2"/>
<path d="M1695.4,141.2l8.3,0.7 -9.3,-1.7 -8.3,-0.8z" fill="#fa1a0d" class="s1"/>
<path d="M1518.1,143.4l9,-1.3 -8.8,1.8 -8.9,1.2z" fill="#fa220d" class="s0"/>
<path d="M1438.3,162l9.2,-2.4 -8.4,3.1 -9.2,2.3z" fill="#fa4d0d" class="s1"/>
<path d="M1207.7,270.2l9.7,-5.7 -7.3,5.5 -9.6,5.6z" fill="#a8f50d" class="s2"/>
<path d="M1305.2,215l9.5,-4.3 -7.8,4.7 -9.4,4.1z" fill="#fac60d" class="s2"/>
<path d="M1677.7,138.9l8.4,0.5 -9.3,-1.4 -8.3,-0.5z" fill="#fa140d" class="s1"/>
<path d="M1846,188.4l7.7,1.7 -9.5,-5.5 -7.7,-1.9z" fill="#fa810d" class="s4"/>
<path d="M1757.5,154.8l8,1.1 -9.4,-3.2 -8,-1.3z" fill="#fa370d" class="s2"/>
<path d="M1535.9,140.7l8.8,-1.1 -8.8,1.4 -8.8,1.1z" fill="#fa1b0d" class="s0"/>
<path d="M1393.9,176.7l9.3,-3.1 -8.2,3.6 -9.3,3z" fill="#fa6e0d" class="s1"/>
<path d="M1660,137.2l8.5,0.3 -9.2,-1 -8.5,-0.4z" fill="#fa100d" class="s1"/>
<path d="M1349.5,194.4l9.4,-3.7 -8,4.1 -9.4,3.6z" fill="#fa960d" class="s1"/>
<path d="M1801.9,169.5l7.8,1.5 -9.4,-4.4 -7.9,-1.6z" fill="#fa570d" class="s3"/>
<path d="M1553.6,138.6l8.8,-1 -8.9,1.1 -8.8,0.9z" fill="#fa150d" class="s0"/>
<path d="M1456,157l9.1,-2.2 -8.5,2.7 -9.1,2.1z" fill="#fa400d" class="s1"/>
<path d="M1642.3,136l8.5,0.1 -9.1,-0.6 -8.5,-0.2z" fill="#fa0e0d" class="s0"/>
<path d="M1571.4,136.9l8.7,-0.7 -8.9,0.8 -8.8,0.6z" fill="#fa110d" class="s0"/>
<path d="M1278.4,228.8l9.6,-4.8 -7.7,4.9 -9.6,4.6z" fill="#fae50d" class="s1"/>
<path d="M1624.6,135.4l8.6,-0.1 -9.1,-0.3 -8.6,0z" fill="#fa0c0d" class="s0"/>
<path d="M1589.1,135.9l8.7,-0.6 -9,0.5 -8.7,0.4z" fill="#fa0e0d" class="s0"/>
<path d="M1606.9,135.4l8.6,-0.4 -9.1,0.1 -8.6,0.2z" fill="#fa0c0d" class="s0"/>
<path d="M1739.9,150.4l8.2,1 -9.4,-2.9 -8.2,-1.1z" fill="#fa2c0d" class="s2"/>
<path d="M1251.6,243.6l9.6,-5.2 -7.6,5 -9.5,5.1z" fill="#e9f50d" class="s1"/>
<path d="M1473.7,152.5l9.1,-2.1 -8.6,2.4 -9.1,2z" fill="#fa340d" class="s0"/>
<path d="M1411.5,170.4l9.2,-2.9 -8.3,3.3 -9.2,2.8z" fill="#fa5e0d" class="s1"/>
<path d="M1828.7,181.2l7.8,1.5 -9.5,-5.2 -7.8,-1.6z" fill="#fa6f0d" class="s4"/>
<path d="M1322.6,206.5l9.5,-4.2 -7.9,4.3 -9.5,4.1z" fill="#fab00d" class="s1"/>
<path d="M1784.4,163.8l8,1.2 -9.5,-4 -7.9,-1.4z" fill="#fa490d" class="s3"/>
<path d="M1722.3,146.7l8.2,0.7 -9.3,-2.5 -8.2,-0.9z" fill="#fa230d" class="s2"/>
<path d="M1224.8,259.4l9.6,-5.6 -7.4,5.2 -9.6,5.5z" fill="#c5f50d" class="s1"/>
<path d="M1367,187l9.4,-3.6 -8.2,3.9 -9.3,3.4z" fill="#fa830d" class="s1"/>
<path d="M1198.1,276.3l9.6,-6.1 -7.2,5.4 -9.7,5.9z" fill="#9ef50d" class="s1"/>
<path d="M1491.4,148.5l9,-1.8 -8.6,2 -9,1.7z" fill="#fa2a0d" class="s0"/>
<path d="M1855.6,194.5l7.6,1.6 -9.5,-6 -7.7,-1.7z" fill="#fa8c0d" class="s4"/>
<path d="M1704.7,143.5l8.3,0.5 -9.3,-2.1 -8.3,-0.7z" fill="#fa1b0d" class="s2"/>
<path d="M1295.7,219.6l9.5,-4.6 -7.7,4.5 -9.5,4.5z" fill="#facd0d" class="s1"/>
<path d="M1429.1,164.7l9.2,-2.7 -8.4,3 -9.2,2.5z" fill="#fa4f0d" class="s0"/>
<path d="M1766.9,158.6l8.1,1 -9.5,-3.7 -8,-1.1z" fill="#fa3c0d" class="s3"/>
<path d="M1509.2,145.1l8.9,-1.7 -8.7,1.7 -9,1.6z" fill="#fa210d" class="s0"/>
<path d="M1811.4,174.5l7.8,1.4 -9.5,-4.9 -7.8,-1.5z" fill="#fa5f0d" class="s4"/>
<path d="M1687,140.9l8.4,0.3 -9.3,-1.8 -8.4,-0.5z" fill="#fa150d" class="s2"/>
<path d="M1340.1,198.4l9.4,-4 -8,4 -9.4,3.9z" fill="#fa9c0d" class="s1"/>
<path d="M1384.6,180.1l9.3,-3.4 -8.2,3.5 -9.3,3.2z" fill="#fa720d" class="s0"/>
<path d="M1526.9,142.2l9,-1.5 -8.8,1.4 -9,1.3z" fill="#fa1a0d" class="s0"/>
<path d="M1268.8,233.8l9.6,-5 -7.7,4.7 -9.5,4.9z" fill="#faec0d" class="s1"/>
<path d="M1669.3,138.8l8.4,0.1 -9.2,-1.4 -8.5,-0.3z" fill="#fa100d" class="s2"/>
<path d="M1446.8,159.5l9.2,-2.5 -8.5,2.6 -9.2,2.4z" fill="#fa420d" class="s0"/>
<path d="M1544.7,139.8l8.9,-1.2 -8.9,1 -8.8,1.1z" fill="#fa140d" class="s0"/>
<path d="M1749.4,153.9l8.1,0.9 -9.4,-3.4 -8.2,-1z" fill="#fa300d" class="s3"/>
<path d="M1242,249.1l9.6,-5.5 -7.5,4.9 -9.7,5.3z" fill="#e0f50d" class="s1"/>
<path d="M1838.3,187l7.7,1.4 -9.5,-5.7 -7.8,-1.5z" fill="#fa790d" class="s4"/>
<path d="M1651.5,137.3l8.5,-0.1 -9.2,-1.1 -8.5,-0.1z" fill="#fa0c0d" class="s1"/>
<path d="M1562.5,138l8.9,-1.1 -9,0.7 -8.8,1z" fill="#fa0f0d" class="s0"/>
<path d="M1633.8,136.3l8.5,-0.3 -9.1,-0.7 -8.6,0.1z" fill="#fa0a0d" class="s1"/>
<path d="M1215.1,265.3l9.7,-5.9 -7.4,5.1 -9.7,5.7z" fill="#bbf50d" class="s0"/>
<path d="M1580.4,136.8l8.7,-0.9 -9,0.3 -8.7,0.7z" fill="#fa0c0d" class="s0"/>
<path d="M1793.9,168.4l8,1.1 -9.5,-4.5 -8,-1.2z" fill="#fa4f0d" class="s4"/>
<path d="M1313.1,210.9l9.5,-4.4 -7.9,4.2 -9.5,4.3z" fill="#fab70d" class="s0"/>
<path d="M1616,135.9l8.6,-0.5 -9.1,-0.4 -8.6,0.4z" fill="#fa090d" class="s1"/>
<path d="M1598.2,136.1l8.7,-0.7 -9.1,-0.1 -8.7,0.6z" fill="#fa0a0d" class="s1"/>
<path d="M1402.2,173.7l9.3,-3.3 -8.3,3.2 -9.3,3.1z" fill="#fa610d" class="s0"/>
<path d="M1865.1,201.1l7.7,1.4 -9.6,-6.4 -7.6,-1.6z" fill="#fa970d"/>
<path d="M1464.6,154.8l9.1,-2.3 -8.6,2.3 -9.1,2.2z" fill="#fa360d" class="s0"/>
<path d="M1731.7,149.8l8.2,0.6 -9.4,-3 -8.2,-0.7z" fill="#fa260d" class="s3"/>
<path d="M1357.6,190.8l9.4,-3.8 -8.1,3.7 -9.4,3.7z" fill="#fa880d" class="s0"/>
<path d="M1286.2,224.5l9.5,-4.9 -7.7,4.4 -9.6,4.8z" fill="#fad40d" class="s0"/>
<path d="M1482.3,150.7l9.1,-2.2 -8.6,1.9 -9.1,2.1z" fill="#fa2b0d" class="s0"/>
<path d="M1820.9,180l7.8,1.2 -9.5,-5.3 -7.8,-1.4z" fill="#fa670d" class="s4"/>
<path d="M1776.4,162.9l8,0.9 -9.4,-4.2 -8.1,-1z" fill="#fa420d" class="s4"/>
<path d="M1714.1,146.3l8.2,0.4 -9.3,-2.7 -8.3,-0.5z" fill="#fa1d0d" class="s3"/>
<path d="M1419.9,167.8l9.2,-3.1 -8.4,2.8 -9.2,2.9z" fill="#fa520d" class="s0"/>
<path d="M1259.2,239.2l9.6,-5.4 -7.6,4.6 -9.6,5.2z" fill="#faf50d" class="s0"/>
<path d="M1330.6,202.7l9.5,-4.3 -8,3.9 -9.5,4.2z" fill="#faa20d" class="s0"/>
<path d="M1500.1,147.1l9.1,-2 -8.8,1.6 -9,1.8z" fill="#fa220d" class="s0"/>
<path d="M1375.2,183.7l9.4,-3.6 -8.2,3.3 -9.4,3.6z" fill="#fa760d" class="s0"/>
<path d="M1696.3,143.3l8.4,0.2 -9.3,-2.3 -8.4,-0.3z" fill="#fa160d" class="s3"/>
<path d="M1847.8,193.2l7.8,1.3 -9.6,-6.1 -7.7,-1.4z" fill="#fa840d"/>
<path d="M1232.3,254.8l9.7,-5.7 -7.6,4.7 -9.6,5.6z" fill="#d6f50d" class="s0"/>
<path d="M1758.8,157.9l8.1,0.7 -9.4,-3.8 -8.1,-0.9z" fill="#fa350d" class="s4"/>
<path d="M1518,144l8.9,-1.8 -8.8,1.2 -8.9,1.7z" fill="#fa1a0d" class="s0"/>
<path d="M1205.4,271.5l9.7,-6.2 -7.4,4.9 -9.6,6.1z" fill="#b0f50d" class="s0"/>
<path d="M1437.6,162.4l9.2,-2.9 -8.5,2.5 -9.2,2.7z" fill="#fa450d" class="s0"/>
<path d="M1874.7,208.1l7.6,1.3 -9.5,-6.9 -7.7,-1.4z" fill="#faa40d"/>
<path d="M1678.6,140.9l8.4,0 -9.3,-2 -8.4,-0.1z" fill="#fa100d" class="s2"/>
<path d="M1803.4,173.5l8,1 -9.5,-5 -8,-1.1z" fill="#fa580d" class="s4"/>
<path d="M1303.6,215.7l9.5,-4.8 -7.9,4.1 -9.5,4.6z" fill="#fabe0d" class="s0"/>
<path d="M1535.8,141.4l8.9,-1.6 -8.8,0.9 -9,1.5z" fill="#fa140d" class="s1"/>
<path d="M1660.8,139l8.5,-0.2 -9.3,-1.6 -8.5,0.1z" fill="#fa0c0d" class="s2"/>
<path d="M1553.7,139.4l8.8,-1.4 -8.9,0.6 -8.9,1.2z" fill="#fa0e0d" class="s1"/>
<path d="M1392.9,177.2l9.3,-3.5 -8.3,3 -9.3,3.4z" fill="#fa660d" class="s0"/>
<path d="M1643,137.7l8.5,-0.4 -9.2,-1.3 -8.5,0.3z" fill="#fa090d" class="s2"/>
<path d="M1348.2,195l9.4,-4.2 -8.1,3.6 -9.4,4z" fill="#fa8e0d" class="s0"/>
<path d="M1741.2,153.4l8.2,0.5 -9.5,-3.5 -8.2,-0.6z" fill="#fa2b0d" class="s4"/>
<path d="M1455.4,157.5l9.2,-2.7 -8.6,2.2 -9.2,2.5z" fill="#fa380d" class="s0"/>
<path d="M1571.5,138l8.9,-1.2 -9,0.1 -8.9,1.1z" fill="#fa0b0d" class="s1"/>
<path d="M1625.1,136.9l8.7,-0.6 -9.2,-0.9 -8.6,0.5z" fill="#fa080d" class="s2"/>
<path d="M1589.4,137.1l8.8,-1 -9.1,-0.2 -8.7,0.9z" fill="#fa080d" class="s2"/>
<path d="M1607.3,136.7l8.7,-0.8 -9.1,-0.5 -8.7,0.7z" fill="#fa080d" class="s2"/>
<path d="M1830.5,185.9l7.8,1.1 -9.6,-5.8 -7.8,-1.2z" fill="#fa720d"/>
<path d="M1276.6,229.7l9.6,-5.2 -7.8,4.3 -9.6,5z" fill="#fadd0d" class="s0"/>
<path d="M1785.9,167.6l8,0.8 -9.5,-4.6 -8,-0.9z" fill="#fa490d" class="s4"/>
<path d="M1723.5,149.5l8.2,0.3 -9.4,-3.1 -8.2,-0.4z" fill="#fa210d" class="s3"/>
<path d="M1857.4,199.9l7.7,1.2 -9.5,-6.6 -7.8,-1.3z" fill="#fa900d"/>
<path d="M1249.6,244.8l9.6,-5.6 -7.6,4.4 -9.6,5.5z" fill="#f1f50d" class="s0"/>
<path d="M1473.2,153.2l9.1,-2.5 -8.6,1.8 -9.1,2.3z" fill="#fa2d0d" class="s0"/>
<path d="M1410.6,171.1l9.3,-3.3 -8.4,2.6 -9.3,3.3z" fill="#fa560d" class="s0"/>
<path d="M1321.1,207.3l9.5,-4.6 -8,3.8 -9.5,4.4z" fill="#faa80d" class="s0"/>
<path d="M1884.3,215.6l7.6,1.2 -9.6,-7.4 -7.6,-1.3z" fill="#fab20d"/>
<path d="M1222.6,260.9l9.7,-6.1 -7.5,4.6 -9.7,5.9z" fill="#ccf50d" class="s0"/>
<path d="M1365.8,187.7l9.4,-4 -8.2,3.3 -9.4,3.8z" fill="#fa7c0d" class="s0"/>
<path d="M1705.7,146.2l8.4,0.1 -9.4,-2.8 -8.4,-0.2z" fill="#fa190d" class="s3"/>
<path d="M1491,149.4l9.1,-2.3 -8.7,1.4 -9.1,2.2z" fill="#fa230d" class="s1"/>
<path d="M1768.3,162.3l8.1,0.6 -9.5,-4.3 -8.1,-0.7z" fill="#fa3c0d" class="s4"/>
<path d="M1813,179.1l7.9,0.9 -9.5,-5.5 -8,-1z" fill="#fa610d"/>
<path d="M1294,220.7l9.6,-5 -7.9,3.9 -9.5,4.9z" fill="#fac60d" class="s0"/>
<path d="M1428.3,165.6l9.3,-3.2 -8.5,2.3 -9.2,3.1z" fill="#fa480d" class="s0"/>
<path d="M1687.9,143.4l8.4,-0.1 -9.3,-2.4 -8.4,0z" fill="#fa120d" class="s3"/>
<path d="M1508.9,146.1l9.1,-2.1 -8.8,1.1 -9.1,2z" fill="#fa1b0d" class="s1"/>
<path d="M1840,192.3l7.8,0.9 -9.5,-6.2 -7.8,-1.1z" fill="#fa7d0d"/>
<path d="M1338.7,199.4l9.5,-4.4 -8.1,3.4 -9.5,4.3z" fill="#fa940d" class="s0"/>
<path d="M1670.1,141.2l8.5,-0.3 -9.3,-2.1 -8.5,0.2z" fill="#fa0d0d" class="s3"/>
<path d="M1750.6,157.5l8.2,0.4 -9.4,-4 -8.2,-0.5z" fill="#fa300d" class="s4"/>
<path d="M1383.5,181l9.4,-3.8 -8.3,2.9 -9.4,3.6z" fill="#fa6a0d" class="s0"/>
<path d="M1526.8,143.4l9,-2 -8.9,0.8 -8.9,1.8z" fill="#fa140d" class="s2"/>
<path d="M1267,235.2l9.6,-5.5 -7.8,4.1 -9.6,5.4z" fill="#fae50d" class="s0"/>
<path d="M1867,207.1l7.7,1 -9.6,-7 -7.7,-1.2z" fill="#fa9d0d"/>
<path d="M1795.4,172.9l8,0.6 -9.5,-5.1 -8,-0.8z" fill="#fa510d"/>
<path d="M1446.2,160.5l9.2,-3 -8.6,2 -9.2,2.9z" fill="#fa3b0d" class="s1"/>
<path d="M1652.2,139.5l8.6,-0.5 -9.3,-1.7 -8.5,0.4z" fill="#fa090d" class="s3"/>
<path d="M1544.7,141.2l9,-1.8 -9,0.4 -8.9,1.6z" fill="#fa0e0d" class="s2"/>
<path d="M1893.9,223.6l7.6,1 -9.6,-7.8 -7.6,-1.2z" fill="#fac10d"/>
<path d="M1239.9,250.7l9.7,-5.9 -7.6,4.3 -9.7,5.7z" fill="#e7f50d" class="s0"/>
<path d="M1634.3,138.4l8.7,-0.7 -9.2,-1.4 -8.7,0.6z" fill="#fa080d" class="s3"/>
<path d="M1562.7,139.5l8.8,-1.5 -9,0 -8.8,1.4z" fill="#fa0a0d" class="s2"/>
<path d="M1616.4,137.9l8.7,-1 -9.1,-1 -8.7,0.8z" fill="#fa080d" class="s3"/>
<path d="M1580.6,138.4l8.8,-1.3 -9,-0.3 -8.9,1.2z" fill="#fa080d" class="s2"/>
<path d="M1598.5,137.9l8.8,-1.2 -9.1,-0.6 -8.8,1z" fill="#fa080d" class="s2"/>
<path d="M1732.9,153.3l8.3,0.1 -9.5,-3.6 -8.2,-0.3z" fill="#fa260d" class="s4"/>
<path d="M1212.9,267.2l9.7,-6.3 -7.5,4.4 -9.7,6.2z" fill="#c1f50d" class="s0"/>
<path d="M1311.5,212.2l9.6,-4.9 -8,3.6 -9.5,4.8z" fill="#fab00d" class="s0"/>
<path d="M1401.2,174.8l9.4,-3.7 -8.4,2.6 -9.3,3.5z" fill="#fa5b0d" class="s1"/>
<path d="M1464,156l9.2,-2.8 -8.6,1.6 -9.2,2.7z" fill="#fa300d" class="s1"/>
<path d="M1822.5,185.2l8,0.7 -9.6,-5.9 -7.9,-0.9z" fill="#fa6b0d"/>
<path d="M1356.3,192l9.5,-4.3 -8.2,3.1 -9.4,4.2z" fill="#fa820d" class="s1"/>
<path d="M1777.8,167.2l8.1,0.4 -9.5,-4.7 -8.1,-0.6z" fill="#fa430d"/>
<path d="M1715.1,149.6l8.4,-0.1 -9.4,-3.2 -8.4,-0.1z" fill="#fa1d0d" class="s4"/>
<path d="M1284.4,226.1l9.6,-5.4 -7.8,3.8 -9.6,5.2z" fill="#face0d" class="s1"/>
<path d="M1481.9,152l9.1,-2.6 -8.7,1.3 -9.1,2.5z" fill="#fa260d" class="s2"/>
<path d="M1849.6,199.1l7.8,0.8 -9.6,-6.7 -7.8,-0.9z" fill="#fa890d"/>
<path d="M1419,169l9.3,-3.4 -8.4,2.2 -9.3,3.3z" fill="#fa4c0d" class="s1"/>
<path d="M1876.6,214.7l7.7,0.9 -9.6,-7.5 -7.7,-1z" fill="#faab0d"/>
<path d="M1697.3,146.5l8.4,-0.3 -9.4,-2.9 -8.4,0.1z" fill="#fa150d" class="s4"/>
<path d="M1257.3,241l9.7,-5.8 -7.8,4 -9.6,5.6z" fill="#faef0d" class="s1"/>
<path d="M1760.1,162.1l8.2,0.2 -9.5,-4.4 -8.2,-0.4z" fill="#fa370d"/>
<path d="M1499.8,148.6l9.1,-2.5 -8.8,1 -9.1,2.3z" fill="#fa1d0d" class="s2"/>
<path d="M1329.2,204.2l9.5,-4.8 -8.1,3.3 -9.5,4.6z" fill="#fa9c0d" class="s1"/>
<path d="M1805,178.6l8,0.5 -9.6,-5.6 -8,-0.6z" fill="#fa5b0d"/>
<path d="M1374.1,185.1l9.4,-4.1 -8.3,2.7 -9.4,4z" fill="#fa700d" class="s1"/>
<path d="M1679.4,143.9l8.5,-0.5 -9.3,-2.5 -8.5,0.3z" fill="#fa0f0d" class="s4"/>
<path d="M1230.2,256.9l9.7,-6.2 -7.6,4.1 -9.7,6.1z" fill="#dcf50d" class="s1"/>
<path d="M1517.8,145.6l9,-2.2 -8.8,0.6 -9.1,2.1z" fill="#fa150d" class="s2"/>
<path d="M1436.9,163.8l9.3,-3.3 -8.6,1.9 -9.3,3.2z" fill="#fa3f0d" class="s2"/>
<path d="M1661.5,141.9l8.6,-0.7 -9.3,-2.2 -8.6,0.5z" fill="#fa0a0d" class="s4"/>
<path d="M1832.1,191.7l7.9,0.6 -9.5,-6.4 -8,-0.7z" fill="#fa760d"/>
<path d="M1535.7,143.3l9,-2.1 -8.9,0.2 -9,2z" fill="#fa0f0d" class="s2"/>
<path d="M1742.4,157.5l8.2,0 -9.4,-4.1 -8.3,-0.1z" fill="#fa2c0d"/>
<path d="M1302,217.4l9.5,-5.2 -7.9,3.5 -9.6,5z" fill="#fab80d" class="s1"/>
<path d="M1643.6,140.4l8.6,-0.9 -9.2,-1.8 -8.7,0.7z" fill="#fa080d" class="s4"/>
<path d="M1553.7,141.4l9,-1.9 -9,-0.1 -9,1.8z" fill="#fa0a0d" class="s3"/>
<path d="M1787.4,172.6l8,0.3 -9.5,-5.3 -8.1,-0.4z" fill="#fa4c0d"/>
<path d="M1391.8,178.7l9.4,-3.9 -8.3,2.4 -9.4,3.8z" fill="#fa600d" class="s2"/>
<path d="M1625.6,139.5l8.7,-1.1 -9.2,-1.5 -8.7,1z" fill="#fa080d" class="s3"/>
<path d="M1859.2,206.5l7.8,0.6 -9.6,-7.2 -7.8,-0.8z" fill="#fa960d"/>
<path d="M1571.7,140.1l8.9,-1.7 -9.1,-0.4 -8.8,1.5z" fill="#fa080d" class="s3"/>
<path d="M1346.8,196.6l9.5,-4.6 -8.1,3 -9.5,4.4z" fill="#fa880d" class="s1"/>
<path d="M1607.7,139.2l8.7,-1.3 -9.1,-1.2 -8.8,1.2z" fill="#fa080d" class="s3"/>
<path d="M1589.7,139.4l8.8,-1.5 -9.1,-0.8 -8.8,1.3z" fill="#fa080d" class="s3"/>
<path d="M1454.8,159.1l9.2,-3.1 -8.6,1.5 -9.2,3z" fill="#fa330d" class="s2"/>
<path d="M1886.2,222.8l7.7,0.8 -9.6,-8 -7.7,-0.9z" fill="#faba0d"/>
<path d="M1274.8,231.7l9.6,-5.6 -7.8,3.6 -9.6,5.5z" fill="#fad70d" class="s1"/>
<path d="M1724.6,153.5l8.3,-0.2 -9.4,-3.8 -8.4,0.1z" fill="#fa220d"/>
<path d="M1472.7,155l9.2,-3 -8.7,1.2 -9.2,2.8z" fill="#fa290d" class="s2"/>
<path d="M1247.6,247.1l9.7,-6.1 -7.7,3.8 -9.7,5.9z" fill="#f6f50d" class="s1"/>
<path d="M1814.6,184.8l7.9,0.4 -9.5,-6.1 -8,-0.5z" fill="#fa650d"/>
<path d="M1769.6,167.1l8.2,0.1 -9.5,-4.9 -8.2,-0.2z" fill="#fa3f0d"/>
<path d="M1409.7,172.8l9.3,-3.8 -8.4,2.1 -9.4,3.7z" fill="#fa510d" class="s2"/>
<path d="M1706.7,150l8.4,-0.4 -9.4,-3.4 -8.4,0.3z" fill="#fa190d"/>
<path d="M1319.6,209.2l9.6,-5 -8.1,3.1 -9.6,4.9z" fill="#faa30d" class="s2"/>
<path d="M1220.5,263.4l9.7,-6.5 -7.6,4 -9.7,6.3z" fill="#d1f50d" class="s2"/>
<path d="M1364.6,189.6l9.5,-4.5 -8.3,2.6 -9.5,4.3z" fill="#fa770d" class="s2"/>
<path d="M1490.7,151.3l9.1,-2.7 -8.8,0.8 -9.1,2.6z" fill="#fa1f0d" class="s3"/>
<path d="M1841.7,198.7l7.9,0.4 -9.6,-6.8 -7.9,-0.6z" fill="#fa830d"/>
<path d="M1688.8,147.1l8.5,-0.6 -9.4,-3.1 -8.5,0.5z" fill="#fa120d" class="s4"/>
<path d="M1868.8,214.2l7.8,0.5 -9.6,-7.6 -7.8,-0.6z" fill="#faa50d"/>
<path d="M1292.3,222.9l9.7,-5.5 -8,3.3 -9.6,5.4z" fill="#fac10d" class="s2"/>
<path d="M1427.6,167.5l9.3,-3.7 -8.6,1.8 -9.3,3.4z" fill="#fa430d" class="s2"/>
<path d="M1751.9,162.2l8.2,-0.1 -9.5,-4.6 -8.2,0z" fill="#fa330d"/>
<path d="M1508.7,148.2l9.1,-2.6 -8.9,0.5 -9.1,2.5z" fill="#fa170d" class="s3"/>
<path d="M1796.9,178.5l8.1,0.1 -9.6,-5.7 -8,-0.3z" fill="#fa560d"/>
<path d="M1670.9,144.7l8.5,-0.8 -9.3,-2.7 -8.6,0.7z" fill="#fa0d0d" class="s4"/>
<path d="M1526.7,145.7l9,-2.4 -8.9,0.1 -9,2.2z" fill="#fa110d" class="s3"/>
<path d="M1337.3,201.5l9.5,-4.9 -8.1,2.8 -9.5,4.8z" fill="#fa900d" class="s2"/>
<path d="M1382.4,183l9.4,-4.3 -8.3,2.3 -9.4,4.1z" fill="#fa660d" class="s2"/>
<path d="M1652.9,142.9l8.6,-1 -9.3,-2.4 -8.6,0.9z" fill="#fa090d" class="s4"/>
<path d="M1265.1,237.7l9.7,-6 -7.8,3.5 -9.7,5.8z" fill="#fae10d" class="s2"/>
<path d="M1544.7,143.6l9,-2.2 -9,-0.2 -9,2.1z" fill="#fa0c0d" class="s3"/>
<path d="M1445.5,162.6l9.3,-3.5 -8.6,1.4 -9.3,3.3z" fill="#fa370d" class="s3"/>
<path d="M1734,157.8l8.4,-0.3 -9.5,-4.2 -8.3,0.2z" fill="#fa280d"/>
<path d="M1634.9,141.7l8.7,-1.3 -9.3,-2 -8.7,1.1z" fill="#fa080d" class="s4"/>
<path d="M1824.1,191.5l8,0.2 -9.6,-6.5 -7.9,-0.4z" fill="#fa710d"/>
<path d="M1562.8,142.1l8.9,-2 -9,-0.6 -9,1.9z" fill="#fa080d" class="s3"/>
<path d="M1616.9,141l8.7,-1.5 -9.2,-1.6 -8.7,1.3z" fill="#fa080d" class="s4"/>
<path d="M1237.9,253.4l9.7,-6.3 -7.7,3.6 -9.7,6.2z" fill="#ebf50d" class="s2"/>
<path d="M1580.8,141.2l8.9,-1.8 -9.1,-1 -8.9,1.7z" fill="#fa080d" class="s4"/>
<path d="M1598.9,140.8l8.8,-1.6 -9.2,-1.3 -8.8,1.5z" fill="#fa080d" class="s4"/>
<path d="M1779.2,172.7l8.2,-0.1 -9.6,-5.4 -8.2,-0.1z" fill="#fa480d"/>
<path d="M1851.3,206.2l7.9,0.3 -9.6,-7.4 -7.9,-0.4z" fill="#fa910d"/>
<path d="M1310,214.6l9.6,-5.4 -8.1,3 -9.5,5.2z" fill="#faac0d" class="s2"/>
<path d="M1463.5,158.2l9.2,-3.2 -8.7,1 -9.2,3.1z" fill="#fa2c0d" class="s3"/>
<path d="M1400.3,177l9.4,-4.2 -8.5,2 -9.4,3.9z" fill="#fa570d" class="s3"/>
<path d="M1716.2,154l8.4,-0.5 -9.5,-3.9 -8.4,0.4z" fill="#fa1f0d"/>
<path d="M1878.4,222.5l7.8,0.3 -9.6,-8.1 -7.8,-0.5z" fill="#fab40d"/>
<path d="M1355.1,194.3l9.5,-4.7 -8.3,2.4 -9.5,4.6z" fill="#fa7e0d" class="s2"/>
<path d="M1282.7,228.7l9.6,-5.8 -7.9,3.2 -9.6,5.6z" fill="#faca0d" class="s2"/>
<path d="M1481.5,154.4l9.2,-3.1 -8.8,0.7 -9.2,3z" fill="#fa230d" class="s3"/>
<path d="M1806.5,184.8l8.1,0 -9.6,-6.2 -8.1,-0.1z" fill="#fa610d"/>
<path d="M1698.2,150.8l8.5,-0.8 -9.4,-3.5 -8.5,0.6z" fill="#fa170d"/>
<path d="M1761.4,167.4l8.2,-0.3 -9.5,-5 -8.2,0.1z" fill="#fa3b0d"/>
<path d="M1418.2,171.4l9.4,-3.9 -8.6,1.5 -9.3,3.8z" fill="#fa490d" class="s3"/>
<path d="M1499.5,151.1l9.2,-2.9 -8.9,0.4 -9.1,2.7z" fill="#fa1a0d" class="s3"/>
<path d="M1255.4,243.9l9.7,-6.2 -7.8,3.3 -9.7,6.1z" fill="#faec0d" class="s2"/>
<path d="M1680.3,148l8.5,-0.9 -9.4,-3.2 -8.5,0.8z" fill="#fa100d"/>
<path d="M1327.7,206.8l9.6,-5.3 -8.1,2.7 -9.6,5z" fill="#fa980d" class="s3"/>
<path d="M1833.8,198.6l7.9,0.1 -9.6,-7 -8,-0.2z" fill="#fa7e0d"/>
<path d="M1372.9,187.6l9.5,-4.6 -8.3,2.1 -9.5,4.5z" fill="#fa6d0d" class="s3"/>
<path d="M1228.1,260.1l9.8,-6.7 -7.7,3.5 -9.7,6.5z" fill="#dff50d" class="s3"/>
<path d="M1743.6,162.7l8.3,-0.5 -9.5,-4.7 -8.4,0.3z" fill="#fa2f0d"/>
<path d="M1517.6,148.4l9.1,-2.7 -8.9,-0.1 -9.1,2.6z" fill="#fa130d" class="s4"/>
<path d="M1860.9,214.1l7.9,0.1 -9.6,-7.7 -7.9,-0.3z" fill="#fa9f0d"/>
<path d="M1662.2,145.9l8.7,-1.2 -9.4,-2.8 -8.6,1z" fill="#fa0b0d"/>
<path d="M1788.8,178.7l8.1,-0.2 -9.5,-5.9 -8.2,0.1z" fill="#fa520d"/>
<path d="M1436.2,166.4l9.3,-3.8 -8.6,1.2 -9.3,3.7z" fill="#fa3c0d" class="s3"/>
<path d="M1535.7,146.2l9,-2.6 -9,-0.3 -9,2.4z" fill="#fa0e0d" class="s4"/>
<path d="M1644.2,144.3l8.7,-1.4 -9.3,-2.5 -8.7,1.3z" fill="#fa080d"/>
<path d="M1300.4,220.3l9.6,-5.7 -8,2.8 -9.7,5.5z" fill="#fab50d" class="s3"/>
<path d="M1553.8,144.5l9,-2.4 -9.1,-0.7 -9,2.2z" fill="#fa090d" class="s4"/>
<path d="M1626.1,143.2l8.8,-1.5 -9.3,-2.2 -8.7,1.5z" fill="#fa080d"/>
<path d="M1571.9,143.3l8.9,-2.1 -9.1,-1.1 -8.9,2z" fill="#fa080d" class="s4"/>
<path d="M1608.1,142.7l8.8,-1.7 -9.2,-1.8 -8.8,1.6z" fill="#fa080d"/>
<path d="M1725.6,158.5l8.4,-0.7 -9.4,-4.3 -8.4,0.5z" fill="#fa250d"/>
<path d="M1590,142.8l8.9,-2 -9.2,-1.4 -8.9,1.8z" fill="#fa080d" class="s4"/>
<path d="M1390.8,181.4l9.5,-4.4 -8.5,1.7 -9.4,4.3z" fill="#fa5d0d" class="s3"/>
<path d="M1345.5,199.4l9.6,-5.1 -8.3,2.3 -9.5,4.9z" fill="#fa850d" class="s3"/>
<path d="M1454.2,161.8l9.3,-3.6 -8.7,0.9 -9.3,3.5z" fill="#fa310d" class="s3"/>
<path d="M1816.1,191.6l8,-0.1 -9.5,-6.7 -8.1,0z" fill="#fa6d0d"/>
<path d="M1273,234.8l9.7,-6.1 -7.9,3 -9.7,6z" fill="#fad50d" class="s3"/>
<path d="M1771,173.1l8.2,-0.4 -9.6,-5.6 -8.2,0.3z" fill="#fa440d"/>
<path d="M1707.7,154.9l8.5,-0.9 -9.5,-4 -8.5,0.8z" fill="#fa1d0d"/>
<path d="M1843.4,206.2l7.9,0 -9.6,-7.5 -7.9,-0.1z" fill="#fa8c0d"/>
<path d="M1472.2,157.8l9.3,-3.4 -8.8,0.6 -9.2,3.2z" fill="#fa270d" class="s4"/>
<path d="M1245.7,250.4l9.7,-6.5 -7.8,3.2 -9.7,6.3z" fill="#f8f50d" class="s3"/>
<path d="M1870.6,222.5l7.8,0 -9.6,-8.3 -7.9,-0.1z" fill="#faaf0d"/>
<path d="M1408.8,175.7l9.4,-4.3 -8.5,1.4 -9.4,4.2z" fill="#fa4f0d" class="s3"/>
<path d="M1318.1,212.3l9.6,-5.5 -8.1,2.4 -9.6,5.4z" fill="#faa10d" class="s3"/>
<path d="M1689.7,151.9l8.5,-1.1 -9.4,-3.7 -8.5,0.9z" fill="#fa150d"/>
<path d="M1363.4,192.5l9.5,-4.9 -8.3,2 -9.5,4.7z" fill="#fa740d" class="s3"/>
<path d="M1490.3,154.4l9.2,-3.3 -8.8,0.2 -9.2,3.1z" fill="#fa1e0d" class="s4"/>
<path d="M1798.4,185.1l8.1,-0.3 -9.6,-6.3 -8.1,0.2z" fill="#fa5d0d"/>
<path d="M1753.1,168l8.3,-0.6 -9.5,-5.2 -8.3,0.5z" fill="#fa380d"/>
<path d="M1671.6,149.3l8.7,-1.3 -9.4,-3.3 -8.7,1.2z" fill="#fa0f0d"/>
<path d="M1508.4,151.4l9.2,-3 -8.9,-0.2 -9.2,2.9z" fill="#fa160d" class="s4"/>
<path d="M1290.7,226.2l9.7,-5.9 -8.1,2.6 -9.6,5.8z" fill="#fabf0d" class="s3"/>
<path d="M1426.8,170.5l9.4,-4.1 -8.6,1.1 -9.4,3.9z" fill="#fa420d" class="s4"/>
<path d="M1825.7,198.9l8.1,-0.3 -9.7,-7.1 -8,0.1z" fill="#fa7a0d"/>
<path d="M1653.6,147.4l8.6,-1.5 -9.3,-3 -8.7,1.4z" fill="#fa0b0d"/>
<path d="M1526.6,149l9.1,-2.8 -9,-0.5 -9.1,2.7z" fill="#fa100d" class="s4"/>
<path d="M1735.2,163.5l8.4,-0.8 -9.6,-4.9 -8.4,0.7z" fill="#fa2d0d"/>
<path d="M1335.9,204.7l9.6,-5.3 -8.2,2.1 -9.6,5.3z" fill="#fa8e0d" class="s3"/>
<path d="M1381.3,186.1l9.5,-4.7 -8.4,1.6 -9.5,4.6z" fill="#fa640d" class="s4"/>
<path d="M1853,214.3l7.9,-0.2 -9.6,-7.9 -7.9,0z" fill="#fa9b0d"/>
<path d="M1635.5,146l8.7,-1.7 -9.3,-2.6 -8.8,1.5z" fill="#fa080d"/>
<path d="M1263.3,241.2l9.7,-6.4 -7.9,2.9 -9.7,6.2z" fill="#fadf0d" class="s3"/>
<path d="M1780.5,179.2l8.3,-0.5 -9.6,-6 -8.2,0.4z" fill="#fa4e0d"/>
<path d="M1544.7,147.2l9.1,-2.7 -9.1,-0.9 -9,2.6z" fill="#fa0b0d"/>
<path d="M1444.9,165.8l9.3,-4 -8.7,0.8 -9.3,3.8z" fill="#fa360d" class="s4"/>
<path d="M1617.3,145.1l8.8,-1.9 -9.2,-2.2 -8.8,1.7z" fill="#fa080d"/>
<path d="M1562.9,145.8l9,-2.5 -9.1,-1.2 -9,2.4z" fill="#fa080d"/>
<path d="M1599.2,144.8l8.9,-2.1 -9.2,-1.9 -8.9,2z" fill="#fa080d"/>
<path d="M1581,145.1l9,-2.3 -9.2,-1.6 -8.9,2.1z" fill="#fa080d"/>
<path d="M1235.9,257.2l9.8,-6.8 -7.8,3 -9.8,6.7z" fill="#ecf50d" class="s3"/>
<path d="M1717.2,159.6l8.4,-1.1 -9.4,-4.5 -8.5,0.9z" fill="#fa230d"/>
<path d="M1308.5,218.1l9.6,-5.8 -8.1,2.3 -9.6,5.7z" fill="#faaa0d" class="s4"/>
<path d="M1808,192.1l8.1,-0.5 -9.6,-6.8 -8.1,0.3z" fill="#fa690d"/>
<path d="M1463,161.6l9.2,-3.8 -8.7,0.4 -9.3,3.6z" fill="#fa2b0d" class="s4"/>
<path d="M1399.3,180.2l9.5,-4.5 -8.5,1.3 -9.5,4.4z" fill="#fa550d" class="s4"/>
<path d="M1762.7,173.8l8.3,-0.7 -9.6,-5.7 -8.3,0.6z" fill="#fa410d"/>
<path d="M1353.8,197.7l9.6,-5.2 -8.3,1.8 -9.6,5.1z" fill="#fa7c0d" class="s4"/>
<path d="M1699.1,156.1l8.6,-1.2 -9.5,-4.1 -8.5,1.1z" fill="#fa1b0d"/>
<path d="M1835.3,206.6l8.1,-0.4 -9.6,-7.6 -8.1,0.3z" fill="#fa880d"/>
<path d="M1481.1,157.9l9.2,-3.5 -8.8,0 -9.3,3.4z" fill="#fa220d" class="s4"/>
<path d="M1281,232.5l9.7,-6.3 -8,2.5 -9.7,6.1z" fill="#fac90d" class="s4"/>
<path d="M1862.6,222.8l8,-0.3 -9.7,-8.4 -7.9,0.2z" fill="#faab0d"/>
<path d="M1681.1,153.3l8.6,-1.4 -9.4,-3.9 -8.7,1.3z" fill="#fa140d"/>
<path d="M1417.4,174.9l9.4,-4.4 -8.6,0.9 -9.4,4.3z" fill="#fa480d" class="s4"/>
<path d="M1744.7,169l8.4,-1 -9.5,-5.3 -8.4,0.8z" fill="#fa360d"/>
<path d="M1499.2,154.8l9.2,-3.4 -8.9,-0.3 -9.2,3.3z" fill="#fa1a0d"/>
<path d="M1790.1,185.8l8.3,-0.7 -9.6,-6.4 -8.3,0.5z" fill="#fa5a0d"/>
<path d="M1253.5,247.9l9.8,-6.7 -7.9,2.7 -9.7,6.5z" fill="#faeb0d" class="s4"/>
<path d="M1326.3,210.4l9.6,-5.7 -8.2,2.1 -9.6,5.5z" fill="#fa970d" class="s4"/>
<path d="M1663,151l8.6,-1.7 -9.4,-3.4 -8.6,1.5z" fill="#fa0f0d"/>
<path d="M1371.8,191.2l9.5,-5.1 -8.4,1.5 -9.5,4.9z" fill="#fa6c0d" class="s4"/>
<path d="M1517.4,152.2l9.2,-3.2 -9,-0.6 -9.2,3z" fill="#fa140d"/>
<path d="M1644.8,149.2l8.8,-1.8 -9.4,-3.1 -8.7,1.7z" fill="#fa0b0d"/>
<path d="M1435.5,170l9.4,-4.2 -8.7,0.6 -9.4,4.1z" fill="#fa3c0d" class="s4"/>
<path d="M1817.6,199.5l8.1,-0.6 -9.6,-7.3 -8.1,0.5z" fill="#fa760d"/>
<path d="M1535.6,150.2l9.1,-3 -9,-1 -9.1,2.8z" fill="#fa0e0d"/>
<path d="M1726.7,164.7l8.5,-1.2 -9.6,-5 -8.4,1.1z" fill="#fa2b0d"/>
<path d="M1626.6,148l8.9,-2 -9.4,-2.8 -8.8,1.9z" fill="#fa080d"/>
<path d="M1553.8,148.7l9.1,-2.9 -9.1,-1.3 -9.1,2.7z" fill="#fa0a0d"/>
<path d="M1298.8,224.2l9.7,-6.1 -8.1,2.2 -9.7,5.9z" fill="#fab40d" class="s4"/>
<path d="M1608.4,147.4l8.9,-2.3 -9.2,-2.4 -8.9,2.1z" fill="#fa080d"/>
<path d="M1572,147.7l9,-2.6 -9.1,-1.8 -9,2.5z" fill="#fa080d"/>
<path d="M1590.2,147.2l9,-2.4 -9.2,-2 -9,2.3z" fill="#fa080d"/>
<path d="M1845,214.9l8,-0.6 -9.6,-8.1 -8.1,0.4z" fill="#fa970d"/>
<path d="M1772.2,180.1l8.3,-0.9 -9.5,-6.1 -8.3,0.7z" fill="#fa4c0d"/>
<path d="M1389.8,185.1l9.5,-4.9 -8.5,1.2 -9.5,4.7z" fill="#fa5d0d" class="s4"/>
<path d="M1453.6,165.7l9.4,-4.1 -8.8,0.2 -9.3,4z" fill="#fa310d"/>
<path d="M1344.3,203.2l9.5,-5.5 -8.3,1.7 -9.6,5.3z" fill="#fa850d" class="s4"/>
<path d="M1708.6,160.9l8.6,-1.3 -9.5,-4.7 -8.6,1.2z" fill="#fa220d"/>
<path d="M1271.3,239l9.7,-6.5 -8,2.3 -9.7,6.4z" fill="#fad40d" class="s4"/>
<path d="M1799.8,192.9l8.2,-0.8 -9.6,-7 -8.3,0.7z" fill="#fa660d"/>
<path d="M1471.8,161.8l9.3,-3.9 -8.9,-0.1 -9.2,3.8z" fill="#fa270d"/>
<path d="M1754.3,174.9l8.4,-1.1 -9.6,-5.8 -8.4,1z" fill="#fa3f0d"/>
<path d="M1243.8,254.8l9.7,-6.9 -7.8,2.5 -9.8,6.8z" fill="#f8f50d" class="s4"/>
<path d="M1690.5,157.7l8.6,-1.6 -9.4,-4.2 -8.6,1.4z" fill="#fa1b0d"/>
<path d="M1407.9,179.6l9.5,-4.7 -8.6,0.8 -9.5,4.5z" fill="#fa4f0d"/>
<path d="M1316.7,216.4l9.6,-6 -8.2,1.9 -9.6,5.8z" fill="#faa10d" class="s4"/>
<path d="M1827.2,207.4l8.1,-0.8 -9.6,-7.7 -8.1,0.6z" fill="#fa850d"/>
<path d="M1362.2,196.5l9.6,-5.3 -8.4,1.3 -9.6,5.2z" fill="#fa740d"/>
<path d="M1490,158.5l9.2,-3.7 -8.9,-0.4 -9.2,3.5z" fill="#fa1f0d"/>
<path d="M1672.4,155.1l8.7,-1.8 -9.5,-4 -8.6,1.7z" fill="#fa140d"/>
<path d="M1854.6,223.5l8,-0.7 -9.6,-8.5 -8,0.6z" fill="#faa70d"/>
<path d="M1736.3,170.3l8.4,-1.3 -9.5,-5.5 -8.5,1.2z" fill="#fa340d"/>
<path d="M1508.2,155.8l9.2,-3.6 -9,-0.8 -9.2,3.4z" fill="#fa180d"/>
<path d="M1781.9,186.9l8.2,-1.1 -9.6,-6.6 -8.3,0.9z" fill="#fa580d"/>
<path d="M1654.2,153l8.8,-2 -9.4,-3.6 -8.8,1.8z" fill="#fa0f0d"/>
<path d="M1426.1,174.6l9.4,-4.6 -8.7,0.5 -9.4,4.4z" fill="#fa420d"/>
<path d="M1289.1,230.6l9.7,-6.4 -8.1,2 -9.7,6.3z" fill="#fabf0d"/>
<path d="M1526.5,153.5l9.1,-3.3 -9,-1.2 -9.2,3.2z" fill="#fa120d"/>
<path d="M1636,151.4l8.8,-2.2 -9.3,-3.2 -8.9,2z" fill="#fa0c0d"/>
<path d="M1544.7,151.8l9.1,-3.1 -9.1,-1.5 -9.1,3z" fill="#fa0e0d"/>
<path d="M1334.6,209l9.7,-5.8 -8.4,1.5 -9.6,5.7z" fill="#fa8f0d"/>
<path d="M1380.3,190.3l9.5,-5.2 -8.5,1 -9.5,5.1z" fill="#fa650d"/>
<path d="M1617.8,150.4l8.8,-2.4 -9.3,-2.9 -8.9,2.3z" fill="#fa090d"/>
<path d="M1261.5,245.8l9.8,-6.8 -8,2.2 -9.8,6.7z" fill="#fae00d"/>
<path d="M1718.2,166.2l8.5,-1.5 -9.5,-5.1 -8.6,1.3z" fill="#fa2a0d"/>
<path d="M1563,150.6l9,-2.9 -9.1,-1.9 -9.1,2.9z" fill="#fa0b0d"/>
<path d="M1599.5,149.9l8.9,-2.5 -9.2,-2.6 -9,2.4z" fill="#fa090d"/>
<path d="M1809.4,200.5l8.2,-1 -9.6,-7.4 -8.2,0.8z" fill="#fa740d"/>
<path d="M1581.2,150l9,-2.8 -9.2,-2.1 -9,2.6z" fill="#fa090d"/>
<path d="M1444.2,170l9.4,-4.3 -8.7,0.1 -9.4,4.2z" fill="#fa370d"/>
<path d="M1763.9,181.4l8.3,-1.3 -9.5,-6.3 -8.4,1.1z" fill="#fa4a0d"/>
<path d="M1836.9,215.8l8.1,-0.9 -9.7,-8.3 -8.1,0.8z" fill="#fa940d"/>
<path d="M1700,162.7l8.6,-1.8 -9.5,-4.8 -8.6,1.6z" fill="#fa220d"/>
<path d="M1307,222.6l9.7,-6.2 -8.2,1.7 -9.7,6.1z" fill="#faab0d"/>
<path d="M1462.4,166l9.4,-4.2 -8.8,-0.2 -9.4,4.1z" fill="#fa2d0d"/>
<path d="M1398.4,184.6l9.5,-5 -8.6,0.6 -9.5,4.9z" fill="#fa570d"/>
<path d="M1352.6,202.2l9.6,-5.7 -8.4,1.2 -9.5,5.5z" fill="#fa7d0d"/>
<path d="M1791.5,194.1l8.3,-1.2 -9.7,-7.1 -8.2,1.1z" fill="#fa650d"/>
<path d="M1681.9,159.7l8.6,-2 -9.4,-4.4 -8.7,1.8z" fill="#fa1b0d"/>
<path d="M1745.8,176.4l8.5,-1.5 -9.6,-5.9 -8.4,1.3z" fill="#fa3e0d"/>
<path d="M1480.7,162.6l9.3,-4.1 -8.9,-0.6 -9.3,3.9z" fill="#fa240d"/>
<path d="M1279.3,237.3l9.8,-6.7 -8.1,1.9 -9.7,6.5z" fill="#facb0d"/>
<path d="M1416.6,179.4l9.5,-4.8 -8.7,0.3 -9.5,4.7z" fill="#fa4a0d"/>
<path d="M1663.6,157.2l8.8,-2.1 -9.4,-4.1 -8.8,2z" fill="#fa150d"/>
<path d="M1499,159.6l9.2,-3.8 -9,-1 -9.2,3.7z" fill="#fa1d0d"/>
<path d="M1819,208.5l8.2,-1.1 -9.6,-7.9 -8.2,1z" fill="#fa830d"/>
<path d="M1251.7,252.9l9.8,-7.1 -8,2.1 -9.7,6.9z" fill="#faed0d"/>
<path d="M1325,215.1l9.6,-6.1 -8.3,1.4 -9.6,6z" fill="#fa990d"/>
<path d="M1846.5,224.6l8.1,-1.1 -9.6,-8.6 -8.1,0.9z" fill="#faa50d"/>
<path d="M1370.7,195.8l9.6,-5.5 -8.5,0.9 -9.6,5.3z" fill="#fa6e0d"/>
<path d="M1645.4,155.3l8.8,-2.3 -9.4,-3.8 -8.8,2.2z" fill="#fa110d"/>
<path d="M1727.7,172l8.6,-1.7 -9.6,-5.6 -8.5,1.5z" fill="#fa340d"/>
<path d="M1517.2,157.2l9.3,-3.7 -9.1,-1.3 -9.2,3.6z" fill="#fa170d"/>
<path d="M1773.5,188.3l8.4,-1.4 -9.7,-6.8 -8.3,1.3z" fill="#fa560d"/>
<path d="M1627.1,153.9l8.9,-2.5 -9.4,-3.4 -8.8,2.4z" fill="#fa0d0d"/>
<path d="M1535.6,155.3l9.1,-3.5 -9.1,-1.6 -9.1,3.3z" fill="#fa120d"/>
<path d="M1434.8,174.7l9.4,-4.7 -8.7,0 -9.4,4.6z" fill="#fa3e0d"/>
<path d="M1608.8,153.1l9,-2.7 -9.4,-3 -8.9,2.5z" fill="#fa0c0d"/>
<path d="M1553.9,153.9l9.1,-3.3 -9.2,-1.9 -9.1,3.1z" fill="#fa0e0d"/>
<path d="M1590.5,152.9l9,-3 -9.3,-2.7 -9,2.8z" fill="#fa0b0d"/>
<path d="M1572.2,153.1l9,-3.1 -9.2,-2.3 -9,2.9z" fill="#fa0c0d"/>
<path d="M1297.3,229.2l9.7,-6.6 -8.2,1.6 -9.7,6.4z" fill="#fab70d"/>
<path d="M1709.6,168.1l8.6,-1.9 -9.6,-5.3 -8.6,1.8z" fill="#fa2a0d"/>
<path d="M1801.1,201.8l8.3,-1.3 -9.6,-7.6 -8.3,1.2z" fill="#fa720d"/>
<path d="M1388.9,190l9.5,-5.4 -8.6,0.5 -9.5,5.2z" fill="#fa5f0d"/>
<path d="M1453,170.6l9.4,-4.6 -8.8,-0.3 -9.4,4.3z" fill="#fa340d"/>
<path d="M1343,208.2l9.6,-6 -8.3,1 -9.7,5.8z" fill="#fa870d"/>
<path d="M1755.4,183l8.5,-1.6 -9.6,-6.5 -8.5,1.5z" fill="#fa4a0d"/>
<path d="M1269.6,244.2l9.7,-6.9 -8,1.7 -9.8,6.8z" fill="#fad70d"/>
<path d="M1828.7,217l8.2,-1.2 -9.7,-8.4 -8.2,1.1z" fill="#fa930d"/>
<path d="M1691.4,164.7l8.6,-2 -9.5,-5 -8.6,2z" fill="#fa220d"/>
<path d="M1471.3,166.9l9.4,-4.3 -8.9,-0.8 -9.4,4.2z" fill="#fa2a0d"/>
<path d="M1407.1,184.6l9.5,-5.2 -8.7,0.2 -9.5,5z" fill="#fa520d"/>
<path d="M1673.1,161.9l8.8,-2.2 -9.5,-4.6 -8.8,2.1z" fill="#fa1c0d"/>
<path d="M1315.3,221.6l9.7,-6.5 -8.3,1.3 -9.7,6.2z" fill="#faa40d"/>
<path d="M1783.1,195.6l8.4,-1.5 -9.6,-7.2 -8.4,1.4z" fill="#fa640d"/>
<path d="M1737.3,178.2l8.5,-1.8 -9.5,-6.1 -8.6,1.7z" fill="#fa3e0d"/>
<path d="M1489.6,163.8l9.4,-4.2 -9,-1.1 -9.3,4.1z" fill="#fa230d"/>
<path d="M1361.1,201.7l9.6,-5.9 -8.5,0.7 -9.6,5.7z" fill="#fa770d"/>
<path d="M1654.8,159.7l8.8,-2.5 -9.4,-4.2 -8.8,2.3z" fill="#fa170d"/>
<path d="M1508,161.2l9.2,-4 -9,-1.4 -9.2,3.8z" fill="#fa1c0d"/>
<path d="M1810.8,210l8.2,-1.5 -9.6,-8 -8.3,1.3z" fill="#fa810d"/>
<path d="M1425.3,179.8l9.5,-5.1 -8.7,-0.1 -9.5,4.8z" fill="#fa460d"/>
<path d="M1287.5,236l9.8,-6.8 -8.2,1.4 -9.8,6.7z" fill="#fac20d"/>
<path d="M1636.5,158l8.9,-2.7 -9.4,-3.9 -8.9,2.5z" fill="#fa130d"/>
<path d="M1526.3,159.1l9.3,-3.8 -9.1,-1.8 -9.3,3.7z" fill="#fa170d"/>
<path d="M1719.1,174l8.6,-2 -9.5,-5.8 -8.6,1.9z" fill="#fa340d"/>
<path d="M1838.4,226l8.1,-1.4 -9.6,-8.8 -8.2,1.2z" fill="#faa30d"/>
<path d="M1618.2,156.8l8.9,-2.9 -9.3,-3.5 -9,2.7z" fill="#fa100d"/>
<path d="M1544.7,157.6l9.2,-3.7 -9.2,-2.1 -9.1,3.5z" fill="#fa130d"/>
<path d="M1765.1,190l8.4,-1.7 -9.6,-6.9 -8.5,1.6z" fill="#fa560d"/>
<path d="M1599.8,156.2l9,-3.1 -9.3,-3.2 -9,3z" fill="#fa0f0d"/>
<path d="M1563.1,156.6l9.1,-3.5 -9.2,-2.5 -9.1,3.3z" fill="#fa100d"/>
<path d="M1379.3,195.6l9.6,-5.6 -8.6,0.3 -9.6,5.5z" fill="#fa680d"/>
<path d="M1333.3,214.4l9.7,-6.2 -8.4,0.8 -9.6,6.1z" fill="#fa920d"/>
<path d="M1581.5,156.1l9,-3.2 -9.3,-2.9 -9,3.1z" fill="#fa0f0d"/>
<path d="M1259.8,251.5l9.8,-7.3 -8.1,1.6 -9.8,7.1z" fill="#fae40d"/>
<path d="M1443.6,175.4l9.4,-4.8 -8.8,-0.6 -9.4,4.7z" fill="#fa3b0d"/>
<path d="M1700.9,170.3l8.7,-2.2 -9.6,-5.4 -8.6,2z" fill="#fa2b0d"/>
<path d="M1792.8,203.5l8.3,-1.7 -9.6,-7.7 -8.4,1.5z" fill="#fa720d"/>
<path d="M1461.9,171.6l9.4,-4.7 -8.9,-0.9 -9.4,4.6z" fill="#fa310d"/>
<path d="M1305.5,228.3l9.8,-6.7 -8.3,1 -9.7,6.6z" fill="#faaf0d"/>
<path d="M1746.9,184.9l8.5,-1.9 -9.6,-6.6 -8.5,1.8z" fill="#fa4a0d"/>
<path d="M1397.5,190.1l9.6,-5.5 -8.7,0 -9.5,5.4z" fill="#fa5a0d"/>
<path d="M1682.6,167.1l8.8,-2.4 -9.5,-5 -8.8,2.2z" fill="#fa240d"/>
<path d="M1820.5,218.7l8.2,-1.7 -9.7,-8.5 -8.2,1.5z" fill="#fa920d"/>
<path d="M1351.5,207.8l9.6,-6.1 -8.5,0.5 -9.6,6z" fill="#fa810d"/>
<path d="M1480.3,168.3l9.3,-4.5 -8.9,-1.2 -9.4,4.3z" fill="#fa290d"/>
<path d="M1277.7,243.2l9.8,-7.2 -8.2,1.3 -9.7,6.9z" fill="#facf0d"/>
<path d="M1664.3,164.5l8.8,-2.6 -9.5,-4.7 -8.8,2.5z" fill="#fa1e0d"/>
<path d="M1728.7,180.4l8.6,-2.2 -9.6,-6.2 -8.6,2z" fill="#fa3f0d"/>
<path d="M1774.7,197.5l8.4,-1.9 -9.6,-7.3 -8.4,1.7z" fill="#fa630d"/>
<path d="M1415.8,185.1l9.5,-5.3 -8.7,-0.4 -9.5,5.2z" fill="#fa4e0d"/>
<path d="M1498.7,165.5l9.3,-4.3 -9,-1.6 -9.4,4.2z" fill="#fa220d"/>
<path d="M1646,162.5l8.8,-2.8 -9.4,-4.4 -8.9,2.7z" fill="#fa190d"/>
<path d="M1323.6,221l9.7,-6.6 -8.3,0.7 -9.7,6.5z" fill="#fa9d0d"/>
<path d="M1517.1,163.3l9.2,-4.2 -9.1,-1.9 -9.2,4z" fill="#fa1c0d"/>
<path d="M1369.7,201.6l9.6,-6 -8.6,0.2 -9.6,5.9z" fill="#fa720d"/>
<path d="M1627.6,161l8.9,-3 -9.4,-4.1 -8.9,2.9z" fill="#fa150d"/>
<path d="M1802.4,211.8l8.4,-1.8 -9.7,-8.2 -8.3,1.7z" fill="#fa810d"/>
<path d="M1535.5,161.6l9.2,-4 -9.1,-2.3 -9.3,3.8z" fill="#fa180d"/>
<path d="M1609.2,160l9,-3.2 -9.4,-3.7 -9,3.1z" fill="#fa130d"/>
<path d="M1710.5,176.3l8.6,-2.3 -9.5,-5.9 -8.7,2.2z" fill="#fa350d"/>
<path d="M1434.1,180.6l9.5,-5.2 -8.8,-0.7 -9.5,5.1z" fill="#fa430d"/>
<path d="M1553.9,160.4l9.2,-3.8 -9.2,-2.7 -9.2,3.7z" fill="#fa150d"/>
<path d="M1590.8,159.6l9,-3.4 -9.3,-3.3 -9,3.2z" fill="#fa130d"/>
<path d="M1572.3,159.7l9.2,-3.6 -9.3,-3 -9.1,3.5z" fill="#fa130d"/>
<path d="M1830.1,227.8l8.3,-1.8 -9.7,-9 -8.2,1.7z" fill="#faa30d"/>
<path d="M1756.5,192.1l8.6,-2.1 -9.7,-7 -8.5,1.9z" fill="#fa560d"/>
<path d="M1295.8,235.3l9.7,-7 -8.2,0.9 -9.8,6.8z" fill="#fabb0d"/>
<path d="M1387.9,195.9l9.6,-5.8 -8.6,-0.1 -9.6,5.6z" fill="#fa640d"/>
<path d="M1692.2,172.8l8.7,-2.5 -9.5,-5.6 -8.8,2.4z" fill="#fa2d0d"/>
<path d="M1452.5,176.6l9.4,-5 -8.9,-1 -9.4,4.8z" fill="#fa390d"/>
<path d="M1341.8,214.2l9.7,-6.4 -8.5,0.4 -9.7,6.2z" fill="#fa8c0d"/>
<path d="M1267.9,250.6l9.8,-7.4 -8.1,1 -9.8,7.3z" fill="#fadc0d"/>
<path d="M1784.4,205.6l8.4,-2.1 -9.7,-7.9 -8.4,1.9z" fill="#fa720d"/>
<path d="M1738.3,187.2l8.6,-2.3 -9.6,-6.7 -8.6,2.2z" fill="#fa4b0d"/>
<path d="M1470.9,173.1l9.4,-4.8 -9,-1.4 -9.4,4.7z" fill="#fa300d"/>
<path d="M1673.8,169.9l8.8,-2.8 -9.5,-5.2 -8.8,2.6z" fill="#fa260d"/>
<path d="M1812.1,220.6l8.4,-1.9 -9.7,-8.7 -8.4,1.8z" fill="#fa910d"/>
<path d="M1406.2,190.8l9.6,-5.7 -8.7,-0.5 -9.6,5.5z" fill="#fa570d"/>
<path d="M1313.9,227.9l9.7,-6.9 -8.3,0.6 -9.8,6.7z" fill="#faa90d"/>
<path d="M1489.3,170.2l9.4,-4.7 -9.1,-1.7 -9.3,4.5z" fill="#fa290d"/>
<path d="M1655.4,167.5l8.9,-3 -9.5,-4.8 -8.8,2.8z" fill="#fa200d"/>
<path d="M1360,207.9l9.7,-6.3 -8.6,0.1 -9.6,6.1z" fill="#fa7c0d"/>
<path d="M1720.1,182.9l8.6,-2.5 -9.6,-6.4 -8.6,2.3z" fill="#fa400d"/>
<path d="M1507.8,167.8l9.3,-4.5 -9.1,-2.1 -9.3,4.3z" fill="#fa230d"/>
<path d="M1637,165.7l9,-3.2 -9.5,-4.5 -8.9,3z" fill="#fa1c0d"/>
<path d="M1766.2,199.8l8.5,-2.3 -9.6,-7.5 -8.6,2.1z" fill="#fa640d"/>
<path d="M1424.6,186.1l9.5,-5.5 -8.8,-0.8 -9.5,5.3z" fill="#fa4b0d"/>
<path d="M1286,242.6l9.8,-7.3 -8.3,0.7 -9.8,7.2z" fill="#fac80d"/>
<path d="M1526.2,165.9l9.3,-4.3 -9.2,-2.5 -9.2,4.2z" fill="#fa1e0d"/>
<path d="M1618.6,164.3l9,-3.3 -9.4,-4.2 -9,3.2z" fill="#fa190d"/>
<path d="M1544.7,164.5l9.2,-4.1 -9.2,-2.8 -9.2,4z" fill="#fa1a0d"/>
<path d="M1600.1,163.6l9.1,-3.6 -9.4,-3.8 -9,3.4z" fill="#fa170d"/>
<path d="M1563.2,163.6l9.1,-3.9 -9.2,-3.1 -9.2,3.8z" fill="#fa180d"/>
<path d="M1581.7,163.3l9.1,-3.7 -9.3,-3.5 -9.2,3.6z" fill="#fa170d"/>
<path d="M1794,214l8.4,-2.2 -9.6,-8.3 -8.4,2.1z" fill="#fa810d"/>
<path d="M1701.7,179l8.8,-2.7 -9.6,-6 -8.7,2.5z" fill="#fa370d"/>
<path d="M1378.3,202.1l9.6,-6.2 -8.6,-0.3 -9.6,6z" fill="#fa6e0d"/>
<path d="M1332.1,220.9l9.7,-6.7 -8.5,0.2 -9.7,6.6z" fill="#fa980d"/>
<path d="M1443,181.9l9.5,-5.3 -8.9,-1.2 -9.5,5.2z" fill="#fa410d"/>
<path d="M1821.8,229.9l8.3,-2.1 -9.6,-9.1 -8.4,1.9z" fill="#faa30d"/>
<path d="M1748,194.6l8.5,-2.5 -9.6,-7.2 -8.6,2.3z" fill="#fa570d"/>
<path d="M1683.4,175.8l8.8,-3 -9.6,-5.7 -8.8,2.8z" fill="#fa2f0d"/>
<path d="M1461.4,178.3l9.5,-5.2 -9,-1.5 -9.4,5z" fill="#fa380d"/>
<path d="M1304.1,235.1l9.8,-7.2 -8.4,0.4 -9.7,7z" fill="#fab50d"/>
<path d="M1396.6,196.7l9.6,-5.9 -8.7,-0.7 -9.6,5.8z" fill="#fa610d"/>
<path d="M1775.9,208l8.5,-2.4 -9.7,-8.1 -8.5,2.3z" fill="#fa730d"/>
<path d="M1350.3,214.5l9.7,-6.6 -8.5,-0.1 -9.7,6.4z" fill="#fa880d"/>
<path d="M1665,173l8.8,-3.1 -9.5,-5.4 -8.9,3z" fill="#fa290d"/>
<path d="M1729.7,189.9l8.6,-2.7 -9.6,-6.8 -8.6,2.5z" fill="#fa4c0d"/>
<path d="M1479.9,175.2l9.4,-5 -9,-1.9 -9.4,4.8z" fill="#fa300d"/>
<path d="M1276.1,250.2l9.9,-7.6 -8.3,0.6 -9.8,7.4z" fill="#fad50d"/>
<path d="M1646.5,170.8l8.9,-3.3 -9.4,-5 -9,3.2z" fill="#fa240d"/>
<path d="M1803.7,223l8.4,-2.4 -9.7,-8.8 -8.4,2.2z" fill="#fa920d"/>
<path d="M1498.4,172.6l9.4,-4.8 -9.1,-2.3 -9.4,4.7z" fill="#fa2a0d"/>
<path d="M1415,191.9l9.6,-5.8 -8.8,-1 -9.6,5.7z" fill="#fa550d"/>
<path d="M1628,169.2l9,-3.5 -9.4,-4.7 -9,3.3z" fill="#fa200d"/>
<path d="M1711.3,185.7l8.8,-2.8 -9.6,-6.6 -8.8,2.7z" fill="#fa420d"/>
<path d="M1516.9,170.5l9.3,-4.6 -9.1,-2.6 -9.3,4.5z" fill="#fa250d"/>
<path d="M1322.3,228l9.8,-7.1 -8.5,0.1 -9.7,6.9z" fill="#faa40d"/>
<path d="M1757.6,202.4l8.6,-2.6 -9.7,-7.7 -8.5,2.5z" fill="#fa660d"/>
<path d="M1368.6,208.5l9.7,-6.4 -8.6,-0.5 -9.7,6.3z" fill="#fa790d"/>
<path d="M1609.5,168.1l9.1,-3.8 -9.4,-4.3 -9.1,3.6z" fill="#fa1e0d"/>
<path d="M1535.4,168.9l9.3,-4.4 -9.2,-2.9 -9.3,4.3z" fill="#fa210d"/>
<path d="M1591,167.5l9.1,-3.9 -9.3,-4 -9.1,3.7z" fill="#fa1c0d"/>
<path d="M1554,167.9l9.2,-4.3 -9.3,-3.2 -9.2,4.1z" fill="#fa1e0d"/>
<path d="M1572.5,167.4l9.2,-4.1 -9.4,-3.6 -9.1,3.9z" fill="#fa1c0d"/>
<path d="M1433.5,187.6l9.5,-5.7 -8.9,-1.3 -9.5,5.5z" fill="#fa4a0d"/>
<path d="M1692.9,182.1l8.8,-3.1 -9.5,-6.2 -8.8,3z" fill="#fa3a0d"/>
<path d="M1785.6,216.6l8.4,-2.6 -9.6,-8.4 -8.5,2.4z" fill="#fa830d"/>
<path d="M1294.3,242.5l9.8,-7.4 -8.3,0.2 -9.8,7.3z" fill="#fac20d"/>
<path d="M1451.9,183.8l9.5,-5.5 -8.9,-1.7 -9.5,5.3z" fill="#fa410d"/>
<path d="M1387,203l9.6,-6.3 -8.7,-0.8 -9.6,6.2z" fill="#fa6b0d"/>
<path d="M1739.3,197.4l8.7,-2.8 -9.7,-7.4 -8.6,2.7z" fill="#fa5a0d"/>
<path d="M1813.4,232.4l8.4,-2.5 -9.7,-9.3 -8.4,2.4z" fill="#faa40d"/>
<path d="M1340.6,221.4l9.7,-6.9 -8.5,-0.3 -9.7,6.7z" fill="#fa930d"/>
<path d="M1674.5,179l8.9,-3.2 -9.6,-5.9 -8.8,3.1z" fill="#fa330d"/>
<path d="M1470.4,180.5l9.5,-5.3 -9,-2.1 -9.5,5.2z" fill="#fa390d"/>
<path d="M1656,176.5l9,-3.5 -9.6,-5.5 -8.9,3.3z" fill="#fa2d0d"/>
<path d="M1767.3,210.7l8.6,-2.7 -9.7,-8.2 -8.6,2.6z" fill="#fa750d"/>
<path d="M1405.4,198l9.6,-6.1 -8.8,-1.1 -9.6,5.9z" fill="#fa5f0d"/>
<path d="M1721,192.9l8.7,-3 -9.6,-7 -8.8,2.8z" fill="#fa4f0d"/>
<path d="M1489,177.7l9.4,-5.1 -9.1,-2.4 -9.4,5z" fill="#fa320d"/>
<path d="M1312.5,235.3l9.8,-7.3 -8.4,-0.1 -9.8,7.2z" fill="#fab10d"/>
<path d="M1637.5,174.5l9,-3.7 -9.5,-5.1 -9,3.5z" fill="#fa280d"/>
<path d="M1358.9,215.3l9.7,-6.8 -8.6,-0.6 -9.7,6.6z" fill="#fa840d"/>
<path d="M1507.5,175.5l9.4,-5 -9.1,-2.7 -9.4,4.8z" fill="#fa2c0d"/>
<path d="M1795.3,225.7l8.4,-2.7 -9.7,-9 -8.4,2.6z" fill="#fa940d"/>
<path d="M1619,173l9,-3.8 -9.4,-4.9 -9.1,3.8z" fill="#fa250d"/>
<path d="M1526.1,173.7l9.3,-4.8 -9.2,-3 -9.3,4.6z" fill="#fa280d"/>
<path d="M1423.9,193.6l9.6,-6 -8.9,-1.5 -9.6,5.8z" fill="#fa540d"/>
<path d="M1702.6,188.9l8.7,-3.2 -9.6,-6.7 -8.8,3.1z" fill="#fa450d"/>
<path d="M1284.4,250.3l9.9,-7.8 -8.3,0.1 -9.9,7.6z" fill="#fad00d"/>
<path d="M1600.4,172.1l9.1,-4 -9.4,-4.5 -9.1,3.9z" fill="#fa230d"/>
<path d="M1544.7,172.5l9.3,-4.6 -9.3,-3.4 -9.3,4.4z" fill="#fa240d"/>
<path d="M1581.8,171.7l9.2,-4.2 -9.3,-4.2 -9.2,4.1z" fill="#fa220d"/>
<path d="M1563.3,171.8l9.2,-4.4 -9.3,-3.8 -9.2,4.3z" fill="#fa230d"/>
<path d="M1749,205.4l8.6,-3 -9.6,-7.8 -8.7,2.8z" fill="#fa680d"/>
<path d="M1377.3,209.6l9.7,-6.6 -8.7,-0.9 -9.7,6.4z" fill="#fa760d"/>
<path d="M1330.8,228.6l9.8,-7.2 -8.5,-0.5 -9.8,7.1z" fill="#faa00d"/>
<path d="M1442.4,189.6l9.5,-5.8 -8.9,-1.9 -9.5,5.7z" fill="#fa4a0d"/>
<path d="M1684.1,185.5l8.8,-3.4 -9.5,-6.3 -8.9,3.2z" fill="#fa3d0d"/>
<path d="M1777,219.5l8.6,-2.9 -9.7,-8.6 -8.6,2.7z" fill="#fa850d"/>
<path d="M1730.6,200.5l8.7,-3.1 -9.6,-7.5 -8.7,3z" fill="#fa5c0d"/>
<path d="M1460.9,186.1l9.5,-5.6 -9,-2.2 -9.5,5.5z" fill="#fa410d"/>
<path d="M1665.6,182.6l8.9,-3.6 -9.5,-6 -9,3.5z" fill="#fa370d"/>
<path d="M1805,235.3l8.4,-2.9 -9.7,-9.4 -8.4,2.7z" fill="#faa60d"/>
<path d="M1302.7,242.9l9.8,-7.6 -8.4,-0.2 -9.8,7.4z" fill="#fabe0d"/>
<path d="M1395.8,204.5l9.6,-6.5 -8.8,-1.3 -9.6,6.3z" fill="#fa6a0d"/>
<path d="M1349.2,222.3l9.7,-7 -8.6,-0.8 -9.7,6.9z" fill="#fa900d"/>
<path d="M1479.5,183.2l9.5,-5.5 -9.1,-2.5 -9.5,5.3z" fill="#fa3a0d"/>
<path d="M1647,180.3l9,-3.8 -9.5,-5.7 -9,3.7z" fill="#fa310d"/>
<path d="M1712.2,196.3l8.8,-3.4 -9.7,-7.2 -8.7,3.2z" fill="#fa520d"/>
<path d="M1758.7,213.8l8.6,-3.1 -9.7,-8.3 -8.6,3z" fill="#fa770d"/>
<path d="M1498.1,180.8l9.4,-5.3 -9.1,-2.9 -9.4,5.1z" fill="#fa340d"/>
<path d="M1628.5,178.5l9,-4 -9.5,-5.3 -9,3.8z" fill="#fa2d0d"/>
<path d="M1414.3,199.9l9.6,-6.3 -8.9,-1.7 -9.6,6.1z" fill="#fa5e0d"/>
<path d="M1516.7,178.8l9.4,-5.1 -9.2,-3.2 -9.4,5z" fill="#fa2f0d"/>
<path d="M1609.9,177.2l9.1,-4.2 -9.5,-4.9 -9.1,4z" fill="#fa2a0d"/>
<path d="M1786.7,228.7l8.6,-3 -9.7,-9.1 -8.6,2.9z" fill="#fa960d"/>
<path d="M1321,236.1l9.8,-7.5 -8.5,-0.6 -9.8,7.3z" fill="#faad0d"/>
<path d="M1535.4,177.5l9.3,-5 -9.3,-3.6 -9.3,4.8z" fill="#fa2c0d"/>
<path d="M1591.3,176.5l9.1,-4.4 -9.4,-4.6 -9.2,4.2z" fill="#fa290d"/>
<path d="M1367.6,216.5l9.7,-6.9 -8.7,-1.1 -9.7,6.8z" fill="#fa820d"/>
<path d="M1554,176.6l9.3,-4.8 -9.3,-3.9 -9.3,4.6z" fill="#fa290d"/>
<path d="M1572.6,176.3l9.2,-4.6 -9.3,-4.3 -9.2,4.4z" fill="#fa280d"/>
<path d="M1693.7,192.5l8.9,-3.6 -9.7,-6.8 -8.8,3.4z" fill="#fa490d"/>
<path d="M1432.8,195.7l9.6,-6.1 -8.9,-2 -9.6,6z" fill="#fa540d"/>
<path d="M1740.3,208.7l8.7,-3.3 -9.7,-8 -8.7,3.1z" fill="#fa6b0d"/>
<path d="M1292.8,250.9l9.9,-8 -8.4,-0.4 -9.9,7.8z" fill="#facc0d"/>
<path d="M1675.2,189.3l8.9,-3.8 -9.6,-6.5 -8.9,3.6z" fill="#fa420d"/>
<path d="M1451.4,192.1l9.5,-6 -9,-2.3 -9.5,5.8z" fill="#fa4b0d"/>
<path d="M1386.1,211.2l9.7,-6.7 -8.8,-1.5 -9.7,6.6z" fill="#fa750d"/>
<path d="M1339.4,229.7l9.8,-7.4 -8.6,-0.9 -9.8,7.2z" fill="#fa9d0d"/>
<path d="M1768.4,222.7l8.6,-3.2 -9.7,-8.8 -8.6,3.1z" fill="#fa880d"/>
<path d="M1721.8,204.1l8.8,-3.6 -9.6,-7.6 -8.8,3.4z" fill="#fa600d"/>
<path d="M1656.6,186.6l9,-4 -9.6,-6.1 -9,3.8z" fill="#fa3c0d"/>
<path d="M1470,189l9.5,-5.8 -9.1,-2.7 -9.5,5.6z" fill="#fa430d"/>
<path d="M1796.4,238.5l8.6,-3.2 -9.7,-9.6 -8.6,3z" fill="#faa80d"/>
<path d="M1638,184.5l9,-4.2 -9.5,-5.8 -9,4z" fill="#fa370d"/>
<path d="M1404.6,206.5l9.7,-6.6 -8.9,-1.9 -9.6,6.5z" fill="#fa690d"/>
<path d="M1488.7,186.4l9.4,-5.6 -9.1,-3.1 -9.5,5.5z" fill="#fa3d0d"/>
<path d="M1311.2,243.9l9.8,-7.8 -8.5,-0.8 -9.8,7.6z" fill="#fabb0d"/>
<path d="M1703.3,200l8.9,-3.7 -9.6,-7.4 -8.9,3.6z" fill="#fa560d"/>
<path d="M1619.4,182.8l9.1,-4.3 -9.5,-5.5 -9.1,4.2z" fill="#fa330d"/>
<path d="M1357.9,223.8l9.7,-7.3 -8.7,-1.2 -9.7,7z" fill="#fa8f0d"/>
<path d="M1750,217.3l8.7,-3.5 -9.7,-8.4 -8.7,3.3z" fill="#fa7b0d"/>
<path d="M1507.3,184.3l9.4,-5.5 -9.2,-3.3 -9.4,5.3z" fill="#fa380d"/>
<path d="M1600.7,181.8l9.2,-4.6 -9.5,-5.1 -9.1,4.4z" fill="#fa310d"/>
<path d="M1526,182.7l9.4,-5.2 -9.3,-3.8 -9.4,5.1z" fill="#fa340d"/>
<path d="M1423.2,202.2l9.6,-6.5 -8.9,-2.1 -9.6,6.3z" fill="#fa5f0d"/>
<path d="M1582,181.2l9.3,-4.7 -9.5,-4.8 -9.2,4.6z" fill="#fa2f0d"/>
<path d="M1544.7,181.7l9.3,-5.1 -9.3,-4.1 -9.3,5z" fill="#fa310d"/>
<path d="M1563.4,181.2l9.2,-4.9 -9.3,-4.5 -9.3,4.8z" fill="#fa300d"/>
<path d="M1778.1,232.2l8.6,-3.5 -9.7,-9.2 -8.6,3.2z" fill="#fa990d"/>
<path d="M1684.8,196.4l8.9,-3.9 -9.6,-7 -8.9,3.8z" fill="#fa4e0d"/>
<path d="M1376.4,218.3l9.7,-7.1 -8.8,-1.6 -9.7,6.9z" fill="#fa810d"/>
<path d="M1329.6,237.3l9.8,-7.6 -8.6,-1.1 -9.8,7.5z" fill="#faab0d"/>
<path d="M1731.5,212.3l8.8,-3.6 -9.7,-8.2 -8.8,3.6z" fill="#fa6f0d"/>
<path d="M1441.8,198.4l9.6,-6.3 -9,-2.5 -9.6,6.1z" fill="#fa550d"/>
<path d="M1666.2,193.4l9,-4.1 -9.6,-6.7 -9,4z" fill="#fa470d"/>
<path d="M1460.5,195.1l9.5,-6.1 -9.1,-2.9 -9.5,6z" fill="#fa4d0d"/>
<path d="M1759.7,226.4l8.7,-3.7 -9.7,-8.9 -8.7,3.5z" fill="#fa8b0d"/>
<path d="M1301.3,252l9.9,-8.1 -8.5,-1 -9.9,8z" fill="#fac90d"/>
<path d="M1394.9,213.4l9.7,-6.9 -8.8,-2 -9.7,6.7z" fill="#fa750d"/>
<path d="M1647.6,190.9l9,-4.3 -9.6,-6.3 -9,4.2z" fill="#fa410d"/>
<path d="M1713,207.9l8.8,-3.8 -9.6,-7.8 -8.9,3.7z" fill="#fa640d"/>
<path d="M1348.1,231.3l9.8,-7.5 -8.7,-1.5 -9.8,7.4z" fill="#fa9c0d"/>
<path d="M1479.1,192.3l9.6,-5.9 -9.2,-3.2 -9.5,5.8z" fill="#fa460d"/>
<path d="M1787.8,242l8.6,-3.5 -9.7,-9.8 -8.6,3.5z" fill="#faac0d"/>
<path d="M1628.9,189l9.1,-4.5 -9.5,-6 -9.1,4.3z" fill="#fa3d0d"/>
<path d="M1497.8,190.1l9.5,-5.8 -9.2,-3.5 -9.4,5.6z" fill="#fa410d"/>
<path d="M1610.2,187.5l9.2,-4.7 -9.5,-5.6 -9.2,4.6z" fill="#fa390d"/>
<path d="M1413.5,208.9l9.7,-6.7 -8.9,-2.3 -9.7,6.6z" fill="#fa6a0d"/>
<path d="M1694.4,204l8.9,-4 -9.6,-7.5 -8.9,3.9z" fill="#fa5b0d"/>
<path d="M1516.6,188.3l9.4,-5.6 -9.3,-3.9 -9.4,5.5z" fill="#fa3c0d"/>
<path d="M1591.5,186.6l9.2,-4.8 -9.4,-5.3 -9.3,4.7z" fill="#fa380d"/>
<path d="M1741.2,221.1l8.8,-3.8 -9.7,-8.6 -8.8,3.6z" fill="#fa7f0d"/>
<path d="M1535.3,187.1l9.4,-5.4 -9.3,-4.2 -9.4,5.2z" fill="#fa390d"/>
<path d="M1572.8,186.3l9.2,-5.1 -9.4,-4.9 -9.2,4.9z" fill="#fa370d"/>
<path d="M1554,186.4l9.4,-5.2 -9.4,-4.6 -9.3,5.1z" fill="#fa370d"/>
<path d="M1319.8,245.3l9.8,-8 -8.6,-1.2 -9.8,7.8z" fill="#fab90d"/>
<path d="M1366.6,225.7l9.8,-7.4 -8.8,-1.8 -9.7,7.3z" fill="#fa8e0d"/>
<path d="M1432.2,205l9.6,-6.6 -9,-2.7 -9.6,6.5z" fill="#fa610d"/>
<path d="M1675.8,200.7l9,-4.3 -9.6,-7.1 -9,4.1z" fill="#fa530d"/>
<path d="M1769.4,235.9l8.7,-3.7 -9.7,-9.5 -8.7,3.7z" fill="#fa9d0d"/>
<path d="M1722.7,216.4l8.8,-4.1 -9.7,-8.2 -8.8,3.8z" fill="#fa740d"/>
<path d="M1450.9,201.5l9.6,-6.4 -9.1,-3 -9.6,6.3z" fill="#fa580d"/>
<path d="M1657.2,197.9l9,-4.5 -9.6,-6.8 -9,4.3z" fill="#fa4d0d"/>
<path d="M1385.2,220.6l9.7,-7.2 -8.8,-2.2 -9.7,7.1z" fill="#fa820d"/>
<path d="M1338.3,239.1l9.8,-7.8 -8.7,-1.6 -9.8,7.6z" fill="#faaa0d"/>
<path d="M1469.6,198.6l9.5,-6.3 -9.1,-3.3 -9.5,6.1z" fill="#fa510d"/>
<path d="M1638.5,195.6l9.1,-4.7 -9.6,-6.4 -9.1,4.5z" fill="#fa480d"/>
<path d="M1751,230.3l8.7,-3.9 -9.7,-9.1 -8.8,3.8z" fill="#fa900d"/>
<path d="M1704.1,212.2l8.9,-4.3 -9.7,-7.9 -8.9,4z" fill="#fa6a0d"/>
<path d="M1403.8,216l9.7,-7.1 -8.9,-2.4 -9.7,6.9z" fill="#fa760d"/>
<path d="M1488.3,196.2l9.5,-6.1 -9.1,-3.7 -9.6,5.9z" fill="#fa4b0d"/>
<path d="M1619.7,193.8l9.2,-4.8 -9.5,-6.2 -9.2,4.7z" fill="#fa440d"/>
<path d="M1309.9,253.6l9.9,-8.3 -8.6,-1.4 -9.9,8.1z" fill="#fac80d"/>
<path d="M1779.2,246l8.6,-4 -9.7,-9.8 -8.7,3.7z" fill="#fab00d"/>
<path d="M1507.1,194.3l9.5,-6 -9.3,-4 -9.5,5.8z" fill="#fa460d"/>
<path d="M1601,192.6l9.2,-5.1 -9.5,-5.7 -9.2,4.8z" fill="#fa410d"/>
<path d="M1356.8,233.4l9.8,-7.7 -8.7,-1.9 -9.8,7.5z" fill="#fa9c0d"/>
<path d="M1525.9,192.9l9.4,-5.8 -9.3,-4.4 -9.4,5.6z" fill="#fa420d"/>
<path d="M1582.2,191.9l9.3,-5.3 -9.5,-5.4 -9.2,5.1z" fill="#fa3f0d"/>
<path d="M1685.5,208.5l8.9,-4.5 -9.6,-7.6 -9,4.3z" fill="#fa610d"/>
<path d="M1544.7,192l9.3,-5.6 -9.3,-4.7 -9.4,5.4z" fill="#fa400d"/>
<path d="M1563.4,191.7l9.4,-5.4 -9.4,-5.1 -9.4,5.2z" fill="#fa3f0d"/>
<path d="M1422.5,211.9l9.7,-6.9 -9,-2.8 -9.7,6.7z" fill="#fa6c0d"/>
<path d="M1732.4,225.3l8.8,-4.2 -9.7,-8.8 -8.8,4.1z" fill="#fa840d"/>
<path d="M1666.8,205.3l9,-4.6 -9.6,-7.3 -9,4.5z" fill="#fa5a0d"/>
<path d="M1375.4,228.2l9.8,-7.6 -8.8,-2.3 -9.8,7.4z" fill="#fa8f0d"/>
<path d="M1328.4,247.2l9.9,-8.1 -8.7,-1.8 -9.8,8z" fill="#fab80d"/>
<path d="M1441.2,208.3l9.7,-6.8 -9.1,-3.1 -9.6,6.6z" fill="#fa630d"/>
<path d="M1760.7,240.1l8.7,-4.2 -9.7,-9.5 -8.7,3.9z" fill="#faa20d"/>
<path d="M1713.8,220.7l8.9,-4.3 -9.7,-8.5 -8.9,4.3z" fill="#fa790d"/>
<path d="M1648.1,202.7l9.1,-4.8 -9.6,-7 -9.1,4.7z" fill="#fa540d"/>
<path d="M1460,205.2l9.6,-6.6 -9.1,-3.5 -9.6,6.4z" fill="#fa5c0d"/>
<path d="M1394.1,223.4l9.7,-7.4 -8.9,-2.6 -9.7,7.2z" fill="#fa830d"/>
<path d="M1629.3,200.6l9.2,-5 -9.6,-6.6 -9.2,4.8z" fill="#fa4f0d"/>
<path d="M1478.8,202.6l9.5,-6.4 -9.2,-3.9 -9.5,6.3z" fill="#fa550d"/>
<path d="M1347,241.4l9.8,-8 -8.7,-2.1 -9.8,7.8z" fill="#faaa0d"/>
<path d="M1742.1,234.7l8.9,-4.4 -9.8,-9.2 -8.8,4.2z" fill="#fa950d"/>
<path d="M1695.1,216.7l9,-4.5 -9.7,-8.2 -8.9,4.5z" fill="#fa700d"/>
<path d="M1610.5,199l9.2,-5.2 -9.5,-6.3 -9.2,5.1z" fill="#fa4b0d"/>
<path d="M1497.6,200.6l9.5,-6.3 -9.3,-4.2 -9.5,6.1z" fill="#fa500d"/>
<path d="M1591.7,197.9l9.3,-5.3 -9.5,-6 -9.3,5.3z" fill="#fa490d"/>
<path d="M1516.4,199l9.5,-6.1 -9.3,-4.6 -9.5,6z" fill="#fa4c0d"/>
<path d="M1412.8,219.2l9.7,-7.3 -9,-3 -9.7,7.1z" fill="#fa790d"/>
<path d="M1770.4,250.2l8.8,-4.2 -9.8,-10.1 -8.7,4.2z" fill="#fab50d"/>
<path d="M1572.9,197.4l9.3,-5.5 -9.4,-5.6 -9.4,5.4z" fill="#fa480d"/>
<path d="M1535.2,197.9l9.5,-5.9 -9.4,-4.9 -9.4,5.8z" fill="#fa4a0d"/>
<path d="M1554.1,197.4l9.3,-5.7 -9.4,-5.3 -9.3,5.6z" fill="#fa480d"/>
<path d="M1676.4,213.2l9.1,-4.7 -9.7,-7.8 -9,4.6z" fill="#fa680d"/>
<path d="M1318.5,255.7l9.9,-8.5 -8.6,-1.9 -9.9,8.3z" fill="#fac70d"/>
<path d="M1365.6,236l9.8,-7.8 -8.8,-2.5 -9.8,7.7z" fill="#fa9d0d"/>
<path d="M1723.5,229.8l8.9,-4.5 -9.7,-8.9 -8.9,4.3z" fill="#fa8a0d"/>
<path d="M1431.6,215.4l9.6,-7.1 -9,-3.3 -9.7,6.9z" fill="#fa6f0d"/>
<path d="M1657.7,210.3l9.1,-5 -9.6,-7.4 -9.1,4.8z" fill="#fa610d"/>
<path d="M1751.9,244.5l8.8,-4.4 -9.7,-9.8 -8.9,4.4z" fill="#faa80d"/>
<path d="M1450.4,212.1l9.6,-6.9 -9.1,-3.7 -9.7,6.8z" fill="#fa670d"/>
<path d="M1384.3,231.1l9.8,-7.7 -8.9,-2.8 -9.8,7.6z" fill="#fa910d"/>
<path d="M1704.8,225.5l9,-4.8 -9.7,-8.5 -9,4.5z" fill="#fa7f0d"/>
<path d="M1638.9,207.8l9.2,-5.1 -9.6,-7.1 -9.2,5z" fill="#fa5b0d"/>
<path d="M1337.1,249.7l9.9,-8.3 -8.7,-2.3 -9.9,8.1z" fill="#fab90d"/>
<path d="M1469.2,209.4l9.6,-6.8 -9.2,-4 -9.6,6.6z" fill="#fa610d"/>
<path d="M1620.1,205.9l9.2,-5.3 -9.6,-6.8 -9.2,5.2z" fill="#fa570d"/>
<path d="M1488,207.1l9.6,-6.5 -9.3,-4.4 -9.5,6.4z" fill="#fa5b0d"/>
<path d="M1403.1,226.7l9.7,-7.5 -9,-3.2 -9.7,7.4z" fill="#fa860d"/>
<path d="M1601.2,204.5l9.3,-5.5 -9.5,-6.4 -9.3,5.3z" fill="#fa540d"/>
<path d="M1686.1,221.7l9,-5 -9.6,-8.2 -9.1,4.7z" fill="#fa770d"/>
<path d="M1733.2,239.4l8.9,-4.7 -9.7,-9.4 -8.9,4.5z" fill="#fa9b0d"/>
<path d="M1506.9,205.4l9.5,-6.4 -9.3,-4.7 -9.5,6.3z" fill="#fa570d"/>
<path d="M1582.4,203.7l9.3,-5.8 -9.5,-6 -9.3,5.5z" fill="#fa520d"/>
<path d="M1355.8,244.2l9.8,-8.2 -8.8,-2.6 -9.8,8z" fill="#faab0d"/>
<path d="M1525.8,204.2l9.4,-6.3 -9.3,-5 -9.5,6.1z" fill="#fa540d"/>
<path d="M1563.5,203.3l9.4,-5.9 -9.5,-5.7 -9.3,5.7z" fill="#fa510d"/>
<path d="M1544.6,203.5l9.5,-6.1 -9.4,-5.4 -9.5,5.9z" fill="#fa520d"/>
<path d="M1761.6,254.9l8.8,-4.7 -9.7,-10.1 -8.8,4.4z" fill="#fabb0d"/>
<path d="M1421.9,222.8l9.7,-7.4 -9.1,-3.5 -9.7,7.3z" fill="#fa7c0d"/>
<path d="M1667.3,218.4l9.1,-5.2 -9.6,-7.9 -9.1,5z" fill="#fa6f0d"/>
<path d="M1714.6,234.7l8.9,-4.9 -9.7,-9.1 -9,4.8z" fill="#fa900d"/>
<path d="M1374.5,239.1l9.8,-8 -8.9,-2.9 -9.8,7.8z" fill="#fa9f0d"/>
<path d="M1440.7,219.4l9.7,-7.3 -9.2,-3.8 -9.6,7.1z" fill="#fa740d"/>
<path d="M1327.3,258.3l9.8,-8.6 -8.7,-2.5 -9.9,8.5z" fill="#fac80d"/>
<path d="M1648.5,215.6l9.2,-5.3 -9.6,-7.6 -9.2,5.1z" fill="#fa680d"/>
<path d="M1743,249.4l8.9,-4.9 -9.8,-9.8 -8.9,4.7z" fill="#faae0d"/>
<path d="M1459.6,216.5l9.6,-7.1 -9.2,-4.2 -9.6,6.9z" fill="#fa6d0d"/>
<path d="M1629.7,213.3l9.2,-5.5 -9.6,-7.2 -9.2,5.3z" fill="#fa630d"/>
<path d="M1695.8,230.6l9,-5.1 -9.7,-8.8 -9,5z" fill="#fa870d"/>
<path d="M1393.3,234.6l9.8,-7.9 -9,-3.3 -9.8,7.7z" fill="#fa940d"/>
<path d="M1478.4,214.1l9.6,-7 -9.2,-4.5 -9.6,6.8z" fill="#fa670d"/>
<path d="M1610.8,211.6l9.3,-5.7 -9.6,-6.9 -9.3,5.5z" fill="#fa5f0d"/>
<path d="M1346,252.6l9.8,-8.4 -8.8,-2.8 -9.9,8.3z" fill="#faba0d"/>
<path d="M1497.3,212.2l9.6,-6.8 -9.3,-4.8 -9.6,6.5z" fill="#fa620d"/>
<path d="M1591.9,210.4l9.3,-5.9 -9.5,-6.6 -9.3,5.8z" fill="#fa5d0d"/>
<path d="M1677,226.9l9.1,-5.2 -9.7,-8.5 -9.1,5.2z" fill="#fa7e0d"/>
<path d="M1516.2,210.8l9.6,-6.6 -9.4,-5.2 -9.5,6.4z" fill="#fa5e0d"/>
<path d="M1573,209.7l9.4,-6 -9.5,-6.3 -9.4,5.9z" fill="#fa5b0d"/>
<path d="M1724.3,244.4l8.9,-5 -9.7,-9.6 -8.9,4.9z" fill="#faa20d"/>
<path d="M1412.1,230.5l9.8,-7.7 -9.1,-3.6 -9.7,7.5z" fill="#fa8a0d"/>
<path d="M1535.2,209.9l9.4,-6.4 -9.4,-5.6 -9.4,6.3z" fill="#fa5c0d"/>
<path d="M1554.1,209.6l9.4,-6.3 -9.4,-5.9 -9.5,6.1z" fill="#fa5b0d"/>
<path d="M1364.7,247.4l9.8,-8.3 -8.9,-3.1 -9.8,8.2z" fill="#faad0d"/>
<path d="M1752.8,259.9l8.8,-5 -9.7,-10.4 -8.9,4.9z" fill="#fac20d"/>
<path d="M1658.2,223.8l9.1,-5.4 -9.6,-8.1 -9.2,5.3z" fill="#fa770d"/>
<path d="M1431,227l9.7,-7.6 -9.1,-4 -9.7,7.4z" fill="#fa810d"/>
<path d="M1705.6,239.9l9,-5.2 -9.8,-9.2 -9,5.1z" fill="#fa980d"/>
<path d="M1639.3,221.2l9.2,-5.6 -9.6,-7.8 -9.2,5.5z" fill="#fa710d"/>
<path d="M1449.9,223.9l9.7,-7.4 -9.2,-4.4 -9.7,7.3z" fill="#fa790d"/>
<path d="M1383.5,242.8l9.8,-8.2 -9,-3.5 -9.8,8z" fill="#faa20d"/>
<path d="M1336.1,261.4l9.9,-8.8 -8.9,-2.9 -9.8,8.6z" fill="#faca0d"/>
<path d="M1620.4,219.2l9.3,-5.9 -9.6,-7.4 -9.3,5.7z" fill="#fa6c0d"/>
<path d="M1734.1,254.6l8.9,-5.2 -9.8,-10 -8.9,5z" fill="#fab50d"/>
<path d="M1468.8,221.3l9.6,-7.2 -9.2,-4.7 -9.6,7.1z" fill="#fa730d"/>
<path d="M1686.7,236l9.1,-5.4 -9.7,-8.9 -9.1,5.2z" fill="#fa8e0d"/>
<path d="M1601.5,217.6l9.3,-6 -9.6,-7.1 -9.3,5.9z" fill="#fa690d"/>
<path d="M1487.7,219.3l9.6,-7.1 -9.3,-5.1 -9.6,7z" fill="#fa6e0d"/>
<path d="M1402.3,238.6l9.8,-8.1 -9,-3.8 -9.8,7.9z" fill="#fa980d"/>
<path d="M1582.5,216.6l9.4,-6.2 -9.5,-6.7 -9.4,6z" fill="#fa670d"/>
<path d="M1506.7,217.7l9.5,-6.9 -9.3,-5.4 -9.6,6.8z" fill="#fa6a0d"/>
<path d="M1563.6,216.1l9.4,-6.4 -9.5,-6.4 -9.4,6.3z" fill="#fa660d"/>
<path d="M1525.7,216.7l9.5,-6.8 -9.4,-5.7 -9.6,6.6z" fill="#fa670d"/>
<path d="M1544.6,216.1l9.5,-6.5 -9.5,-6.1 -9.4,6.4z" fill="#fa660d"/>
<path d="M1667.9,232.6l9.1,-5.7 -9.7,-8.5 -9.1,5.4z" fill="#fa860d"/>
<path d="M1354.8,256.1l9.9,-8.7 -8.9,-3.2 -9.8,8.4z" fill="#fabd0d"/>
<path d="M1715.3,249.8l9,-5.4 -9.7,-9.7 -9,5.2z" fill="#faaa0d"/>
<path d="M1421.2,234.8l9.8,-7.8 -9.1,-4.2 -9.8,7.7z" fill="#fa8f0d"/>
<path d="M1649,229.6l9.2,-5.8 -9.7,-8.2 -9.2,5.6z" fill="#fa800d"/>
<path d="M1743.8,265.2l9,-5.3 -9.8,-10.5 -8.9,5.2z" fill="#fac90d"/>
<path d="M1440.2,231.6l9.7,-7.7 -9.2,-4.5 -9.7,7.6z" fill="#fa870d"/>
<path d="M1373.7,251.2l9.8,-8.4 -9,-3.7 -9.8,8.3z" fill="#fab10d"/>
<path d="M1696.5,245.5l9.1,-5.6 -9.8,-9.3 -9.1,5.4z" fill="#faa00d"/>
<path d="M1630.1,227.3l9.2,-6.1 -9.6,-7.9 -9.3,5.9z" fill="#fa7a0d"/>
<path d="M1459.1,228.9l9.7,-7.6 -9.2,-4.8 -9.7,7.4z" fill="#fa800d"/>
<path d="M1611.1,225.4l9.3,-6.2 -9.6,-7.6 -9.3,6z" fill="#fa760d"/>
<path d="M1392.5,246.9l9.8,-8.3 -9,-4 -9.8,8.2z" fill="#faa60d"/>
<path d="M1478.1,226.7l9.6,-7.4 -9.3,-5.2 -9.6,7.2z" fill="#fa7b0d"/>
<path d="M1725.1,260.1l9,-5.5 -9.8,-10.2 -9,5.4z" fill="#fabd0d"/>
<path d="M1677.6,241.8l9.1,-5.8 -9.7,-9.1 -9.1,5.7z" fill="#fa970d"/>
<path d="M1592.1,224l9.4,-6.4 -9.6,-7.2 -9.4,6.2z" fill="#fa730d"/>
<path d="M1344.9,265l9.9,-8.9 -8.8,-3.5 -9.9,8.8z" fill="#facd0d"/>
<path d="M1497.1,225l9.6,-7.3 -9.4,-5.5 -9.6,7.1z" fill="#fa760d"/>
<path d="M1573.1,223.2l9.4,-6.6 -9.5,-6.9 -9.4,6.4z" fill="#fa710d"/>
<path d="M1516.1,223.7l9.6,-7 -9.5,-5.9 -9.5,6.9z" fill="#fa730d"/>
<path d="M1554.1,222.9l9.5,-6.8 -9.5,-6.5 -9.5,6.5z" fill="#fa710d"/>
<path d="M1535.1,223l9.5,-6.9 -9.4,-6.2 -9.5,6.8z" fill="#fa710d"/>
<path d="M1411.5,243l9.7,-8.2 -9.1,-4.3 -9.8,8.1z" fill="#fa9d0d"/>
<path d="M1658.7,238.5l9.2,-5.9 -9.7,-8.8 -9.2,5.8z" fill="#fa900d"/>
<path d="M1706.2,255.5l9.1,-5.7 -9.7,-9.9 -9.1,5.6z" fill="#fab20d"/>
<path d="M1363.8,260l9.9,-8.8 -9,-3.8 -9.9,8.7z" fill="#fac10d"/>
<path d="M1430.4,239.7l9.8,-8.1 -9.2,-4.6 -9.8,7.8z" fill="#fa950d"/>
<path d="M1639.7,235.8l9.3,-6.2 -9.7,-8.4 -9.2,6.1z" fill="#fa890d"/>
<path d="M1734.8,270.9l9,-5.7 -9.7,-10.6 -9,5.5z" fill="#fad10d"/>
<path d="M1449.4,236.8l9.7,-7.9 -9.2,-5 -9.7,7.7z" fill="#fa8e0d"/>
<path d="M1687.3,251.5l9.2,-6 -9.8,-9.5 -9.1,5.8z" fill="#faa90d"/>
<path d="M1620.8,233.6l9.3,-6.3 -9.7,-8.1 -9.3,6.2z" fill="#fa840d"/>
<path d="M1382.7,255.6l9.8,-8.7 -9,-4.1 -9.8,8.4z" fill="#fab60d"/>
<path d="M1468.4,234.4l9.7,-7.7 -9.3,-5.4 -9.7,7.6z" fill="#fa880d"/>
<path d="M1601.7,231.9l9.4,-6.5 -9.6,-7.8 -9.4,6.4z" fill="#fa800d"/>
<path d="M1487.4,232.5l9.7,-7.5 -9.4,-5.7 -9.6,7.4z" fill="#fa830d"/>
<path d="M1582.7,230.7l9.4,-6.7 -9.6,-7.4 -9.4,6.6z" fill="#fa7e0d"/>
<path d="M1716,266l9.1,-5.9 -9.8,-10.3 -9.1,5.7z" fill="#fac60d"/>
<path d="M1668.4,247.9l9.2,-6.1 -9.7,-9.2 -9.2,5.9z" fill="#faa10d"/>
<path d="M1506.5,231.2l9.6,-7.5 -9.4,-6 -9.6,7.3z" fill="#fa800d"/>
<path d="M1401.6,251.5l9.9,-8.5 -9.2,-4.4 -9.8,8.3z" fill="#faac0d"/>
<path d="M1563.7,230.1l9.4,-6.9 -9.5,-7.1 -9.5,6.8z" fill="#fa7c0d"/>
<path d="M1525.5,230.3l9.6,-7.3 -9.4,-6.3 -9.6,7z" fill="#fa7d0d"/>
<path d="M1544.6,229.9l9.5,-7 -9.5,-6.8 -9.5,6.9z" fill="#fa7c0d"/>
<path d="M1353.9,269.1l9.9,-9.1 -9,-3.9 -9.9,8.9z" fill="#fad10d"/>
<path d="M1649.4,244.9l9.3,-6.4 -9.7,-8.9 -9.3,6.2z" fill="#fa990d"/>
<path d="M1420.6,248l9.8,-8.3 -9.2,-4.9 -9.7,8.2z" fill="#faa30d"/>
<path d="M1697.1,261.6l9.1,-6.1 -9.7,-10 -9.2,6z" fill="#fabc0d"/>
<path d="M1630.4,242.3l9.3,-6.5 -9.6,-8.5 -9.3,6.3z" fill="#fa940d"/>
<path d="M1439.6,245l9.8,-8.2 -9.2,-5.2 -9.8,8.1z" fill="#fa9c0d"/>
<path d="M1372.8,264.5l9.9,-8.9 -9,-4.4 -9.9,8.8z" fill="#fac60d"/>
<path d="M1725.8,277l9,-6.1 -9.7,-10.8 -9.1,5.9z" fill="#fadb0d"/>
<path d="M1611.4,240.3l9.4,-6.7 -9.7,-8.2 -9.4,6.5z" fill="#fa8f0d"/>
<path d="M1458.7,242.5l9.7,-8.1 -9.3,-5.5 -9.7,7.9z" fill="#fa960d"/>
<path d="M1678.2,257.8l9.1,-6.3 -9.7,-9.7 -9.2,6.1z" fill="#fab30d"/>
<path d="M1592.3,238.8l9.4,-6.9 -9.6,-7.9 -9.4,6.7z" fill="#fa8c0d"/>
<path d="M1477.8,240.4l9.6,-7.9 -9.3,-5.8 -9.7,7.7z" fill="#fa910d"/>
<path d="M1391.8,260.4l9.8,-8.9 -9.1,-4.6 -9.8,8.7z" fill="#fabc0d"/>
<path d="M1573.2,237.8l9.5,-7.1 -9.6,-7.5 -9.4,6.9z" fill="#fa890d"/>
<path d="M1496.8,238.9l9.7,-7.7 -9.4,-6.2 -9.7,7.5z" fill="#fa8d0d"/>
<path d="M1554.1,237.3l9.6,-7.2 -9.6,-7.2 -9.5,7z" fill="#fa880d"/>
<path d="M1515.9,237.9l9.6,-7.6 -9.4,-6.6 -9.6,7.5z" fill="#fa8a0d"/>
<path d="M1659.2,254.4l9.2,-6.5 -9.7,-9.4 -9.3,6.4z" fill="#faab0d"/>
<path d="M1706.9,272.3l9.1,-6.3 -9.8,-10.5 -9.1,6.1z" fill="#facf0d"/>
<path d="M1535,237.3l9.6,-7.4 -9.5,-6.9 -9.6,7.3z" fill="#fa890d"/>
<path d="M1410.8,256.7l9.8,-8.7 -9.1,-5 -9.9,8.5z" fill="#fab30d"/>
<path d="M1640.1,251.5l9.3,-6.6 -9.7,-9.1 -9.3,6.5z" fill="#faa40d"/>
<path d="M1362.9,273.8l9.9,-9.3 -9,-4.5 -9.9,9.1z" fill="#fad70d"/>
<path d="M1429.8,253.5l9.8,-8.5 -9.2,-5.3 -9.8,8.3z" fill="#faab0d"/>
<path d="M1687.9,268.1l9.2,-6.5 -9.8,-10.1 -9.1,6.3z" fill="#fac60d"/>
<path d="M1621.1,249.2l9.3,-6.9 -9.6,-8.7 -9.4,6.7z" fill="#fa9f0d"/>
<path d="M1448.9,250.8l9.8,-8.3 -9.3,-5.7 -9.8,8.2z" fill="#faa40d"/>
<path d="M1716.7,283.4l9.1,-6.4 -9.8,-11 -9.1,6.3z" fill="#fae40d"/>
<path d="M1602,247.3l9.4,-7 -9.7,-8.4 -9.4,6.9z" fill="#fa9a0d"/>
<path d="M1381.9,269.5l9.9,-9.1 -9.1,-4.8 -9.9,8.9z" fill="#facc0d"/>
<path d="M1668.9,264.4l9.3,-6.6 -9.8,-9.9 -9.2,6.5z" fill="#fabd0d"/>
<path d="M1468,248.6l9.8,-8.2 -9.4,-6 -9.7,8.1z" fill="#fa9f0d"/>
<path d="M1582.9,246l9.4,-7.2 -9.6,-8.1 -9.5,7.1z" fill="#fa980d"/>
<path d="M1487.2,247l9.6,-8.1 -9.4,-6.4 -9.6,7.9z" fill="#fa9b0d"/>
<path d="M1563.7,245.2l9.5,-7.4 -9.5,-7.7 -9.6,7.2z" fill="#fa960d"/>
<path d="M1506.3,245.8l9.6,-7.9 -9.4,-6.7 -9.7,7.7z" fill="#fa980d"/>
<path d="M1544.6,244.9l9.5,-7.6 -9.5,-7.4 -9.6,7.4z" fill="#fa950d"/>
<path d="M1525.4,245.1l9.6,-7.8 -9.5,-7 -9.6,7.6z" fill="#fa960d"/>
<path d="M1400.9,265.7l9.9,-9 -9.2,-5.2 -9.8,8.9z" fill="#fac30d"/>
<path d="M1649.9,261.2l9.3,-6.8 -9.8,-9.5 -9.3,6.6z" fill="#fab60d"/>
<path d="M1697.7,278.9l9.2,-6.6 -9.8,-10.7 -9.2,6.5z" fill="#fada0d"/>
<path d="M1420,262.4l9.8,-8.9 -9.2,-5.5 -9.8,8.7z" fill="#fabb0d"/>
<path d="M1630.8,258.5l9.3,-7 -9.7,-9.2 -9.3,6.9z" fill="#faaf0d"/>
<path d="M1678.7,274.9l9.2,-6.8 -9.7,-10.3 -9.3,6.6z" fill="#fad00d"/>
<path d="M1439.1,259.5l9.8,-8.7 -9.3,-5.8 -9.8,8.5z" fill="#fab40d"/>
<path d="M1611.7,256.4l9.4,-7.2 -9.7,-8.9 -9.4,7z" fill="#faaa0d"/>
<path d="M1372,278.9l9.9,-9.4 -9.1,-5 -9.9,9.3z" fill="#fadd0d"/>
<path d="M1458.3,257.2l9.7,-8.6 -9.3,-6.1 -9.8,8.3z" fill="#faae0d"/>
<path d="M1592.5,254.7l9.5,-7.4 -9.7,-8.5 -9.4,7.2z" fill="#faa70d"/>
<path d="M1707.5,290.2l9.2,-6.8 -9.8,-11.1 -9.2,6.6z" fill="#faef0d"/>
<path d="M1659.6,271.4l9.3,-7 -9.7,-10 -9.3,6.8z" fill="#fac80d"/>
<path d="M1477.4,255.3l9.8,-8.3 -9.4,-6.6 -9.8,8.2z" fill="#faa90d"/>
<path d="M1573.3,253.5l9.6,-7.5 -9.7,-8.2 -9.5,7.4z" fill="#faa40d"/>
<path d="M1391.1,275l9.8,-9.3 -9.1,-5.3 -9.9,9.1z" fill="#fad40d"/>
<path d="M1496.6,254l9.7,-8.2 -9.5,-6.9 -9.6,8.1z" fill="#faa60d"/>
<path d="M1554.2,252.9l9.5,-7.7 -9.6,-7.9 -9.5,7.6z" fill="#faa30d"/>
<path d="M1515.8,253.1l9.6,-8 -9.5,-7.2 -9.6,7.9z" fill="#faa40d"/>
<path d="M1535,252.8l9.6,-7.9 -9.6,-7.6 -9.6,7.8z" fill="#faa30d"/>
<path d="M1640.5,268.4l9.4,-7.2 -9.8,-9.7 -9.3,7z" fill="#fac10d"/>
<path d="M1410.2,271.5l9.8,-9.1 -9.2,-5.7 -9.9,9z" fill="#facb0d"/>
<path d="M1688.5,285.8l9.2,-6.9 -9.8,-10.8 -9.2,6.8z" fill="#fae50d"/>
<path d="M1621.4,265.9l9.4,-7.4 -9.7,-9.3 -9.4,7.2z" fill="#fabb0d"/>
<path d="M1429.3,268.5l9.8,-9 -9.3,-6 -9.8,8.9z" fill="#fac40d"/>
<path d="M1669.4,282l9.3,-7.1 -9.8,-10.5 -9.3,7z" fill="#fadc0d"/>
<path d="M1602.2,263.9l9.5,-7.5 -9.7,-9.1 -9.5,7.4z" fill="#fab70d"/>
<path d="M1448.5,266l9.8,-8.8 -9.4,-6.4 -9.8,8.7z" fill="#fabe0d"/>
<path d="M1381.1,284.6l10,-9.6 -9.2,-5.5 -9.9,9.4z" fill="#fae50d"/>
<path d="M1583,262.4l9.5,-7.7 -9.6,-8.7 -9.6,7.5z" fill="#fab40d"/>
<path d="M1467.7,264l9.7,-8.7 -9.4,-6.7 -9.7,8.6z" fill="#fab90d"/>
<path d="M1698.3,297.3l9.2,-7.1 -9.8,-11.3 -9.2,6.9z" fill="#f4f50d"/>
<path d="M1563.8,261.4l9.5,-7.9 -9.6,-8.3 -9.5,7.7z" fill="#fab20d"/>
<path d="M1486.9,262.5l9.7,-8.5 -9.4,-7 -9.8,8.3z" fill="#fab50d"/>
<path d="M1650.3,278.7l9.3,-7.3 -9.7,-10.2 -9.4,7.2z" fill="#fad40d"/>
<path d="M1544.6,261l9.6,-8.1 -9.6,-8 -9.6,7.9z" fill="#fab10d"/>
<path d="M1506.1,261.5l9.7,-8.4 -9.5,-7.3 -9.7,8.2z" fill="#fab20d"/>
<path d="M1525.3,261l9.7,-8.2 -9.6,-7.7 -9.6,8z" fill="#fab10d"/>
<path d="M1400.3,281l9.9,-9.5 -9.3,-5.8 -9.8,9.3z" fill="#fadc0d"/>
<path d="M1631.1,275.9l9.4,-7.5 -9.7,-9.9 -9.4,7.4z" fill="#face0d"/>
<path d="M1679.2,293.1l9.3,-7.3 -9.8,-10.9 -9.3,7.1z" fill="#faf00d"/>
<path d="M1419.4,277.9l9.9,-9.4 -9.3,-6.1 -9.8,9.1z" fill="#fad50d"/>
<path d="M1611.9,273.6l9.5,-7.7 -9.7,-9.5 -9.5,7.5z" fill="#fac80d"/>
<path d="M1438.6,275.2l9.9,-9.2 -9.4,-6.5 -9.8,9z" fill="#face0d"/>
<path d="M1592.7,271.8l9.5,-7.9 -9.7,-9.2 -9.5,7.7z" fill="#fac40d"/>
<path d="M1660.1,289.5l9.3,-7.5 -9.8,-10.6 -9.3,7.3z" fill="#fae80d"/>
<path d="M1457.9,273.1l9.8,-9.1 -9.4,-6.8 -9.8,8.8z" fill="#fac90d"/>
<path d="M1573.4,270.5l9.6,-8.1 -9.7,-8.9 -9.5,7.9z" fill="#fac10d"/>
<path d="M1477.1,271.4l9.8,-8.9 -9.5,-7.2 -9.7,8.7z" fill="#fac50d"/>
<path d="M1554.2,269.7l9.6,-8.3 -9.6,-8.5 -9.6,8.1z" fill="#fac00d"/>
<path d="M1496.4,270.2l9.7,-8.7 -9.5,-7.5 -9.7,8.5z" fill="#fac20d"/>
<path d="M1390.3,290.8l10,-9.8 -9.2,-6 -10,9.6z" fill="#faee0d"/>
<path d="M1534.9,269.3l9.7,-8.3 -9.6,-8.2 -9.7,8.2z" fill="#fabf0d"/>
<path d="M1689,304.7l9.3,-7.4 -9.8,-11.5 -9.3,7.3z" fill="#e8f50d"/>
<path d="M1515.6,269.5l9.7,-8.5 -9.5,-7.9 -9.7,8.4z" fill="#fac00d"/>
<path d="M1640.9,286.4l9.4,-7.7 -9.8,-10.3 -9.4,7.5z" fill="#fae10d"/>
<path d="M1409.5,287.5l9.9,-9.6 -9.2,-6.4 -9.9,9.5z" fill="#fae60d"/>
<path d="M1621.7,283.7l9.4,-7.8 -9.7,-10 -9.5,7.7z" fill="#fadb0d"/>
<path d="M1669.9,300.8l9.3,-7.7 -9.8,-11.1 -9.3,7.5z" fill="#f2f50d"/>
<path d="M1428.8,284.7l9.8,-9.5 -9.3,-6.7 -9.9,9.4z" fill="#fadf0d"/>
<path d="M1602.4,281.6l9.5,-8 -9.7,-9.7 -9.5,7.9z" fill="#fad60d"/>
<path d="M1448,282.4l9.9,-9.3 -9.4,-7.1 -9.9,9.2z" fill="#fad90d"/>
<path d="M1583.1,280l9.6,-8.2 -9.7,-9.4 -9.6,8.1z" fill="#fad20d"/>
<path d="M1650.7,297.3l9.4,-7.8 -9.8,-10.8 -9.4,7.7z" fill="#faf50d"/>
<path d="M1467.3,280.6l9.8,-9.2 -9.4,-7.4 -9.8,9.1z" fill="#fad50d"/>
<path d="M1563.8,278.8l9.6,-8.3 -9.6,-9.1 -9.6,8.3z" fill="#fad00d"/>
<path d="M1486.6,279.3l9.8,-9.1 -9.5,-7.7 -9.8,8.9z" fill="#fad10d"/>
<path d="M1544.5,278.2l9.7,-8.5 -9.6,-8.7 -9.7,8.3z" fill="#face0d"/>
<path d="M1505.9,278.4l9.7,-8.9 -9.5,-8 -9.7,8.7z" fill="#facf0d"/>
<path d="M1525.2,278.1l9.7,-8.8 -9.6,-8.3 -9.7,8.5z" fill="#face0d"/>
<path d="M1631.4,294.4l9.5,-8 -9.8,-10.5 -9.4,7.8z" fill="#faee0d"/>
<path d="M1679.7,312.5l9.3,-7.8 -9.8,-11.6 -9.3,7.7z" fill="#dbf50d"/>
<path d="M1399.6,297.4l9.9,-9.9 -9.2,-6.5 -10,9.8z" fill="#f7f50d"/>
<path d="M1612.1,291.9l9.6,-8.2 -9.8,-10.1 -9.5,8z" fill="#fae90d"/>
<path d="M1418.9,294.5l9.9,-9.8 -9.4,-6.8 -9.9,9.6z" fill="#faf10d"/>
<path d="M1660.5,308.8l9.4,-8 -9.8,-11.3 -9.4,7.8z" fill="#e4f50d"/>
<path d="M1592.9,290l9.5,-8.4 -9.7,-9.8 -9.6,8.2z" fill="#fae40d"/>
<path d="M1438.2,292.1l9.8,-9.7 -9.4,-7.2 -9.8,9.5z" fill="#faeb0d"/>
<path d="M1573.5,288.5l9.6,-8.5 -9.7,-9.5 -9.6,8.3z" fill="#fae10d"/>
<path d="M1457.5,290.1l9.8,-9.5 -9.4,-7.5 -9.9,9.3z" fill="#fae60d"/>
<path d="M1641.2,305.5l9.5,-8.2 -9.8,-10.9 -9.5,8z" fill="#ecf50d"/>
<path d="M1554.2,287.6l9.6,-8.8 -9.6,-9.1 -9.7,8.5z" fill="#fadf0d"/>
<path d="M1476.8,288.6l9.8,-9.3 -9.5,-7.9 -9.8,9.2z" fill="#fae20d"/>
<path d="M1534.8,287.1l9.7,-8.9 -9.6,-8.9 -9.7,8.8z" fill="#fade0d"/>
<path d="M1496.1,287.6l9.8,-9.2 -9.5,-8.2 -9.8,9.1z" fill="#fadf0d"/>
<path d="M1515.5,287.1l9.7,-9 -9.6,-8.6 -9.7,8.9z" fill="#fade0d"/>
<path d="M1621.9,302.7l9.5,-8.3 -9.7,-10.7 -9.6,8.2z" fill="#f2f50d"/>
<path d="M1670.3,320.7l9.4,-8.2 -9.8,-11.7 -9.4,8z" fill="#cdf50d"/>
<path d="M1408.9,304.6l10,-10.1 -9.4,-7 -9.9,9.9z" fill="#ebf50d"/>
<path d="M1602.6,300.5l9.5,-8.6 -9.7,-10.3 -9.5,8.4z" fill="#f8f50d"/>
<path d="M1428.3,302l9.9,-9.9 -9.4,-7.4 -9.9,9.8z" fill="#f2f50d"/>
<path d="M1651,317.1l9.5,-8.3 -9.8,-11.5 -9.5,8.2z" fill="#d6f50d"/>
<path d="M1583.3,298.7l9.6,-8.7 -9.8,-10 -9.6,8.5z" fill="#faf30d"/>
<path d="M1447.6,299.9l9.9,-9.8 -9.5,-7.7 -9.8,9.7z" fill="#f7f50d"/>
<path d="M1563.9,297.4l9.6,-8.9 -9.7,-9.7 -9.6,8.8z" fill="#faf00d"/>
<path d="M1467,298.3l9.8,-9.7 -9.5,-8 -9.8,9.5z" fill="#faf30d"/>
<path d="M1544.5,296.6l9.7,-9 -9.7,-9.4 -9.7,8.9z" fill="#faee0d"/>
<path d="M1631.7,314l9.5,-8.5 -9.8,-11.1 -9.5,8.3z" fill="#ddf50d"/>
<path d="M1486.3,297.1l9.8,-9.5 -9.5,-8.3 -9.8,9.3z" fill="#faf00d"/>
<path d="M1525.1,296.3l9.7,-9.2 -9.6,-9 -9.7,9z" fill="#faee0d"/>
<path d="M1505.7,296.5l9.8,-9.4 -9.6,-8.7 -9.8,9.2z" fill="#faef0d"/>
<path d="M1612.4,311.4l9.5,-8.7 -9.8,-10.8 -9.5,8.6z" fill="#e3f50d"/>
<path d="M1660.8,329.2l9.5,-8.5 -9.8,-11.9 -9.5,8.3z" fill="#bff50d"/>
<path d="M1418.3,312.3l10,-10.3 -9.4,-7.5 -10,10.1z" fill="#dff50d"/>
<path d="M1593,309.3l9.6,-8.8 -9.7,-10.5 -9.6,8.7z" fill="#e8f50d"/>
<path d="M1437.7,310l9.9,-10.1 -9.4,-7.8 -9.9,9.9z" fill="#e5f50d"/>
<path d="M1641.5,325.8l9.5,-8.7 -9.8,-11.6 -9.5,8.5z" fill="#c7f50d"/>
<path d="M1573.6,307.7l9.7,-9 -9.8,-10.2 -9.6,8.9z" fill="#ecf50d"/>
<path d="M1457.1,308.3l9.9,-10 -9.5,-8.2 -9.9,9.8z" fill="#e9f50d"/>
<path d="M1554.2,306.6l9.7,-9.2 -9.7,-9.8 -9.7,9z" fill="#eef50d"/>
<path d="M1476.5,307l9.8,-9.9 -9.5,-8.5 -9.8,9.7z" fill="#edf50d"/>
<path d="M1534.8,306l9.7,-9.4 -9.7,-9.5 -9.7,9.2z" fill="#f0f50d"/>
<path d="M1495.9,306.1l9.8,-9.6 -9.6,-8.9 -9.8,9.5z" fill="#eff50d"/>
<path d="M1515.4,305.8l9.7,-9.5 -9.6,-9.2 -9.8,9.4z" fill="#f0f50d"/>
<path d="M1622.2,322.9l9.5,-8.9 -9.8,-11.3 -9.5,8.7z" fill="#cef50d"/>
<path d="M1602.8,320.5l9.6,-9.1 -9.8,-10.9 -9.6,8.8z" fill="#d3f50d"/>
<path d="M1651.4,338l9.4,-8.8 -9.8,-12.1 -9.5,8.7z" fill="#aff50d"/>
<path d="M1583.4,318.5l9.6,-9.2 -9.7,-10.6 -9.7,9z" fill="#d8f50d"/>
<path d="M1427.8,320.5l9.9,-10.5 -9.4,-8 -10,10.3z" fill="#d1f50d"/>
<path d="M1563.9,317.1l9.7,-9.4 -9.7,-10.3 -9.7,9.2z" fill="#dbf50d"/>
<path d="M1447.2,318.6l9.9,-10.3 -9.5,-8.4 -9.9,10.1z" fill="#d6f50d"/>
<path d="M1632,334.8l9.5,-9 -9.8,-11.8 -9.5,8.9z" fill="#b7f50d"/>
<path d="M1544.5,316.1l9.7,-9.5 -9.7,-10 -9.7,9.4z" fill="#ddf50d"/>
<path d="M1466.6,317.1l9.9,-10.1 -9.5,-8.7 -9.9,10z" fill="#daf50d"/>
<path d="M1525,315.6l9.8,-9.6 -9.7,-9.7 -9.7,9.5z" fill="#def50d"/>
<path d="M1486.1,316.1l9.8,-10 -9.6,-9 -9.8,9.9z" fill="#ddf50d"/>
<path d="M1505.6,315.7l9.8,-9.9 -9.7,-9.3 -9.8,9.6z" fill="#def50d"/>
<path d="M1612.6,332.1l9.6,-9.2 -9.8,-11.5 -9.6,9.1z" fill="#bdf50d"/>
<path d="M1593.2,329.8l9.6,-9.3 -9.8,-11.2 -9.6,9.2z" fill="#c3f50d"/>
<path d="M1641.8,347.2l9.6,-9.2 -9.9,-12.2 -9.5,9z" fill="#9ff50d"/>
<path d="M1573.7,328l9.7,-9.5 -9.8,-10.8 -9.7,9.4z" fill="#c7f50d"/>
<path d="M1437.3,329.2l9.9,-10.6 -9.5,-8.6 -9.9,10.5z" fill="#c3f50d"/>
<path d="M1554.2,326.8l9.7,-9.7 -9.7,-10.5 -9.7,9.5z" fill="#caf50d"/>
<path d="M1456.7,327.6l9.9,-10.5 -9.5,-8.8 -9.9,10.3z" fill="#c7f50d"/>
<path d="M1622.4,344.1l9.6,-9.3 -9.8,-11.9 -9.6,9.2z" fill="#a7f50d"/>
<path d="M1534.7,326l9.8,-9.9 -9.7,-10.1 -9.8,9.6z" fill="#cbf50d"/>
<path d="M1476.2,326.5l9.9,-10.4 -9.6,-9.1 -9.9,10.1z" fill="#caf50d"/>
<path d="M1515.2,325.7l9.8,-10.1 -9.6,-9.8 -9.8,9.9z" fill="#ccf50d"/>
<path d="M1495.7,325.8l9.9,-10.1 -9.7,-9.6 -9.8,10z" fill="#cbf50d"/>
<path d="M1603,341.6l9.6,-9.5 -9.8,-11.6 -9.6,9.3z" fill="#adf50d"/>
<path d="M1583.5,339.5l9.7,-9.7 -9.8,-11.3 -9.7,9.5z" fill="#b1f50d"/>
<path d="M1632.3,356.7l9.5,-9.5 -9.8,-12.4 -9.6,9.3z" fill="#8ff50d"/>
<path d="M1564,337.9l9.7,-9.9 -9.8,-10.9 -9.7,9.7z" fill="#b5f50d"/>
<path d="M1446.8,338.4l9.9,-10.8 -9.5,-9 -9.9,10.6z" fill="#b3f50d"/>
<path d="M1544.5,336.8l9.7,-10 -9.7,-10.7 -9.8,9.9z" fill="#b8f50d"/>
<path d="M1466.3,337.1l9.9,-10.6 -9.6,-9.4 -9.9,10.5z" fill="#b6f50d"/>
<path d="M1524.9,336.1l9.8,-10.1 -9.7,-10.4 -9.8,10.1z" fill="#b9f50d"/>
<path d="M1612.8,353.8l9.6,-9.7 -9.8,-12 -9.6,9.5z" fill="#95f50d"/>
<path d="M1485.8,336.3l9.9,-10.5 -9.6,-9.7 -9.9,10.4z" fill="#b8f50d"/>
<path d="M1505.4,336l9.8,-10.3 -9.6,-10 -9.9,10.1z" fill="#b9f50d"/>
<path d="M1593.3,351.4l9.7,-9.8 -9.8,-11.8 -9.7,9.7z" fill="#9bf50d"/>
<path d="M1573.8,349.5l9.7,-10 -9.8,-11.5 -9.7,9.9z" fill="#9ff50d"/>
<path d="M1622.6,366.5l9.7,-9.8 -9.9,-12.6 -9.6,9.7z" fill="#7df50d"/>
<path d="M1554.2,348.1l9.8,-10.2 -9.8,-11.1 -9.7,10z" fill="#a3f50d"/>
<path d="M1534.7,347.1l9.8,-10.3 -9.8,-10.8 -9.8,10.1z" fill="#a5f50d"/>
<path d="M1456.4,348l9.9,-10.9 -9.6,-9.5 -9.9,10.8z" fill="#a2f50d"/>
<path d="M1515.1,346.6l9.8,-10.5 -9.7,-10.4 -9.8,10.3z" fill="#a6f50d"/>
<path d="M1475.9,347.1l9.9,-10.8 -9.6,-9.8 -9.9,10.6z" fill="#a4f50d"/>
<path d="M1495.5,346.6l9.9,-10.6 -9.7,-10.2 -9.9,10.5z" fill="#a6f50d"/>
<path d="M1603.1,363.8l9.7,-10 -9.8,-12.2 -9.7,9.8z" fill="#84f50d"/>
<path d="M1583.6,361.6l9.7,-10.2 -9.8,-11.9 -9.7,10z" fill="#89f50d"/>
<path d="M1564,359.8l9.8,-10.3 -9.8,-11.6 -9.8,10.2z" fill="#8df50d"/>
<path d="M1544.4,358.6l9.8,-10.5 -9.7,-11.3 -9.8,10.3z" fill="#90f50d"/>
<path d="M1613,376.6l9.6,-10.1 -9.8,-12.7 -9.7,10z" fill="#6bf50d"/>
<path d="M1524.8,357.8l9.9,-10.7 -9.8,-11 -9.8,10.5z" fill="#91f50d"/>
<path d="M1466,358.2l9.9,-11.1 -9.6,-10 -9.9,10.9z" fill="#90f50d"/>
<path d="M1505.2,357.4l9.9,-10.8 -9.7,-10.6 -9.9,10.6z" fill="#92f50d"/>
<path d="M1485.6,357.6l9.9,-11 -9.7,-10.3 -9.9,10.8z" fill="#91f50d"/>
<path d="M1593.4,374.1l9.7,-10.3 -9.8,-12.4 -9.7,10.2z" fill="#71f50d"/>
<path d="M1573.8,372.1l9.8,-10.5 -9.8,-12.1 -9.8,10.3z" fill="#76f50d"/>
<path d="M1554.2,370.5l9.8,-10.7 -9.8,-11.7 -9.8,10.5z" fill="#79f50d"/>
<path d="M1534.6,369.4l9.8,-10.8 -9.7,-11.5 -9.9,10.7z" fill="#7cf50d"/>
<path d="M1603.3,387.1l9.7,-10.5 -9.9,-12.8 -9.7,10.3z" fill="#58f50d"/>
<path d="M1515,368.7l9.8,-10.9 -9.7,-11.2 -9.9,10.8z" fill="#7df50d"/>
<path d="M1495.3,368.6l9.9,-11.2 -9.7,-10.8 -9.9,11z" fill="#7ef50d"/>
<path d="M1475.7,368.8l9.9,-11.2 -9.7,-10.5 -9.9,11.1z" fill="#7df50d"/>
<path d="M1583.7,384.8l9.7,-10.7 -9.8,-12.5 -9.8,10.5z" fill="#5ef50d"/>
<path d="M1564,382.9l9.8,-10.8 -9.8,-12.3 -9.8,10.7z" fill="#62f50d"/>
<path d="M1544.4,381.5l9.8,-11 -9.8,-11.9 -9.8,10.8z" fill="#65f50d"/>
<path d="M1524.7,380.5l9.9,-11.1 -9.8,-11.6 -9.8,10.9z" fill="#68f50d"/>
<path d="M1505.1,380l9.9,-11.3 -9.8,-11.3 -9.9,11.2z" fill="#69f50d"/>
<path d="M1593.5,397.9l9.8,-10.8 -9.9,-13 -9.7,10.7z" fill="#45f50d"/>
<path d="M1485.4,380l9.9,-11.4 -9.7,-11 -9.9,11.2z" fill="#68f50d"/>
<path d="M1573.9,395.7l9.8,-10.9 -9.9,-12.7 -9.8,10.8z" fill="#4af50d"/>
<path d="M1554.2,394l9.8,-11.1 -9.8,-12.4 -9.8,11z" fill="#4ef50d"/>
<path d="M1534.5,392.7l9.9,-11.2 -9.8,-12.1 -9.9,11.1z" fill="#51f50d"/>
<path d="M1514.8,391.9l9.9,-11.4 -9.7,-11.8 -9.9,11.3z" fill="#52f50d"/>
<path d="M1495.1,391.6l10,-11.6 -9.8,-11.4 -9.9,11.4z" fill="#53f50d"/>
<path d="M1583.8,409.1l9.7,-11.2 -9.8,-13.1 -9.8,10.9z" fill="#30f50d"/>
<path d="M1564.1,407l9.8,-11.3 -9.9,-12.8 -9.8,11.1z" fill="#35f50d"/>
<path d="M1544.4,405.5l9.8,-11.5 -9.8,-12.5 -9.9,11.2z" fill="#39f50d"/>
<path d="M1524.6,404.3l9.9,-11.6 -9.8,-12.2 -9.9,11.4z" fill="#3bf50d"/>
<path d="M1504.9,403.7l9.9,-11.8 -9.7,-11.9 -10,11.6z" fill="#3df50d"/>
<path d="M1573.9,420.5l9.9,-11.4 -9.9,-13.4 -9.8,11.3z" fill="#1bf50d"/>
<path d="M1554.2,418.6l9.9,-11.6 -9.9,-13 -9.8,11.5z" fill="#20f50d"/>
<path d="M1534.5,417.2l9.9,-11.7 -9.9,-12.8 -9.9,11.6z" fill="#23f50d"/>
<path d="M1514.7,416.2l9.9,-11.9 -9.8,-12.4 -9.9,11.8z" fill="#25f50d"/>
<path d="M1564.1,432.3l9.8,-11.8 -9.8,-13.5 -9.9,11.6z" fill="#08f50e"/>
<path d="M1544.3,430.5l9.9,-11.9 -9.8,-13.1 -9.9,11.7z" fill="#0af50d"/>
<path d="M1524.6,429.3l9.9,-12.1 -9.9,-12.9 -9.9,11.9z" fill="#0df50d"/>
<path d="M1554.2,444.3l9.9,-12 -9.9,-13.7 -9.9,11.9z" fill="#08f524"/>
<path d="M1534.4,442.8l9.9,-12.3 -9.8,-13.3 -9.9,12.1z" fill="#08f520"/>
<path d="M1544.3,456.7l9.9,-12.4 -9.9,-13.8 -9.9,12.3z" fill="#08f539"/>
</g>
<polyline points="1190.8,281.5 1193.8,277.9 1196.8,276 1199.8,273.8 1202.8,272 1205.8,270.1 1208.8,268.1 1211.8,266.3 1214.8,264.5 1217.8,262.5 1220.8,260.7 1223.8,258.9 1226.8,257 1229.8,255.2 1232.8,253.5 1235.8,251.6 1238.8,249.9 1241.8,248.2 1244.8,246.3 1247.8,244.7 1250.8,242.8 1253.8,241.2 1256.8,239.5 1259.8,237.7 1262.8,236.1 1265.8,234.5 1268.8,232.8 1271.8,231.2 1274.8,229.6 1277.8,227.9 1280.8,226.4 1283.8,224.8 1286.8,223.2 1289.8,221.7 1292.8,220.2 1295.8,218.6 1298.8,217.1 1301.8,215.6 1304.8,214.1 1307.8,212.7 1310.8,211.2 1313.8,209.7 1316.8,208.3 1319.8,206.9 1322.8,205.5 1325.8,204.1 1328.8,202.7 1331.8,201.3 1334.8,200 1337.8,198.7 1340.8,197.3 1343.8,196 1346.8,194.7 1349.8,193.4 1352.8,192.2 1355.8,190.9 1358.8,189.7 1361.8,188.4 1364.8,187.2 1367.8,186 1370.8,184.9 1373.8,183.7 1376.8,182.5 1379.8,181.4 1382.8,180.2 1385.8,179.1 1388.8,177.9 1391.8,176.9 1394.8,175.8 1397.8,174.8 1400.8,173.6 1403.8,172.6 1406.8,171.6 1409.8,170.6 1412.8,169.5 1415.8,168.5 1418.8,167.6 1421.8,166.7 1424.8,165.6 1427.8,164.7 1430.8,163.8 1433.8,162.9 1436.8,161.9 1439.8,161.1 1442.8,160.3 1445.8,159.4 1448.8,158.5 1451.8,157.7 1454.8,156.9 1457.8,156 1460.8,155.3 1463.8,154.6 1466.8,153.7 1469.8,153 1472.8,152.3 1475.8,151.5 1478.8,150.9 1481.8,150.2 1484.8,149.5 1487.8,148.8 1490.8,148.2 1493.8,147.6 1496.8,147 1499.8,146.4 1502.8,145.8 1505.8,145.3 1508.8,144.7 1511.8,144.2 1514.8,143.7 1517.8,143.2 1520.8,142.7 1523.8,142.2 1526.8,141.8 1529.8,141.3 1532.8,140.9 1535.8,140.5 1538.8,140.1 1541.8,139.7 1544.8,139.4 1547.8,139 1550.8,138.7 1553.8,138.3 1556.8,138 1559.8,137.7 1562.8,137.5 1565.8,137.2 1568.8,136.9 1571.8,136.7 1574.8,136.5 1577.8,136.3 1580.8,136.1 1583.8,135.9 1586.8,135.7 1589.8,135.6 1592.8,135.5 1595.8,135.4 1598.8,135.3 1601.8,135.1 1604.8,135.1 1607.8,135 1610.8,135 1613.8,135 1616.8,135 1619.8,135 1622.8,135 1625.8,135 1628.8,135 1631.8,135.1 1634.8,135.2 1637.8,135.3 1640.8,135.4 1643.8,135.5 1646.8,135.6 1649.8,135.7 1652.8,135.9 1655.8,136.1 1658.8,136.3 1661.8,136.5 1664.8,136.8 1667.8,137.1 1670.8,137.3 1673.8,137.6 1676.8,137.9 1679.8,138.2 1682.8,138.5 1685.8,138.9 1688.8,139.2 1691.8,139.6 1694.8,140 1697.8,140.4 1700.8,140.8 1703.8,141.2 1706.8,141.7 1709.8,142.2 1712.8,142.7 1715.8,143.2 1718.8,143.8 1721.8,144.3 1724.8,144.9 1727.8,145.4 1730.8,146 1733.8,146.6 1736.8,147.2 1739.8,147.8 1742.8,148.5 1745.8,149.1 1748.8,149.9 1751.8,150.6 1754.8,151.4 1757.8,152.1 1760.8,152.8 1763.8,153.7 1766.8,154.4 1769.8,155.2 1772.8,156 1775.8,156.8 1778.8,157.7 1781.8,158.6 1784.8,159.5 1787.8,160.4 1790.8,161.4 1793.8,162.4 1796.8,163.4 1799.8,164.3 1802.8,165.4 1805.8,166.5 1808.8,167.6 1811.8,168.8 1814.8,169.9 1817.8,171.2 1820.8,172.3 1823.8,173.7 1826.8,174.8 1829.8,176.3 1832.8,177.8 1835.8,179.4 1838.8,181 1841.8,182.7 1844.8,184.5 1847.8,185.9 1850.8,187.8 1853.8,189 1856.8,191 1859.8,192.9 1862.8,195 1865.8,197 1868.8,199.2 1871.8,201.3 1874.8,203.3 1877.8,204.7 1880.8,207 1883.8,209.4 1886.8,211.8 1889.8,214.3 1892.8,216.8 1895.8,219.3 1898.8,221.7 1901.5,224.6" fill="none" stroke="#000" stroke-opacity="0.7" stroke-width="1.3" stroke-linejoin="round"/>
<circle cx="1197.1" cy="369.9" r="2" fill="#000"/>
<text x="1190.3" y="382.5" font-size="12.3" text-anchor="end" fill="#222" font-family="'Liberation Sans',sans-serif">156</text>
<circle cx="1192.9" cy="310.7" r="2" fill="#000"/>
<text x="1186.1" y="323.3" font-size="12.3" text-anchor="end" fill="#222" font-family="'Liberation Sans',sans-serif">160.75</text>
<circle cx="1188.7" cy="251.5" r="2" fill="#000"/>
<text x="1181.9" y="264.1" font-size="12.3" text-anchor="end" fill="#222" font-family="'Liberation Sans',sans-serif">165.5</text>
<circle cx="1184.4" cy="192.3" r="2" fill="#000"/>
<text x="1177.6" y="204.9" font-size="12.3" text-anchor="end" fill="#222" font-family="'Liberation Sans',sans-serif">170.25</text>
<circle cx="1180.2" cy="133.1" r="2" fill="#000"/>
<text x="1173.4" y="145.7" font-size="12.3" text-anchor="end" fill="#222" font-family="'Liberation Sans',sans-serif">175</text>
<ellipse cx="1544.2" cy="551.4" rx="2.4" ry="1.6" fill="#000"/>
<text x="1537.7" y="563.9" font-size="12.3" text-anchor="end" fill="#222" font-family="'Liberation Sans',sans-serif">40.00</text>
<ellipse cx="1458.7" cy="524.6" rx="2.4" ry="1.6" fill="#000"/>
<text x="1452.2" y="537.1" font-size="12.3" text-anchor="end" fill="#222" font-family="'Liberation Sans',sans-serif">42.50</text>
<ellipse cx="1373.3" cy="497.8" rx="2.4" ry="1.6" fill="#000"/>
<text x="1366.8" y="510.3" font-size="12.3" text-anchor="end" fill="#222" font-family="'Liberation Sans',sans-serif">45.00</text>
<ellipse cx="1287.8" cy="471" rx="2.4" ry="1.6" fill="#000"/>
<text x="1281.3" y="483.5" font-size="12.3" text-anchor="end" fill="#222" font-family="'Liberation Sans',sans-serif">47.50</text>
<ellipse cx="1202.4" cy="444.1" rx="2.4" ry="1.6" fill="#000"/>
<text x="1195.9" y="456.6" font-size="12.3" text-anchor="end" fill="#222" font-family="'Liberation Sans',sans-serif">50.00</text>
<text x="1552.2" y="563.9" font-size="12.3" text-anchor="start" fill="#222" font-family="'Liberation Sans',sans-serif">10.00</text>
<ellipse cx="1629.5" cy="524.5" rx="2.4" ry="1.6" fill="#000"/>
<text x="1637.5" y="537" font-size="12.3" text-anchor="start" fill="#222" font-family="'Liberation Sans',sans-serif">12.50</text>
<ellipse cx="1714.8" cy="497.5" rx="2.4" ry="1.6" fill="#000"/>
<text x="1722.8" y="510" font-size="12.3" text-anchor="start" fill="#222" font-family="'Liberation Sans',sans-serif">15.00</text>
<ellipse cx="1800" cy="470.6" rx="2.4" ry="1.6" fill="#000"/>
<text x="1808" y="483.1" font-size="12.3" text-anchor="start" fill="#222" font-family="'Liberation Sans',sans-serif">17.50</text>
<ellipse cx="1885.3" cy="443.7" rx="2.4" ry="1.6" fill="#000"/>
<text x="1893.3" y="456.2" font-size="12.3" text-anchor="start" fill="#222" font-family="'Liberation Sans',sans-serif">20.00</text>
<ellipse cx="1543.7" cy="147.3" rx="6.2" ry="3.4" fill="#fff4f4" stroke="#d8a0a0" stroke-width="1.1"/><circle cx="1543.7" cy="147.3" r="1.2" fill="#111"/>
<ellipse cx="1192.2" cy="297" rx="7.2" ry="4" fill="#ffc6c6" stroke="#5a2444" stroke-width="1.1"/><line x1="1191.7" y1="283" x2="1192.2" y2="302.5" stroke="#1a0a14" stroke-width="1.1"/>
<ellipse cx="1353.2" cy="275.8" rx="7.2" ry="4" fill="#ffc6c6" stroke="#5a2444" stroke-width="1.1"/><line x1="1353.2" y1="268" x2="1353.2" y2="281.3" stroke="#1a0a14" stroke-width="1.1"/>
<ellipse cx="1902.4" cy="206.7" rx="7.2" ry="4" fill="#e41414" stroke="#8a0000" stroke-width="1.1"/><line x1="1902.4" y1="207.7" x2="1900.6" y2="223" stroke="#1a1a1a" stroke-width="1.1"/>
<ellipse cx="1543.9" cy="437" rx="7.2" ry="4" fill="#e41414" stroke="#8a0000" stroke-width="1.1"/><line x1="1543.9" y1="438" x2="1544.5" y2="456" stroke="#1a1a1a" stroke-width="1.1"/>
<text x="1154.8" y="546.4" font-size="19.9" fill="#111" font-family="'Liberation Sans',sans-serif" textLength="173.5" lengthAdjust="spacingAndGlyphs">C: TEMPERATURE</text>
<text x="1754.1" y="546.4" font-size="19.9" fill="#111" font-family="'Liberation Sans',sans-serif" textLength="183.2" lengthAdjust="spacingAndGlyphs">B: SOLID-SOLVENT</text>
<text x="1052.8" y="294" font-size="21.6" fill="#111" font-family="'Liberation Sans',sans-serif" textLength="38.9" lengthAdjust="spacingAndGlyphs" transform="rotate(-90 1072.2 294)">TFC</text></g>
<g id="p3"><g fill="none" stroke="#333" stroke-width="1">
<polyline points="169.8,748.3 536.1,695.6 901.2,748.8"/>
<line x1="536.1" y1="695.6" x2="535.4" y2="974.1"/>
<line x1="901.2" y1="748.8" x2="877.8" y2="1058.4" stroke="#555"/>
<line x1="169.8" y1="748.3" x2="191.8" y2="1058.3" stroke="#111" stroke-width="1.1"/>
</g>
<polygon points="191.8,1058.3 534.7,1166.5 877.8,1058.4 535.4,974.1" fill="#ffff00" stroke="#222" stroke-width="1.1" stroke-linejoin="round"/>
<g fill="none" stroke-width="1.2">
<polyline points="541.2,1164.4 541.1,1164.4 534.8,1164.4 534.6,1164.4 528.4,1164.4 527.9,1164.4" stroke="#08f519" stroke-opacity="0.8"/>
<polyline points="223.2,1068.2 223.5,1066.5 223.8,1064.8 224.1,1063.1 224.6,1061.6 225,1060 225.6,1058.5 226.2,1056.9 226.9,1055.3 227.7,1053.7 228.5,1052.1 229.4,1050.5 230.3,1049.1" stroke="#08f519" stroke-opacity="0.8"/>
<polyline points="585.1,1150.6 578,1150.8 571.1,1151 564.4,1151.1 557.7,1151.2 551.2,1151.2 544.8,1151.2 538.5,1151.2 532.3,1151.1 526.2,1151 520.2,1150.9 514.3,1150.7 508.5,1150.5 502.6,1150.3 495.1,1150 487.5,1149.6 480.8,1149.2" stroke="#5df50d" stroke-opacity="0.8"/>
<polyline points="265,1081.4 264.2,1079.6 263.6,1078.2 263.2,1076.8 262.7,1075.2 262.3,1073.2 261.9,1071.3 261.8,1069.7 261.7,1068.2 261.7,1066.8 261.7,1065.3 261.9,1063.8 262.1,1062.3 262.4,1060.7 262.7,1059 263.2,1057.4 263.7,1055.8 264.3,1054.2 264.9,1052.7 265.6,1051.2 266.4,1049.7 267.2,1048.2 268.2,1046.5 269.3,1044.9 270.4,1043.2 271.7,1041.5 273,1039.9 274.1,1038.6" stroke="#5df50d" stroke-opacity="0.8"/>
<polyline points="864.4,1055 865.2,1056.7 866,1058.2 866.6,1059.8 867.1,1061.4" stroke="#5df50d" stroke-opacity="0.8"/>
<polyline points="641.2,1132.9 632.7,1133.6 626.8,1134.1 621.7,1134.4 616.5,1134.8 608.9,1135.2 601.4,1135.6 595,1135.8 589.3,1136 583.6,1136.2 577.8,1136.4 571.9,1136.5 565.8,1136.6 559.7,1136.6 553.4,1136.6 547,1136.6 540.4,1136.5 533.7,1136.4 526.8,1136.2 519.8,1136 512.9,1135.7 507.5,1135.4 502.1,1135.1 496.9,1134.8 489.3,1134.3 481.6,1133.8 476.7,1133.3 471.9,1132.9 463.1,1132 457.9,1131.5 453.3,1131 444.7,1129.9 440.4,1129.3 432.1,1128.1 428,1127.5 420.1,1126.1 416.3,1125.5 408.8,1124 401.6,1122.5 398.1,1121.8 391.3,1120.2 384.7,1118.5 378.4,1116.8 372.4,1115.1 366.7,1113.3 361.2,1111.4 355.9,1109.5 350.9,1107.5 346.1,1105.4 343.8,1104.4 339.5,1102.3 335.4,1100.1 333.4,1099 329.6,1096.8 327.7,1095.5 324.5,1093.3 322.9,1092.1 319.9,1089.8 318.5,1088.6 316.2,1086.3 314.7,1084.9 313.6,1083.6 311.7,1081.3 310.6,1079.7 309.7,1078.4 308.7,1076.7 307.5,1074.6 306.9,1073.1 306.3,1071.7 305.9,1070.3 305.4,1068.6 305.1,1066.7 304.8,1064.8 304.7,1063.1 304.7,1061.7 304.8,1060.2 305,1058.7 305.2,1057.2 305.5,1055.6 305.9,1054.1 306.5,1052.5 307.1,1050.9 307.8,1049.3 308.6,1047.7 309.5,1046.1 310.5,1044.4 311.4,1043 312.4,1041.6 313.4,1040.3 314.5,1039 315.7,1037.5 317.4,1035.7 319.2,1033.9 320.5,1032.6 321.8,1031.4 323.2,1030.2 325.6,1028.2 327.5,1026.7 329,1025.6 330.9,1024.2" stroke="#c0f50d" stroke-opacity="0.8"/>
<polyline points="816.7,1043.3 818.4,1045.1 819.7,1046.6 820.9,1047.9 821.9,1049.3 822.9,1050.7 823.9,1052.2 824.7,1053.7 825.5,1055.3 826.2,1056.9 826.7,1058.4 827.1,1060 827.5,1061.6 827.7,1063.3 827.7,1065.1 827.6,1066.9 827.4,1068.7 827,1070.1 826.6,1071.5 826.2,1072.8 825.2,1074.9" stroke="#c0f50d" stroke-opacity="0.8"/>
<polyline points="520.6,977.7 526.3,977.6 531.7,977.5 537,977.5 542.1,977.5 547.1,977.5" stroke="#c0f50d" stroke-opacity="0.8"/>
<polyline points="742.7,1025.1 744.9,1026.1 748.3,1027.8 750.8,1029.2 753,1030.3 756.4,1032.3 758.2,1033.4 760.6,1034.9 763.2,1036.8 764.8,1037.9 766.3,1039.1 768.6,1041.1 770.5,1042.8 771.8,1044.1 773,1045.4 774.1,1046.7 775.4,1048.4 776.5,1050.1 777.5,1051.8 778.3,1053.4 778.9,1055 779.4,1056.5 779.7,1058.1 779.9,1059.6 779.9,1061.1 779.9,1062.5 779.7,1063.9 779.3,1065.8 778.6,1067.8 777.9,1069.4 777.2,1070.7 776.3,1072 774.6,1074.4 773.4,1075.8 772.2,1077 769.6,1079.4 768.2,1080.5 765.2,1082.7 763.4,1083.9 759.9,1086.1 758,1087.2 754,1089.3 750.3,1091.1 747.4,1092.3 742.7,1094.3 737.8,1096.1 732.5,1098 727,1099.7 721.2,1101.5 715.1,1103.1 708.8,1104.7 702.2,1106.2 698.8,1107 691.8,1108.4 684.5,1109.8 680.8,1110.4 673.1,1111.7 669.1,1112.3 661,1113.5 656.8,1114 649.1,1115 643.7,1115.6 639.2,1116 630.7,1116.8 625.2,1117.3 620.4,1117.7 614.3,1118.1 606.6,1118.6 600,1118.9 594.6,1119.2 589.1,1119.4 583.5,1119.5 577.8,1119.7 571.8,1119.8 565.5,1119.8 559.3,1119.8 553.3,1119.8 547,1119.7 540.2,1119.5 533.3,1119.3 526.1,1119 520,1118.7 514.8,1118.4 509.8,1118 502.6,1117.5 495.3,1116.9 490.7,1116.4 484.6,1115.8 477.3,1114.9 473.1,1114.4 464.8,1113.2 460.8,1112.6 453,1111.4 449.2,1110.7 441.9,1109.3 434.9,1107.8 431.4,1107 424.9,1105.5 418.7,1103.8 412.7,1102.1 407,1100.3 401.6,1098.5 396.5,1096.6 394.1,1095.6 389.4,1093.6 385,1091.5 382.6,1090.3 378.9,1088.3 375.7,1086.4 373.5,1085 370.8,1083.1 368.7,1081.5 367.1,1080.2 364.6,1077.9 363.3,1076.6 361.9,1075.1 360.1,1072.9 359.2,1071.6 358.4,1070.2 357.4,1068.5 356.5,1066.5 355.9,1064.8 355.4,1063.4 355.1,1062 354.9,1060.6 354.7,1059.1 354.7,1057.4 354.8,1055.8 355,1054.2 355.3,1052.6 355.8,1051 356.3,1049.5 356.9,1048.1 357.5,1046.6 358.4,1045.1 359.4,1043.4 360.6,1041.7 361.9,1039.9 363.1,1038.5 364.3,1037.2 365.5,1036 367.1,1034.4 369.3,1032.5 370.8,1031.2 372.3,1030.1 374.5,1028.4 376.9,1026.7 378.5,1025.7 381.3,1024 383.7,1022.5 385.5,1021.5 389.3,1019.5 391.2,1018.6 395.1,1016.7 397.2,1015.7 401.4,1013.9 403.7,1013 408,1011.3 412.6,1009.7 414.9,1008.9 419.8,1007.3 424.8,1005.8 429.9,1004.3 435.3,1002.9 440.8,1001.5 446.5,1000.2 452.4,999 458.4,997.9 462.6,997.1 468,996.2 474.6,995.2 478,994.8 485.1,993.9 488.7,993.5 496.2,992.7 500,992.3 504.2,992 511.5,991.5 516.4,991.2 520.7,991 525.2,990.8 530.7,990.6 536.5,990.5 542,990.4 547.3,990.4 552.4,990.4 557.4,990.4 562.2,990.5 566.9,990.7 572.3,990.9 578.7,991.1 584.6,991.5 588.8,991.7 592.9,992 600.2,992.6 604.7,993 608.6,993.4 616,994.1" stroke="#facd0d" stroke-opacity="0.8"/>
<polyline points="638,1015.1 644.1,1016.3 650.1,1017.7 655.9,1019.1 661.4,1020.5 666.8,1022 671.9,1023.6 674.4,1024.4 679.3,1026.1 683.9,1027.9 686.2,1028.8 690.5,1030.7 693.2,1031.9 696.6,1033.6 698.6,1034.7 702.2,1036.8 703.9,1037.9 706.1,1039.4 708.6,1041.3 710,1042.5 711.3,1043.8 712.9,1045.4 714.4,1047.2 715.6,1049 716.4,1050.5 717.1,1051.9 717.6,1053.4 717.9,1055 718,1056.6 717.9,1058.3 717.7,1059.8 717.3,1061.1 716.7,1062.5 715.9,1064.1 714.4,1066.2 713.2,1067.6 712,1068.8 709.4,1071.2 707.8,1072.3 705,1074.3 702.7,1075.6 698.8,1077.7 696.7,1078.7 692.2,1080.6 687.3,1082.5 682.1,1084.3 676.5,1086 670.6,1087.6 664.3,1089.1 657.7,1090.6 654.2,1091.3 647,1092.6 640.4,1093.7 635.4,1094.4 629.3,1095.2 622.9,1095.9 618.6,1096.4 611.1,1097 604.7,1097.5 599.8,1097.8 594.7,1098.1 588.5,1098.4 581.7,1098.6 575.3,1098.7 569.1,1098.8 563.2,1098.8 557.4,1098.7 551.9,1098.5 546.5,1098.4 540.5,1098.1 532.9,1097.6 526.6,1097.2 522,1096.8 515.8,1096.1 508.8,1095.4 504.7,1094.8 496.8,1093.7 492.9,1093.1 485.6,1091.7 478.7,1090.3 475.4,1089.6 469,1088 463,1086.4 457.4,1084.7 452.1,1082.9 449.6,1081.9 444.9,1080 440.6,1078 438.5,1076.9 434.7,1074.8 432.8,1073.6 429.6,1071.4 428.2,1070.2 425.8,1068.2 424.3,1066.6 423.2,1065.3 421.9,1063.7 420.7,1061.6 419.9,1060.1 419.4,1058.7 419,1057.3 418.7,1055.9 418.6,1054.4 418.6,1052.8 418.8,1051.2 419.1,1049.7 419.6,1048.2 420.3,1046.5 421.2,1044.8 422.4,1043.1 423.6,1041.4 424.7,1040.2 425.9,1038.9 427.6,1037.4 429.9,1035.4 431.5,1034.3 433.1,1033.1 436.4,1031 438.1,1030 441.8,1028 443.8,1027 447.9,1025.2 450.1,1024.3 454.6,1022.5 459.3,1020.8 461.7,1020 466.8,1018.5 472.2,1017 477.8,1015.6 483.7,1014.3 487.4,1013.6 493.1,1012.6 499.8,1011.5 503.2,1011 510.5,1010.1 514.2,1009.7 521.6,1009 526.2,1008.6 530.4,1008.3 536,1008 542.3,1007.8 548.3,1007.6 553.9,1007.5 559.2,1007.6 564.3,1007.6 569.2,1007.7 573.9,1007.9 578.5,1008.1 584.2,1008.4 591.4,1008.9 595.4,1009.2 599.7,1009.6 607.1,1010.4 610.8,1010.9 618,1011.8 621.5,1012.3 628.3,1013.4 634.8,1014.5 638,1015.1" stroke="#fa6c0d" stroke-opacity="0.8"/>
</g>
<g stroke="#000" stroke-opacity="0.6" stroke-width="1.1" stroke-linejoin="round">
<path d="M535.8,807.6l7.9,3.8 -7.9,3.9 -7.9,-3.7z" fill="#b2f50d"/>
<path d="M527.8,804.2l8,3.4 -7.9,4 -8,-3.3z" fill="#c2f50d"/>
<path d="M543.8,803.8l7.9,4 -8,3.6 -7.9,-3.8z" fill="#c3f50d"/>
<path d="M519.8,801.2l8,3 -7.9,4.1 -8,-2.8z" fill="#d0f50d"/>
<path d="M551.8,800.3l7.9,4.1 -8,3.4 -7.9,-4z" fill="#d2f50d"/>
<path d="M535.8,800.3l8,3.5 -8,3.8 -8,-3.4z" fill="#d2f50d"/>
<path d="M511.7,798.6l8.1,2.6 -7.9,4.3 -8.1,-2.5z" fill="#ddf50d"/>
<path d="M559.9,797.1l7.9,4.2 -8.1,3.1 -7.9,-4.1z" fill="#e1f50d"/>
<path d="M527.8,797.2l8,3.1 -8,3.9 -8,-3z" fill="#e1f50d"/>
<path d="M543.9,796.7l7.9,3.6 -8,3.5 -8,-3.5z" fill="#e2f50d"/>
<path d="M503.6,796.4l8.1,2.2 -7.9,4.4 -8.2,-2.1z" fill="#e8f50d"/>
<path d="M568.1,794.2l7.9,4.3 -8.2,2.8 -7.9,-4.2z" fill="#eef50d"/>
<path d="M519.7,794.5l8.1,2.7 -8,4 -8.1,-2.6z" fill="#eef50d"/>
<path d="M552,793.3l7.9,3.8 -8.1,3.2 -7.9,-3.6z" fill="#f1f50d"/>
<path d="M535.8,793.4l8.1,3.3 -8.1,3.6 -8,-3.1z" fill="#f1f50d"/>
<path d="M495.3,794.7l8.3,1.7 -8,4.5 -8.2,-1.6z" fill="#f2f50d"/>
<path d="M576.3,791.5l7.9,4.5 -8.2,2.5 -7.9,-4.3z" fill="#faf40d"/>
<path d="M511.5,792.2l8.2,2.3 -8,4.1 -8.1,-2.2z" fill="#faf50d"/>
<path d="M560.1,790.3l8,3.9 -8.2,2.9 -7.9,-3.8z" fill="#faf00d"/>
<path d="M527.7,790.6l8.1,2.8 -8,3.8 -8.1,-2.7z" fill="#faf10d"/>
<path d="M543.9,790l8.1,3.3 -8.1,3.4 -8.1,-3.3z" fill="#faef0d"/>
<path d="M487.1,793.3l8.2,1.4 -7.9,4.6 -8.2,-1.2z" fill="#faf40d"/>
<path d="M584.6,789.2l7.9,4.5 -8.3,2.3 -7.9,-4.5z" fill="#fae90d"/>
<path d="M503.3,790.3l8.2,1.9 -7.9,4.2 -8.3,-1.7z" fill="#faeb0d"/>
<path d="M568.3,787.5l8,4 -8.2,2.7 -8,-3.9z" fill="#fae40d"/>
<path d="M519.6,788.2l8.1,2.4 -8,3.9 -8.2,-2.3z" fill="#fae50d"/>
<path d="M552.1,786.8l8,3.5 -8.1,3 -8.1,-3.3z" fill="#fae10d"/>
<path d="M535.8,787l8.1,3 -8.1,3.4 -8.1,-2.8z" fill="#fae20d"/>
<path d="M478.8,792.4l8.3,0.9 -7.9,4.8 -8.3,-0.9z" fill="#faec0d"/>
<path d="M495,788.8l8.3,1.5 -8,4.4 -8.2,-1.4z" fill="#fae20d"/>
<path d="M592.9,787.1l7.9,4.7 -8.3,1.9 -7.9,-4.5z" fill="#fade0d"/>
<path d="M511.3,786.2l8.3,2 -8.1,4 -8.2,-1.9z" fill="#fadb0d"/>
<path d="M576.6,785l8,4.2 -8.3,2.3 -8,-4z" fill="#fad80d"/>
<path d="M527.7,784.5l8.1,2.5 -8.1,3.6 -8.1,-2.4z" fill="#fad60d"/>
<path d="M560.3,783.9l8,3.6 -8.2,2.8 -8,-3.5z" fill="#fad40d"/>
<path d="M544,783.7l8.1,3.1 -8.2,3.2 -8.1,-3z" fill="#fad40d"/>
<path d="M470.4,791.9l8.4,0.5 -7.9,4.8 -8.4,-0.4z" fill="#fae60d"/>
<path d="M486.7,787.8l8.3,1 -7.9,4.5 -8.3,-0.9z" fill="#fada0d"/>
<path d="M601.3,785.3l7.9,4.8 -8.4,1.7 -7.9,-4.7z" fill="#fad40d"/>
<path d="M503.1,784.6l8.2,1.6 -8,4.1 -8.3,-1.5z" fill="#fad10d"/>
<path d="M585,782.9l7.9,4.2 -8.3,2.1 -8,-4.2z" fill="#facd0d"/>
<path d="M519.4,782.4l8.3,2.1 -8.1,3.7 -8.3,-2z" fill="#facb0d"/>
<path d="M568.6,781.3l8,3.7 -8.3,2.5 -8,-3.6z" fill="#fac80d"/>
<path d="M535.8,781.1l8.2,2.6 -8.2,3.3 -8.1,-2.5z" fill="#fac70d"/>
<path d="M552.2,780.7l8.1,3.2 -8.2,2.9 -8.1,-3.1z" fill="#fac70d"/>
<path d="M462,791.7l8.4,0.2 -7.9,4.9 -8.4,0z" fill="#fae10d"/>
<path d="M478.3,787.2l8.4,0.6 -7.9,4.6 -8.4,-0.5z" fill="#fad40d"/>
<path d="M609.8,783.9l7.8,4.9 -8.4,1.3 -7.9,-4.8z" fill="#facc0d"/>
<path d="M494.7,783.5l8.4,1.1 -8.1,4.2 -8.3,-1z" fill="#fac90d"/>
<path d="M593.4,781l7.9,4.3 -8.4,1.8 -7.9,-4.2z" fill="#fac30d"/>
<path d="M511.2,780.7l8.2,1.7 -8.1,3.8 -8.2,-1.6z" fill="#fac20d"/>
<path d="M577,779l8,3.9 -8.4,2.1 -8,-3.7z" fill="#fabd0d"/>
<path d="M527.6,778.9l8.2,2.2 -8.1,3.4 -8.3,-2.1z" fill="#fabc0d"/>
<path d="M560.5,778l8.1,3.3 -8.3,2.6 -8.1,-3.2z" fill="#faba0d"/>
<path d="M544.1,778l8.1,2.7 -8.2,3 -8.2,-2.6z" fill="#faba0d"/>
<path d="M453.5,792.1l8.5,-0.4 -7.9,5.1 -8.5,0.5z" fill="#fadd0d"/>
<path d="M469.9,786.9l8.4,0.3 -7.9,4.7 -8.4,-0.2z" fill="#facf0d"/>
<path d="M618.3,782.8l7.8,5 -8.5,1 -7.8,-4.9z" fill="#fac40d"/>
<path d="M486.3,782.7l8.4,0.8 -8,4.3 -8.4,-0.6z" fill="#fac30d"/>
<path d="M601.8,779.4l8,4.5 -8.5,1.4 -7.9,-4.3z" fill="#faba0d"/>
<path d="M502.8,779.4l8.4,1.3 -8.1,3.9 -8.4,-1.1z" fill="#fab90d"/>
<path d="M585.4,777.1l8,3.9 -8.4,1.9 -8,-3.9z" fill="#fab30d"/>
<path d="M519.3,777.1l8.3,1.8 -8.2,3.5 -8.2,-1.7z" fill="#fab30d"/>
<path d="M568.9,775.6l8.1,3.4 -8.4,2.3 -8.1,-3.3z" fill="#faaf0d"/>
<path d="M535.8,775.7l8.3,2.3 -8.3,3.1 -8.2,-2.2z" fill="#faaf0d"/>
<path d="M552.4,775.2l8.1,2.8 -8.3,2.7 -8.1,-2.7z" fill="#faae0d"/>
<path d="M445,792.8l8.5,-0.7 -7.9,5.2 -8.5,0.8z" fill="#fadb0d"/>
<path d="M461.4,787.1l8.5,-0.2 -7.9,4.8 -8.5,0.4z" fill="#facb0d"/>
<path d="M626.8,782l7.9,5.1 -8.6,0.7 -7.8,-5z" fill="#fabd0d"/>
<path d="M477.9,782.4l8.4,0.3 -8,4.5 -8.4,-0.3z" fill="#fabd0d"/>
<path d="M610.3,778.2l8,4.6 -8.5,1.1 -8,-4.5z" fill="#fab20d"/>
<path d="M494.4,778.6l8.4,0.8 -8.1,4.1 -8.4,-0.8z" fill="#fab20d"/>
<path d="M593.8,775.4l8,4 -8.4,1.6 -8,-3.9z" fill="#faaa0d"/>
<path d="M436.4,793.9l8.6,-1.1 -7.9,5.3 -8.5,1.2z" fill="#fad90d"/>
<path d="M511,775.7l8.3,1.4 -8.1,3.6 -8.4,-1.3z" fill="#faaa0d"/>
<path d="M577.3,773.6l8.1,3.5 -8.4,1.9 -8.1,-3.4z" fill="#faa50d"/>
<path d="M527.5,773.8l8.3,1.9 -8.2,3.2 -8.3,-1.8z" fill="#faa50d"/>
<path d="M560.7,772.7l8.2,2.9 -8.4,2.4 -8.1,-2.8z" fill="#faa20d"/>
<path d="M544.1,772.8l8.3,2.4 -8.3,2.8 -8.3,-2.3z" fill="#faa20d"/>
<path d="M452.9,787.8l8.5,-0.7 -7.9,5 -8.5,0.7z" fill="#fac80d"/>
<path d="M635.4,781.5l7.8,5.2 -8.5,0.4 -7.9,-5.1z" fill="#fab70d"/>
<path d="M469.4,782.5l8.5,-0.1 -8,4.5 -8.5,0.2z" fill="#fab90d"/>
<path d="M618.9,777.3l7.9,4.7 -8.5,0.8 -8,-4.6z" fill="#faab0d"/>
<path d="M486,778.2l8.4,0.4 -8.1,4.1 -8.4,-0.3z" fill="#faad0d"/>
<path d="M427.8,795.5l8.6,-1.6 -7.8,5.4 -8.6,1.6z" fill="#fad90d"/>
<path d="M602.3,774.1l8,4.1 -8.5,1.2 -8,-4z" fill="#faa20d"/>
<path d="M502.6,774.8l8.4,0.9 -8.2,3.7 -8.4,-0.8z" fill="#faa30d"/>
<path d="M585.7,771.8l8.1,3.6 -8.4,1.7 -8.1,-3.5z" fill="#fa9b0d"/>
<path d="M519.2,772.3l8.3,1.5 -8.2,3.3 -8.3,-1.4z" fill="#fa9c0d"/>
<path d="M444.3,788.8l8.6,-1 -7.9,5 -8.6,1.1z" fill="#fac60d"/>
<path d="M569.1,770.5l8.2,3.1 -8.4,2 -8.2,-2.9z" fill="#fa970d"/>
<path d="M535.8,770.8l8.3,2 -8.3,2.9 -8.3,-1.9z" fill="#fa980d"/>
<path d="M552.5,770.2l8.2,2.5 -8.3,2.5 -8.3,-2.4z" fill="#fa960d"/>
<path d="M644.1,781.4l7.8,5.2 -8.7,0.1 -7.8,-5.2z" fill="#fab20d"/>
<path d="M460.9,783.1l8.5,-0.6 -8,4.6 -8.5,0.7z" fill="#fab60d"/>
<path d="M419.1,797.4l8.7,-1.9 -7.8,5.4 -8.7,2.1z" fill="#fada0d"/>
<path d="M627.5,776.7l7.9,4.8 -8.6,0.5 -7.9,-4.7z" fill="#faa50d"/>
<path d="M477.5,778.2l8.5,0 -8.1,4.2 -8.5,0.1z" fill="#faa80d"/>
<path d="M610.9,773.1l8,4.2 -8.6,0.9 -8,-4.1z" fill="#fa9b0d"/>
<path d="M494.1,774.3l8.5,0.5 -8.2,3.8 -8.4,-0.4z" fill="#fa9d0d"/>
<path d="M435.7,790.3l8.6,-1.5 -7.9,5.1 -8.6,1.6z" fill="#fac50d"/>
<path d="M594.3,770.4l8,3.7 -8.5,1.3 -8.1,-3.6z" fill="#fa930d"/>
<path d="M510.8,771.3l8.4,1 -8.2,3.4 -8.4,-0.9z" fill="#fa950d"/>
<path d="M577.6,768.7l8.1,3.1 -8.4,1.8 -8.2,-3.1z" fill="#fa8e0d"/>
<path d="M527.5,769.2l8.3,1.6 -8.3,3 -8.3,-1.5z" fill="#fa8f0d"/>
<path d="M560.9,767.9l8.2,2.6 -8.4,2.2 -8.2,-2.5z" fill="#fa8b0d"/>
<path d="M544.2,768.1l8.3,2.1 -8.4,2.6 -8.3,-2z" fill="#fa8c0d"/>
<path d="M652.8,781.6l7.8,5.3 -8.7,-0.3 -7.8,-5.2z" fill="#faae0d"/>
<path d="M452.3,784l8.6,-0.9 -8,4.7 -8.6,1z" fill="#fab40d"/>
<path d="M410.4,799.8l8.7,-2.4 -7.8,5.6 -8.7,2.4z" fill="#fadc0d" class="s4"/>
<path d="M636.2,776.5l7.9,4.9 -8.7,0.1 -7.9,-4.8z" fill="#faa00d"/>
<path d="M468.9,778.6l8.6,-0.4 -8.1,4.3 -8.5,0.6z" fill="#faa50d"/>
<path d="M427,792.1l8.7,-1.8 -7.9,5.2 -8.7,1.9z" fill="#fac60d" class="s4"/>
<path d="M619.5,772.4l8,4.3 -8.6,0.6 -8,-4.2z" fill="#fa940d"/>
<path d="M485.6,774.2l8.5,0.1 -8.1,3.9 -8.5,0z" fill="#fa980d"/>
<path d="M502.3,770.7l8.5,0.6 -8.2,3.5 -8.5,-0.5z" fill="#fa8e0d"/>
<path d="M602.9,769.3l8,3.8 -8.6,1 -8,-3.7z" fill="#fa8b0d"/>
<path d="M519.1,768.1l8.4,1.1 -8.3,3.1 -8.4,-1z" fill="#fa870d"/>
<path d="M586.1,767.1l8.2,3.3 -8.6,1.4 -8.1,-3.1z" fill="#fa850d"/>
<path d="M401.7,802.5l8.7,-2.7 -7.8,5.6 -8.7,2.9z" fill="#fadf0d" class="s4"/>
<path d="M443.6,785.3l8.7,-1.3 -8,4.8 -8.6,1.5z" fill="#fab30d" class="s4"/>
<path d="M661.5,782.1l7.8,5.5 -8.7,-0.7 -7.8,-5.3z" fill="#faab0d"/>
<path d="M535.8,766.4l8.4,1.7 -8.4,2.7 -8.3,-1.6z" fill="#fa830d"/>
<path d="M569.4,765.9l8.2,2.8 -8.5,1.8 -8.2,-2.6z" fill="#fa820d"/>
<path d="M552.6,765.7l8.3,2.2 -8.4,2.3 -8.3,-2.1z" fill="#fa810d"/>
<path d="M460.3,779.5l8.6,-0.9 -8,4.5 -8.6,0.9z" fill="#faa20d" class="s4"/>
<path d="M644.9,776.6l7.9,5 -8.7,-0.2 -7.9,-4.9z" fill="#fa9c0d"/>
<path d="M418.3,794.4l8.7,-2.3 -7.9,5.3 -8.7,2.4z" fill="#fac80d" class="s4"/>
<path d="M477,774.5l8.6,-0.3 -8.1,4 -8.6,0.4z" fill="#fa950d"/>
<path d="M628.2,772.1l8,4.4 -8.7,0.2 -8,-4.3z" fill="#fa8f0d"/>
<path d="M392.9,805.7l8.8,-3.2 -7.8,5.8 -8.7,3.2z" fill="#fae30d" class="s4"/>
<path d="M493.8,770.5l8.5,0.2 -8.2,3.6 -8.5,-0.1z" fill="#fa890d"/>
<path d="M611.5,768.5l8,3.9 -8.6,0.7 -8,-3.8z" fill="#fa850d"/>
<path d="M434.9,787.1l8.7,-1.8 -7.9,5 -8.7,1.8z" fill="#fab30d" class="s4"/>
<path d="M670.3,783l7.8,5.6 -8.8,-1 -7.8,-5.5z" fill="#faa90d"/>
<path d="M510.6,767.3l8.5,0.8 -8.3,3.2 -8.5,-0.6z" fill="#fa810d"/>
<path d="M594.7,765.9l8.2,3.4 -8.6,1.1 -8.2,-3.3z" fill="#fa7d0d"/>
<path d="M527.4,765.2l8.4,1.2 -8.3,2.8 -8.4,-1.1z" fill="#fa7b0d"/>
<path d="M577.9,764.3l8.2,2.8 -8.5,1.6 -8.2,-2.8z" fill="#fa790d"/>
<path d="M544.3,763.9l8.3,1.8 -8.4,2.4 -8.4,-1.7z" fill="#fa770d"/>
<path d="M561.1,763.6l8.3,2.3 -8.5,2 -8.3,-2.2z" fill="#fa770d"/>
<path d="M451.6,780.7l8.7,-1.2 -8,4.5 -8.7,1.3z" fill="#faa10d" class="s4"/>
<path d="M409.5,797.1l8.8,-2.7 -7.9,5.4 -8.7,2.7z" fill="#facb0d" class="s4"/>
<path d="M653.7,777.1l7.8,5 -8.7,-0.5 -7.9,-5z" fill="#fa980d"/>
<path d="M468.4,775.3l8.6,-0.8 -8.1,4.1 -8.6,0.9z" fill="#fa920d" class="s4"/>
<path d="M384.1,809.2l8.8,-3.5 -7.7,5.8 -8.8,3.7z" fill="#fae80d" class="s4"/>
<path d="M637,772.1l7.9,4.5 -8.7,-0.1 -8,-4.4z" fill="#fa8a0d"/>
<path d="M426.2,789.3l8.7,-2.2 -7.9,5 -8.7,2.3z" fill="#fab50d" class="s4"/>
<path d="M485.2,770.7l8.6,-0.2 -8.2,3.7 -8.6,0.3z" fill="#fa850d" class="s4"/>
<path d="M679.2,784.3l7.7,5.6 -8.8,-1.3 -7.8,-5.6z" fill="#faa80d"/>
<path d="M620.2,768.1l8,4 -8.7,0.3 -8,-3.9z" fill="#fa7f0d"/>
<path d="M502.1,767.1l8.5,0.2 -8.3,3.4 -8.5,-0.2z" fill="#fa7b0d" class="s4"/>
<path d="M603.4,765.1l8.1,3.4 -8.6,0.8 -8.2,-3.4z" fill="#fa770d"/>
<path d="M400.7,800.1l8.8,-3 -7.8,5.4 -8.8,3.2z" fill="#face0d" class="s4"/>
<path d="M442.9,782.4l8.7,-1.7 -8,4.6 -8.7,1.8z" fill="#faa20d" class="s4"/>
<path d="M519,764.4l8.4,0.8 -8.3,2.9 -8.5,-0.8z" fill="#fa740d" class="s4"/>
<path d="M586.5,763l8.2,2.9 -8.6,1.2 -8.2,-2.8z" fill="#fa710d"/>
<path d="M662.5,777.9l7.8,5.1 -8.8,-0.9 -7.8,-5z" fill="#fa960d"/>
<path d="M535.8,762.6l8.5,1.3 -8.5,2.5 -8.4,-1.2z" fill="#fa6f0d"/>
<path d="M569.6,761.9l8.3,2.4 -8.5,1.6 -8.3,-2.3z" fill="#fa6d0d"/>
<path d="M552.7,761.8l8.4,1.8 -8.5,2.1 -8.3,-1.8z" fill="#fa6d0d"/>
<path d="M375.2,813.2l8.9,-4 -7.7,6 -8.9,4z" fill="#faee0d" class="s3"/>
<path d="M459.7,776.4l8.7,-1.1 -8.1,4.2 -8.7,1.2z" fill="#fa910d" class="s4"/>
<path d="M645.7,772.5l8,4.6 -8.8,-0.5 -7.9,-4.5z" fill="#fa870d"/>
<path d="M417.4,791.9l8.8,-2.6 -7.9,5.1 -8.8,2.7z" fill="#fab70d" class="s4"/>
<path d="M688.1,785.9l7.7,5.7 -8.9,-1.7 -7.7,-5.6z" fill="#faa80d"/>
<path d="M476.6,771.4l8.6,-0.7 -8.2,3.8 -8.6,0.8z" fill="#fa830d" class="s4"/>
<path d="M628.9,768l8.1,4.1 -8.8,0 -8,-4z" fill="#fa7b0d"/>
<path d="M391.9,803.6l8.8,-3.5 -7.8,5.6 -8.8,3.5z" fill="#fad30d" class="s3"/>
<path d="M493.5,767.2l8.6,-0.1 -8.3,3.4 -8.6,0.2z" fill="#fa770d" class="s4"/>
<path d="M434.2,784.5l8.7,-2.1 -8,4.7 -8.7,2.2z" fill="#faa30d" class="s4"/>
<path d="M612.1,764.6l8.1,3.5 -8.7,0.4 -8.1,-3.4z" fill="#fa710d"/>
<path d="M366.3,817.5l8.9,-4.3 -7.7,6 -8.8,4.4z" fill="#f9f50d" class="s3"/>
<path d="M671.3,779.1l7.9,5.2 -8.9,-1.3 -7.8,-5.1z" fill="#fa950d"/>
<path d="M510.4,764l8.6,0.4 -8.4,2.9 -8.5,-0.2z" fill="#fa6e0d" class="s4"/>
<path d="M595.2,762.1l8.2,3 -8.7,0.8 -8.2,-2.9z" fill="#fa6a0d"/>
<path d="M527.4,761.7l8.4,0.9 -8.4,2.6 -8.4,-0.8z" fill="#fa680d" class="s4"/>
<path d="M578.2,760.6l8.3,2.4 -8.6,1.3 -8.3,-2.4z" fill="#fa650d"/>
<path d="M544.3,760.4l8.4,1.4 -8.4,2.1 -8.5,-1.3z" fill="#fa650d" class="s4"/>
<path d="M561.3,760l8.3,1.9 -8.5,1.7 -8.4,-1.8z" fill="#fa640d" class="s4"/>
<path d="M451,778l8.7,-1.6 -8.1,4.3 -8.7,1.7z" fill="#fa910d" class="s4"/>
<path d="M408.6,794.9l8.8,-3 -7.9,5.2 -8.8,3z" fill="#fabb0d" class="s3"/>
<path d="M654.6,773.2l7.9,4.7 -8.8,-0.8 -8,-4.6z" fill="#fa850d"/>
<path d="M697,787.9l7.7,5.8 -8.9,-2.1 -7.7,-5.7z" fill="#faa90d"/>
<path d="M383,807.5l8.9,-3.9 -7.8,5.6 -8.9,4z" fill="#fada0d" class="s3"/>
<path d="M467.9,772.5l8.7,-1.1 -8.2,3.9 -8.7,1.1z" fill="#fa810d" class="s4"/>
<path d="M637.7,768.3l8,4.2 -8.7,-0.4 -8.1,-4.1z" fill="#fa770d"/>
<path d="M357.4,822.3l8.9,-4.8 -7.6,6.1 -8.9,4.8z" fill="#f0f50d" class="s3"/>
<path d="M425.4,787l8.8,-2.5 -8,4.8 -8.8,2.6z" fill="#faa50d" class="s3"/>
<path d="M484.9,767.8l8.6,-0.6 -8.3,3.5 -8.6,0.7z" fill="#fa740d" class="s4"/>
<path d="M680.3,780.6l7.8,5.3 -8.9,-1.6 -7.9,-5.2z" fill="#fa950d"/>
<path d="M620.8,764.4l8.1,3.6 -8.7,0.1 -8.1,-3.5z" fill="#fa6c0d"/>
<path d="M501.8,764.1l8.6,-0.1 -8.3,3.1 -8.6,0.1z" fill="#fa6a0d" class="s4"/>
<path d="M399.7,798.3l8.9,-3.4 -7.9,5.2 -8.8,3.5z" fill="#fac00d" class="s3"/>
<path d="M603.9,761.5l8.2,3.1 -8.7,0.5 -8.2,-3z" fill="#fa640d" class="s4"/>
<path d="M442.3,780.1l8.7,-2.1 -8.1,4.4 -8.7,2.1z" fill="#fa920d" class="s3"/>
<path d="M518.8,761.3l8.6,0.4 -8.4,2.7 -8.6,-0.4z" fill="#fa630d" class="s4"/>
<path d="M586.9,759.5l8.3,2.6 -8.7,0.9 -8.3,-2.4z" fill="#fa5e0d" class="s4"/>
<path d="M535.8,759.4l8.5,1 -8.5,2.2 -8.4,-0.9z" fill="#fa5d0d" class="s4"/>
<path d="M663.4,774.3l7.9,4.8 -8.8,-1.2 -7.9,-4.7z" fill="#fa830d"/>
<path d="M374.1,811.8l8.9,-4.3 -7.8,5.7 -8.9,4.3z" fill="#fae10d" class="s3"/>
<path d="M569.9,758.5l8.3,2.1 -8.6,1.3 -8.3,-1.9z" fill="#fa5b0d" class="s4"/>
<path d="M552.9,758.5l8.4,1.5 -8.6,1.8 -8.4,-1.4z" fill="#fa5b0d" class="s4"/>
<path d="M706,790.2l7.6,5.9 -8.9,-2.4 -7.7,-5.8z" fill="#faab0d"/>
<path d="M348.5,827.4l8.9,-5.1 -7.6,6.1 -8.9,5.2z" fill="#e7f50d" class="s2"/>
<path d="M459.2,774l8.7,-1.5 -8.2,3.9 -8.7,1.6z" fill="#fa810d" class="s3"/>
<path d="M416.6,789.9l8.8,-2.9 -8,4.9 -8.8,3z" fill="#faa90d" class="s3"/>
<path d="M646.6,769l8,4.2 -8.9,-0.7 -8,-4.2z" fill="#fa740d" class="s4"/>
<path d="M476.2,768.8l8.7,-1 -8.3,3.6 -8.7,1.1z" fill="#fa730d" class="s3"/>
<path d="M689.2,782.5l7.8,5.4 -8.9,-2 -7.8,-5.3z" fill="#fa960d"/>
<path d="M390.8,802.1l8.9,-3.8 -7.8,5.3 -8.9,3.9z" fill="#fac60d" class="s3"/>
<path d="M629.6,764.6l8.1,3.7 -8.8,-0.3 -8.1,-3.6z" fill="#fa680d" class="s4"/>
<path d="M433.4,782.5l8.9,-2.4 -8.1,4.4 -8.8,2.5z" fill="#fa940d" class="s3"/>
<path d="M493.2,764.6l8.6,-0.5 -8.3,3.1 -8.6,0.6z" fill="#fa670d" class="s3"/>
<path d="M365.1,816.4l9,-4.6 -7.8,5.7 -8.9,4.8z" fill="#fae90d" class="s2"/>
<path d="M339.5,832.9l9,-5.5 -7.6,6.2 -9,5.6z" fill="#dcf50d" class="s2"/>
<path d="M612.6,761.3l8.2,3.1 -8.7,0.2 -8.2,-3.1z" fill="#fa5f0d" class="s4"/>
<path d="M715,793l7.6,5.9 -9,-2.8 -7.6,-5.9z" fill="#faae0d"/>
<path d="M510.2,761.2l8.6,0.1 -8.4,2.7 -8.6,0.1z" fill="#fa5e0d" class="s4"/>
<path d="M672.4,775.8l7.9,4.8 -9,-1.5 -7.9,-4.8z" fill="#fa830d" class="s4"/>
<path d="M595.6,758.9l8.3,2.6 -8.7,0.6 -8.3,-2.6z" fill="#fa580d" class="s4"/>
<path d="M527.3,758.9l8.5,0.5 -8.4,2.3 -8.6,-0.4z" fill="#fa580d" class="s4"/>
<path d="M578.5,757.4l8.4,2.1 -8.7,1.1 -8.3,-2.1z" fill="#fa540d" class="s4"/>
<path d="M450.4,775.9l8.8,-1.9 -8.2,4 -8.7,2.1z" fill="#fa820d" class="s3"/>
<path d="M407.7,793.3l8.9,-3.4 -8,5 -8.9,3.4z" fill="#faad0d" class="s3"/>
<path d="M544.4,757.4l8.5,1.1 -8.6,1.9 -8.5,-1z" fill="#fa540d" class="s4"/>
<path d="M561.5,756.9l8.4,1.6 -8.6,1.5 -8.4,-1.5z" fill="#fa520d" class="s4"/>
<path d="M655.4,770l8,4.3 -8.8,-1.1 -8,-4.2z" fill="#fa730d" class="s4"/>
<path d="M381.9,806.3l8.9,-4.2 -7.8,5.4 -8.9,4.3z" fill="#facd0d" class="s2"/>
<path d="M698.2,784.8l7.8,5.4 -9,-2.3 -7.8,-5.4z" fill="#fa970d" class="s4"/>
<path d="M467.4,770.2l8.8,-1.4 -8.3,3.7 -8.7,1.5z" fill="#fa720d" class="s3"/>
<path d="M330.5,838.8l9,-5.9 -7.6,6.3 -9,6z" fill="#d0f50d" class="s2"/>
<path d="M356.2,821.5l8.9,-5.1 -7.7,5.9 -8.9,5.1z" fill="#faf20d" class="s2"/>
<path d="M424.6,785.3l8.8,-2.8 -8,4.5 -8.8,2.9z" fill="#fa970d" class="s3"/>
<path d="M638.5,765.2l8.1,3.8 -8.9,-0.7 -8.1,-3.7z" fill="#fa650d" class="s4"/>
<path d="M484.5,765.5l8.7,-0.9 -8.3,3.2 -8.7,1z" fill="#fa650d" class="s3"/>
<path d="M724,796.1l7.6,6 -9,-3.2 -7.6,-5.9z" fill="#fab20d" class="s4"/>
<path d="M681.3,777.6l7.9,4.9 -8.9,-1.9 -7.9,-4.8z" fill="#fa830d" class="s4"/>
<path d="M621.4,761.4l8.2,3.2 -8.8,-0.2 -8.2,-3.1z" fill="#fa5b0d" class="s4"/>
<path d="M398.8,797l8.9,-3.7 -8,5 -8.9,3.8z" fill="#fab30d" class="s2"/>
<path d="M501.6,761.6l8.6,-0.4 -8.4,2.9 -8.6,0.5z" fill="#fa5b0d" class="s3"/>
<path d="M441.6,778.3l8.8,-2.4 -8.1,4.2 -8.9,2.4z" fill="#fa840d" class="s3"/>
<path d="M604.4,758.5l8.2,2.8 -8.7,0.2 -8.3,-2.6z" fill="#fa530d" class="s4"/>
<path d="M518.7,758.7l8.6,0.2 -8.5,2.4 -8.6,-0.1z" fill="#fa530d" class="s3"/>
<path d="M372.9,810.9l9,-4.6 -7.8,5.5 -9,4.6z" fill="#fad50d" class="s2"/>
<path d="M321.4,845.1l9.1,-6.3 -7.6,6.4 -9,6.3z" fill="#c4f50d" class="s1"/>
<path d="M587.3,756.7l8.3,2.2 -8.7,0.6 -8.4,-2.1z" fill="#fa4d0d" class="s4"/>
<path d="M535.8,756.8l8.6,0.6 -8.6,2 -8.5,-0.5z" fill="#fa4e0d" class="s3"/>
<path d="M347.1,827l9.1,-5.5 -7.7,5.9 -9,5.5z" fill="#f2f50d" class="s2"/>
<path d="M570.1,755.7l8.4,1.7 -8.6,1.1 -8.4,-1.6z" fill="#fa4b0d" class="s4"/>
<path d="M664.4,771.4l8,4.4 -9,-1.5 -8,-4.3z" fill="#fa720d" class="s4"/>
<path d="M553,755.8l8.5,1.1 -8.6,1.6 -8.5,-1.1z" fill="#fa4b0d" class="s3"/>
<path d="M707.2,787.5l7.8,5.5 -9,-2.8 -7.8,-5.4z" fill="#fa9a0d" class="s4"/>
<path d="M458.6,772.1l8.8,-1.9 -8.2,3.8 -8.8,1.9z" fill="#fa730d" class="s3"/>
<path d="M415.7,788.6l8.9,-3.3 -8,4.6 -8.9,3.4z" fill="#fa9c0d" class="s2"/>
<path d="M733.1,799.7l7.6,6 -9.1,-3.6 -7.6,-6z" fill="#fab70d" class="s4"/>
<path d="M647.4,766.2l8,3.8 -8.8,-1 -8.1,-3.8z" fill="#fa630d" class="s4"/>
<path d="M475.7,766.8l8.8,-1.3 -8.3,3.3 -8.8,1.4z" fill="#fa640d" class="s3"/>
<path d="M389.8,801.2l9,-4.2 -8,5.1 -8.9,4.2z" fill="#faba0d" class="s2"/>
<path d="M690.3,779.9l7.9,4.9 -9,-2.3 -7.9,-4.9z" fill="#fa850d" class="s4"/>
<path d="M312.4,851.7l9,-6.6 -7.5,6.4 -9,6.7z" fill="#b6f50d" class="s1"/>
<path d="M630.3,761.9l8.2,3.3 -8.9,-0.6 -8.2,-3.2z" fill="#fa580d" class="s4"/>
<path d="M432.7,781l8.9,-2.7 -8.2,4.2 -8.8,2.8z" fill="#fa870d" class="s2"/>
<path d="M363.9,815.9l9,-5 -7.8,5.5 -8.9,5.1z" fill="#fade0d" class="s2"/>
<path d="M338.1,832.8l9,-5.8 -7.6,5.9 -9,5.9z" fill="#e7f50d" class="s1"/>
<path d="M492.9,762.5l8.7,-0.9 -8.4,3 -8.7,0.9z" fill="#fa590d" class="s3"/>
<path d="M613.2,758.6l8.2,2.8 -8.8,-0.1 -8.2,-2.8z" fill="#fa4f0d" class="s4"/>
<path d="M510,759.1l8.7,-0.4 -8.5,2.5 -8.6,0.4z" fill="#fa4f0d" class="s3"/>
<path d="M716.3,790.6l7.7,5.5 -9,-3.1 -7.8,-5.5z" fill="#fa9e0d" class="s4"/>
<path d="M673.4,773.2l7.9,4.4 -8.9,-1.8 -8,-4.4z" fill="#fa720d" class="s4"/>
<path d="M596,756.3l8.4,2.2 -8.8,0.4 -8.3,-2.2z" fill="#fa480d" class="s3"/>
<path d="M406.8,792.2l8.9,-3.6 -8,4.7 -8.9,3.7z" fill="#faa10d" class="s2"/>
<path d="M527.2,756.6l8.6,0.2 -8.5,2.1 -8.6,-0.2z" fill="#fa490d" class="s3"/>
<path d="M449.8,774.4l8.8,-2.3 -8.2,3.8 -8.8,2.4z" fill="#fa750d" class="s2"/>
<path d="M578.8,754.9l8.5,1.8 -8.8,0.7 -8.4,-1.7z" fill="#fa440d" class="s3"/>
<path d="M544.4,755.1l8.6,0.7 -8.6,1.6 -8.6,-0.6z" fill="#fa450d" class="s3"/>
<path d="M742.2,803.6l7.6,6.1 -9.1,-4 -7.6,-6z" fill="#fabd0d" class="s4"/>
<path d="M561.6,754.5l8.5,1.2 -8.6,1.2 -8.5,-1.1z" fill="#fa430d" class="s3"/>
<path d="M303.3,858.7l9.1,-7 -7.5,6.5 -9.1,7z" fill="#a8f50d" class="s1"/>
<path d="M380.8,805.7l9,-4.5 -7.9,5.1 -9,4.6z" fill="#fac10d" class="s2"/>
<path d="M656.3,767.5l8.1,3.9 -9,-1.4 -8,-3.8z" fill="#fa630d" class="s4"/>
<path d="M329.1,839l9,-6.2 -7.6,6 -9.1,6.3z" fill="#daf50d" class="s1"/>
<path d="M354.9,821.3l9,-5.4 -7.7,5.6 -9.1,5.5z" fill="#fae80d" class="s1"/>
<path d="M466.9,768.6l8.8,-1.8 -8.3,3.4 -8.8,1.9z" fill="#fa650d" class="s2"/>
<path d="M699.4,782.5l7.8,5 -9,-2.7 -7.9,-4.9z" fill="#fa870d" class="s4"/>
<path d="M423.8,784.2l8.9,-3.2 -8.1,4.3 -8.9,3.3z" fill="#fa8b0d" class="s2"/>
<path d="M639.2,762.8l8.2,3.4 -8.9,-1 -8.2,-3.3z" fill="#fa560d" class="s3"/>
<path d="M484.1,763.8l8.8,-1.3 -8.4,3 -8.8,1.3z" fill="#fa580d" class="s2"/>
<path d="M725.4,794.1l7.7,5.6 -9.1,-3.6 -7.7,-5.5z" fill="#faa30d" class="s4"/>
<path d="M294.2,866.1l9.1,-7.4 -7.5,6.5 -9,7.5z" fill="#98f50d" class="s0"/>
<path d="M397.8,796.3l9,-4.1 -8,4.8 -9,4.2z" fill="#faa80d" class="s1"/>
<path d="M622.1,759l8.2,2.9 -8.9,-0.5 -8.2,-2.8z" fill="#fa4b0d" class="s3"/>
<path d="M682.4,775.4l7.9,4.5 -9,-2.3 -7.9,-4.4z" fill="#fa740d" class="s3"/>
<path d="M501.3,759.8l8.7,-0.7 -8.4,2.5 -8.7,0.9z" fill="#fa4d0d" class="s2"/>
<path d="M751.3,807.9l7.6,6.1 -9.1,-4.3 -7.6,-6.1z" fill="#fac40d" class="s3"/>
<path d="M440.9,777.1l8.9,-2.7 -8.2,3.9 -8.9,2.7z" fill="#fa770d" class="s2"/>
<path d="M320,845.6l9.1,-6.6 -7.7,6.1 -9,6.6z" fill="#cdf50d" class="s0"/>
<path d="M371.8,810.6l9,-4.9 -7.9,5.2 -9,5z" fill="#faca0d" class="s1"/>
<path d="M604.9,756.3l8.3,2.3 -8.8,-0.1 -8.4,-2.2z" fill="#fa440d" class="s3"/>
<path d="M518.6,756.9l8.6,-0.3 -8.5,2.1 -8.7,0.4z" fill="#fa450d" class="s2"/>
<path d="M345.8,827.1l9.1,-5.8 -7.8,5.7 -9,5.8z" fill="#faf30d" class="s1"/>
<path d="M587.6,754.4l8.4,1.9 -8.7,0.4 -8.5,-1.8z" fill="#fa3f0d" class="s3"/>
<path d="M535.8,754.8l8.6,0.3 -8.6,1.7 -8.6,-0.2z" fill="#fa3f0d" class="s3"/>
<path d="M570.4,753.6l8.4,1.3 -8.7,0.8 -8.5,-1.2z" fill="#fa3c0d" class="s3"/>
<path d="M553.1,753.7l8.5,0.8 -8.6,1.3 -8.6,-0.7z" fill="#fa3d0d" class="s3"/>
<path d="M665.3,769.2l8.1,4 -9,-1.8 -8.1,-3.9z" fill="#fa630d" class="s3"/>
<path d="M708.5,785.5l7.8,5.1 -9.1,-3.1 -7.8,-5z" fill="#fa8b0d" class="s3"/>
<path d="M458.1,770.8l8.8,-2.2 -8.3,3.5 -8.8,2.3z" fill="#fa660d" class="s2"/>
<path d="M414.8,787.8l9,-3.6 -8.1,4.4 -8.9,3.6z" fill="#fa900d" class="s1"/>
<path d="M285.1,873.9l9.1,-7.8 -7.4,6.6 -9.1,7.7z" fill="#87f50d" class="s0"/>
<path d="M734.5,797.9l7.7,5.7 -9.1,-3.9 -7.7,-5.6z" fill="#faa90d" class="s3"/>
<path d="M648.2,764l8.1,3.5 -8.9,-1.3 -8.2,-3.4z" fill="#fa550d" class="s3"/>
<path d="M475.3,765.5l8.8,-1.7 -8.4,3 -8.8,1.8z" fill="#fa580d" class="s2"/>
<path d="M388.8,800.8l9,-4.5 -8,4.9 -9,4.5z" fill="#faaf0d" class="s1"/>
<path d="M310.9,852.6l9.1,-7 -7.6,6.1 -9.1,7z" fill="#bef50d" class="s0"/>
<path d="M760.5,812.6l7.5,6.2 -9.1,-4.8 -7.6,-6.1z" fill="#facc0d" class="s3"/>
<path d="M691.4,777.9l8,4.6 -9.1,-2.6 -7.9,-4.5z" fill="#fa760d" class="s3"/>
<path d="M362.7,816l9.1,-5.4 -7.9,5.3 -9,5.4z" fill="#fad40d" class="s1"/>
<path d="M336.7,833.2l9.1,-6.1 -7.7,5.7 -9,6.2z" fill="#f0f50d" class="s0"/>
<path d="M432,780.2l8.9,-3.1 -8.2,3.9 -8.9,3.2z" fill="#fa7b0d" class="s1"/>
<path d="M631,759.8l8.2,3 -8.9,-0.9 -8.2,-2.9z" fill="#fa490d" class="s3"/>
<path d="M492.6,761l8.7,-1.2 -8.4,2.7 -8.8,1.3z" fill="#fa4c0d" class="s2"/>
<path d="M275.9,881.9l9.2,-8 -7.4,6.5 -9.1,8.2z" fill="#76f50d" class="s0"/>
<path d="M613.7,756.6l8.4,2.4 -8.9,-0.4 -8.3,-2.3z" fill="#fa400d" class="s3"/>
<path d="M509.9,757.6l8.7,-0.7 -8.6,2.2 -8.7,0.7z" fill="#fa420d" class="s2"/>
<path d="M717.6,788.9l7.8,5.2 -9.1,-3.5 -7.8,-5.1z" fill="#fa900d" class="s3"/>
<path d="M405.9,791.8l8.9,-4 -8,4.4 -9,4.1z" fill="#fa970d" class="s1"/>
<path d="M674.4,771.3l8,4.1 -9,-2.2 -8.1,-4z" fill="#fa640d" class="s3"/>
<path d="M449.2,773.4l8.9,-2.6 -8.3,3.6 -8.9,2.7z" fill="#fa690d" class="s1"/>
<path d="M596.5,754.4l8.4,1.9 -8.9,0 -8.4,-1.9z" fill="#fa3a0d" class="s3"/>
<path d="M527.2,755l8.6,-0.2 -8.6,1.8 -8.6,0.3z" fill="#fa3c0d" class="s2"/>
<path d="M301.7,859.9l9.2,-7.3 -7.6,6.1 -9.1,7.4z" fill="#aff50d" class="s0"/>
<path d="M579.2,753.1l8.4,1.3 -8.8,0.5 -8.4,-1.3z" fill="#fa360d" class="s2"/>
<path d="M544.5,753.4l8.6,0.3 -8.7,1.4 -8.6,-0.3z" fill="#fa370d" class="s2"/>
<path d="M743.7,802.2l7.6,5.7 -9.1,-4.3 -7.7,-5.7z" fill="#faaf0d" class="s3"/>
<path d="M561.8,752.8l8.6,0.8 -8.8,0.9 -8.5,-0.8z" fill="#fa360d" class="s2"/>
<path d="M379.7,805.7l9.1,-4.9 -8,4.9 -9,4.9z" fill="#fab80d" class="s0"/>
<path d="M769.7,817.7l7.5,6.3 -9.2,-5.2 -7.5,-6.2z" fill="#fad50d" class="s3"/>
<path d="M327.6,839.8l9.1,-6.6 -7.6,5.8 -9.1,6.6z" fill="#e3f50d" class="s0"/>
<path d="M353.6,821.7l9.1,-5.7 -7.8,5.3 -9.1,5.8z" fill="#fadf0d" class="s0"/>
<path d="M657.2,765.7l8.1,3.5 -9,-1.7 -8.1,-3.5z" fill="#fa550d" class="s3"/>
<path d="M266.8,890.4l9.1,-8.5 -7.3,6.7 -9.2,8.4z" fill="#64f50d" class="s0"/>
<path d="M466.4,767.6l8.9,-2.1 -8.4,3.1 -8.8,2.2z" fill="#fa590d" class="s1"/>
<path d="M700.5,780.9l8,4.6 -9.1,-3 -8,-4.6z" fill="#fa7a0d" class="s3"/>
<path d="M423,783.7l9,-3.5 -8.2,4 -9,3.6z" fill="#fa800d" class="s1"/>
<path d="M640,761l8.2,3 -9,-1.2 -8.2,-3z" fill="#fa480d" class="s3"/>
<path d="M483.7,762.7l8.9,-1.7 -8.5,2.8 -8.8,1.7z" fill="#fa4c0d" class="s1"/>
<path d="M292.6,867.6l9.1,-7.7 -7.5,6.2 -9.1,7.8z" fill="#9ff50d" class="s0"/>
<path d="M726.7,792.7l7.8,5.2 -9.1,-3.8 -7.8,-5.2z" fill="#fa950d" class="s3"/>
<path d="M396.8,796.2l9.1,-4.4 -8.1,4.5 -9,4.5z" fill="#fa9e0d" class="s0"/>
<path d="M622.7,757.3l8.3,2.5 -8.9,-0.8 -8.4,-2.4z" fill="#fa3e0d" class="s2"/>
<path d="M683.4,773.8l8,4.1 -9,-2.5 -8,-4.1z" fill="#fa660d" class="s3"/>
<path d="M501.1,758.7l8.8,-1.1 -8.6,2.2 -8.7,1.2z" fill="#fa410d" class="s2"/>
<path d="M440.2,776.5l9,-3.1 -8.3,3.7 -8.9,3.1z" fill="#fa6d0d" class="s1"/>
<path d="M257.6,899.2l9.2,-8.8 -7.4,6.6 -9.1,8.9z" fill="#50f50d" class="s0"/>
<path d="M318.5,846.7l9.1,-6.9 -7.6,5.8 -9.1,7z" fill="#d4f50d" class="s0"/>
<path d="M752.9,806.9l7.6,5.7 -9.2,-4.7 -7.6,-5.7z" fill="#fab70d" class="s3"/>
<path d="M370.7,810.9l9,-5.2 -7.9,4.9 -9.1,5.4z" fill="#fac10d" class="s0"/>
<path d="M778.9,823.3l7.5,6.3 -9.2,-5.6 -7.5,-6.3z" fill="#fadf0d" class="s2"/>
<path d="M344.5,827.8l9.1,-6.1 -7.8,5.4 -9.1,6.1z" fill="#faeb0d" class="s0"/>
<path d="M605.3,754.6l8.4,2 -8.8,-0.3 -8.4,-1.9z" fill="#fa360d" class="s2"/>
<path d="M518.4,755.6l8.8,-0.6 -8.6,1.9 -8.7,0.7z" fill="#fa390d" class="s2"/>
<path d="M588,752.9l8.5,1.5 -8.9,0 -8.4,-1.3z" fill="#fa320d" class="s2"/>
<path d="M535.8,753.5l8.7,-0.1 -8.7,1.4 -8.6,0.2z" fill="#fa330d" class="s2"/>
<path d="M570.6,752.1l8.6,1 -8.8,0.5 -8.6,-0.8z" fill="#fa300d" class="s2"/>
<path d="M553.2,752.3l8.6,0.5 -8.7,0.9 -8.6,-0.3z" fill="#fa300d" class="s2"/>
<path d="M666.2,767.7l8.2,3.6 -9.1,-2.1 -8.1,-3.5z" fill="#fa560d" class="s2"/>
<path d="M457.5,770.2l8.9,-2.6 -8.3,3.2 -8.9,2.6z" fill="#fa5c0d" class="s1"/>
<path d="M283.4,875.6l9.2,-8 -7.5,6.3 -9.2,8z" fill="#8df50d" class="s0"/>
<path d="M709.7,784.2l7.9,4.7 -9.1,-3.4 -8,-4.6z" fill="#fa7e0d" class="s2"/>
<path d="M414,787.7l9,-4 -8.2,4.1 -8.9,4z" fill="#fa870d" class="s0"/>
<path d="M248.4,908.3l9.2,-9.1 -7.3,6.7 -9.1,9.1z" fill="#3cf50d" class="s0"/>
<path d="M309.3,854l9.2,-7.3 -7.6,5.9 -9.2,7.3z" fill="#c5f50d" class="s0"/>
<path d="M735.9,796.9l7.8,5.3 -9.2,-4.3 -7.8,-5.2z" fill="#fa9c0d" class="s2"/>
<path d="M387.8,801l9,-4.8 -8,4.6 -9.1,4.9z" fill="#faa60d" class="s0"/>
<path d="M649,762.6l8.2,3.1 -9,-1.7 -8.2,-3z" fill="#fa480d" class="s2"/>
<path d="M474.9,764.7l8.8,-2 -8.4,2.8 -8.9,2.1z" fill="#fa4d0d" class="s1"/>
<path d="M788.1,829.2l7.5,6.3 -9.2,-5.9 -7.5,-6.3z" fill="#faeb0d" class="s2"/>
<path d="M762.1,811.9l7.6,5.8 -9.2,-5.1 -7.6,-5.7z" fill="#fac00d" class="s2"/>
<path d="M335.4,834.3l9.1,-6.5 -7.8,5.4 -9.1,6.6z" fill="#f7f50d" class="s0"/>
<path d="M361.5,816.6l9.2,-5.7 -8,5.1 -9.1,5.7z" fill="#facc0d" class="s0"/>
<path d="M431.2,780l9,-3.5 -8.2,3.7 -9,3.5z" fill="#fa720d" class="s0"/>
<path d="M692.6,776.7l7.9,4.2 -9.1,-3 -8,-4.1z" fill="#fa6a0d" class="s2"/>
<path d="M274.2,884l9.2,-8.4 -7.5,6.3 -9.1,8.5z" fill="#7bf50d" class="s0"/>
<path d="M492.2,760.2l8.9,-1.5 -8.5,2.3 -8.9,1.7z" fill="#fa410d" class="s1"/>
<path d="M631.7,758.5l8.3,2.5 -9,-1.2 -8.3,-2.5z" fill="#fa3d0d" class="s2"/>
<path d="M239.2,917.8l9.2,-9.5 -7.2,6.7 -9.2,9.5z" fill="#27f50d" class="s1"/>
<path d="M509.7,756.7l8.7,-1.1 -8.5,2 -8.8,1.1z" fill="#fa370d" class="s1"/>
<path d="M614.3,755.3l8.4,2 -9,-0.7 -8.4,-2z" fill="#fa340d" class="s2"/>
<path d="M404.9,792l9.1,-4.3 -8.1,4.1 -9.1,4.4z" fill="#fa8e0d" class="s0"/>
<path d="M718.9,788l7.8,4.7 -9.1,-3.8 -7.9,-4.7z" fill="#fa840d" class="s2"/>
<path d="M300.1,861.6l9.2,-7.6 -7.6,5.9 -9.1,7.7z" fill="#b5f50d" class="s0"/>
<path d="M448.6,773.1l8.9,-2.9 -8.3,3.2 -9,3.1z" fill="#fa5f0d" class="s0"/>
<path d="M675.3,770.2l8.1,3.6 -9,-2.5 -8.2,-3.6z" fill="#fa580d" class="s2"/>
<path d="M527.1,754.1l8.7,-0.6 -8.6,1.5 -8.8,0.6z" fill="#fa300d" class="s1"/>
<path d="M596.9,753.1l8.4,1.5 -8.8,-0.2 -8.5,-1.5z" fill="#fa2e0d" class="s2"/>
<path d="M544.6,752.4l8.6,-0.1 -8.7,1.1 -8.7,0.1z" fill="#fa2c0d" class="s1"/>
<path d="M579.5,751.9l8.5,1 -8.8,0.2 -8.6,-1z" fill="#fa2b0d" class="s1"/>
<path d="M378.7,806.3l9.1,-5.3 -8.1,4.7 -9,5.2z" fill="#fab00d" class="s0"/>
<path d="M745.1,801.6l7.8,5.3 -9.2,-4.7 -7.8,-5.3z" fill="#faa40d" class="s2"/>
<path d="M326.2,841.1l9.2,-6.8 -7.8,5.5 -9.1,6.9z" fill="#e9f50d" class="s0"/>
<path d="M797.4,835.6l7.4,6.4 -9.2,-6.5 -7.5,-6.3z" fill="#f8f50d" class="s2"/>
<path d="M562,751.7l8.6,0.4 -8.8,0.7 -8.6,-0.5z" fill="#fa2a0d" class="s1"/>
<path d="M352.4,822.7l9.1,-6.1 -7.9,5.1 -9.1,6.1z" fill="#fad80d" class="s0"/>
<path d="M265,892.8l9.2,-8.8 -7.4,6.4 -9.2,8.8z" fill="#68f50d" class="s1"/>
<path d="M771.3,817.5l7.6,5.8 -9.2,-5.6 -7.6,-5.8z" fill="#faca0d" class="s2"/>
<path d="M230,927.6l9.2,-9.8 -7.2,6.7 -9.2,9.8z" fill="#11f50d" class="s1"/>
<path d="M465.9,767.2l9,-2.5 -8.5,2.9 -8.9,2.6z" fill="#fa4f0d" class="s0"/>
<path d="M658,764.6l8.2,3.1 -9,-2 -8.2,-3.1z" fill="#fa490d" class="s2"/>
<path d="M422.2,783.8l9,-3.8 -8.2,3.7 -9,4z" fill="#fa780d" class="s0"/>
<path d="M701.7,780l8,4.2 -9.2,-3.3 -7.9,-4.2z" fill="#fa6e0d" class="s2"/>
<path d="M290.9,869.6l9.2,-8 -7.5,6 -9.2,8z" fill="#a4f50d" class="s1"/>
<path d="M483.4,762.2l8.8,-2 -8.5,2.5 -8.8,2z" fill="#fa420d" class="s0"/>
<path d="M640.7,760l8.3,2.6 -9,-1.6 -8.3,-2.5z" fill="#fa3c0d" class="s2"/>
<path d="M220.8,937.7l9.2,-10.1 -7.2,6.7 -9.2,10.2z" fill="#08f519" class="s1"/>
<path d="M395.9,796.8l9,-4.8 -8.1,4.2 -9,4.8z" fill="#fa960d" class="s0"/>
<path d="M255.8,901.9l9.2,-9.1 -7.4,6.4 -9.2,9.1z" fill="#54f50d" class="s1"/>
<path d="M728.1,792.2l7.8,4.7 -9.2,-4.2 -7.8,-4.7z" fill="#fa8a0d" class="s2"/>
<path d="M317,848.4l9.2,-7.3 -7.7,5.6 -9.2,7.3z" fill="#daf50d" class="s0"/>
<path d="M806.7,842.4l7.4,6.4 -9.3,-6.8 -7.4,-6.4z" fill="#eaf50d" class="s1"/>
<path d="M439.6,776.5l9,-3.4 -8.4,3.4 -9,3.5z" fill="#fa640d" class="s0"/>
<path d="M369.5,811.9l9.2,-5.6 -8,4.6 -9.2,5.7z" fill="#faba0d" class="s0"/>
<path d="M500.8,758.2l8.9,-1.5 -8.6,2 -8.9,1.5z" fill="#fa370d" class="s0"/>
<path d="M623.3,756.4l8.4,2.1 -9,-1.2 -8.4,-2z" fill="#fa320d" class="s1"/>
<path d="M684.5,773l8.1,3.7 -9.2,-2.9 -8.1,-3.6z" fill="#fa5b0d" class="s1"/>
<path d="M343.2,829.1l9.2,-6.4 -7.9,5.1 -9.1,6.5z" fill="#fae40d" class="s0"/>
<path d="M754.4,806.6l7.7,5.3 -9.2,-5 -7.8,-5.3z" fill="#faad0d" class="s1"/>
<path d="M780.6,823.4l7.5,5.8 -9.2,-5.9 -7.6,-5.8z" fill="#fad60d" class="s1"/>
<path d="M518.3,755.1l8.8,-1 -8.7,1.5 -8.7,1.1z" fill="#fa2f0d" class="s0"/>
<path d="M605.8,753.7l8.5,1.6 -9,-0.7 -8.4,-1.5z" fill="#fa2b0d" class="s1"/>
<path d="M281.7,878l9.2,-8.4 -7.5,6 -9.2,8.4z" fill="#92f50d" class="s1"/>
<path d="M211.5,948.1l9.3,-10.4 -7.2,6.8 -9.2,10.4z" fill="#08f530" class="s2"/>
<path d="M535.8,752.9l8.8,-0.5 -8.8,1.1 -8.7,0.6z" fill="#fa290d" class="s1"/>
<path d="M588.4,752.1l8.5,1 -8.9,-0.2 -8.5,-1z" fill="#fa270d" class="s1"/>
<path d="M413.1,788.1l9.1,-4.3 -8.2,3.9 -9.1,4.3z" fill="#fa7f0d" class="s0"/>
<path d="M553.3,751.6l8.7,0.1 -8.8,0.6 -8.6,0.1z" fill="#fa250d" class="s1"/>
<path d="M457,770.2l8.9,-3 -8.4,3 -8.9,2.9z" fill="#fa530d" class="s0"/>
<path d="M570.9,751.4l8.6,0.5 -8.9,0.2 -8.6,-0.4z" fill="#fa250d" class="s1"/>
<path d="M246.5,911.3l9.3,-9.4 -7.4,6.4 -9.2,9.5z" fill="#3ff50d" class="s1"/>
<path d="M667.2,767l8.1,3.2 -9.1,-2.5 -8.2,-3.1z" fill="#fa4b0d" class="s1"/>
<path d="M710.9,783.7l8,4.3 -9.2,-3.8 -8,-4.2z" fill="#fa730d" class="s1"/>
<path d="M307.8,856l9.2,-7.6 -7.7,5.6 -9.2,7.6z" fill="#caf50d" class="s1"/>
<path d="M816,849.6l7.3,6.4 -9.2,-7.2 -7.4,-6.4z" fill="#dbf50d" class="s1"/>
<path d="M386.7,801.9l9.2,-5.1 -8.1,4.2 -9.1,5.3z" fill="#fa9f0d" class="s0"/>
<path d="M737.3,796.8l7.8,4.8 -9.2,-4.7 -7.8,-4.7z" fill="#fa920d" class="s1"/>
<path d="M334,835.9l9.2,-6.8 -7.8,5.2 -9.2,6.8z" fill="#faf20d" class="s1"/>
<path d="M474.4,764.7l9,-2.5 -8.5,2.5 -9,2.5z" fill="#fa440d" class="s0"/>
<path d="M202.3,958.9l9.2,-10.8 -7.1,6.8 -9.2,10.8z" fill="#08f547" class="s2"/>
<path d="M360.4,817.9l9.1,-6 -8,4.7 -9.1,6.1z" fill="#fac60d" class="s0"/>
<path d="M649.8,761.9l8.2,2.7 -9,-2 -8.3,-2.6z" fill="#fa3d0d" class="s1"/>
<path d="M789.9,829.7l7.5,5.9 -9.3,-6.4 -7.5,-5.8z" fill="#fae20d" class="s1"/>
<path d="M763.7,812.1l7.6,5.4 -9.2,-5.6 -7.7,-5.3z" fill="#fab70d" class="s1"/>
<path d="M272.5,886.7l9.2,-8.7 -7.5,6 -9.2,8.8z" fill="#7ff50d" class="s1"/>
<path d="M430.5,780.4l9.1,-3.9 -8.4,3.5 -9,3.8z" fill="#fa6a0d" class="s0"/>
<path d="M237.3,921.1l9.2,-9.8 -7.3,6.5 -9.2,9.8z" fill="#2af50d" class="s2"/>
<path d="M693.7,776.3l8,3.7 -9.1,-3.3 -8.1,-3.7z" fill="#fa5f0d" class="s1"/>
<path d="M491.9,760.1l8.9,-1.9 -8.6,2 -8.8,2z" fill="#fa380d" class="s0"/>
<path d="M632.3,757.8l8.4,2.2 -9,-1.5 -8.4,-2.1z" fill="#fa320d" class="s1"/>
<path d="M193.1,969.9l9.2,-11 -7.1,6.8 -9.2,11z" fill="#08f55f" class="s2"/>
<path d="M298.6,864l9.2,-8 -7.7,5.6 -9.2,8z" fill="#b9f50d" class="s1"/>
<path d="M404,792.8l9.1,-4.7 -8.2,3.9 -9,4.8z" fill="#fa870d" class="s0"/>
<path d="M509.5,756.5l8.8,-1.4 -8.6,1.6 -8.9,1.5z" fill="#fa2e0d" class="s0"/>
<path d="M825.3,857.3l7.3,6.4 -9.3,-7.7 -7.3,-6.4z" fill="#cbf50d" class="s0"/>
<path d="M614.8,754.7l8.5,1.7 -9,-1.1 -8.5,-1.6z" fill="#fa2a0d" class="s1"/>
<path d="M720.1,787.9l8,4.3 -9.2,-4.2 -8,-4.3z" fill="#fa7a0d" class="s1"/>
<path d="M448,773.5l9,-3.3 -8.4,2.9 -9,3.4z" fill="#fa570d" class="s0"/>
<path d="M676.3,769.8l8.2,3.2 -9.2,-2.8 -8.1,-3.2z" fill="#fa4e0d" class="s1"/>
<path d="M527,753.8l8.8,-0.9 -8.7,1.2 -8.8,1z" fill="#fa270d" class="s0"/>
<path d="M324.8,843.1l9.2,-7.2 -7.8,5.2 -9.2,7.3z" fill="#eef50d" class="s1"/>
<path d="M228,931.2l9.3,-10.1 -7.3,6.5 -9.2,10.1z" fill="#13f50d" class="s2"/>
<path d="M597.3,752.6l8.5,1.1 -8.9,-0.6 -8.5,-1z" fill="#fa240d" class="s0"/>
<path d="M377.6,807.5l9.1,-5.6 -8,4.4 -9.2,5.6z" fill="#faa90d" class="s0"/>
<path d="M263.2,895.8l9.3,-9.1 -7.5,6.1 -9.2,9.1z" fill="#6bf50d" class="s2"/>
<path d="M351.2,824.3l9.2,-6.4 -8,4.8 -9.2,6.4z" fill="#fad20d" class="s1"/>
<path d="M799.2,836.5l7.5,5.9 -9.3,-6.8 -7.5,-5.9z" fill="#faef0d" class="s0"/>
<path d="M544.6,752.1l8.7,-0.5 -8.7,0.8 -8.8,0.5z" fill="#fa220d" class="s0"/>
<path d="M579.8,751.5l8.6,0.6 -8.9,-0.2 -8.6,-0.5z" fill="#fa210d" class="s0"/>
<path d="M746.6,801.8l7.8,4.8 -9.3,-5 -7.8,-4.8z" fill="#fa9b0d" class="s0"/>
<path d="M562.2,751.3l8.7,0.1 -8.9,0.3 -8.7,-0.1z" fill="#fa200d" class="s0"/>
<path d="M772.9,818l7.7,5.4 -9.3,-5.9 -7.6,-5.4z" fill="#fac20d" class="s0"/>
<path d="M465.4,767.5l9,-2.8 -8.5,2.5 -8.9,3z" fill="#fa470d" class="s0"/>
<path d="M421.4,784.6l9.1,-4.2 -8.3,3.4 -9.1,4.3z" fill="#fa700d" class="s0"/>
<path d="M658.9,764.2l8.3,2.8 -9.2,-2.4 -8.2,-2.7z" fill="#fa3f0d" class="s0"/>
<path d="M289.3,872.3l9.3,-8.3 -7.7,5.6 -9.2,8.4z" fill="#a7f50d" class="s2"/>
<path d="M702.9,779.9l8,3.8 -9.2,-3.7 -8,-3.7z" fill="#fa640d" class="s0"/>
<path d="M834.6,865.4l7.3,6.4 -9.3,-8.1 -7.3,-6.4z" fill="#baf50d" class="s0"/>
<path d="M218.7,941.6l9.3,-10.4 -7.2,6.5 -9.3,10.4z" fill="#08f518" class="s2"/>
<path d="M253.9,905.2l9.3,-9.4 -7.4,6.1 -9.3,9.4z" fill="#56f50d" class="s2"/>
<path d="M483,762.5l8.9,-2.4 -8.5,2.1 -9,2.5z" fill="#fa3a0d" class="s0"/>
<path d="M394.9,798l9.1,-5.2 -8.1,4 -9.2,5.1z" fill="#fa900d" class="s1"/>
<path d="M641.4,759.7l8.4,2.2 -9.1,-1.9 -8.4,-2.2z" fill="#fa330d" class="s0"/>
<path d="M315.6,850.7l9.2,-7.6 -7.8,5.3 -9.2,7.6z" fill="#def50d" class="s1"/>
<path d="M729.4,792.4l7.9,4.4 -9.2,-4.6 -8,-4.3z" fill="#fa810d" class="s0"/>
<path d="M808.5,843.7l7.5,5.9 -9.3,-7.2 -7.5,-5.9z" fill="#f1f50d" class="s0"/>
<path d="M368.4,813.5l9.2,-6 -8.1,4.4 -9.1,6z" fill="#fab50d" class="s1"/>
<path d="M341.9,831.1l9.3,-6.8 -8,4.8 -9.2,6.8z" fill="#fadf0d" class="s1"/>
<path d="M438.9,777.3l9.1,-3.8 -8.4,3 -9.1,3.9z" fill="#fa5d0d" class="s0"/>
<path d="M500.6,758.4l8.9,-1.9 -8.7,1.7 -8.9,1.9z" fill="#fa2f0d" class="s0"/>
<path d="M755.9,807.2l7.8,4.9 -9.3,-5.5 -7.8,-4.8z" fill="#faa50d" class="s0"/>
<path d="M685.5,773l8.2,3.3 -9.2,-3.3 -8.2,-3.2z" fill="#fa520d" class="s0"/>
<path d="M623.9,756.1l8.4,1.7 -9,-1.4 -8.5,-1.7z" fill="#fa290d" class="s0"/>
<path d="M782.3,824.3l7.6,5.4 -9.3,-6.3 -7.7,-5.4z" fill="#face0d" class="s0"/>
<path d="M209.5,952.4l9.2,-10.8 -7.2,6.5 -9.2,10.8z" fill="#08f52f" class="s3"/>
<path d="M280,881l9.3,-8.7 -7.6,5.7 -9.2,8.7z" fill="#95f50d" class="s2"/>
<path d="M518.2,755.2l8.8,-1.4 -8.7,1.3 -8.8,1.4z" fill="#fa260d" class="s0"/>
<path d="M843.9,873.9l7.3,6.5 -9.3,-8.6 -7.3,-6.4z" fill="#a8f50d" class="s0"/>
<path d="M606.3,753.6l8.5,1.1 -9,-1 -8.5,-1.1z" fill="#fa220d" class="s0"/>
<path d="M244.6,915l9.3,-9.8 -7.4,6.1 -9.2,9.8z" fill="#41f50d" class="s2"/>
<path d="M535.8,752.9l8.8,-0.8 -8.8,0.8 -8.8,0.9z" fill="#fa200d" class="s0"/>
<path d="M412.3,789.3l9.1,-4.7 -8.3,3.5 -9.1,4.7z" fill="#fa780d" class="s1"/>
<path d="M588.7,751.9l8.6,0.7 -8.9,-0.5 -8.6,-0.6z" fill="#fa1e0d" class="s0"/>
<path d="M456.4,770.8l9,-3.3 -8.4,2.7 -9,3.3z" fill="#fa4b0d" class="s0"/>
<path d="M571.1,751.3l8.7,0.2 -8.9,-0.1 -8.7,-0.1z" fill="#fa1c0d" class="s0"/>
<path d="M712.1,784l8,3.9 -9.2,-4.2 -8,-3.8z" fill="#fa6b0d" class="s0"/>
<path d="M668.1,767l8.2,2.8 -9.1,-2.8 -8.3,-2.8z" fill="#fa420d" class="s0"/>
<path d="M306.3,858.7l9.3,-8 -7.8,5.3 -9.2,8z" fill="#cef50d" class="s2"/>
<path d="M200.2,963.4l9.3,-11 -7.2,6.5 -9.2,11z" fill="#08f547" class="s3"/>
<path d="M817.9,851.4l7.4,5.9 -9.3,-7.7 -7.5,-5.9z" fill="#e1f50d" class="s0"/>
<path d="M385.7,803.5l9.2,-5.5 -8.2,3.9 -9.1,5.6z" fill="#fa9a0d" class="s1"/>
<path d="M332.7,838.2l9.2,-7.1 -7.9,4.8 -9.2,7.2z" fill="#faee0d" class="s2"/>
<path d="M359.2,819.8l9.2,-6.3 -8,4.4 -9.2,6.4z" fill="#fac10d" class="s1"/>
<path d="M738.7,797.4l7.9,4.4 -9.3,-5 -7.9,-4.4z" fill="#fa8a0d" class="s0"/>
<path d="M474,765.3l9,-2.8 -8.6,2.2 -9,2.8z" fill="#fa3d0d" class="s0"/>
<path d="M270.7,890.1l9.3,-9.1 -7.5,5.7 -9.3,9.1z" fill="#81f50d" class="s2"/>
<path d="M235.3,925.1l9.3,-10.1 -7.3,6.1 -9.3,10.1z" fill="#2af50d" class="s3"/>
<path d="M791.6,831.1l7.6,5.4 -9.3,-6.8 -7.6,-5.4z" fill="#fadb0d" class="s0"/>
<path d="M853.2,882.9l7.3,6.4 -9.3,-8.9 -7.3,-6.5z" fill="#95f50d" class="s0"/>
<path d="M650.6,762l8.3,2.2 -9.1,-2.3 -8.4,-2.2z" fill="#fa340d" class="s0"/>
<path d="M429.8,781.5l9.1,-4.2 -8.4,3.1 -9.1,4.2z" fill="#fa630d" class="s1"/>
<path d="M694.7,776.6l8.2,3.3 -9.2,-3.6 -8.2,-3.3z" fill="#fa570d" class="s0"/>
<path d="M491.6,760.7l9,-2.3 -8.7,1.7 -8.9,2.4z" fill="#fa300d" class="s0"/>
<path d="M633,758l8.4,1.7 -9.1,-1.9 -8.4,-1.7z" fill="#fa290d" class="s0"/>
<path d="M297,867l9.3,-8.3 -7.7,5.3 -9.3,8.3z" fill="#bcf50d" class="s2"/>
<path d="M403.1,794.3l9.2,-5 -8.3,3.5 -9.1,5.2z" fill="#fa810d" class="s1"/>
<path d="M827.2,859.5l7.4,5.9 -9.3,-8.1 -7.4,-5.9z" fill="#d0f50d" class="s0"/>
<path d="M509.3,757l8.9,-1.8 -8.7,1.3 -8.9,1.9z" fill="#fa270d" class="s0"/>
<path d="M226,935.5l9.3,-10.4 -7.3,6.1 -9.3,10.4z" fill="#13f50d" class="s3"/>
<path d="M261.4,899.5l9.3,-9.4 -7.5,5.7 -9.3,9.4z" fill="#6cf50d" class="s3"/>
<path d="M447.3,774.5l9.1,-3.7 -8.4,2.7 -9.1,3.8z" fill="#fa510d" class="s1"/>
<path d="M615.4,754.9l8.5,1.2 -9.1,-1.4 -8.5,-1.1z" fill="#fa210d" class="s0"/>
<path d="M323.4,845.8l9.3,-7.6 -7.9,4.9 -9.2,7.6z" fill="#f1f50d" class="s2"/>
<path d="M721.4,788.5l8,3.9 -9.3,-4.5 -8,-3.9z" fill="#fa720d" class="s0"/>
<path d="M862.6,892.3l7.2,6.4 -9.3,-9.4 -7.3,-6.4z" fill="#80f50d" class="s1"/>
<path d="M376.5,809.4l9.2,-5.9 -8.1,4 -9.2,6z" fill="#faa50d" class="s2"/>
<path d="M677.3,770.1l8.2,2.9 -9.2,-3.2 -8.2,-2.8z" fill="#fa460d" class="s0"/>
<path d="M349.9,826.6l9.3,-6.8 -8,4.5 -9.3,6.8z" fill="#face0d" class="s2"/>
<path d="M527,754.2l8.8,-1.3 -8.8,0.9 -8.8,1.4z" fill="#fa1f0d" class="s0"/>
<path d="M597.7,752.8l8.6,0.8 -9,-1 -8.6,-0.7z" fill="#fa1c0d" class="s0"/>
<path d="M801,838.3l7.5,5.4 -9.3,-7.2 -7.6,-5.4z" fill="#fae90d" class="s0"/>
<path d="M544.7,752.4l8.8,-0.8 -8.9,0.5 -8.8,0.8z" fill="#fa1b0d" class="s0"/>
<path d="M748,802.8l7.9,4.4 -9.3,-5.4 -7.9,-4.4z" fill="#fa940d" class="s0"/>
<path d="M580.1,751.7l8.6,0.2 -8.9,-0.4 -8.7,-0.2z" fill="#fa190d" class="s0"/>
<path d="M562.4,751.6l8.7,-0.3 -8.9,0 -8.7,0.3z" fill="#fa180d" class="s0"/>
<path d="M774.6,819.4l7.7,4.9 -9.4,-6.3 -7.7,-4.9z" fill="#fabb0d" class="s0"/>
<path d="M465,768.5l9,-3.2 -8.6,2.2 -9,3.3z" fill="#fa410d" class="s1"/>
<path d="M287.7,875.7l9.3,-8.7 -7.7,5.3 -9.3,8.7z" fill="#a9f50d" class="s3"/>
<path d="M420.6,786.1l9.2,-4.6 -8.4,3.1 -9.1,4.7z" fill="#fa6b0d" class="s1"/>
<path d="M216.7,946.2l9.3,-10.7 -7.3,6.1 -9.2,10.8z" fill="#08f519" class="s3"/>
<path d="M659.7,764.7l8.4,2.3 -9.2,-2.8 -8.3,-2.2z" fill="#fa370d" class="s0"/>
<path d="M836.6,868l7.3,5.9 -9.3,-8.5 -7.4,-5.9z" fill="#bef50d" class="s1"/>
<path d="M252.1,909.2l9.3,-9.7 -7.5,5.7 -9.3,9.8z" fill="#57f50d" class="s3"/>
<path d="M871.9,902.2l7.2,6.4 -9.3,-9.9 -7.2,-6.4z" fill="#6bf50d" class="s2"/>
<path d="M704,780.6l8.1,3.4 -9.2,-4.1 -8.2,-3.3z" fill="#fa5d0d" class="s0"/>
<path d="M314.1,853.7l9.3,-7.9 -7.8,4.9 -9.3,8z" fill="#e1f50d" class="s2"/>
<path d="M393.9,799.8l9.2,-5.5 -8.2,3.7 -9.2,5.5z" fill="#fa8b0d" class="s2"/>
<path d="M482.6,763.4l9,-2.7 -8.6,1.8 -9,2.8z" fill="#fa330d" class="s1"/>
<path d="M642.1,760.2l8.5,1.8 -9.2,-2.3 -8.4,-1.7z" fill="#fa2b0d" class="s0"/>
<path d="M340.6,833.7l9.3,-7.1 -8,4.5 -9.2,7.1z" fill="#fadc0d" class="s2"/>
<path d="M367.3,815.7l9.2,-6.3 -8.1,4.1 -9.2,6.3z" fill="#fab10d" class="s2"/>
<path d="M810.3,845.9l7.6,5.5 -9.4,-7.7 -7.5,-5.4z" fill="#f6f50d" class="s1"/>
<path d="M730.7,793.5l8,3.9 -9.3,-5 -8,-3.9z" fill="#fa7b0d" class="s0"/>
<path d="M207.4,957.3l9.3,-11.1 -7.2,6.2 -9.3,11z" fill="#08f530" class="s3"/>
<path d="M438.2,778.7l9.1,-4.2 -8.4,2.8 -9.1,4.2z" fill="#fa570d" class="s1"/>
<path d="M500.3,759.2l9,-2.2 -8.7,1.4 -9,2.3z" fill="#fa280d" class="s1"/>
<path d="M278.4,884.7l9.3,-9 -7.7,5.3 -9.3,9.1z" fill="#96f50d" class="s3"/>
<path d="M783.9,826.1l7.7,5 -9.3,-6.8 -7.7,-4.9z" fill="#fac80d" class="s1"/>
<path d="M757.4,808.6l7.8,4.5 -9.3,-5.9 -7.9,-4.4z" fill="#fa9e0d" class="s0"/>
<path d="M686.5,773.7l8.2,2.9 -9.2,-3.6 -8.2,-2.9z" fill="#fa4b0d" class="s0"/>
<path d="M624.5,756.7l8.5,1.3 -9.1,-1.9 -8.5,-1.2z" fill="#fa220d" class="s0"/>
<path d="M242.8,919.3l9.3,-10.1 -7.5,5.8 -9.3,10.1z" fill="#41f50d" class="s3"/>
<path d="M881.3,912.5l7.1,6.4 -9.3,-10.3 -7.2,-6.4z" fill="#54f50d" class="s2"/>
<path d="M845.9,877l7.3,5.9 -9.3,-9 -7.3,-5.9z" fill="#abf50d" class="s1"/>
<path d="M518,756l9,-1.8 -8.8,1 -8.9,1.8z" fill="#fa200d" class="s1"/>
<path d="M606.8,754.1l8.6,0.8 -9.1,-1.3 -8.6,-0.8z" fill="#fa1b0d" class="s0"/>
<path d="M411.5,791.1l9.1,-5 -8.3,3.2 -9.2,5z" fill="#fa740d" class="s2"/>
<path d="M535.8,753.7l8.9,-1.3 -8.9,0.5 -8.8,1.3z" fill="#fa1a0d" class="s1"/>
<path d="M304.8,862l9.3,-8.3 -7.8,5 -9.3,8.3z" fill="#cff50d" class="s3"/>
<path d="M455.9,772.2l9.1,-3.7 -8.6,2.3 -9.1,3.7z" fill="#fa460d" class="s1"/>
<path d="M589.1,752.6l8.6,0.2 -9,-0.9 -8.6,-0.2z" fill="#fa170d" class="s0"/>
<path d="M553.6,752.4l8.8,-0.8 -8.9,0 -8.8,0.8z" fill="#fa160d" class="s1"/>
<path d="M571.3,752l8.8,-0.3 -9,-0.4 -8.7,0.3z" fill="#fa150d" class="s1"/>
<path d="M713.3,785.1l8.1,3.4 -9.3,-4.5 -8.1,-3.4z" fill="#fa640d" class="s0"/>
<path d="M669,767.8l8.3,2.3 -9.2,-3.1 -8.4,-2.3z" fill="#fa3b0d" class="s0"/>
<path d="M819.7,854l7.5,5.5 -9.3,-8.1 -7.6,-5.5z" fill="#e5f50d" class="s1"/>
<path d="M384.7,805.7l9.2,-5.9 -8.2,3.7 -9.2,5.9z" fill="#fa960d" class="s2"/>
<path d="M331.3,841.2l9.3,-7.5 -7.9,4.5 -9.3,7.6z" fill="#faec0d" class="s3"/>
<path d="M233.4,929.7l9.4,-10.4 -7.5,5.8 -9.3,10.4z" fill="#2af50d" class="s3"/>
<path d="M269,894.1l9.4,-9.4 -7.7,5.4 -9.3,9.4z" fill="#81f50d" class="s3"/>
<path d="M358,822.4l9.3,-6.7 -8.1,4.1 -9.3,6.8z" fill="#fabe0d" class="s2"/>
<path d="M855.3,886.4l7.3,5.9 -9.4,-9.4 -7.3,-5.9z" fill="#97f50d" class="s2"/>
<path d="M473.6,766.6l9,-3.2 -8.6,1.9 -9,3.2z" fill="#fa370d" class="s2"/>
<path d="M740.1,798.8l7.9,4 -9.3,-5.4 -8,-3.9z" fill="#fa840d" class="s1"/>
<path d="M793.3,833.3l7.7,5 -9.4,-7.2 -7.7,-5z" fill="#fad70d" class="s1"/>
<path d="M766.7,814.9l7.9,4.5 -9.4,-6.3 -7.8,-4.5z" fill="#faaa0d" class="s1"/>
<path d="M429.1,783.2l9.1,-4.5 -8.4,2.8 -9.2,4.6z" fill="#fa5f0d" class="s2"/>
<path d="M651.3,762.8l8.4,1.9 -9.1,-2.7 -8.5,-1.8z" fill="#fa2d0d" class="s1"/>
<path d="M295.4,870.6l9.4,-8.6 -7.8,5 -9.3,8.7z" fill="#bdf50d" class="s3"/>
<path d="M695.8,777.7l8.2,2.9 -9.3,-4 -8.2,-2.9z" fill="#fa510d" class="s1"/>
<path d="M491.3,761.9l9,-2.7 -8.7,1.5 -9,2.7z" fill="#fa2b0d" class="s2"/>
<path d="M224.1,940.4l9.3,-10.7 -7.4,5.8 -9.3,10.7z" fill="#12f50d" class="s4"/>
<path d="M633.7,758.8l8.4,1.4 -9.1,-2.2 -8.5,-1.3z" fill="#fa230d" class="s1"/>
<path d="M829.1,862.5l7.5,5.5 -9.4,-8.5 -7.5,-5.5z" fill="#d3f50d" class="s2"/>
<path d="M402.2,796.5l9.3,-5.4 -8.4,3.2 -9.2,5.5z" fill="#fa7e0d" class="s2"/>
<path d="M259.7,903.8l9.3,-9.7 -7.6,5.4 -9.3,9.7z" fill="#6cf50d" class="s3"/>
<path d="M322,849.1l9.3,-7.9 -7.9,4.6 -9.3,7.9z" fill="#f3f50d" class="s3"/>
<path d="M864.7,896.3l7.2,5.9 -9.3,-9.9 -7.3,-5.9z" fill="#81f50d" class="s2"/>
<path d="M509.1,758.2l8.9,-2.2 -8.7,1 -9,2.2z" fill="#fa210d" class="s2"/>
<path d="M446.7,776.3l9.2,-4.1 -8.6,2.3 -9.1,4.2z" fill="#fa4c0d" class="s2"/>
<path d="M375.4,812l9.3,-6.3 -8.2,3.7 -9.2,6.3z" fill="#faa20d" class="s3"/>
<path d="M722.7,790l8,3.5 -9.3,-5 -8.1,-3.4z" fill="#fa6d0d" class="s1"/>
<path d="M615.9,755.8l8.6,0.9 -9.1,-1.8 -8.6,-0.8z" fill="#fa1b0d" class="s1"/>
<path d="M348.7,829.5l9.3,-7.1 -8.1,4.2 -9.3,7.1z" fill="#facc0d" class="s3"/>
<path d="M802.7,840.9l7.6,5 -9.3,-7.6 -7.7,-5z" fill="#fae60d" class="s2"/>
<path d="M526.9,755.4l8.9,-1.7 -8.8,0.5 -9,1.8z" fill="#fa1a0d" class="s1"/>
<path d="M678.2,771.3l8.3,2.4 -9.2,-3.6 -8.3,-2.3z" fill="#fa400d" class="s1"/>
<path d="M598.1,753.8l8.7,0.3 -9.1,-1.3 -8.6,-0.2z" fill="#fa160d" class="s1"/>
<path d="M749.4,804.7l8,3.9 -9.4,-5.8 -7.9,-4z" fill="#fa8f0d" class="s1"/>
<path d="M544.7,753.6l8.9,-1.2 -8.9,0 -8.9,1.3z" fill="#fa150d" class="s1"/>
<path d="M214.7,951.4l9.4,-11 -7.4,5.8 -9.3,11.1z" fill="#08f51b" class="s4"/>
<path d="M776.1,821.6l7.8,4.5 -9.3,-6.7 -7.9,-4.5z" fill="#fab70d" class="s2"/>
<path d="M580.3,752.8l8.8,-0.2 -9,-0.9 -8.8,0.3z" fill="#fa130d" class="s1"/>
<path d="M286.1,879.6l9.3,-9 -7.7,5.1 -9.3,9z" fill="#aaf50d" class="s3"/>
<path d="M562.5,752.7l8.8,-0.7 -8.9,-0.4 -8.8,0.8z" fill="#fa120d" class="s1"/>
<path d="M464.5,770.2l9.1,-3.6 -8.6,1.9 -9.1,3.7z" fill="#fa3c0d" class="s2"/>
<path d="M250.3,913.8l9.4,-10 -7.6,5.4 -9.3,10.1z" fill="#56f50d" class="s4"/>
<path d="M419.9,788.2l9.2,-5 -8.5,2.9 -9.1,5z" fill="#fa670d" class="s2"/>
<path d="M838.5,871.5l7.4,5.5 -9.3,-9 -7.5,-5.5z" fill="#c0f50d" class="s2"/>
<path d="M874,906.6l7.3,5.9 -9.4,-10.3 -7.2,-5.9z" fill="#6bf50d" class="s3"/>
<path d="M660.6,765.9l8.4,1.9 -9.3,-3.1 -8.4,-1.9z" fill="#fa310d" class="s1"/>
<path d="M312.7,857.3l9.3,-8.2 -7.9,4.6 -9.3,8.3z" fill="#e2f50d" class="s3"/>
<path d="M705.1,782.2l8.2,2.9 -9.3,-4.5 -8.2,-2.9z" fill="#fa580d" class="s1"/>
<path d="M393,802.3l9.2,-5.8 -8.3,3.3 -9.2,5.9z" fill="#fa880d" class="s3"/>
<path d="M482.2,765.1l9.1,-3.2 -8.7,1.5 -9,3.2z" fill="#fa2f0d" class="s2"/>
<path d="M339.4,837l9.3,-7.5 -8.1,4.2 -9.3,7.5z" fill="#fadb0d" class="s3"/>
<path d="M366.1,818.6l9.3,-6.6 -8.1,3.7 -9.3,6.7z" fill="#faaf0d" class="s3"/>
<path d="M812.1,849l7.6,5 -9.4,-8.1 -7.6,-5z" fill="#f8f50d" class="s2"/>
<path d="M642.9,761.4l8.4,1.4 -9.2,-2.6 -8.4,-1.4z" fill="#fa250d" class="s1"/>
<path d="M276.7,889l9.4,-9.4 -7.7,5.1 -9.4,9.4z" fill="#95f50d" class="s4"/>
<path d="M732,795.4l8.1,3.4 -9.4,-5.3 -8,-3.5z" fill="#fa760d" class="s2"/>
<path d="M437.6,780.8l9.1,-4.5 -8.5,2.4 -9.1,4.5z" fill="#fa540d" class="s2"/>
<path d="M240.9,924.2l9.4,-10.4 -7.5,5.5 -9.4,10.4z" fill="#3ff50d" class="s4"/>
<path d="M785.5,828.8l7.8,4.5 -9.4,-7.2 -7.8,-4.5z" fill="#fac50d" class="s2"/>
<path d="M500.1,760.8l9,-2.6 -8.8,1 -9,2.7z" fill="#fa240d" class="s2"/>
<path d="M758.8,810.9l7.9,4 -9.3,-6.3 -8,-3.9z" fill="#fa9b0d" class="s2"/>
<path d="M847.9,880.9l7.4,5.5 -9.4,-9.4 -7.4,-5.5z" fill="#acf50d" class="s3"/>
<path d="M687.5,775.3l8.3,2.4 -9.3,-4 -8.3,-2.4z" fill="#fa450d" class="s2"/>
<path d="M625.1,758l8.6,0.8 -9.2,-2.1 -8.6,-0.9z" fill="#fa1c0d" class="s2"/>
<path d="M517.9,757.6l9,-2.2 -8.9,0.6 -8.9,2.2z" fill="#fa1b0d" class="s2"/>
<path d="M303.3,866l9.4,-8.7 -7.9,4.7 -9.4,8.6z" fill="#cff50d" class="s4"/>
<path d="M410.6,793.6l9.3,-5.4 -8.4,2.9 -9.3,5.4z" fill="#fa710d" class="s3"/>
<path d="M607.3,755.5l8.6,0.3 -9.1,-1.7 -8.7,-0.3z" fill="#fa160d" class="s2"/>
<path d="M455.3,774.3l9.2,-4.1 -8.6,2 -9.2,4.1z" fill="#fa420d" class="s3"/>
<path d="M535.8,755.2l8.9,-1.6 -8.9,0.1 -8.9,1.7z" fill="#fa150d" class="s2"/>
<path d="M589.4,754l8.7,-0.2 -9,-1.2 -8.8,0.2z" fill="#fa120d" class="s2"/>
<path d="M231.5,934.9l9.4,-10.7 -7.5,5.5 -9.3,10.7z" fill="#27f50d" class="s4"/>
<path d="M821.5,857.5l7.6,5 -9.4,-8.5 -7.6,-5z" fill="#e7f50d" class="s3"/>
<path d="M553.7,753.8l8.8,-1.1 -8.9,-0.3 -8.9,1.2z" fill="#fa110d" class="s2"/>
<path d="M267.3,898.7l9.4,-9.7 -7.7,5.1 -9.3,9.7z" fill="#80f50d" class="s4"/>
<path d="M571.5,753.4l8.8,-0.6 -9,-0.8 -8.8,0.7z" fill="#fa100d" class="s2"/>
<path d="M330,844.8l9.4,-7.8 -8.1,4.2 -9.3,7.9z" fill="#faeb0d" class="s3"/>
<path d="M383.7,808.6l9.3,-6.3 -8.3,3.4 -9.3,6.3z" fill="#fa940d" class="s3"/>
<path d="M714.5,787l8.2,3 -9.4,-4.9 -8.2,-2.9z" fill="#fa600d" class="s2"/>
<path d="M669.9,769.4l8.3,1.9 -9.2,-3.5 -8.4,-1.9z" fill="#fa360d" class="s2"/>
<path d="M356.8,825.7l9.3,-7.1 -8.1,3.8 -9.3,7.1z" fill="#fabd0d" class="s3"/>
<path d="M857.3,890.8l7.4,5.5 -9.4,-9.9 -7.4,-5.5z" fill="#96f50d" class="s3"/>
<path d="M795,836.4l7.7,4.5 -9.4,-7.6 -7.8,-4.5z" fill="#fad40d" class="s3"/>
<path d="M473.1,768.6l9.1,-3.5 -8.6,1.5 -9.1,3.6z" fill="#fa340d" class="s3"/>
<path d="M741.4,801.2l8,3.5 -9.3,-5.9 -8.1,-3.4z" fill="#fa810d" class="s2"/>
<path d="M768.3,817.6l7.8,4 -9.4,-6.7 -7.9,-4z" fill="#faa70d" class="s2"/>
<path d="M428.3,785.7l9.3,-4.9 -8.5,2.4 -9.2,5z" fill="#fa5c0d" class="s3"/>
<path d="M652.1,764.5l8.5,1.4 -9.3,-3.1 -8.4,-1.4z" fill="#fa290d" class="s2"/>
<path d="M293.9,875l9.4,-9 -7.9,4.6 -9.3,9z" fill="#bcf50d" class="s4"/>
<path d="M222.1,946l9.4,-11.1 -7.4,5.5 -9.4,11z" fill="#0ff50d" class="s4"/>
<path d="M696.9,779.7l8.2,2.5 -9.3,-4.5 -8.3,-2.4z" fill="#fa4c0d" class="s2"/>
<path d="M257.9,908.7l9.4,-10 -7.6,5.1 -9.4,10z" fill="#6af50d" class="s4"/>
<path d="M491,763.9l9.1,-3.1 -8.8,1.1 -9.1,3.2z" fill="#fa270d" class="s3"/>
<path d="M831,866.5l7.5,5 -9.4,-9 -7.6,-5z" fill="#d3f50d" class="s3"/>
<path d="M401.4,799.4l9.2,-5.8 -8.4,2.9 -9.2,5.8z" fill="#fa7c0d" class="s3"/>
<path d="M866.7,901.2l7.3,5.4 -9.3,-10.3 -7.4,-5.5z" fill="#80f50d" class="s4"/>
<path d="M320.6,853.1l9.4,-8.3 -8,4.3 -9.3,8.2z" fill="#f3f50d" class="s4"/>
<path d="M634.3,760.5l8.6,0.9 -9.2,-2.6 -8.6,-0.8z" fill="#fa1e0d" class="s2"/>
<path d="M374.4,815.2l9.3,-6.6 -8.3,3.4 -9.3,6.6z" fill="#faa10d" class="s3"/>
<path d="M446.1,778.7l9.2,-4.4 -8.6,2 -9.1,4.5z" fill="#fa4a0d" class="s3"/>
<path d="M347.5,833.1l9.3,-7.4 -8.1,3.8 -9.3,7.5z" fill="#facc0d" class="s4"/>
<path d="M508.9,760.2l9,-2.6 -8.8,0.6 -9,2.6z" fill="#fa1d0d" class="s3"/>
<path d="M723.9,792.4l8.1,3 -9.3,-5.4 -8.2,-3z" fill="#fa690d" class="s2"/>
<path d="M616.4,757.6l8.7,0.4 -9.2,-2.2 -8.6,-0.3z" fill="#fa170d" class="s2"/>
<path d="M804.4,844.5l7.7,4.5 -9.4,-8.1 -7.7,-4.5z" fill="#fae50d" class="s3"/>
<path d="M526.8,757.3l9,-2.1 -8.9,0.2 -9,2.2z" fill="#fa160d" class="s3"/>
<path d="M679.2,773.3l8.3,2 -9.3,-4 -8.3,-1.9z" fill="#fa3c0d" class="s2"/>
<path d="M284.5,884.3l9.4,-9.3 -7.8,4.6 -9.4,9.4z" fill="#a8f50d" class="s4"/>
<path d="M750.8,807.4l8,3.5 -9.4,-6.2 -8,-3.5z" fill="#fa8c0d" class="s3"/>
<path d="M598.5,755.6l8.8,-0.1 -9.2,-1.7 -8.7,0.2z" fill="#fa110d" class="s2"/>
<path d="M777.7,824.8l7.8,4 -9.4,-7.2 -7.8,-4z" fill="#fab50d" class="s3"/>
<path d="M248.5,919.1l9.4,-10.4 -7.6,5.1 -9.4,10.4z" fill="#53f50d" class="s4"/>
<path d="M544.8,755.5l8.9,-1.7 -9,-0.2 -8.9,1.6z" fill="#fa110d" class="s3"/>
<path d="M580.6,754.6l8.8,-0.6 -9.1,-1.2 -8.8,0.6z" fill="#fa0f0d" class="s2"/>
<path d="M562.7,754.5l8.8,-1.1 -9,-0.7 -8.8,1.1z" fill="#fa0f0d" class="s3"/>
<path d="M840.4,876l7.5,4.9 -9.4,-9.4 -7.5,-5z" fill="#bff50d" class="s4"/>
<path d="M419.1,791.1l9.2,-5.4 -8.4,2.5 -9.3,5.4z" fill="#fa660d" class="s3"/>
<path d="M464,772.6l9.1,-4 -8.6,1.6 -9.2,4.1z" fill="#fa3a0d" class="s3"/>
<path d="M311.2,861.7l9.4,-8.6 -7.9,4.2 -9.4,8.7z" fill="#e1f50d" class="s4"/>
<path d="M661.4,767.9l8.5,1.5 -9.3,-3.5 -8.5,-1.4z" fill="#fa2d0d" class="s2"/>
<path d="M706.3,784.6l8.2,2.4 -9.4,-4.8 -8.2,-2.5z" fill="#fa550d" class="s3"/>
<path d="M392,805.6l9.4,-6.2 -8.4,2.9 -9.3,6.3z" fill="#fa870d" class="s4"/>
<path d="M338.1,841l9.4,-7.9 -8.1,3.9 -9.4,7.8z" fill="#fadb0d" class="s4"/>
<path d="M365,822.2l9.4,-7 -8.3,3.4 -9.3,7.1z" fill="#faaf0d" class="s4"/>
<path d="M481.9,767.5l9.1,-3.6 -8.8,1.2 -9.1,3.5z" fill="#fa2c0d" class="s3"/>
<path d="M813.9,853l7.6,4.5 -9.4,-8.5 -7.7,-4.5z" fill="#f8f50d" class="s3"/>
<path d="M275.1,894l9.4,-9.7 -7.8,4.7 -9.4,9.7z" fill="#93f50d" class="s4"/>
<path d="M239.1,929.8l9.4,-10.7 -7.6,5.1 -9.4,10.7z" fill="#3cf50d"/>
<path d="M643.6,763.5l8.5,1 -9.2,-3.1 -8.6,-0.9z" fill="#fa220d" class="s3"/>
<path d="M436.9,783.6l9.2,-4.9 -8.5,2.1 -9.3,4.9z" fill="#fa520d" class="s3"/>
<path d="M733.3,798.1l8.1,3.1 -9.4,-5.8 -8.1,-3z" fill="#fa740d" class="s3"/>
<path d="M849.8,885.9l7.5,4.9 -9.4,-9.9 -7.5,-4.9z" fill="#aaf50d" class="s4"/>
<path d="M787.2,832.4l7.8,4 -9.5,-7.6 -7.8,-4z" fill="#fac40d" class="s3"/>
<path d="M760.3,814.1l8,3.5 -9.5,-6.7 -8,-3.5z" fill="#fa990d" class="s3"/>
<path d="M499.8,763.2l9.1,-3 -8.8,0.6 -9.1,3.1z" fill="#fa210d" class="s3"/>
<path d="M688.5,777.7l8.4,2 -9.4,-4.4 -8.3,-2z" fill="#fa430d" class="s3"/>
<path d="M625.7,760.1l8.6,0.4 -9.2,-2.5 -8.7,-0.4z" fill="#fa190d" class="s3"/>
<path d="M301.8,870.6l9.4,-8.9 -7.9,4.3 -9.4,9z" fill="#cef50d" class="s4"/>
<path d="M409.8,796.8l9.3,-5.7 -8.5,2.5 -9.2,5.8z" fill="#fa700d" class="s4"/>
<path d="M517.8,759.9l9,-2.6 -8.9,0.3 -9,2.6z" fill="#fa180d" class="s3"/>
<path d="M229.6,940.9l9.5,-11.1 -7.6,5.1 -9.4,11.1z" fill="#23f50d"/>
<path d="M607.7,757.6l8.7,0 -9.1,-2.1 -8.8,0.1z" fill="#fa120d" class="s3"/>
<path d="M265.6,904l9.5,-10 -7.8,4.7 -9.4,10z" fill="#7df50d"/>
<path d="M454.8,777.1l9.2,-4.5 -8.7,1.7 -9.2,4.4z" fill="#fa410d" class="s3"/>
<path d="M823.3,862l7.7,4.5 -9.5,-9 -7.6,-4.5z" fill="#e6f50d" class="s4"/>
<path d="M328.7,849.2l9.4,-8.2 -8.1,3.8 -9.4,8.3z" fill="#faec0d" class="s4"/>
<path d="M535.8,757.5l9,-2 -9,-0.3 -9,2.1z" fill="#fa120d" class="s3"/>
<path d="M382.7,812.2l9.3,-6.6 -8.3,3 -9.3,6.6z" fill="#fa940d" class="s4"/>
<path d="M589.8,756.2l8.7,-0.6 -9.1,-1.6 -8.8,0.6z" fill="#fa0e0d" class="s3"/>
<path d="M859.3,896.2l7.4,5 -9.4,-10.4 -7.5,-4.9z" fill="#93f50d" class="s4"/>
<path d="M553.8,756.1l8.9,-1.6 -9,-0.7 -8.9,1.7z" fill="#fa0e0d" class="s3"/>
<path d="M355.6,829.7l9.4,-7.5 -8.2,3.5 -9.3,7.4z" fill="#fabd0d" class="s4"/>
<path d="M715.7,789.8l8.2,2.6 -9.4,-5.4 -8.2,-2.4z" fill="#fa5e0d" class="s3"/>
<path d="M571.8,755.6l8.8,-1 -9.1,-1.2 -8.8,1.1z" fill="#fa0d0d" class="s3"/>
<path d="M670.7,771.8l8.5,1.5 -9.3,-3.9 -8.5,-1.5z" fill="#fa330d" class="s3"/>
<path d="M796.6,840.5l7.8,4 -9.4,-8.1 -7.8,-4z" fill="#fad50d" class="s4"/>
<path d="M742.7,804.4l8.1,3 -9.4,-6.2 -8.1,-3.1z" fill="#fa7f0d" class="s3"/>
<path d="M472.7,771.4l9.2,-3.9 -8.8,1.1 -9.1,4z" fill="#fa320d" class="s4"/>
<path d="M292.4,880l9.4,-9.4 -7.9,4.4 -9.4,9.3z" fill="#baf50d"/>
<path d="M769.7,821.2l8,3.6 -9.4,-7.2 -8,-3.5z" fill="#faa70d" class="s3"/>
<path d="M427.6,788.9l9.3,-5.3 -8.6,2.1 -9.2,5.4z" fill="#fa5b0d" class="s4"/>
<path d="M256.2,914.4l9.4,-10.4 -7.7,4.7 -9.4,10.4z" fill="#66f50d"/>
<path d="M652.9,767l8.5,0.9 -9.3,-3.4 -8.5,-1z" fill="#fa260d" class="s3"/>
<path d="M832.8,871.5l7.6,4.5 -9.4,-9.5 -7.7,-4.5z" fill="#d1f50d" class="s4"/>
<path d="M697.9,782.5l8.4,2.1 -9.4,-4.9 -8.4,-2z" fill="#fa4a0d" class="s3"/>
<path d="M490.7,766.7l9.1,-3.5 -8.8,0.7 -9.1,3.6z" fill="#fa250d" class="s4"/>
<path d="M319.2,857.8l9.5,-8.6 -8.1,3.9 -9.4,8.6z" fill="#f1f50d"/>
<path d="M400.5,803l9.3,-6.2 -8.4,2.6 -9.4,6.2z" fill="#fa7c0d" class="s4"/>
<path d="M634.9,763l8.7,0.5 -9.3,-3 -8.6,-0.4z" fill="#fa1c0d" class="s3"/>
<path d="M346.2,837.5l9.4,-7.8 -8.1,3.4 -9.4,7.9z" fill="#facd0d" class="s4"/>
<path d="M373.3,819.2l9.4,-7 -8.3,3 -9.4,7z" fill="#faa20d" class="s4"/>
<path d="M445.5,781.9l9.3,-4.8 -8.7,1.6 -9.2,4.9z" fill="#fa490d" class="s4"/>
<path d="M508.7,762.9l9.1,-3 -8.9,0.3 -9.1,3z" fill="#fa1c0d" class="s4"/>
<path d="M806.1,849l7.8,4 -9.5,-8.5 -7.8,-4z" fill="#fae60d" class="s4"/>
<path d="M725.1,795.6l8.2,2.5 -9.4,-5.7 -8.2,-2.6z" fill="#fa680d" class="s3"/>
<path d="M282.9,889.6l9.5,-9.6 -7.9,4.3 -9.4,9.7z" fill="#a5f50d"/>
<path d="M617,760.1l8.7,0 -9.3,-2.5 -8.7,0z" fill="#fa140d" class="s3"/>
<path d="M246.7,925.1l9.5,-10.7 -7.7,4.7 -9.4,10.7z" fill="#4ff50d"/>
<path d="M526.7,760l9.1,-2.5 -9,-0.2 -9,2.6z" fill="#fa140d" class="s4"/>
<path d="M680.1,776.2l8.4,1.5 -9.3,-4.4 -8.5,-1.5z" fill="#fa3a0d" class="s3"/>
<path d="M779.2,828.8l8,3.6 -9.5,-7.6 -8,-3.6z" fill="#fab60d" class="s4"/>
<path d="M752.2,811l8.1,3.1 -9.5,-6.7 -8.1,-3z" fill="#fa8c0d" class="s4"/>
<path d="M842.3,881.4l7.5,4.5 -9.4,-9.9 -7.6,-4.5z" fill="#bcf50d"/>
<path d="M598.9,758.2l8.8,-0.6 -9.2,-2 -8.7,0.6z" fill="#fa0f0d" class="s3"/>
<path d="M544.8,758.1l9,-2 -9,-0.6 -9,2z" fill="#fa0f0d" class="s4"/>
<path d="M580.9,757.2l8.9,-1 -9.2,-1.6 -8.8,1z" fill="#fa0d0d" class="s3"/>
<path d="M418.3,794.6l9.3,-5.7 -8.5,2.2 -9.3,5.7z" fill="#fa660d" class="s4"/>
<path d="M562.9,757.2l8.9,-1.6 -9.1,-1.1 -8.9,1.6z" fill="#fa0d0d" class="s4"/>
<path d="M463.5,775.8l9.2,-4.4 -8.7,1.2 -9.2,4.5z" fill="#fa390d" class="s4"/>
<path d="M309.8,866.7l9.4,-8.9 -8,3.9 -9.4,8.9z" fill="#def50d"/>
<path d="M662.2,770.8l8.5,1 -9.3,-3.9 -8.5,-0.9z" fill="#fa2c0d" class="s4"/>
<path d="M391.1,809.6l9.4,-6.6 -8.5,2.6 -9.3,6.6z" fill="#fa880d" class="s4"/>
<path d="M336.8,845.7l9.4,-8.2 -8.1,3.5 -9.4,8.2z" fill="#fade0d"/>
<path d="M707.4,787.8l8.3,2 -9.4,-5.2 -8.4,-2.1z" fill="#fa540d" class="s4"/>
<path d="M237.2,936.2l9.5,-11.1 -7.6,4.7 -9.5,11.1z" fill="#37f50d"/>
<path d="M273.4,899.7l9.5,-10.1 -7.8,4.4 -9.5,10z" fill="#8ff50d"/>
<path d="M815.6,858l7.7,4 -9.4,-9 -7.8,-4z" fill="#f6f50d" class="s4"/>
<path d="M363.9,826.6l9.4,-7.4 -8.3,3 -9.4,7.5z" fill="#fab00d"/>
<path d="M481.5,770.6l9.2,-3.9 -8.8,0.8 -9.2,3.9z" fill="#fa2b0d" class="s4"/>
<path d="M851.8,891.8l7.5,4.4 -9.5,-10.3 -7.5,-4.5z" fill="#a6f50d"/>
<path d="M436.2,787.2l9.3,-5.3 -8.6,1.7 -9.3,5.3z" fill="#fa520d" class="s4"/>
<path d="M734.6,801.8l8.1,2.6 -9.4,-6.3 -8.2,-2.5z" fill="#fa740d" class="s4"/>
<path d="M788.7,836.9l7.9,3.6 -9.4,-8.1 -8,-3.6z" fill="#fac60d" class="s4"/>
<path d="M644.3,766.4l8.6,0.6 -9.3,-3.5 -8.7,-0.5z" fill="#fa200d" class="s4"/>
<path d="M761.7,818.2l8,3 -9.4,-7.1 -8.1,-3.1z" fill="#fa9a0d" class="s4"/>
<path d="M499.6,766.3l9.1,-3.4 -8.9,0.3 -9.1,3.5z" fill="#fa200d" class="s4"/>
<path d="M300.3,876l9.5,-9.3 -8,3.9 -9.4,9.4z" fill="#caf50d"/>
<path d="M689.5,781l8.4,1.5 -9.4,-4.8 -8.4,-1.5z" fill="#fa420d" class="s4"/>
<path d="M626.2,763l8.7,0 -9.2,-2.9 -8.7,0z" fill="#fa170d" class="s4"/>
<path d="M264,910.1l9.4,-10.4 -7.8,4.3 -9.4,10.4z" fill="#78f50d"/>
<path d="M409,800.8l9.3,-6.2 -8.5,2.2 -9.3,6.2z" fill="#fa710d"/>
<path d="M517.7,763l9,-3 -8.9,-0.1 -9.1,3z" fill="#fa170d" class="s4"/>
<path d="M825.1,867.5l7.7,4 -9.5,-9.5 -7.7,-4z" fill="#e2f50d"/>
<path d="M327.4,854.2l9.4,-8.5 -8.1,3.5 -9.5,8.6z" fill="#faef0d"/>
<path d="M454.2,780.6l9.3,-4.8 -8.7,1.3 -9.3,4.8z" fill="#fa410d" class="s4"/>
<path d="M608.2,760.6l8.8,-0.5 -9.3,-2.5 -8.8,0.6z" fill="#fa110d" class="s4"/>
<path d="M381.7,816.5l9.4,-6.9 -8.4,2.6 -9.4,7z" fill="#fa960d"/>
<path d="M535.8,760.6l9,-2.5 -9,-0.6 -9.1,2.5z" fill="#fa110d" class="s4"/>
<path d="M354.5,834.4l9.4,-7.8 -8.3,3.1 -9.4,7.8z" fill="#fac00d"/>
<path d="M590.1,759.2l8.8,-1 -9.1,-2 -8.9,1z" fill="#fa0d0d" class="s4"/>
<path d="M716.8,793.5l8.3,2.1 -9.4,-5.8 -8.3,-2z" fill="#fa5e0d" class="s4"/>
<path d="M553.9,759.2l9,-2 -9.1,-1.1 -9,2z" fill="#fa0d0d" class="s4"/>
<path d="M572,758.7l8.9,-1.5 -9.1,-1.6 -8.9,1.6z" fill="#fa0c0d" class="s4"/>
<path d="M671.6,775.1l8.5,1.1 -9.4,-4.4 -8.5,-1z" fill="#fa320d" class="s4"/>
<path d="M798.2,845.4l7.9,3.6 -9.5,-8.5 -7.9,-3.6z" fill="#fad70d"/>
<path d="M290.8,885.7l9.5,-9.7 -7.9,4 -9.5,9.6z" fill="#b5f50d"/>
<path d="M744.1,808.5l8.1,2.5 -9.5,-6.6 -8.1,-2.6z" fill="#fa800d" class="s4"/>
<path d="M472.3,775l9.2,-4.4 -8.8,0.8 -9.2,4.4z" fill="#fa320d" class="s4"/>
<path d="M771.2,825.8l8,3 -9.5,-7.6 -8,-3z" fill="#faa90d"/>
<path d="M254.5,920.8l9.5,-10.7 -7.8,4.3 -9.5,10.7z" fill="#61f50d"/>
<path d="M426.9,792.9l9.3,-5.7 -8.6,1.7 -9.3,5.7z" fill="#fa5c0d"/>
<path d="M834.6,877.4l7.7,4 -9.5,-9.9 -7.7,-4z" fill="#cdf50d"/>
<path d="M653.6,770.3l8.6,0.5 -9.3,-3.8 -8.6,-0.6z" fill="#fa260d" class="s4"/>
<path d="M317.9,863.2l9.5,-9 -8.2,3.6 -9.4,8.9z" fill="#edf50d"/>
<path d="M699,786.2l8.4,1.6 -9.5,-5.3 -8.4,-1.5z" fill="#fa4b0d" class="s4"/>
<path d="M399.6,807.3l9.4,-6.5 -8.5,2.2 -9.4,6.6z" fill="#fa7d0d"/>
<path d="M490.4,770.2l9.2,-3.9 -8.9,0.4 -9.2,3.9z" fill="#fa260d" class="s4"/>
<path d="M345,842.5l9.5,-8.1 -8.3,3.1 -9.4,8.2z" fill="#fad00d"/>
<path d="M372.3,823.9l9.4,-7.4 -8.4,2.7 -9.4,7.4z" fill="#faa40d"/>
<path d="M635.6,766.4l8.7,0 -9.4,-3.4 -8.7,0z" fill="#fa1c0d" class="s4"/>
<path d="M807.8,854.4l7.8,3.6 -9.5,-9 -7.9,-3.6z" fill="#faea0d"/>
<path d="M281.3,895.7l9.5,-10 -7.9,3.9 -9.5,10.1z" fill="#a0f50d"/>
<path d="M444.9,785.9l9.3,-5.3 -8.7,1.3 -9.3,5.3z" fill="#fa4a0d"/>
<path d="M244.9,931.8l9.6,-11 -7.8,4.3 -9.5,11.1z" fill="#49f50d"/>
<path d="M508.5,766.4l9.2,-3.4 -9,-0.1 -9.1,3.4z" fill="#fa1c0d" class="s4"/>
<path d="M726.3,799.7l8.3,2.1 -9.5,-6.2 -8.3,-2.1z" fill="#fa690d"/>
<path d="M844.1,887.8l7.7,4 -9.5,-10.4 -7.7,-4z" fill="#b6f50d"/>
<path d="M617.5,763.5l8.7,-0.5 -9.2,-2.9 -8.8,0.5z" fill="#fa140d" class="s4"/>
<path d="M780.7,833.8l8,3.1 -9.5,-8.1 -8,-3z" fill="#fab90d"/>
<path d="M753.6,815.6l8.1,2.6 -9.5,-7.2 -8.1,-2.5z" fill="#fa8e0d"/>
<path d="M681,779.9l8.5,1.1 -9.4,-4.8 -8.5,-1.1z" fill="#fa3a0d" class="s4"/>
<path d="M526.7,763.5l9.1,-2.9 -9.1,-0.6 -9,3z" fill="#fa140d" class="s4"/>
<path d="M599.3,761.6l8.9,-1 -9.3,-2.4 -8.8,1z" fill="#fa0f0d" class="s4"/>
<path d="M308.4,872.5l9.5,-9.3 -8.1,3.5 -9.5,9.3z" fill="#d9f50d"/>
<path d="M544.8,761.6l9.1,-2.4 -9.1,-1.1 -9,2.5z" fill="#fa0f0d" class="s4"/>
<path d="M417.6,799l9.3,-6.1 -8.6,1.7 -9.3,6.2z" fill="#fa670d"/>
<path d="M581.2,760.6l8.9,-1.4 -9.2,-2 -8.9,1.5z" fill="#fa0d0d" class="s4"/>
<path d="M563,760.6l9,-1.9 -9.1,-1.5 -9,2z" fill="#fa0d0d" class="s4"/>
<path d="M463,779.7l9.3,-4.7 -8.8,0.8 -9.3,4.8z" fill="#fa3a0d"/>
<path d="M271.8,906.1l9.5,-10.4 -7.9,4 -9.4,10.4z" fill="#89f50d"/>
<path d="M335.6,851.1l9.4,-8.6 -8.2,3.2 -9.4,8.5z" fill="#fae10d"/>
<path d="M390.2,814.3l9.4,-7 -8.5,2.3 -9.4,6.9z" fill="#fa8b0d"/>
<path d="M817.3,863.9l7.8,3.6 -9.5,-9.5 -7.8,-3.6z" fill="#f1f50d"/>
<path d="M663,774.6l8.6,0.5 -9.4,-4.3 -8.6,-0.5z" fill="#fa2c0d"/>
<path d="M708.4,792l8.4,1.5 -9.4,-5.7 -8.4,-1.6z" fill="#fa550d"/>
<path d="M362.8,831.7l9.5,-7.8 -8.4,2.7 -9.4,7.8z" fill="#fab30d"/>
<path d="M481.1,774.5l9.3,-4.3 -8.9,0.4 -9.2,4.4z" fill="#fa2c0d"/>
<path d="M790.3,842.4l7.9,3 -9.5,-8.5 -8,-3.1z" fill="#faca0d"/>
<path d="M435.6,791.5l9.3,-5.6 -8.7,1.3 -9.3,5.7z" fill="#fa540d"/>
<path d="M735.8,806.4l8.3,2.1 -9.5,-6.7 -8.3,-2.1z" fill="#fa760d"/>
<path d="M644.9,770.2l8.7,0.1 -9.3,-3.9 -8.7,0z" fill="#fa210d"/>
<path d="M763.1,823.2l8.1,2.6 -9.5,-7.6 -8.1,-2.6z" fill="#fa9d0d"/>
<path d="M298.9,882.1l9.5,-9.6 -8.1,3.5 -9.5,9.7z" fill="#c5f50d"/>
<path d="M499.3,770.2l9.2,-3.8 -8.9,-0.1 -9.2,3.9z" fill="#fa210d"/>
<path d="M262.3,916.8l9.5,-10.7 -7.8,4 -9.5,10.7z" fill="#72f50d"/>
<path d="M690.5,785.2l8.5,1 -9.5,-5.2 -8.5,-1.1z" fill="#fa430d"/>
<path d="M826.8,873.9l7.8,3.5 -9.5,-9.9 -7.8,-3.6z" fill="#dcf50d"/>
<path d="M408.1,805.5l9.5,-6.5 -8.6,1.8 -9.4,6.5z" fill="#fa740d"/>
<path d="M626.8,766.8l8.8,-0.4 -9.4,-3.4 -8.7,0.5z" fill="#fa180d"/>
<path d="M326,860l9.6,-8.9 -8.2,3.1 -9.5,9z" fill="#faf40d"/>
<path d="M517.5,766.9l9.2,-3.4 -9,-0.5 -9.2,3.4z" fill="#fa180d"/>
<path d="M453.7,785l9.3,-5.3 -8.8,0.9 -9.3,5.3z" fill="#fa430d"/>
<path d="M380.7,821.6l9.5,-7.3 -8.5,2.2 -9.4,7.4z" fill="#fa990d"/>
<path d="M353.3,839.8l9.5,-8.1 -8.3,2.7 -9.5,8.1z" fill="#fac40d"/>
<path d="M608.6,764.4l8.9,-0.9 -9.3,-2.9 -8.9,1z" fill="#fa120d"/>
<path d="M535.7,764.5l9.1,-2.9 -9,-1 -9.1,2.9z" fill="#fa120d"/>
<path d="M717.9,798.1l8.4,1.6 -9.5,-6.2 -8.4,-1.5z" fill="#fa600d"/>
<path d="M590.4,763l8.9,-1.4 -9.2,-2.4 -8.9,1.4z" fill="#fa0e0d"/>
<path d="M799.8,851.4l8,3 -9.6,-9 -7.9,-3z" fill="#fadc0d"/>
<path d="M554,763l9,-2.4 -9.1,-1.4 -9.1,2.4z" fill="#fa0e0d"/>
<path d="M572.2,762.5l9,-1.9 -9.2,-1.9 -9,1.9z" fill="#fa0d0d"/>
<path d="M289.3,892.2l9.6,-10.1 -8.1,3.6 -9.5,10z" fill="#aff50d"/>
<path d="M672.5,779.3l8.5,0.6 -9.4,-4.8 -8.6,-0.5z" fill="#fa340d"/>
<path d="M252.7,927.8l9.6,-11 -7.8,4 -9.6,11z" fill="#5af50d"/>
<path d="M745.3,813.5l8.3,2.1 -9.5,-7.1 -8.3,-2.1z" fill="#fa830d"/>
<path d="M772.7,831.3l8,2.5 -9.5,-8 -8.1,-2.6z" fill="#faad0d"/>
<path d="M471.9,779.3l9.2,-4.8 -8.8,0.5 -9.3,4.7z" fill="#fa340d"/>
<path d="M836.4,884.3l7.7,3.5 -9.5,-10.4 -7.8,-3.5z" fill="#c6f50d"/>
<path d="M426.2,797.6l9.4,-6.1 -8.7,1.4 -9.3,6.1z" fill="#fa5f0d"/>
<path d="M316.5,869.3l9.5,-9.3 -8.1,3.2 -9.5,9.3z" fill="#e7f50d"/>
<path d="M654.3,774.5l8.7,0.1 -9.4,-4.3 -8.7,-0.1z" fill="#fa270d"/>
<path d="M398.7,812.4l9.4,-6.9 -8.5,1.8 -9.4,7z" fill="#fa810d"/>
<path d="M700,790.9l8.4,1.1 -9.4,-5.8 -8.5,-1z" fill="#fa4d0d"/>
<path d="M490.1,774.5l9.2,-4.3 -8.9,0 -9.3,4.3z" fill="#fa280d"/>
<path d="M343.8,848.4l9.5,-8.6 -8.3,2.7 -9.4,8.6z" fill="#fad50d"/>
<path d="M371.2,829.4l9.5,-7.8 -8.4,2.3 -9.5,7.8z" fill="#faa80d"/>
<path d="M279.8,902.5l9.5,-10.3 -8,3.5 -9.5,10.4z" fill="#99f50d"/>
<path d="M809.4,860.9l7.9,3 -9.5,-9.5 -8,-3z" fill="#faf00d"/>
<path d="M636.2,770.6l8.7,-0.4 -9.3,-3.8 -8.8,0.4z" fill="#fa1d0d"/>
<path d="M444.3,790.6l9.4,-5.6 -8.8,0.9 -9.3,5.6z" fill="#fa4d0d"/>
<path d="M727.5,804.8l8.3,1.6 -9.5,-6.7 -8.4,-1.6z" fill="#fa6c0d"/>
<path d="M508.3,770.7l9.2,-3.8 -9,-0.5 -9.2,3.8z" fill="#fa1e0d"/>
<path d="M782.2,839.8l8.1,2.6 -9.6,-8.6 -8,-2.5z" fill="#fabe0d"/>
<path d="M754.9,821.1l8.2,2.1 -9.5,-7.6 -8.3,-2.1z" fill="#fa920d"/>
<path d="M618,767.7l8.8,-0.9 -9.3,-3.3 -8.9,0.9z" fill="#fa160d"/>
<path d="M681.9,784.6l8.6,0.6 -9.5,-5.3 -8.5,-0.6z" fill="#fa3d0d"/>
<path d="M526.6,767.8l9.1,-3.3 -9,-1 -9.2,3.4z" fill="#fa160d"/>
<path d="M307,879l9.5,-9.7 -8.1,3.2 -9.5,9.6z" fill="#d3f50d"/>
<path d="M416.8,804.1l9.4,-6.5 -8.6,1.4 -9.5,6.5z" fill="#fa6b0d"/>
<path d="M599.7,765.8l8.9,-1.4 -9.3,-2.8 -8.9,1.4z" fill="#fa110d"/>
<path d="M544.9,765.9l9.1,-2.9 -9.2,-1.4 -9.1,2.9z" fill="#fa110d"/>
<path d="M462.5,784.5l9.4,-5.2 -8.9,0.4 -9.3,5.3z" fill="#fa3d0d"/>
<path d="M581.5,764.9l8.9,-1.9 -9.2,-2.4 -9,1.9z" fill="#fa0f0d"/>
<path d="M270.2,913.2l9.6,-10.7 -8,3.6 -9.5,10.7z" fill="#82f50d"/>
<path d="M563.2,764.9l9,-2.4 -9.2,-1.9 -9,2.4z" fill="#fa0f0d"/>
<path d="M819,870.8l7.8,3.1 -9.5,-10 -7.9,-3z" fill="#eaf50d"/>
<path d="M334.3,857.3l9.5,-8.9 -8.2,2.7 -9.6,8.9z" fill="#fae70d"/>
<path d="M389.2,819.8l9.5,-7.4 -8.5,1.9 -9.5,7.3z" fill="#fa8f0d"/>
<path d="M361.7,837.5l9.5,-8.1 -8.4,2.3 -9.5,8.1z" fill="#fab80d"/>
<path d="M709.5,797l8.4,1.1 -9.5,-6.1 -8.4,-1.1z" fill="#fa580d"/>
<path d="M663.8,779.2l8.7,0.1 -9.5,-4.7 -8.7,-0.1z" fill="#fa2f0d"/>
<path d="M480.8,779.3l9.3,-4.8 -9,0 -9.2,4.8z" fill="#fa2f0d"/>
<path d="M791.8,848.8l8,2.6 -9.5,-9 -8.1,-2.6z" fill="#fad00d"/>
<path d="M737,811.9l8.3,1.6 -9.5,-7.1 -8.3,-1.6z" fill="#fa7a0d"/>
<path d="M297.4,889l9.6,-10 -8.1,3.1 -9.6,10.1z" fill="#bef50d"/>
<path d="M434.9,796.7l9.4,-6.1 -8.7,0.9 -9.4,6.1z" fill="#fa580d"/>
<path d="M764.5,829.2l8.2,2.1 -9.6,-8.1 -8.2,-2.1z" fill="#faa20d"/>
<path d="M260.6,924.3l9.6,-11.1 -7.9,3.6 -9.6,11z" fill="#6af50d"/>
<path d="M645.6,774.9l8.7,-0.4 -9.4,-4.3 -8.7,0.4z" fill="#fa240d"/>
<path d="M828.5,881.3l7.9,3 -9.6,-10.4 -7.8,-3.1z" fill="#d4f50d"/>
<path d="M499.1,775l9.2,-4.3 -9,-0.5 -9.2,4.3z" fill="#fa240d"/>
<path d="M691.4,790.2l8.6,0.7 -9.5,-5.7 -8.6,-0.6z" fill="#fa470d"/>
<path d="M324.8,866.6l9.5,-9.3 -8.3,2.7 -9.5,9.3z" fill="#f4f50d"/>
<path d="M407.3,811l9.5,-6.9 -8.7,1.4 -9.4,6.9z" fill="#fa780d"/>
<path d="M627.4,771.5l8.8,-0.9 -9.4,-3.8 -8.8,0.9z" fill="#fa1b0d"/>
<path d="M517.4,771.6l9.2,-3.8 -9.1,-0.9 -9.2,3.8z" fill="#fa1c0d"/>
<path d="M352.2,846l9.5,-8.5 -8.4,2.3 -9.5,8.6z" fill="#faca0d"/>
<path d="M379.7,827.5l9.5,-7.7 -8.5,1.8 -9.5,7.8z" fill="#fa9e0d"/>
<path d="M453.2,790.1l9.3,-5.6 -8.8,0.5 -9.4,5.6z" fill="#fa470d"/>
<path d="M609.1,769.1l8.9,-1.4 -9.4,-3.3 -8.9,1.4z" fill="#fa150d"/>
<path d="M801.4,858.3l8,2.6 -9.6,-9.5 -8,-2.6z" fill="#fae30d"/>
<path d="M287.8,899.4l9.6,-10.4 -8.1,3.2 -9.5,10.3z" fill="#a7f50d"/>
<path d="M535.7,769.2l9.2,-3.3 -9.2,-1.4 -9.1,3.3z" fill="#fa150d"/>
<path d="M719,803.7l8.5,1.1 -9.6,-6.7 -8.4,-1.1z" fill="#fa650d"/>
<path d="M590.8,767.7l8.9,-1.9 -9.3,-2.8 -8.9,1.9z" fill="#fa110d"/>
<path d="M554.1,767.7l9.1,-2.8 -9.2,-1.9 -9.1,2.9z" fill="#fa120d"/>
<path d="M673.3,784.4l8.6,0.2 -9.4,-5.3 -8.7,-0.1z" fill="#fa380d"/>
<path d="M572.4,767.2l9.1,-2.3 -9.3,-2.4 -9,2.4z" fill="#fa100d"/>
<path d="M774.1,837.7l8.1,2.1 -9.5,-8.5 -8.2,-2.1z" fill="#fab30d"/>
<path d="M746.6,819.5l8.3,1.6 -9.6,-7.6 -8.3,-1.6z" fill="#fa890d"/>
<path d="M425.5,803.1l9.4,-6.4 -8.7,0.9 -9.4,6.5z" fill="#fa640d"/>
<path d="M471.4,784.4l9.4,-5.1 -8.9,0 -9.4,5.2z" fill="#fa380d"/>
<path d="M315.2,876.2l9.6,-9.6 -8.3,2.7 -9.5,9.7z" fill="#e0f50d"/>
<path d="M655.1,779.6l8.7,-0.4 -9.5,-4.7 -8.7,0.4z" fill="#fa2b0d"/>
<path d="M397.8,818.3l9.5,-7.3 -8.6,1.4 -9.5,7.4z" fill="#fa860d"/>
<path d="M342.7,855l9.5,-9 -8.4,2.4 -9.5,8.9z" fill="#fadc0d"/>
<path d="M278.2,910.1l9.6,-10.7 -8,3.1 -9.6,10.7z" fill="#90f50d"/>
<path d="M701,796.4l8.5,0.6 -9.5,-6.1 -8.6,-0.7z" fill="#fa520d"/>
<path d="M811,868.3l8,2.5 -9.6,-9.9 -8,-2.6z" fill="#f7f50d"/>
<path d="M370.2,835.6l9.5,-8.1 -8.5,1.9 -9.5,8.1z" fill="#faae0d"/>
<path d="M489.8,779.7l9.3,-4.7 -9,-0.5 -9.3,4.8z" fill="#fa2c0d"/>
<path d="M443.8,796.1l9.4,-6 -8.9,0.5 -9.4,6.1z" fill="#fa520d"/>
<path d="M636.8,775.7l8.8,-0.8 -9.4,-4.3 -8.8,0.9z" fill="#fa210d"/>
<path d="M728.6,810.8l8.4,1.1 -9.5,-7.1 -8.5,-1.1z" fill="#fa720d"/>
<path d="M783.7,846.8l8.1,2 -9.6,-9 -8.1,-2.1z" fill="#fac50d"/>
<path d="M508.1,775.9l9.3,-4.3 -9.1,-0.9 -9.2,4.3z" fill="#fa220d"/>
<path d="M756.2,827.6l8.3,1.6 -9.6,-8.1 -8.3,-1.6z" fill="#fa990d"/>
<path d="M305.6,886.2l9.6,-10 -8.2,2.8 -9.6,10z" fill="#cbf50d"/>
<path d="M618.5,772.9l8.9,-1.4 -9.4,-3.8 -8.9,1.4z" fill="#fa1a0d"/>
<path d="M682.8,790.1l8.6,0.1 -9.5,-5.6 -8.6,-0.2z" fill="#fa420d"/>
<path d="M526.5,773l9.2,-3.8 -9.1,-1.4 -9.2,3.8z" fill="#fa1a0d"/>
<path d="M268.6,921.1l9.6,-11 -8,3.1 -9.6,11.1z" fill="#78f50d"/>
<path d="M416,810l9.5,-6.9 -8.7,1 -9.5,6.9z" fill="#fa710d"/>
<path d="M820.6,878.8l7.9,2.5 -9.5,-10.5 -8,-2.5z" fill="#e0f50d"/>
<path d="M600.1,771l9,-1.9 -9.4,-3.3 -8.9,1.9z" fill="#fa150d"/>
<path d="M544.9,771l9.2,-3.3 -9.2,-1.8 -9.2,3.3z" fill="#fa150d"/>
<path d="M462.1,790l9.3,-5.6 -8.9,0.1 -9.3,5.6z" fill="#fa420d"/>
<path d="M333.1,864.2l9.6,-9.2 -8.4,2.3 -9.5,9.3z" fill="#faef0d"/>
<path d="M581.7,770l9.1,-2.3 -9.3,-2.8 -9.1,2.3z" fill="#fa130d"/>
<path d="M563.3,770l9.1,-2.8 -9.2,-2.3 -9.1,2.8z" fill="#fa130d"/>
<path d="M388.3,826.1l9.5,-7.8 -8.6,1.5 -9.5,7.7z" fill="#fa950d"/>
<path d="M360.7,844.2l9.5,-8.6 -8.5,1.9 -9.5,8.5z" fill="#fabf0d"/>
<path d="M710.5,803l8.5,0.7 -9.5,-6.7 -8.5,-0.6z" fill="#fa5e0d"/>
<path d="M664.6,784.8l8.7,-0.4 -9.5,-5.2 -8.7,0.4z" fill="#fa340d"/>
<path d="M793.3,856.3l8.1,2 -9.6,-9.5 -8.1,-2z" fill="#fad90d"/>
<path d="M296,896.6l9.6,-10.4 -8.2,2.8 -9.6,10.4z" fill="#b5f50d"/>
<path d="M480.4,784.8l9.4,-5.1 -9,-0.4 -9.4,5.1z" fill="#fa340d"/>
<path d="M738.2,818.4l8.4,1.1 -9.6,-7.6 -8.4,-1.1z" fill="#fa810d"/>
<path d="M765.8,836.1l8.3,1.6 -9.6,-8.5 -8.3,-1.6z" fill="#faa90d"/>
<path d="M434.3,802.6l9.5,-6.5 -8.9,0.6 -9.4,6.4z" fill="#fa5d0d"/>
<path d="M646.3,780.4l8.8,-0.8 -9.5,-4.7 -8.8,0.8z" fill="#fa290d"/>
<path d="M323.5,873.9l9.6,-9.7 -8.3,2.4 -9.6,9.6z" fill="#ecf50d"/>
<path d="M498.8,780.5l9.3,-4.6 -9,-0.9 -9.3,4.7z" fill="#fa290d"/>
<path d="M692.4,796.3l8.6,0.1 -9.6,-6.2 -8.6,-0.1z" fill="#fa4d0d"/>
<path d="M406.5,817.3l9.5,-7.3 -8.7,1 -9.5,7.3z" fill="#fa7f0d"/>
<path d="M627.9,777.1l8.9,-1.4 -9.4,-4.2 -8.9,1.4z" fill="#fa200d"/>
<path d="M351.1,853.1l9.6,-8.9 -8.5,1.8 -9.5,9z" fill="#fad10d"/>
<path d="M378.8,834.2l9.5,-8.1 -8.6,1.4 -9.5,8.1z" fill="#faa50d"/>
<path d="M802.9,866.3l8.1,2 -9.6,-10 -8.1,-2z" fill="#faed0d"/>
<path d="M517.2,777.2l9.3,-4.2 -9.1,-1.4 -9.3,4.3z" fill="#fa210d"/>
<path d="M452.6,796l9.5,-6 -8.9,0.1 -9.4,6z" fill="#fa4d0d"/>
<path d="M286.4,907.3l9.6,-10.7 -8.2,2.8 -9.6,10.7z" fill="#9ef50d"/>
<path d="M609.5,774.7l9,-1.8 -9.4,-3.8 -9,1.9z" fill="#fa1a0d"/>
<path d="M720.1,810.1l8.5,0.7 -9.6,-7.1 -8.5,-0.7z" fill="#fa6b0d"/>
<path d="M535.7,774.8l9.2,-3.8 -9.2,-1.8 -9.2,3.8z" fill="#fa1a0d"/>
<path d="M775.4,845.2l8.3,1.6 -9.6,-9.1 -8.3,-1.6z" fill="#fabc0d"/>
<path d="M591.1,773.3l9,-2.3 -9.3,-3.3 -9.1,2.3z" fill="#fa160d"/>
<path d="M747.8,826.5l8.4,1.1 -9.6,-8.1 -8.4,-1.1z" fill="#fa900d"/>
<path d="M554.2,773.3l9.1,-3.3 -9.2,-2.3 -9.2,3.3z" fill="#fa170d"/>
<path d="M674.1,790.4l8.7,-0.3 -9.5,-5.7 -8.7,0.4z" fill="#fa3e0d"/>
<path d="M572.6,772.8l9.1,-2.8 -9.3,-2.8 -9.1,2.8z" fill="#fa150d"/>
<path d="M313.9,883.9l9.6,-10 -8.3,2.3 -9.6,10z" fill="#d7f50d"/>
<path d="M424.8,809.5l9.5,-6.9 -8.8,0.5 -9.5,6.9z" fill="#fa6a0d"/>
<path d="M471,790.4l9.4,-5.6 -9,-0.4 -9.3,5.6z" fill="#fa3e0d"/>
<path d="M812.5,876.8l8.1,2 -9.6,-10.5 -8.1,-2z" fill="#ecf50d"/>
<path d="M276.7,918.4l9.7,-11.1 -8.2,2.8 -9.6,11z" fill="#86f50d"/>
<path d="M341.5,862.3l9.6,-9.2 -8.4,1.9 -9.6,9.2z" fill="#fae40d"/>
<path d="M397,825l9.5,-7.7 -8.7,1 -9.5,7.8z" fill="#fa8e0d"/>
<path d="M655.8,785.6l8.8,-0.8 -9.5,-5.2 -8.8,0.8z" fill="#fa310d"/>
<path d="M702,802.9l8.5,0.1 -9.5,-6.6 -8.6,-0.1z" fill="#fa590d"/>
<path d="M369.2,842.7l9.6,-8.5 -8.6,1.4 -9.5,8.6z" fill="#fab60d"/>
<path d="M489.5,785.7l9.3,-5.2 -9,-0.8 -9.4,5.1z" fill="#fa320d"/>
<path d="M785.1,854.7l8.2,1.6 -9.6,-9.5 -8.3,-1.6z" fill="#facf0d"/>
<path d="M443.2,802.5l9.4,-6.5 -8.8,0.1 -9.5,6.5z" fill="#fa580d"/>
<path d="M729.8,817.7l8.4,0.7 -9.6,-7.6 -8.5,-0.7z" fill="#fa7a0d"/>
<path d="M637.4,781.8l8.9,-1.4 -9.5,-4.7 -8.9,1.4z" fill="#fa280d"/>
<path d="M757.5,835l8.3,1.1 -9.6,-8.5 -8.4,-1.1z" fill="#faa10d"/>
<path d="M304.2,894.3l9.7,-10.4 -8.3,2.3 -9.6,10.4z" fill="#c1f50d"/>
<path d="M507.9,781.9l9.3,-4.7 -9.1,-1.3 -9.3,4.6z" fill="#fa280d"/>
<path d="M619,778.9l8.9,-1.8 -9.4,-4.2 -9,1.8z" fill="#fa200d"/>
<path d="M683.7,796.6l8.7,-0.3 -9.6,-6.2 -8.7,0.3z" fill="#fa490d"/>
<path d="M526.4,779l9.3,-4.2 -9.2,-1.8 -9.3,4.2z" fill="#fa210d"/>
<path d="M415.3,816.8l9.5,-7.3 -8.8,0.5 -9.5,7.3z" fill="#fa780d"/>
<path d="M331.9,872l9.6,-9.7 -8.4,1.9 -9.6,9.7z" fill="#f7f50d"/>
<path d="M600.5,777l9,-2.3 -9.4,-3.7 -9,2.3z" fill="#fa1b0d"/>
<path d="M461.6,796.4l9.4,-6 -8.9,-0.4 -9.5,6z" fill="#fa490d"/>
<path d="M544.9,777l9.3,-3.7 -9.3,-2.3 -9.2,3.8z" fill="#fa1c0d"/>
<path d="M582,776l9.1,-2.7 -9.4,-3.3 -9.1,2.8z" fill="#fa190d"/>
<path d="M387.4,833.1l9.6,-8.1 -8.7,1.1 -9.5,8.1z" fill="#fa9d0d"/>
<path d="M563.5,776.1l9.1,-3.3 -9.3,-2.8 -9.1,3.3z" fill="#fa190d"/>
<path d="M359.6,851.6l9.6,-8.9 -8.5,1.5 -9.6,8.9z" fill="#fac80d"/>
<path d="M794.7,864.7l8.2,1.6 -9.6,-10 -8.2,-1.6z" fill="#fae40d"/>
<path d="M711.6,810l8.5,0.1 -9.6,-7.1 -8.5,-0.1z" fill="#fa660d"/>
<path d="M665.3,791.3l8.8,-0.9 -9.5,-5.6 -8.8,0.8z" fill="#fa3b0d"/>
<path d="M294.6,905l9.6,-10.7 -8.2,2.3 -9.6,10.7z" fill="#aaf50d"/>
<path d="M767.1,844.1l8.3,1.1 -9.6,-9.1 -8.3,-1.1z" fill="#fab30d"/>
<path d="M739.4,825.8l8.4,0.7 -9.6,-8.1 -8.4,-0.7z" fill="#fa8a0d"/>
<path d="M480.1,791.2l9.4,-5.5 -9.1,-0.9 -9.4,5.6z" fill="#fa3b0d"/>
<path d="M433.7,809.4l9.5,-6.9 -8.9,0.1 -9.5,6.9z" fill="#fa650d"/>
<path d="M646.9,786.9l8.9,-1.3 -9.5,-5.2 -8.9,1.4z" fill="#fa300d"/>
<path d="M322.2,882l9.7,-10 -8.4,1.9 -9.6,10z" fill="#e2f50d"/>
<path d="M498.6,787l9.3,-5.1 -9.1,-1.4 -9.3,5.2z" fill="#fa300d"/>
<path d="M693.3,803.2l8.7,-0.3 -9.6,-6.6 -8.7,0.3z" fill="#fa550d"/>
<path d="M405.7,824.5l9.6,-7.7 -8.8,0.5 -9.5,7.7z" fill="#fa870d"/>
<path d="M804.4,875.3l8.1,1.5 -9.6,-10.5 -8.2,-1.6z" fill="#f5f50d"/>
<path d="M350,860.9l9.6,-9.3 -8.5,1.5 -9.6,9.2z" fill="#fadb0d"/>
<path d="M377.8,841.7l9.6,-8.6 -8.6,1.1 -9.6,8.5z" fill="#faae0d"/>
<path d="M284.9,916.1l9.7,-11.1 -8.2,2.3 -9.7,11.1z" fill="#92f50d"/>
<path d="M628.4,783.6l9,-1.8 -9.5,-4.7 -8.9,1.8z" fill="#fa270d"/>
<path d="M452.1,802.8l9.5,-6.4 -9,-0.4 -9.4,6.5z" fill="#fa540d"/>
<path d="M517.1,783.6l9.3,-4.6 -9.2,-1.8 -9.3,4.7z" fill="#fa280d"/>
<path d="M721.2,817.6l8.6,0.1 -9.7,-7.6 -8.5,-0.1z" fill="#fa750d"/>
<path d="M776.8,853.6l8.3,1.1 -9.7,-9.5 -8.3,-1.1z" fill="#fac70d"/>
<path d="M609.9,781.2l9.1,-2.3 -9.5,-4.2 -9,2.3z" fill="#fa210d"/>
<path d="M535.7,781.2l9.2,-4.2 -9.2,-2.2 -9.3,4.2z" fill="#fa220d"/>
<path d="M749.1,834.4l8.4,0.6 -9.7,-8.5 -8.4,-0.7z" fill="#fa9b0d"/>
<path d="M674.9,797.4l8.8,-0.8 -9.6,-6.2 -8.8,0.9z" fill="#fa460d"/>
<path d="M591.4,779.7l9.1,-2.7 -9.4,-3.7 -9.1,2.7z" fill="#fa1e0d"/>
<path d="M554.2,779.8l9.3,-3.7 -9.3,-2.8 -9.3,3.7z" fill="#fa1e0d"/>
<path d="M572.8,779.3l9.2,-3.3 -9.4,-3.2 -9.1,3.3z" fill="#fa1d0d"/>
<path d="M312.5,892.4l9.7,-10.4 -8.3,1.9 -9.7,10.4z" fill="#ccf50d"/>
<path d="M424.1,816.6l9.6,-7.2 -8.9,0.1 -9.5,7.3z" fill="#fa730d"/>
<path d="M470.6,797.2l9.5,-6 -9.1,-0.8 -9.4,6z" fill="#fa460d"/>
<path d="M340.3,870.5l9.7,-9.6 -8.5,1.4 -9.6,9.7z" fill="#faee0d"/>
<path d="M396.1,832.6l9.6,-8.1 -8.7,0.5 -9.6,8.1z" fill="#fa970d"/>
<path d="M656.5,792.6l8.8,-1.3 -9.5,-5.7 -8.9,1.3z" fill="#fa3a0d"/>
<path d="M368.2,850.5l9.6,-8.8 -8.6,1 -9.6,8.9z" fill="#fac00d"/>
<path d="M702.9,810.3l8.7,-0.3 -9.6,-7.1 -8.7,0.3z" fill="#fa620d"/>
<path d="M786.5,863.7l8.2,1 -9.6,-10 -8.3,-1.1z" fill="#fadb0d"/>
<path d="M489.2,792.5l9.4,-5.5 -9.1,-1.3 -9.4,5.5z" fill="#fa3a0d"/>
<path d="M730.9,825.7l8.5,0.1 -9.6,-8.1 -8.6,-0.1z" fill="#fa840d"/>
<path d="M442.6,809.7l9.5,-6.9 -8.9,-0.3 -9.5,6.9z" fill="#fa610d"/>
<path d="M758.7,843.5l8.4,0.6 -9.6,-9.1 -8.4,-0.6z" fill="#faad0d"/>
<path d="M302.9,903.1l9.6,-10.7 -8.3,1.9 -9.6,10.7z" fill="#b5f50d"/>
<path d="M638,788.7l8.9,-1.8 -9.5,-5.1 -9,1.8z" fill="#fa300d"/>
<path d="M507.7,788.7l9.4,-5.1 -9.2,-1.7 -9.3,5.1z" fill="#fa300d"/>
<path d="M684.5,804.1l8.8,-0.9 -9.6,-6.6 -8.8,0.8z" fill="#fa520d"/>
<path d="M619.4,785.8l9,-2.2 -9.4,-4.7 -9.1,2.3z" fill="#fa280d"/>
<path d="M414.6,824.3l9.5,-7.7 -8.8,0.2 -9.6,7.7z" fill="#fa820d"/>
<path d="M330.6,880.5l9.7,-10 -8.4,1.5 -9.7,10z" fill="#ebf50d"/>
<path d="M526.3,785.9l9.4,-4.7 -9.3,-2.2 -9.3,4.6z" fill="#fa290d"/>
<path d="M600.8,783.9l9.1,-2.7 -9.4,-4.2 -9.1,2.7z" fill="#fa240d"/>
<path d="M461.1,803.6l9.5,-6.4 -9,-0.8 -9.5,6.4z" fill="#fa510d"/>
<path d="M358.5,859.8l9.7,-9.3 -8.6,1.1 -9.6,9.3z" fill="#fad30d"/>
<path d="M386.5,841.1l9.6,-8.5 -8.7,0.5 -9.6,8.6z" fill="#faa80d"/>
<path d="M796.2,874.3l8.2,1 -9.7,-10.6 -8.2,-1z" fill="#faf10d"/>
<path d="M545,784l9.2,-4.2 -9.3,-2.8 -9.2,4.2z" fill="#fa240d"/>
<path d="M582.2,783l9.2,-3.3 -9.4,-3.7 -9.2,3.3z" fill="#fa210d"/>
<path d="M563.6,783l9.2,-3.7 -9.3,-3.2 -9.3,3.7z" fill="#fa210d"/>
<path d="M712.6,818l8.6,-0.4 -9.6,-7.6 -8.7,0.3z" fill="#fa700d"/>
<path d="M293.2,914.2l9.7,-11.1 -8.3,1.9 -9.7,11.1z" fill="#9df50d"/>
<path d="M666.1,798.7l8.8,-1.3 -9.6,-6.1 -8.8,1.3z" fill="#fa440d"/>
<path d="M768.4,853.1l8.4,0.5 -9.7,-9.5 -8.4,-0.6z" fill="#fac00d"/>
<path d="M740.5,834.3l8.6,0.1 -9.7,-8.6 -8.5,-0.1z" fill="#fa950d"/>
<path d="M479.7,798.5l9.5,-6 -9.1,-1.3 -9.5,6z" fill="#fa440d"/>
<path d="M433,817l9.6,-7.3 -8.9,-0.3 -9.6,7.2z" fill="#fa6f0d"/>
<path d="M321,890.9l9.6,-10.4 -8.4,1.5 -9.7,10.4z" fill="#d6f50d"/>
<path d="M647.5,794.4l9,-1.8 -9.6,-5.7 -8.9,1.8z" fill="#fa390d"/>
<path d="M694.2,811.2l8.7,-0.9 -9.6,-7.1 -8.8,0.9z" fill="#fa5f0d"/>
<path d="M404.9,832.4l9.7,-8.1 -8.9,0.2 -9.6,8.1z" fill="#fa910d"/>
<path d="M498.3,794.3l9.4,-5.6 -9.1,-1.7 -9.4,5.5z" fill="#fa390d"/>
<path d="M348.9,869.5l9.6,-9.7 -8.5,1.1 -9.7,9.6z" fill="#fae60d"/>
<path d="M376.9,850l9.6,-8.9 -8.7,0.6 -9.6,8.8z" fill="#fab90d"/>
<path d="M629,791l9,-2.3 -9.6,-5.1 -9,2.2z" fill="#fa310d"/>
<path d="M778.1,863.2l8.4,0.5 -9.7,-10.1 -8.4,-0.5z" fill="#fad40d"/>
<path d="M451.6,810.5l9.5,-6.9 -9,-0.8 -9.5,6.9z" fill="#fa5e0d"/>
<path d="M517,790.9l9.3,-5 -9.2,-2.3 -9.4,5.1z" fill="#fa310d"/>
<path d="M722.2,826.1l8.7,-0.4 -9.7,-8.1 -8.6,0.4z" fill="#fa800d"/>
<path d="M750.2,843.4l8.5,0.1 -9.6,-9.1 -8.6,-0.1z" fill="#faa70d"/>
<path d="M610.4,788.6l9,-2.8 -9.5,-4.6 -9.1,2.7z" fill="#fa2b0d"/>
<path d="M535.6,788.6l9.4,-4.6 -9.3,-2.8 -9.4,4.7z" fill="#fa2b0d"/>
<path d="M311.2,901.7l9.8,-10.8 -8.5,1.5 -9.6,10.7z" fill="#bff50d"/>
<path d="M675.7,805.4l8.8,-1.3 -9.6,-6.7 -8.8,1.3z" fill="#fa500d"/>
<path d="M591.7,787.1l9.1,-3.2 -9.4,-4.2 -9.2,3.3z" fill="#fa270d"/>
<path d="M554.3,787.1l9.3,-4.1 -9.4,-3.2 -9.2,4.2z" fill="#fa270d"/>
<path d="M573,786.7l9.2,-3.7 -9.4,-3.7 -9.2,3.7z" fill="#fa260d"/>
<path d="M423.4,824.7l9.6,-7.7 -8.9,-0.4 -9.5,7.7z" fill="#fa7d0d"/>
<path d="M470.2,804.9l9.5,-6.4 -9.1,-1.3 -9.5,6.4z" fill="#fa500d"/>
<path d="M339.2,879.5l9.7,-10 -8.6,1 -9.7,10z" fill="#f4f50d"/>
<path d="M395.3,840.9l9.6,-8.5 -8.8,0.2 -9.6,8.5z" fill="#faa20d"/>
<path d="M367.2,859.2l9.7,-9.2 -8.7,0.5 -9.7,9.3z" fill="#facc0d"/>
<path d="M703.8,818.8l8.8,-0.8 -9.7,-7.7 -8.7,0.9z" fill="#fa6d0d"/>
<path d="M657.2,800.5l8.9,-1.8 -9.6,-6.1 -9,1.8z" fill="#fa440d"/>
<path d="M787.8,873.7l8.4,0.6 -9.7,-10.6 -8.4,-0.5z" fill="#faea0d"/>
<path d="M488.9,800.2l9.4,-5.9 -9.1,-1.8 -9.5,6z" fill="#fa440d"/>
<path d="M731.9,834.7l8.6,-0.4 -9.6,-8.6 -8.7,0.4z" fill="#fa910d"/>
<path d="M759.9,853l8.5,0.1 -9.7,-9.6 -8.5,-0.1z" fill="#faba0d"/>
<path d="M301.5,912.8l9.7,-11.1 -8.3,1.4 -9.7,11.1z" fill="#a7f50d"/>
<path d="M442,817.8l9.6,-7.3 -9,-0.8 -9.6,7.3z" fill="#fa6c0d"/>
<path d="M638.6,796.6l8.9,-2.2 -9.5,-5.7 -9,2.3z" fill="#fa3a0d"/>
<path d="M507.5,796.5l9.5,-5.6 -9.3,-2.2 -9.4,5.6z" fill="#fa3a0d"/>
<path d="M685.4,812.5l8.8,-1.3 -9.7,-7.1 -8.8,1.3z" fill="#fa5d0d"/>
<path d="M329.5,889.9l9.7,-10.4 -8.6,1 -9.6,10.4z" fill="#def50d"/>
<path d="M619.9,793.7l9.1,-2.7 -9.6,-5.2 -9,2.8z" fill="#fa330d"/>
<path d="M413.8,832.8l9.6,-8.1 -8.8,-0.4 -9.7,8.1z" fill="#fa8d0d"/>
<path d="M526.3,793.7l9.3,-5.1 -9.3,-2.7 -9.3,5z" fill="#fa330d"/>
<path d="M357.5,868.9l9.7,-9.7 -8.7,0.6 -9.6,9.7z" fill="#fadf0d"/>
<path d="M385.6,849.8l9.7,-8.9 -8.8,0.2 -9.6,8.9z" fill="#fab40d"/>
<path d="M601.2,791.8l9.2,-3.2 -9.6,-4.7 -9.1,3.2z" fill="#fa2e0d"/>
<path d="M460.7,811.8l9.5,-6.9 -9.1,-1.3 -9.5,6.9z" fill="#fa5c0d"/>
<path d="M545,791.8l9.3,-4.7 -9.3,-3.1 -9.4,4.6z" fill="#fa2e0d"/>
<path d="M713.5,826.9l8.7,-0.8 -9.6,-8.1 -8.8,0.8z" fill="#fa7d0d"/>
<path d="M582.5,790.8l9.2,-3.7 -9.5,-4.1 -9.2,3.7z" fill="#fa2c0d"/>
<path d="M563.7,790.8l9.3,-4.1 -9.4,-3.7 -9.3,4.1z" fill="#fa2c0d"/>
<path d="M769.7,863.1l8.4,0.1 -9.7,-10.1 -8.5,-0.1z" fill="#facf0d"/>
<path d="M741.7,843.8l8.5,-0.4 -9.7,-9.1 -8.6,0.4z" fill="#faa30d"/>
<path d="M666.8,807.2l8.9,-1.8 -9.6,-6.7 -8.9,1.8z" fill="#fa500d"/>
<path d="M479.3,806.6l9.6,-6.4 -9.2,-1.7 -9.5,6.4z" fill="#fa4f0d"/>
<path d="M432.4,825.5l9.6,-7.7 -9,-0.8 -9.6,7.7z" fill="#fa7a0d"/>
<path d="M319.7,900.7l9.8,-10.8 -8.5,1 -9.8,10.8z" fill="#c8f50d"/>
<path d="M648.2,802.8l9,-2.3 -9.7,-6.1 -8.9,2.2z" fill="#fa450d"/>
<path d="M695,820.1l8.8,-1.3 -9.6,-7.6 -8.8,1.3z" fill="#fa6c0d"/>
<path d="M404.2,841.3l9.6,-8.5 -8.9,-0.4 -9.6,8.5z" fill="#fa9d0d"/>
<path d="M347.8,879l9.7,-10.1 -8.6,0.6 -9.7,10z" fill="#faf40d"/>
<path d="M498.1,802.5l9.4,-6 -9.2,-2.2 -9.4,5.9z" fill="#fa450d"/>
<path d="M375.9,859.1l9.7,-9.3 -8.7,0.2 -9.7,9.2z" fill="#fac60d"/>
<path d="M779.4,873.7l8.4,0 -9.7,-10.5 -8.4,-0.1z" fill="#fae40d"/>
<path d="M629.5,799.4l9.1,-2.8 -9.6,-5.6 -9.1,2.7z" fill="#fa3c0d"/>
<path d="M723.3,835.6l8.6,-0.9 -9.7,-8.6 -8.7,0.8z" fill="#fa8e0d"/>
<path d="M451.1,819l9.6,-7.2 -9.1,-1.3 -9.6,7.3z" fill="#fa6a0d"/>
<path d="M751.4,853.4l8.5,-0.4 -9.7,-9.6 -8.5,0.4z" fill="#fab60d"/>
<path d="M516.8,799.2l9.5,-5.5 -9.3,-2.8 -9.5,5.6z" fill="#fa3c0d"/>
<path d="M310,911.8l9.7,-11.1 -8.5,1 -9.7,11.1z" fill="#b0f50d"/>
<path d="M610.8,797l9.1,-3.3 -9.5,-5.1 -9.2,3.2z" fill="#fa360d"/>
<path d="M676.5,814.3l8.9,-1.8 -9.7,-7.1 -8.9,1.8z" fill="#fa5d0d"/>
<path d="M535.6,796.8l9.4,-5 -9.4,-3.2 -9.3,5.1z" fill="#fa360d"/>
<path d="M592,795.5l9.2,-3.7 -9.5,-4.7 -9.2,3.7z" fill="#fa330d"/>
<path d="M554.4,795.4l9.3,-4.6 -9.4,-3.7 -9.3,4.7z" fill="#fa330d"/>
<path d="M573.2,795l9.3,-4.2 -9.5,-4.1 -9.3,4.1z" fill="#fa310d"/>
<path d="M422.8,833.6l9.6,-8.1 -9,-0.8 -9.6,8.1z" fill="#fa8a0d"/>
<path d="M469.8,813.5l9.5,-6.9 -9.1,-1.7 -9.5,6.9z" fill="#fa5c0d"/>
<path d="M338,889.4l9.8,-10.4 -8.6,0.5 -9.7,10.4z" fill="#e5f50d"/>
<path d="M394.5,850.2l9.7,-8.9 -8.9,-0.4 -9.7,8.9z" fill="#faaf0d"/>
<path d="M366.2,868.8l9.7,-9.7 -8.7,0.1 -9.7,9.7z" fill="#fad90d"/>
<path d="M704.8,828.3l8.7,-1.4 -9.7,-8.1 -8.8,1.3z" fill="#fa7b0d"/>
<path d="M657.8,809.4l9,-2.2 -9.6,-6.7 -9,2.3z" fill="#fa510d"/>
<path d="M761.1,863.6l8.6,-0.5 -9.8,-10.1 -8.5,0.4z" fill="#faca0d"/>
<path d="M733,844.7l8.7,-0.9 -9.8,-9.1 -8.6,0.9z" fill="#faa00d"/>
<path d="M488.6,808.9l9.5,-6.4 -9.2,-2.3 -9.6,6.4z" fill="#fa500d"/>
<path d="M441.5,826.7l9.6,-7.7 -9.1,-1.2 -9.6,7.7z" fill="#fa780d"/>
<path d="M639.1,805.5l9.1,-2.7 -9.6,-6.2 -9.1,2.8z" fill="#fa470d"/>
<path d="M507.4,805.2l9.4,-6 -9.3,-2.7 -9.4,6z" fill="#fa460d"/>
<path d="M328.3,900.2l9.7,-10.8 -8.5,0.5 -9.8,10.8z" fill="#cff50d"/>
<path d="M686.2,821.9l8.8,-1.8 -9.6,-7.6 -8.9,1.8z" fill="#fa6b0d"/>
<path d="M413.1,842.1l9.7,-8.5 -9,-0.8 -9.6,8.5z" fill="#fa9a0d"/>
<path d="M620.3,802.6l9.2,-3.2 -9.6,-5.7 -9.1,3.3z" fill="#fa400d"/>
<path d="M356.5,878.9l9.7,-10.1 -8.7,0.1 -9.7,10.1z" fill="#faee0d"/>
<path d="M526.2,802.4l9.4,-5.6 -9.3,-3.1 -9.5,5.5z" fill="#fa3f0d"/>
<path d="M384.8,859.5l9.7,-9.3 -8.9,-0.4 -9.7,9.3z" fill="#fac10d"/>
<path d="M770.9,874.2l8.5,-0.5 -9.7,-10.6 -8.6,0.5z" fill="#fae00d"/>
<path d="M460.2,820.8l9.6,-7.3 -9.1,-1.7 -9.6,7.2z" fill="#fa690d"/>
<path d="M601.5,800.7l9.3,-3.7 -9.6,-5.2 -9.2,3.7z" fill="#fa3b0d"/>
<path d="M714.5,836.9l8.8,-1.3 -9.8,-8.7 -8.7,1.4z" fill="#fa8c0d"/>
<path d="M545,800.5l9.4,-5.1 -9.4,-3.6 -9.4,5z" fill="#fa3b0d"/>
<path d="M582.7,799.7l9.3,-4.2 -9.5,-4.7 -9.3,4.2z" fill="#fa380d"/>
<path d="M742.7,854.3l8.7,-0.9 -9.7,-9.6 -8.7,0.9z" fill="#fab30d"/>
<path d="M563.9,799.6l9.3,-4.6 -9.5,-4.2 -9.3,4.6z" fill="#fa380d"/>
<path d="M667.5,816.6l9,-2.3 -9.7,-7.1 -9,2.2z" fill="#fa5e0d"/>
<path d="M318.5,911.3l9.8,-11.1 -8.6,0.5 -9.7,11.1z" fill="#b7f50d"/>
<path d="M479,815.7l9.6,-6.8 -9.3,-2.3 -9.5,6.9z" fill="#fa5c0d"/>
<path d="M431.8,834.8l9.7,-8.1 -9.1,-1.2 -9.6,8.1z" fill="#fa880d"/>
<path d="M648.8,812.2l9,-2.8 -9.6,-6.6 -9.1,2.7z" fill="#fa530d"/>
<path d="M695.9,830.1l8.9,-1.8 -9.8,-8.2 -8.8,1.8z" fill="#fa7b0d"/>
<path d="M346.7,889.3l9.8,-10.4 -8.7,0.1 -9.8,10.4z" fill="#ecf50d"/>
<path d="M403.4,851l9.7,-8.9 -8.9,-0.8 -9.7,8.9z" fill="#faac0d"/>
<path d="M375,869.2l9.8,-9.7 -8.9,-0.4 -9.7,9.7z" fill="#fad50d"/>
<path d="M497.8,811.6l9.6,-6.4 -9.3,-2.7 -9.5,6.4z" fill="#fa520d"/>
<path d="M724.2,846.1l8.8,-1.4 -9.7,-9.1 -8.8,1.3z" fill="#fa9e0d"/>
<path d="M752.5,864.5l8.6,-0.9 -9.7,-10.2 -8.7,0.9z" fill="#fac70d"/>
<path d="M630,808.8l9.1,-3.3 -9.6,-6.1 -9.2,3.2z" fill="#fa4a0d"/>
<path d="M450.6,828.5l9.6,-7.7 -9.1,-1.8 -9.6,7.7z" fill="#fa780d"/>
<path d="M516.7,808.3l9.5,-5.9 -9.4,-3.2 -9.4,6z" fill="#fa490d"/>
<path d="M611.1,806.3l9.2,-3.7 -9.5,-5.6 -9.3,3.7z" fill="#fa440d"/>
<path d="M677.2,824.3l9,-2.4 -9.7,-7.6 -9,2.3z" fill="#fa6c0d"/>
<path d="M535.6,806l9.4,-5.5 -9.4,-3.7 -9.4,5.6z" fill="#fa440d"/>
<path d="M592.3,804.8l9.2,-4.1 -9.5,-5.2 -9.3,4.2z" fill="#fa400d"/>
<path d="M554.5,804.7l9.4,-5.1 -9.5,-4.2 -9.4,5.1z" fill="#fa400d"/>
<path d="M422.1,843.3l9.7,-8.5 -9,-1.2 -9.7,8.5z" fill="#fa980d"/>
<path d="M573.4,804.3l9.3,-4.6 -9.5,-4.7 -9.3,4.6z" fill="#fa3f0d"/>
<path d="M336.9,900.1l9.8,-10.8 -8.7,0.1 -9.7,10.8z" fill="#d5f50d"/>
<path d="M469.4,823l9.6,-7.3 -9.2,-2.2 -9.6,7.3z" fill="#fa6a0d"/>
<path d="M705.6,838.8l8.9,-1.9 -9.7,-8.6 -8.9,1.8z" fill="#fa8b0d"/>
<path d="M393.7,860.3l9.7,-9.3 -8.9,-0.8 -9.7,9.3z" fill="#fabe0d"/>
<path d="M365.3,879.2l9.7,-10 -8.8,-0.4 -9.7,10.1z" fill="#fae90d"/>
<path d="M762.3,875.2l8.6,-1 -9.8,-10.6 -8.6,0.9z" fill="#fadd0d"/>
<path d="M658.5,819.4l9,-2.8 -9.7,-7.2 -9,2.8z" fill="#fa600d"/>
<path d="M734,855.7l8.7,-1.4 -9.7,-9.6 -8.8,1.4z" fill="#fab10d"/>
<path d="M488.3,818.4l9.5,-6.8 -9.2,-2.7 -9.6,6.8z" fill="#fa5e0d"/>
<path d="M440.9,836.6l9.7,-8.1 -9.1,-1.8 -9.7,8.1z" fill="#fa870d"/>
<path d="M639.7,815.4l9.1,-3.2 -9.7,-6.7 -9.1,3.3z" fill="#fa560d"/>
<path d="M327.1,911.3l9.8,-11.2 -8.6,0.1 -9.8,11.1z" fill="#bef50d"/>
<path d="M687,832.4l8.9,-2.3 -9.7,-8.2 -9,2.4z" fill="#fa7b0d"/>
<path d="M507.2,814.8l9.5,-6.5 -9.3,-3.1 -9.6,6.4z" fill="#fa550d"/>
<path d="M412.4,852.3l9.7,-9 -9,-1.2 -9.7,8.9z" fill="#faaa0d"/>
<path d="M620.8,812.5l9.2,-3.7 -9.7,-6.2 -9.2,3.7z" fill="#fa4e0d"/>
<path d="M355.5,889.7l9.8,-10.5 -8.8,-0.3 -9.8,10.4z" fill="#f0f50d"/>
<path d="M383.9,870l9.8,-9.7 -8.9,-0.8 -9.8,9.7z" fill="#fad10d"/>
<path d="M526.1,812l9.5,-6 -9.4,-3.6 -9.5,5.9z" fill="#fa4e0d"/>
<path d="M715.4,848l8.8,-1.9 -9.7,-9.2 -8.9,1.9z" fill="#fa9d0d"/>
<path d="M743.8,865.9l8.7,-1.4 -9.8,-10.2 -8.7,1.4z" fill="#fac50d"/>
<path d="M459.7,830.7l9.7,-7.7 -9.2,-2.2 -9.6,7.7z" fill="#fa780d"/>
<path d="M601.9,810.5l9.2,-4.2 -9.6,-5.6 -9.2,4.1z" fill="#fa4a0d"/>
<path d="M545,810.2l9.5,-5.5 -9.5,-4.2 -9.4,5.5z" fill="#fa490d"/>
<path d="M583,809.4l9.3,-4.6 -9.6,-5.1 -9.3,4.6z" fill="#fa470d"/>
<path d="M564,809.4l9.4,-5.1 -9.5,-4.7 -9.4,5.1z" fill="#fa470d"/>
<path d="M668.2,827l9,-2.7 -9.7,-7.7 -9,2.8z" fill="#fa6e0d"/>
<path d="M431.2,845.1l9.7,-8.5 -9.1,-1.8 -9.7,8.5z" fill="#fa970d"/>
<path d="M478.6,825.7l9.7,-7.3 -9.3,-2.7 -9.6,7.3z" fill="#fa6b0d"/>
<path d="M696.7,841.1l8.9,-2.3 -9.7,-8.7 -8.9,2.3z" fill="#fa8c0d"/>
<path d="M649.4,822.6l9.1,-3.2 -9.7,-7.2 -9.1,3.2z" fill="#fa630d"/>
<path d="M345.7,900.5l9.8,-10.8 -8.8,-0.4 -9.8,10.8z" fill="#daf50d"/>
<path d="M402.6,861.6l9.8,-9.3 -9,-1.3 -9.7,9.3z" fill="#fabc0d"/>
<path d="M374.1,880.1l9.8,-10.1 -8.9,-0.8 -9.7,10z" fill="#fae50d"/>
<path d="M753.6,876.7l8.7,-1.5 -9.8,-10.7 -8.7,1.4z" fill="#fadb0d"/>
<path d="M725.2,857.7l8.8,-2 -9.8,-9.6 -8.8,1.9z" fill="#fab00d"/>
<path d="M497.6,821.6l9.6,-6.8 -9.4,-3.2 -9.5,6.8z" fill="#fa610d"/>
<path d="M630.5,819.2l9.2,-3.8 -9.7,-6.6 -9.2,3.7z" fill="#fa5a0d"/>
<path d="M450.1,838.8l9.6,-8.1 -9.1,-2.2 -9.7,8.1z" fill="#fa870d"/>
<path d="M516.6,818.4l9.5,-6.4 -9.4,-3.7 -9.5,6.5z" fill="#fa590d"/>
<path d="M677.9,835.2l9.1,-2.8 -9.8,-8.1 -9,2.7z" fill="#fa7d0d"/>
<path d="M611.5,816.7l9.3,-4.2 -9.7,-6.2 -9.2,4.2z" fill="#fa540d"/>
<path d="M535.6,816.2l9.4,-6 -9.4,-4.2 -9.5,6z" fill="#fa530d"/>
<path d="M592.6,815.1l9.3,-4.6 -9.6,-5.7 -9.3,4.6z" fill="#fa500d"/>
<path d="M335.8,911.7l9.9,-11.2 -8.8,-0.4 -9.8,11.2z" fill="#c3f50d"/>
<path d="M421.5,854l9.7,-8.9 -9.1,-1.8 -9.7,9z" fill="#faa90d"/>
<path d="M554.6,814.9l9.4,-5.5 -9.5,-4.7 -9.5,5.5z" fill="#fa500d"/>
<path d="M573.6,814.5l9.4,-5.1 -9.6,-5.1 -9.4,5.1z" fill="#fa4f0d"/>
<path d="M706.5,850.3l8.9,-2.3 -9.8,-9.2 -8.9,2.3z" fill="#fa9e0d"/>
<path d="M469,833.4l9.6,-7.7 -9.2,-2.7 -9.7,7.7z" fill="#fa7a0d"/>
<path d="M364.3,890.5l9.8,-10.4 -8.8,-0.9 -9.8,10.5z" fill="#f4f50d"/>
<path d="M392.9,871.3l9.7,-9.7 -8.9,-1.3 -9.8,9.7z" fill="#facf0d"/>
<path d="M735,867.9l8.8,-2 -9.8,-10.2 -8.8,2z" fill="#fac50d"/>
<path d="M659.1,830.3l9.1,-3.3 -9.7,-7.6 -9.1,3.2z" fill="#fa710d"/>
<path d="M488,828.9l9.6,-7.3 -9.3,-3.2 -9.7,7.3z" fill="#fa6e0d"/>
<path d="M440.3,847.3l9.8,-8.5 -9.2,-2.2 -9.7,8.5z" fill="#fa980d"/>
<path d="M640.2,826.4l9.2,-3.8 -9.7,-7.2 -9.2,3.8z" fill="#fa670d"/>
<path d="M687.7,843.9l9,-2.8 -9.7,-8.7 -9.1,2.8z" fill="#fa8e0d"/>
<path d="M507,825.3l9.6,-6.9 -9.4,-3.6 -9.6,6.8z" fill="#fa650d"/>
<path d="M411.7,863.4l9.8,-9.4 -9.1,-1.7 -9.8,9.3z" fill="#fabb0d"/>
<path d="M621.2,823.4l9.3,-4.2 -9.7,-6.7 -9.3,4.2z" fill="#fa600d"/>
<path d="M354.5,901.4l9.8,-10.9 -8.8,-0.8 -9.8,10.8z" fill="#def50d"/>
<path d="M716.3,860.1l8.9,-2.4 -9.8,-9.7 -8.9,2.3z" fill="#fab10d"/>
<path d="M744.8,878.6l8.8,-1.9 -9.8,-10.8 -8.8,2z" fill="#fada0d"/>
<path d="M383.1,881.4l9.8,-10.1 -9,-1.3 -9.8,10.1z" fill="#fae30d"/>
<path d="M526,822.6l9.6,-6.4 -9.5,-4.2 -9.5,6.4z" fill="#fa5e0d"/>
<path d="M459.3,841.5l9.7,-8.1 -9.3,-2.7 -9.6,8.1z" fill="#fa890d"/>
<path d="M602.2,821.3l9.3,-4.6 -9.6,-6.2 -9.3,4.6z" fill="#fa5b0d"/>
<path d="M545.1,820.9l9.5,-6 -9.6,-4.7 -9.4,6z" fill="#fa5a0d"/>
<path d="M668.9,838.5l9,-3.3 -9.7,-8.2 -9.1,3.3z" fill="#fa800d"/>
<path d="M583.2,820.2l9.4,-5.1 -9.6,-5.7 -9.4,5.1z" fill="#fa580d"/>
<path d="M564.1,820.1l9.5,-5.6 -9.6,-5.1 -9.4,5.5z" fill="#fa580d"/>
<path d="M430.6,856.3l9.7,-9 -9.1,-2.2 -9.7,8.9z" fill="#faa90d"/>
<path d="M478.3,836.6l9.7,-7.7 -9.4,-3.2 -9.6,7.7z" fill="#fa7c0d"/>
<path d="M697.5,853.2l9,-2.9 -9.8,-9.2 -9,2.8z" fill="#faa00d"/>
<path d="M344.6,912.6l9.9,-11.2 -8.8,-0.9 -9.9,11.2z" fill="#c7f50d"/>
<path d="M649.9,834.1l9.2,-3.8 -9.7,-7.7 -9.2,3.8z" fill="#fa750d"/>
<path d="M401.9,873.1l9.8,-9.7 -9.1,-1.8 -9.7,9.7z" fill="#face0d"/>
<path d="M726.1,870.3l8.9,-2.4 -9.8,-10.2 -8.9,2.4z" fill="#fac50d"/>
<path d="M373.2,891.9l9.9,-10.5 -9,-1.3 -9.8,10.4z" fill="#f7f50d"/>
<path d="M497.3,832.6l9.7,-7.3 -9.4,-3.7 -9.6,7.3z" fill="#fa720d"/>
<path d="M630.9,830.6l9.3,-4.2 -9.7,-7.2 -9.3,4.2z" fill="#fa6c0d"/>
<path d="M449.6,850.1l9.7,-8.6 -9.2,-2.7 -9.8,8.5z" fill="#fa990d"/>
<path d="M678.7,847.3l9,-3.4 -9.8,-8.7 -9,3.3z" fill="#fa910d"/>
<path d="M516.4,829.5l9.6,-6.9 -9.4,-4.2 -9.6,6.9z" fill="#fa6a0d"/>
<path d="M611.9,828l9.3,-4.6 -9.7,-6.7 -9.3,4.6z" fill="#fa660d"/>
<path d="M535.5,827.3l9.6,-6.4 -9.5,-4.7 -9.6,6.4z" fill="#fa650d"/>
<path d="M592.8,826.4l9.4,-5.1 -9.6,-6.2 -9.4,5.1z" fill="#fa620d"/>
<path d="M420.8,865.6l9.8,-9.3 -9.1,-2.3 -9.8,9.4z" fill="#fabb0d"/>
<path d="M707.4,863l8.9,-2.9 -9.8,-9.8 -9,2.9z" fill="#fab30d"/>
<path d="M554.6,826.1l9.5,-6 -9.5,-5.2 -9.5,6z" fill="#fa620d"/>
<path d="M573.7,825.8l9.5,-5.6 -9.6,-5.7 -9.5,5.6z" fill="#fa610d"/>
<path d="M736,881.1l8.8,-2.5 -9.8,-10.7 -8.9,2.4z" fill="#fadb0d"/>
<path d="M363.4,902.8l9.8,-10.9 -8.9,-1.4 -9.8,10.9z" fill="#e0f50d"/>
<path d="M468.6,844.8l9.7,-8.2 -9.3,-3.2 -9.7,8.1z" fill="#fa8c0d"/>
<path d="M392.1,883.2l9.8,-10.1 -9,-1.8 -9.8,10.1z" fill="#fae20d"/>
<path d="M659.7,842.3l9.2,-3.8 -9.8,-8.2 -9.2,3.8z" fill="#fa840d"/>
<path d="M487.7,840.4l9.6,-7.8 -9.3,-3.7 -9.7,7.7z" fill="#fa800d"/>
<path d="M640.7,838.3l9.2,-4.2 -9.7,-7.7 -9.3,4.2z" fill="#fa7a0d"/>
<path d="M439.8,859.1l9.8,-9 -9.3,-2.8 -9.7,9z" fill="#faaa0d"/>
<path d="M688.5,856.5l9,-3.3 -9.8,-9.3 -9,3.4z" fill="#faa30d"/>
<path d="M717.2,873.2l8.9,-2.9 -9.8,-10.2 -8.9,2.9z" fill="#fac70d"/>
<path d="M506.8,836.8l9.6,-7.3 -9.4,-4.2 -9.7,7.3z" fill="#fa780d"/>
<path d="M353.5,914l9.9,-11.2 -8.9,-1.4 -9.9,11.2z" fill="#c9f50d"/>
<path d="M411,875.4l9.8,-9.8 -9.1,-2.2 -9.8,9.7z" fill="#face0d"/>
<path d="M621.6,835.3l9.3,-4.7 -9.7,-7.2 -9.3,4.6z" fill="#fa730d"/>
<path d="M382.2,893.7l9.9,-10.5 -9,-1.8 -9.9,10.5z" fill="#f8f50d"/>
<path d="M525.9,834.2l9.6,-6.9 -9.5,-4.7 -9.6,6.9z" fill="#fa710d"/>
<path d="M602.5,833.2l9.4,-5.2 -9.7,-6.7 -9.4,5.1z" fill="#fa6e0d"/>
<path d="M458.9,853.3l9.7,-8.5 -9.3,-3.3 -9.7,8.6z" fill="#fa9c0d"/>
<path d="M669.5,851.1l9.2,-3.8 -9.8,-8.8 -9.2,3.8z" fill="#fa950d"/>
<path d="M545.1,832.6l9.5,-6.5 -9.5,-5.2 -9.6,6.4z" fill="#fa6d0d"/>
<path d="M583.4,832l9.4,-5.6 -9.6,-6.2 -9.5,5.6z" fill="#fa6b0d"/>
<path d="M564.2,831.8l9.5,-6 -9.6,-5.7 -9.5,6z" fill="#fa6b0d"/>
<path d="M698.3,866.3l9.1,-3.3 -9.9,-9.8 -9,3.3z" fill="#fab60d"/>
<path d="M430,868.4l9.8,-9.3 -9.2,-2.8 -9.8,9.3z" fill="#fabc0d"/>
<path d="M478,848.5l9.7,-8.1 -9.4,-3.8 -9.7,8.2z" fill="#fa900d"/>
<path d="M650.5,846.6l9.2,-4.3 -9.8,-8.2 -9.2,4.2z" fill="#fa8a0d"/>
<path d="M727,884.1l9,-3 -9.9,-10.8 -8.9,2.9z" fill="#fadc0d"/>
<path d="M401.2,885.6l9.8,-10.2 -9.1,-2.3 -9.8,10.1z" fill="#fae20d"/>
<path d="M372.3,904.6l9.9,-10.9 -9,-1.8 -9.8,10.9z" fill="#e1f50d"/>
<path d="M497.1,844.6l9.7,-7.8 -9.5,-4.2 -9.6,7.8z" fill="#fa860d"/>
<path d="M631.4,843l9.3,-4.7 -9.8,-7.7 -9.3,4.7z" fill="#fa810d"/>
<path d="M449.1,862.3l9.8,-9 -9.3,-3.2 -9.8,9z" fill="#faad0d"/>
<path d="M679.3,860.4l9.2,-3.9 -9.8,-9.2 -9.2,3.8z" fill="#faa70d"/>
<path d="M516.3,841.6l9.6,-7.4 -9.5,-4.7 -9.6,7.3z" fill="#fa7e0d"/>
<path d="M612.3,840.4l9.3,-5.1 -9.7,-7.3 -9.4,5.2z" fill="#fa7b0d"/>
<path d="M708.2,876.7l9,-3.5 -9.8,-10.2 -9.1,3.3z" fill="#faca0d"/>
<path d="M535.5,839.5l9.6,-6.9 -9.6,-5.3 -9.6,6.9z" fill="#fa790d"/>
<path d="M593.1,838.8l9.4,-5.6 -9.7,-6.8 -9.4,5.6z" fill="#fa770d"/>
<path d="M420.2,878.2l9.8,-9.8 -9.2,-2.8 -9.8,9.8z" fill="#fad00d"/>
<path d="M554.7,838.3l9.5,-6.5 -9.6,-5.7 -9.5,6.5z" fill="#fa760d"/>
<path d="M573.9,838.1l9.5,-6.1 -9.7,-6.2 -9.5,6z" fill="#fa750d"/>
<path d="M362.5,915.9l9.8,-11.3 -8.9,-1.8 -9.9,11.2z" fill="#caf50d"/>
<path d="M391.3,896.1l9.9,-10.5 -9.1,-2.4 -9.9,10.5z" fill="#f8f50d"/>
<path d="M468.2,857.1l9.8,-8.6 -9.4,-3.7 -9.7,8.5z" fill="#faa00d"/>
<path d="M660.3,855.4l9.2,-4.3 -9.8,-8.8 -9.2,4.3z" fill="#fa9a0d"/>
<path d="M487.4,852.8l9.7,-8.2 -9.4,-4.2 -9.7,8.1z" fill="#fa950d"/>
<path d="M689.2,870.2l9.1,-3.9 -9.8,-9.8 -9.2,3.9z" fill="#faba0d"/>
<path d="M641.2,851.3l9.3,-4.7 -9.8,-8.3 -9.3,4.7z" fill="#fa900d"/>
<path d="M439.3,871.7l9.8,-9.4 -9.3,-3.2 -9.8,9.3z" fill="#fabf0d"/>
<path d="M718,887.5l9,-3.4 -9.8,-10.9 -9,3.5z" fill="#fadf0d"/>
<path d="M506.6,849.4l9.7,-7.8 -9.5,-4.8 -9.7,7.8z" fill="#fa8c0d"/>
<path d="M410.3,888.4l9.9,-10.2 -9.2,-2.8 -9.8,10.2z" fill="#fae30d"/>
<path d="M622,848.2l9.4,-5.2 -9.8,-7.7 -9.3,5.1z" fill="#fa890d"/>
<path d="M381.4,907l9.9,-10.9 -9.1,-2.4 -9.9,10.9z" fill="#e1f50d"/>
<path d="M525.8,846.8l9.7,-7.3 -9.6,-5.3 -9.6,7.4z" fill="#fa860d"/>
<path d="M670.1,864.7l9.2,-4.3 -9.8,-9.3 -9.2,4.3z" fill="#faac0d"/>
<path d="M602.8,846.1l9.5,-5.7 -9.8,-7.2 -9.4,5.6z" fill="#fa830d"/>
<path d="M458.4,866.1l9.8,-9 -9.3,-3.8 -9.8,9z" fill="#fab10d"/>
<path d="M545.1,845.2l9.6,-6.9 -9.6,-5.7 -9.6,6.9z" fill="#fa820d"/>
<path d="M583.6,844.8l9.5,-6 -9.7,-6.8 -9.5,6.1z" fill="#fa800d"/>
<path d="M564.4,844.6l9.5,-6.5 -9.7,-6.3 -9.5,6.5z" fill="#fa800d"/>
<path d="M699.1,880.6l9.1,-3.9 -9.9,-10.4 -9.1,3.9z" fill="#face0d"/>
<path d="M429.4,881.5l9.9,-9.8 -9.3,-3.3 -9.8,9.8z" fill="#fad20d"/>
<path d="M651,860.1l9.3,-4.7 -9.8,-8.8 -9.3,4.7z" fill="#faa10d"/>
<path d="M477.6,861.4l9.8,-8.6 -9.4,-4.3 -9.8,8.6z" fill="#faa50d"/>
<path d="M400.4,899l9.9,-10.6 -9.1,-2.8 -9.9,10.5z" fill="#f6f50d"/>
<path d="M371.5,918.3l9.9,-11.3 -9.1,-2.4 -9.8,11.3z" fill="#caf50d"/>
<path d="M631.8,856.5l9.4,-5.2 -9.8,-8.3 -9.4,5.2z" fill="#fa980d"/>
<path d="M496.9,857.6l9.7,-8.2 -9.5,-4.8 -9.7,8.2z" fill="#fa9b0d"/>
<path d="M680,874.6l9.2,-4.4 -9.9,-9.8 -9.2,4.3z" fill="#fabf0d"/>
<path d="M448.6,875.5l9.8,-9.4 -9.3,-3.8 -9.8,9.4z" fill="#fac30d"/>
<path d="M612.6,853.9l9.4,-5.7 -9.7,-7.8 -9.5,5.7z" fill="#fa910d"/>
<path d="M708.9,891.5l9.1,-4 -9.8,-10.8 -9.1,3.9z" fill="#fae30d"/>
<path d="M516.2,854.6l9.6,-7.8 -9.5,-5.2 -9.7,7.8z" fill="#fa940d"/>
<path d="M593.3,852.2l9.5,-6.1 -9.7,-7.3 -9.5,6z" fill="#fa8d0d"/>
<path d="M535.4,852.6l9.7,-7.4 -9.6,-5.7 -9.7,7.3z" fill="#fa8f0d"/>
<path d="M419.6,891.7l9.8,-10.2 -9.2,-3.3 -9.9,10.2z" fill="#fae60d"/>
<path d="M574.1,851.4l9.5,-6.6 -9.7,-6.7 -9.5,6.5z" fill="#fa8b0d"/>
<path d="M554.8,851.5l9.6,-6.9 -9.7,-6.3 -9.6,6.9z" fill="#fa8c0d"/>
<path d="M660.9,869.5l9.2,-4.8 -9.8,-9.3 -9.3,4.7z" fill="#fab30d"/>
<path d="M390.5,909.9l9.9,-10.9 -9.1,-2.9 -9.9,10.9z" fill="#e0f50d"/>
<path d="M467.8,870.4l9.8,-9 -9.4,-4.3 -9.8,9z" fill="#fab60d"/>
<path d="M689.9,885l9.2,-4.4 -9.9,-10.4 -9.2,4.4z" fill="#fad30d"/>
<path d="M641.7,865.4l9.3,-5.3 -9.8,-8.8 -9.4,5.2z" fill="#faa80d"/>
<path d="M487.1,866.2l9.8,-8.6 -9.5,-4.8 -9.8,8.6z" fill="#faab0d"/>
<path d="M438.7,885.4l9.9,-9.9 -9.3,-3.8 -9.9,9.8z" fill="#fad60d"/>
<path d="M622.4,862.2l9.4,-5.7 -9.8,-8.3 -9.4,5.7z" fill="#faa10d"/>
<path d="M409.7,902.3l9.9,-10.6 -9.3,-3.3 -9.9,10.6z" fill="#f4f50d"/>
<path d="M506.4,862.9l9.8,-8.3 -9.6,-5.2 -9.7,8.2z" fill="#faa30d"/>
<path d="M380.6,921.3l9.9,-11.4 -9.1,-2.9 -9.9,11.3z" fill="#c9f50d"/>
<path d="M670.7,879.4l9.3,-4.8 -9.9,-9.9 -9.2,4.8z" fill="#fac50d"/>
<path d="M603.1,860l9.5,-6.1 -9.8,-7.8 -9.5,6.1z" fill="#fa9b0d"/>
<path d="M525.8,860.4l9.6,-7.8 -9.6,-5.8 -9.6,7.8z" fill="#fa9d0d"/>
<path d="M458,879.9l9.8,-9.5 -9.4,-4.3 -9.8,9.4z" fill="#fac80d"/>
<path d="M583.8,858.7l9.5,-6.5 -9.7,-7.4 -9.5,6.6z" fill="#fa980d"/>
<path d="M545.1,858.9l9.7,-7.4 -9.7,-6.3 -9.7,7.4z" fill="#fa990d"/>
<path d="M699.8,895.9l9.1,-4.4 -9.8,-10.9 -9.2,4.4z" fill="#fae90d"/>
<path d="M564.5,858.4l9.6,-7 -9.7,-6.8 -9.6,6.9z" fill="#fa970d"/>
<path d="M651.5,874.8l9.4,-5.3 -9.9,-9.4 -9.3,5.3z" fill="#faba0d"/>
<path d="M428.9,895.6l9.8,-10.2 -9.3,-3.9 -9.8,10.2z" fill="#faea0d"/>
<path d="M477.3,875.3l9.8,-9.1 -9.5,-4.8 -9.8,9z" fill="#fabc0d"/>
<path d="M399.7,913.3l10,-11 -9.3,-3.3 -9.9,10.9z" fill="#ddf50d"/>
<path d="M632.3,871.1l9.4,-5.7 -9.9,-8.9 -9.4,5.7z" fill="#fab10d"/>
<path d="M680.6,889.9l9.3,-4.9 -9.9,-10.4 -9.3,4.8z" fill="#fada0d"/>
<path d="M496.6,871.5l9.8,-8.6 -9.5,-5.3 -9.8,8.6z" fill="#fab30d"/>
<path d="M448.1,889.7l9.9,-9.8 -9.4,-4.4 -9.9,9.9z" fill="#fadb0d"/>
<path d="M612.9,868.4l9.5,-6.2 -9.8,-8.3 -9.5,6.1z" fill="#faaa0d"/>
<path d="M516,868.7l9.8,-8.3 -9.6,-5.8 -9.8,8.3z" fill="#faac0d"/>
<path d="M593.6,866.6l9.5,-6.6 -9.8,-7.8 -9.5,6.5z" fill="#faa60d"/>
<path d="M535.4,866.8l9.7,-7.9 -9.7,-6.3 -9.6,7.8z" fill="#faa70d"/>
<path d="M418.9,906.3l10,-10.7 -9.3,-3.9 -9.9,10.6z" fill="#f0f50d"/>
<path d="M661.4,884.7l9.3,-5.3 -9.8,-9.9 -9.4,5.3z" fill="#facd0d"/>
<path d="M574.2,865.7l9.6,-7 -9.7,-7.3 -9.6,7z" fill="#faa40d"/>
<path d="M554.8,865.8l9.7,-7.4 -9.7,-6.9 -9.7,7.4z" fill="#faa40d"/>
<path d="M389.8,924.7l9.9,-11.4 -9.2,-3.4 -9.9,11.4z" fill="#c6f50d"/>
<path d="M467.5,884.7l9.8,-9.4 -9.5,-4.9 -9.8,9.5z" fill="#face0d"/>
<path d="M690.6,900.9l9.2,-5 -9.9,-10.9 -9.3,4.9z" fill="#faef0d"/>
<path d="M642.1,880.6l9.4,-5.8 -9.8,-9.4 -9.4,5.7z" fill="#fac30d"/>
<path d="M486.8,880.6l9.8,-9.1 -9.5,-5.3 -9.8,9.1z" fill="#fac40d"/>
<path d="M438.2,900l9.9,-10.3 -9.4,-4.3 -9.8,10.2z" fill="#faef0d"/>
<path d="M622.8,877.3l9.5,-6.2 -9.9,-8.9 -9.5,6.2z" fill="#fabb0d"/>
<path d="M409,917.3l9.9,-11 -9.2,-4 -10,11z" fill="#daf50d"/>
<path d="M506.2,877.4l9.8,-8.7 -9.6,-5.8 -9.8,8.6z" fill="#fabc0d"/>
<path d="M671.3,895.2l9.3,-5.3 -9.9,-10.5 -9.3,5.3z" fill="#fae10d"/>
<path d="M603.4,875l9.5,-6.6 -9.8,-8.4 -9.5,6.6z" fill="#fab50d"/>
<path d="M525.7,875.1l9.7,-8.3 -9.6,-6.4 -9.8,8.3z" fill="#fab60d"/>
<path d="M457.6,894.6l9.9,-9.9 -9.5,-4.8 -9.9,9.8z" fill="#fae10d"/>
<path d="M584,873.6l9.6,-7 -9.8,-7.9 -9.6,7z" fill="#fab20d"/>
<path d="M545.1,873.7l9.7,-7.9 -9.7,-6.9 -9.7,7.9z" fill="#fab20d"/>
<path d="M564.5,873.2l9.7,-7.5 -9.7,-7.3 -9.7,7.4z" fill="#fab10d"/>
<path d="M652,890.5l9.4,-5.8 -9.9,-9.9 -9.4,5.8z" fill="#fad60d"/>
<path d="M428.3,910.7l9.9,-10.7 -9.3,-4.4 -10,10.7z" fill="#ebf50d"/>
<path d="M477,890.2l9.8,-9.6 -9.5,-5.3 -9.8,9.4z" fill="#fad60d"/>
<path d="M399,928.7l10,-11.4 -9.3,-4 -9.9,11.4z" fill="#c3f50d"/>
<path d="M681.2,906.3l9.4,-5.4 -10,-11 -9.3,5.3z" fill="#f8f50d"/>
<path d="M632.7,886.8l9.4,-6.2 -9.8,-9.5 -9.5,6.2z" fill="#facd0d"/>
<path d="M496.4,886.5l9.8,-9.1 -9.6,-5.9 -9.8,9.1z" fill="#facd0d"/>
<path d="M447.7,905l9.9,-10.4 -9.5,-4.9 -9.9,10.3z" fill="#f9f50d"/>
<path d="M613.3,884l9.5,-6.7 -9.9,-8.9 -9.5,6.6z" fill="#fac60d"/>
<path d="M515.9,883.8l9.8,-8.7 -9.7,-6.4 -9.8,8.7z" fill="#fac60d"/>
<path d="M661.9,901.1l9.4,-5.9 -9.9,-10.5 -9.4,5.8z" fill="#faea0d"/>
<path d="M593.8,882.1l9.6,-7.1 -9.8,-8.4 -9.6,7z" fill="#fac10d"/>
<path d="M418.3,921.7l10,-11 -9.4,-4.4 -9.9,11z" fill="#d4f50d"/>
<path d="M535.4,882l9.7,-8.3 -9.7,-6.9 -9.7,8.3z" fill="#fac10d"/>
<path d="M574.3,881.1l9.7,-7.5 -9.8,-7.9 -9.7,7.5z" fill="#fabf0d"/>
<path d="M554.9,881.1l9.6,-7.9 -9.7,-7.4 -9.7,7.9z" fill="#fabf0d"/>
<path d="M467.1,900.1l9.9,-9.9 -9.5,-5.5 -9.9,9.9z" fill="#fae90d"/>
<path d="M642.6,896.8l9.4,-6.3 -9.9,-9.9 -9.4,6.2z" fill="#fae00d"/>
<path d="M486.6,896.1l9.8,-9.6 -9.6,-5.9 -9.8,9.6z" fill="#fadf0d"/>
<path d="M437.7,915.7l10,-10.7 -9.5,-5 -9.9,10.7z" fill="#e4f50d"/>
<path d="M623.1,893.5l9.6,-6.7 -9.9,-9.5 -9.5,6.7z" fill="#fad70d"/>
<path d="M671.9,912.2l9.3,-5.9 -9.9,-11.1 -9.4,5.9z" fill="#eff50d"/>
<path d="M408.4,933.2l9.9,-11.5 -9.3,-4.4 -10,11.4z" fill="#bdf50d"/>
<path d="M506.1,893l9.8,-9.2 -9.7,-6.4 -9.8,9.1z" fill="#fad70d"/>
<path d="M603.7,891.1l9.6,-7.1 -9.9,-9 -9.6,7.1z" fill="#fad20d"/>
<path d="M525.6,890.8l9.8,-8.8 -9.7,-6.9 -9.8,8.7z" fill="#fad10d"/>
<path d="M457.2,910.4l9.9,-10.3 -9.5,-5.5 -9.9,10.4z" fill="#f2f50d"/>
<path d="M584.2,889.6l9.6,-7.5 -9.8,-8.5 -9.7,7.5z" fill="#face0d"/>
<path d="M545.1,889.5l9.8,-8.4 -9.8,-7.4 -9.7,8.3z" fill="#face0d"/>
<path d="M564.6,889.1l9.7,-8 -9.8,-7.9 -9.6,7.9z" fill="#facd0d"/>
<path d="M652.5,907.4l9.4,-6.3 -9.9,-10.6 -9.4,6.3z" fill="#faf40d"/>
<path d="M427.8,926.8l9.9,-11.1 -9.4,-5 -10,11z" fill="#cef50d"/>
<path d="M476.7,906.1l9.9,-10 -9.6,-5.9 -9.9,9.9z" fill="#faf20d"/>
<path d="M633.1,903.6l9.5,-6.8 -9.9,-10 -9.6,6.7z" fill="#faea0d"/>
<path d="M496.2,902.6l9.9,-9.6 -9.7,-6.5 -9.8,9.6z" fill="#fae90d"/>
<path d="M613.6,900.7l9.5,-7.2 -9.8,-9.5 -9.6,7.1z" fill="#fae30d"/>
<path d="M447.2,921.2l10,-10.8 -9.5,-5.4 -10,10.7z" fill="#dcf50d"/>
<path d="M662.4,918.6l9.5,-6.4 -10,-11.1 -9.4,6.3z" fill="#e5f50d"/>
<path d="M515.7,900l9.9,-9.2 -9.7,-7 -9.8,9.2z" fill="#fae20d"/>
<path d="M594,898.7l9.7,-7.6 -9.9,-9 -9.6,7.5z" fill="#fadf0d"/>
<path d="M417.8,938.3l10,-11.5 -9.5,-5.1 -9.9,11.5z" fill="#b7f50d"/>
<path d="M535.3,898.3l9.8,-8.8 -9.7,-7.5 -9.8,8.8z" fill="#fade0d"/>
<path d="M574.5,897.6l9.7,-8 -9.9,-8.5 -9.7,8z" fill="#fadc0d"/>
<path d="M554.9,897.5l9.7,-8.4 -9.7,-8 -9.8,8.4z" fill="#fadc0d"/>
<path d="M466.7,916.4l10,-10.3 -9.6,-6 -9.9,10.3z" fill="#e9f50d"/>
<path d="M643,914.2l9.5,-6.8 -9.9,-10.6 -9.5,6.8z" fill="#f0f50d"/>
<path d="M486.3,912.6l9.9,-10 -9.6,-6.5 -9.9,10z" fill="#f3f50d"/>
<path d="M437.2,932.3l10,-11.1 -9.5,-5.5 -9.9,11.1z" fill="#c6f50d"/>
<path d="M623.5,910.8l9.6,-7.2 -10,-10.1 -9.5,7.2z" fill="#f8f50d"/>
<path d="M505.9,909.6l9.8,-9.6 -9.6,-7 -9.9,9.6z" fill="#faf40d"/>
<path d="M603.9,908.3l9.7,-7.6 -9.9,-9.6 -9.7,7.6z" fill="#faf00d"/>
<path d="M525.5,907.5l9.8,-9.2 -9.7,-7.5 -9.9,9.2z" fill="#faef0d"/>
<path d="M456.8,927.2l9.9,-10.8 -9.5,-6 -10,10.8z" fill="#d3f50d"/>
<path d="M584.3,906.7l9.7,-8 -9.8,-9.1 -9.7,8z" fill="#faed0d"/>
<path d="M652.9,925.4l9.5,-6.8 -9.9,-11.2 -9.5,6.8z" fill="#daf50d"/>
<path d="M545.1,906.4l9.8,-8.9 -9.8,-8 -9.8,8.8z" fill="#faec0d"/>
<path d="M564.7,906.1l9.8,-8.5 -9.9,-8.5 -9.7,8.4z" fill="#faeb0d"/>
<path d="M427.2,943.9l10,-11.6 -9.4,-5.5 -10,11.5z" fill="#aff50d"/>
<path d="M476.3,923l10,-10.4 -9.6,-6.5 -10,10.3z" fill="#def50d"/>
<path d="M633.4,921.5l9.6,-7.3 -9.9,-10.6 -9.6,7.2z" fill="#e3f50d"/>
<path d="M496,919.7l9.9,-10.1 -9.7,-7 -9.9,10z" fill="#e7f50d"/>
<path d="M613.8,918.5l9.7,-7.7 -9.9,-10.1 -9.7,7.6z" fill="#ebf50d"/>
<path d="M446.8,938.4l10,-11.2 -9.6,-6 -10,11.1z" fill="#bdf50d"/>
<path d="M515.6,917.2l9.9,-9.7 -9.8,-7.5 -9.8,9.6z" fill="#edf50d"/>
<path d="M594.2,916.4l9.7,-8.1 -9.9,-9.6 -9.7,8z" fill="#f0f50d"/>
<path d="M535.3,915.7l9.8,-9.3 -9.8,-8.1 -9.8,9.2z" fill="#f1f50d"/>
<path d="M574.6,915.2l9.7,-8.5 -9.8,-9.1 -9.8,8.5z" fill="#f3f50d"/>
<path d="M554.9,915l9.8,-8.9 -9.8,-8.6 -9.8,8.9z" fill="#f3f50d"/>
<path d="M643.4,932.7l9.5,-7.3 -9.9,-11.2 -9.6,7.3z" fill="#cdf50d"/>
<path d="M466.4,933.9l9.9,-10.9 -9.6,-6.6 -9.9,10.8z" fill="#c9f50d"/>
<path d="M623.8,929.2l9.6,-7.7 -9.9,-10.7 -9.7,7.7z" fill="#d6f50d"/>
<path d="M486,930.1l10,-10.4 -9.7,-7.1 -10,10.4z" fill="#d3f50d"/>
<path d="M436.8,950l10,-11.6 -9.6,-6.1 -10,11.6z" fill="#a6f50d"/>
<path d="M604.2,926.6l9.6,-8.1 -9.9,-10.2 -9.7,8.1z" fill="#ddf50d"/>
<path d="M505.7,927.3l9.9,-10.1 -9.7,-7.6 -9.9,10.1z" fill="#daf50d"/>
<path d="M525.4,925.4l9.9,-9.7 -9.8,-8.2 -9.9,9.7z" fill="#dff50d"/>
<path d="M584.5,924.9l9.7,-8.5 -9.9,-9.7 -9.7,8.5z" fill="#e1f50d"/>
<path d="M456.4,945.1l10,-11.2 -9.6,-6.7 -10,11.2z" fill="#b3f50d"/>
<path d="M545.1,924.3l9.8,-9.3 -9.8,-8.6 -9.8,9.3z" fill="#e2f50d"/>
<path d="M564.8,924.2l9.8,-9 -9.9,-9.1 -9.8,8.9z" fill="#e2f50d"/>
<path d="M633.8,940.5l9.6,-7.8 -10,-11.2 -9.6,7.7z" fill="#c0f50d"/>
<path d="M476,941l10,-10.9 -9.7,-7.1 -9.9,10.9z" fill="#bdf50d"/>
<path d="M614.1,937.4l9.7,-8.2 -10,-10.7 -9.6,8.1z" fill="#c8f50d"/>
<path d="M495.7,937.8l10,-10.5 -9.7,-7.6 -10,10.4z" fill="#c6f50d"/>
<path d="M446.3,956.7l10.1,-11.6 -9.6,-6.7 -10,11.6z" fill="#9cf50d"/>
<path d="M594.4,935.2l9.8,-8.6 -10,-10.2 -9.7,8.5z" fill="#cdf50d"/>
<path d="M515.5,935.5l9.9,-10.1 -9.8,-8.2 -9.9,10.1z" fill="#ccf50d"/>
<path d="M574.7,933.9l9.8,-9 -9.9,-9.7 -9.8,9z" fill="#d0f50d"/>
<path d="M535.2,934.1l9.9,-9.8 -9.8,-8.6 -9.9,9.7z" fill="#cff50d"/>
<path d="M555,933.6l9.8,-9.4 -9.9,-9.2 -9.8,9.3z" fill="#d1f50d"/>
<path d="M466,952.3l10,-11.3 -9.6,-7.1 -10,11.2z" fill="#a7f50d"/>
<path d="M624.1,948.8l9.7,-8.3 -10,-11.3 -9.7,8.2z" fill="#b2f50d"/>
<path d="M485.8,948.8l9.9,-11 -9.7,-7.7 -10,10.9z" fill="#b0f50d"/>
<path d="M604.4,946.1l9.7,-8.7 -9.9,-10.8 -9.8,8.6z" fill="#b8f50d"/>
<path d="M505.5,946.1l10,-10.6 -9.8,-8.2 -10,10.5z" fill="#b7f50d"/>
<path d="M584.6,944.3l9.8,-9.1 -9.9,-10.3 -9.8,9z" fill="#bdf50d"/>
<path d="M525.3,944.3l9.9,-10.2 -9.8,-8.7 -9.9,10.1z" fill="#bcf50d"/>
<path d="M456,964l10,-11.7 -9.6,-7.2 -10.1,11.6z" fill="#90f50d"/>
<path d="M564.9,943.4l9.8,-9.5 -9.9,-9.7 -9.8,9.4z" fill="#bff50d"/>
<path d="M545.1,943.4l9.9,-9.8 -9.9,-9.3 -9.9,9.8z" fill="#bef50d"/>
<path d="M475.7,960.1l10.1,-11.3 -9.8,-7.8 -10,11.3z" fill="#9af50d"/>
<path d="M614.4,957.5l9.7,-8.7 -10,-11.4 -9.7,8.7z" fill="#a2f50d"/>
<path d="M495.5,957.1l10,-11 -9.8,-8.3 -9.9,11z" fill="#a2f50d"/>
<path d="M594.6,955.2l9.8,-9.1 -10,-10.9 -9.8,9.1z" fill="#a8f50d"/>
<path d="M515.3,954.9l10,-10.6 -9.8,-8.8 -10,10.6z" fill="#a8f50d"/>
<path d="M574.8,953.8l9.8,-9.5 -9.9,-10.4 -9.8,9.5z" fill="#abf50d"/>
<path d="M535.2,953.6l9.9,-10.2 -9.9,-9.3 -9.9,10.2z" fill="#abf50d"/>
<path d="M555,953.2l9.9,-9.8 -9.9,-9.8 -9.9,9.8z" fill="#acf50d"/>
<path d="M465.7,971.8l10,-11.7 -9.7,-7.8 -10,11.7z" fill="#83f50d"/>
<path d="M485.5,968.5l10,-11.4 -9.7,-8.3 -10.1,11.3z" fill="#8cf50d"/>
<path d="M604.6,966.6l9.8,-9.1 -10,-11.4 -9.8,9.1z" fill="#92f50d"/>
<path d="M505.3,966l10,-11.1 -9.8,-8.8 -10,11z" fill="#92f50d"/>
<path d="M584.8,964.7l9.8,-9.5 -10,-10.9 -9.8,9.5z" fill="#96f50d"/>
<path d="M525.2,964.3l10,-10.7 -9.9,-9.3 -10,10.6z" fill="#97f50d"/>
<path d="M564.9,963.7l9.9,-9.9 -9.9,-10.4 -9.9,9.8z" fill="#99f50d"/>
<path d="M545.1,963.6l9.9,-10.4 -9.9,-9.8 -9.9,10.2z" fill="#99f50d"/>
<path d="M475.4,980.3l10.1,-11.8 -9.8,-8.4 -10,11.7z" fill="#75f50d"/>
<path d="M495.3,977.4l10,-11.4 -9.8,-8.9 -10,11.4z" fill="#7cf50d"/>
<path d="M594.8,976.2l9.8,-9.6 -10,-11.4 -9.8,9.5z" fill="#80f50d"/>
<path d="M515.2,975.4l10,-11.1 -9.9,-9.4 -10,11.1z" fill="#81f50d"/>
<path d="M574.9,974.7l9.9,-10 -10,-10.9 -9.9,9.9z" fill="#84f50d"/>
<path d="M535.1,974.3l10,-10.7 -9.9,-10 -10,10.7z" fill="#84f50d"/>
<path d="M555,974l9.9,-10.3 -9.9,-10.5 -9.9,10.4z" fill="#85f50d"/>
<path d="M485.3,989.3l10,-11.9 -9.8,-8.9 -10.1,11.8z" fill="#65f50d"/>
<path d="M505.2,986.9l10,-11.5 -9.9,-9.4 -10,11.4z" fill="#6bf50d"/>
<path d="M584.9,986.3l9.9,-10.1 -10,-11.5 -9.9,10z" fill="#6df50d"/>
<path d="M525.1,985.4l10,-11.1 -9.9,-10 -10,11.1z" fill="#6ff50d"/>
<path d="M565,985.1l9.9,-10.4 -10,-11 -9.9,10.3z" fill="#70f50d"/>
<path d="M545,984.8l10,-10.8 -9.9,-10.4 -10,10.7z" fill="#71f50d"/>
<path d="M495.1,998.8l10.1,-11.9 -9.9,-9.5 -10,11.9z" fill="#54f50d"/>
<path d="M575,996.8l9.9,-10.5 -10,-11.6 -9.9,10.4z" fill="#5af50d"/>
<path d="M515.1,997l10,-11.6 -9.9,-10 -10,11.5z" fill="#59f50d"/>
<path d="M555,996l10,-10.9 -10,-11.1 -10,10.8z" fill="#5cf50d"/>
<path d="M535,996.1l10,-11.3 -9.9,-10.5 -10,11.1z" fill="#5bf50d"/>
<path d="M505,1009l10.1,-12 -9.9,-10.1 -10.1,11.9z" fill="#41f50d"/>
<path d="M565,1007.7l10,-10.9 -10,-11.7 -10,10.9z" fill="#45f50d"/>
<path d="M525,1007.7l10,-11.6 -9.9,-10.7 -10,11.6z" fill="#45f50d"/>
<path d="M545,1007.3l10,-11.3 -10,-11.2 -10,11.3z" fill="#46f50d"/>
<path d="M514.9,1019.7l10.1,-12 -9.9,-10.7 -10.1,12z" fill="#2df50d"/>
<path d="M555,1019l10,-11.3 -10,-11.7 -10,11.3z" fill="#30f50d"/>
<path d="M535,1018.9l10,-11.6 -10,-11.2 -10,11.6z" fill="#30f50d"/>
<path d="M524.9,1031.1l10.1,-12.2 -10,-11.2 -10.1,12z" fill="#18f50d"/>
<path d="M545,1030.8l10,-11.8 -10,-11.7 -10,11.6z" fill="#19f50d"/>
<path d="M534.9,1043l10.1,-12.2 -10,-11.9 -10.1,12.2z" fill="#08f512"/>
</g>
<polyline points="186,976.7 189,971.1 192,967.5 195,963.8 198,960.2 201,956.6 204,953.7 207,950.1 210,946.6 213,943.2 216,939.7 219,936.9 222,933.5 225,930.2 228,926.9 231,924.1 234,920.9 237,917.7 240,914.5 243,911.4 246,908.6 249,905.6 252,902.6 255,899.6 258,896.8 261,893.9 264,891.1 267,888.3 270,885.5 273,882.8 276,880.2 279,877.5 282,874.8 285,872.2 288,869.8 291,867.2 294,864.7 297,862.2 300,859.7 303,857.2 306,855 309,852.6 312,850.2 315,847.8 318,845.5 321,843.4 324,841.1 327,838.9 330,836.7 333,834.5 336,832.3 339,830.3 342,828.2 345,826.1 348,824.1 351,822.2 354,820.2 357,818.3 360,816.4 363,814.5 366,812.6 369,810.9 372,809 375,807.2 378,805.4 381,803.8 384,802.1 387,800.4 390,798.8 393,797.3 396,795.7 399,794.1 402,792.7 405,791.1 408,789.6 411,788.1 414,786.7 417,785.3 420,783.9 423,782.6 426,781.4 429,780.1 432,778.9 435,777.7 438,776.6 441,775.5 444,774.4 447,773.2 450,772 453,770.9 456,769.8 459,768.8 462,767.9 465,766.9 468,766 471,765.1 474,764.3 477,763.5 480,762.7 483,761.9 486,761.2 489,760.5 492,759.8 495,759.1 498,758.5 501,757.9 504,757.3 507,756.8 510,756.2 513,755.7 516,755.3 519,754.8 522,754.2 525,753.8 528,753.4 531,753.1 534,752.8 537,752.5 540,752.3 543,752.1 546,751.9 549,751.7 552,751.5 555,751.4 558,751.3 561,751.3 564,751.2 567,751.2 570,751.2 573,751.2 576,751.3 579,751.4 582,751.5 585,751.7 588,751.8 591,752 594,752.2 597,752.5 600,752.8 603,753.1 606,753.4 609,753.8 612,754.1 615,754.5 618,755 621,755.4 624,755.9 627,756.5 630,757 633,757.6 636,758.2 639,758.8 642,759.5 645,760.1 648,760.9 651,761.6 654,762.4 657,763.2 660,764 663,764.9 666,765.7 669,766.7 672,767.6 675,768.6 678,769.6 681,770.7 684,771.7 687,772.9 690,774 693,775.3 696,776.4 699,777.7 702,778.9 705,780.1 708,781.4 711,782.8 714,784.1 717,785.5 720,786.8 723,788.3 726,789.7 729,791.3 732,792.8 735,794.4 738,795.9 741,797.6 744,799.2 747,800.9 750,802.7 753,804.4 756,806.3 759,808 762,810 765,811.7 768,813.7 771,815.5 774,817.5 777,819.6 780,821.5 783,823.6 786,825.6 789,827.8 792,829.8 795,832.1 798,834.4 801,836.5 804,838.9 807,841 810,843.5 813,845.9 816,848.2 819,850.7 822,853.1 825,855.5 828,858.1 831,860.8 834,863.2 837,865.9 840,868.4 843,871.2 846,874 849,876.6 852,879.5 855,882.5 858,885.5 861,888.1 864,891.2 867,894.4 870,897.1 873,900.3 876,903.6 879,906.9 882,910.2 885,913.7 888.4,918.9" fill="none" stroke="#000" stroke-opacity="0.7" stroke-width="1.3" stroke-linejoin="round"/>
<circle cx="186.6" cy="984.3" r="2" fill="#000"/>
<text x="179.8" y="996.9" font-size="12.3" text-anchor="end" fill="#222" font-family="'Liberation Sans',sans-serif">155</text>
<circle cx="182.4" cy="925.3" r="2" fill="#000"/>
<text x="175.6" y="937.9" font-size="12.3" text-anchor="end" fill="#222" font-family="'Liberation Sans',sans-serif">160</text>
<circle cx="178.2" cy="866.3" r="2" fill="#000"/>
<text x="171.4" y="878.9" font-size="12.3" text-anchor="end" fill="#222" font-family="'Liberation Sans',sans-serif">165</text>
<circle cx="174" cy="807.3" r="2" fill="#000"/>
<text x="167.2" y="819.9" font-size="12.3" text-anchor="end" fill="#222" font-family="'Liberation Sans',sans-serif">170</text>
<circle cx="169.8" cy="748.3" r="2" fill="#000"/>
<text x="163" y="760.9" font-size="12.3" text-anchor="end" fill="#222" font-family="'Liberation Sans',sans-serif">175</text>
<ellipse cx="534.7" cy="1166.5" rx="2.4" ry="1.6" fill="#000"/>
<text x="528.2" y="1179" font-size="12.3" text-anchor="end" fill="#222" font-family="'Liberation Sans',sans-serif">40.00</text>
<ellipse cx="449" cy="1139.5" rx="2.4" ry="1.6" fill="#000"/>
<text x="442.5" y="1152" font-size="12.3" text-anchor="end" fill="#222" font-family="'Liberation Sans',sans-serif">42.50</text>
<ellipse cx="363.2" cy="1112.4" rx="2.4" ry="1.6" fill="#000"/>
<text x="356.7" y="1124.9" font-size="12.3" text-anchor="end" fill="#222" font-family="'Liberation Sans',sans-serif">45.00</text>
<ellipse cx="277.5" cy="1085.4" rx="2.4" ry="1.6" fill="#000"/>
<text x="271" y="1097.9" font-size="12.3" text-anchor="end" fill="#222" font-family="'Liberation Sans',sans-serif">47.50</text>
<ellipse cx="191.8" cy="1058.3" rx="2.4" ry="1.6" fill="#000"/>
<text x="185.3" y="1070.8" font-size="12.3" text-anchor="end" fill="#222" font-family="'Liberation Sans',sans-serif">50.00</text>
<text x="542.7" y="1179" font-size="12.3" text-anchor="start" fill="#222" font-family="'Liberation Sans',sans-serif">30.00</text>
<ellipse cx="620.5" cy="1139.5" rx="2.4" ry="1.6" fill="#000"/>
<text x="628.5" y="1152" font-size="12.3" text-anchor="start" fill="#222" font-family="'Liberation Sans',sans-serif">40.00</text>
<ellipse cx="706.2" cy="1112.4" rx="2.4" ry="1.6" fill="#000"/>
<text x="714.2" y="1124.9" font-size="12.3" text-anchor="start" fill="#222" font-family="'Liberation Sans',sans-serif">50.00</text>
<ellipse cx="792" cy="1085.4" rx="2.4" ry="1.6" fill="#000"/>
<text x="800" y="1097.9" font-size="12.3" text-anchor="start" fill="#222" font-family="'Liberation Sans',sans-serif">60.00</text>
<ellipse cx="877.8" cy="1058.4" rx="2.4" ry="1.6" fill="#000"/>
<text x="885.8" y="1070.9" font-size="12.3" text-anchor="start" fill="#222" font-family="'Liberation Sans',sans-serif">70.00</text>
<ellipse cx="535" cy="761.8" rx="6.2" ry="3.4" fill="#fff4f4" stroke="#d8a0a0" stroke-width="1.1"/><circle cx="535" cy="761.8" r="1.2" fill="#111"/>
<ellipse cx="185.5" cy="970.7" rx="7.2" ry="4" fill="#e41414" stroke="#8a0000" stroke-width="1.1"/>
<ellipse cx="344.5" cy="907" rx="7.2" ry="4" fill="#e41414" stroke="#8a0000" stroke-width="1.1"/>
<ellipse cx="886.9" cy="928" rx="7.2" ry="4" fill="#ffc6c6" stroke="#5a2444" stroke-width="1.1"/><line x1="888.5" y1="914" x2="886.9" y2="933.5" stroke="#1a0a14" stroke-width="1.1"/>
<ellipse cx="535" cy="1057.3" rx="7.2" ry="4" fill="#ffc6c6" stroke="#5a2444" stroke-width="1.1"/><line x1="535.5" y1="1043" x2="535" y2="1062.8" stroke="#1a0a14" stroke-width="1.1"/>
<text x="144.3" y="1160.4" font-size="19.9" fill="#111" font-family="'Liberation Sans',sans-serif" textLength="174" lengthAdjust="spacingAndGlyphs">C: TEMPERATURE</text>
<text x="780.3" y="1160.4" font-size="19.9" fill="#111" font-family="'Liberation Sans',sans-serif" textLength="115.8" lengthAdjust="spacingAndGlyphs">A: SOLVENT</text>
<text x="42.5" y="908" font-size="21.6" fill="#111" font-family="'Liberation Sans',sans-serif" textLength="38.9" lengthAdjust="spacingAndGlyphs" transform="rotate(-90 61.9 908)">TFC</text></g>
<g id="p4"><g fill="none" stroke="#3a3a3a" stroke-width="1.2">
<polyline points="1169.5,670.5 1917.5,670.5" stroke="#888" stroke-width="1"/>
<polyline points="1169.5,670.5 1169.5,1110.5 1917.5,1110.5 1917.5,670.5"/>
<line x1="1149.8" y1="695.5" x2="1169.5" y2="695.5" stroke="#555" stroke-width="1"/>
<line x1="1149.8" y1="793.5" x2="1169.5" y2="793.5" stroke="#555" stroke-width="1"/>
<line x1="1149.8" y1="889.5" x2="1169.5" y2="889.5" stroke="#555" stroke-width="1"/>
<line x1="1149.8" y1="987.5" x2="1169.5" y2="987.5" stroke="#555" stroke-width="1"/>
<line x1="1149.8" y1="1084.5" x2="1169.5" y2="1084.5" stroke="#555" stroke-width="1"/>
<line x1="1211.5" y1="1110.5" x2="1211.5" y2="1121" stroke="#333"/>
<line x1="1377.5" y1="1110.5" x2="1377.5" y2="1121" stroke="#333"/>
<line x1="1543.5" y1="1110.5" x2="1543.5" y2="1121" stroke="#333"/>
<line x1="1708.5" y1="1110.5" x2="1708.5" y2="1121" stroke="#333"/>
<line x1="1874.5" y1="1110.5" x2="1874.5" y2="1121" stroke="#333"/>
<line x1="1211.9" y1="1075.6" x2="1874.4" y2="706.5" stroke="#333" stroke-width="1"/>
</g>
<text x="1141.5" y="697.9" font-size="11.5" text-anchor="end" fill="#333" font-family="'Liberation Sans',sans-serif" textLength="38" lengthAdjust="spacingAndGlyphs" font-weight="bold">175.00</text>
<text x="1141.5" y="795.9" font-size="11.5" text-anchor="end" fill="#333" font-family="'Liberation Sans',sans-serif" textLength="38" lengthAdjust="spacingAndGlyphs" font-weight="bold">167.25</text>
<text x="1141.5" y="891.9" font-size="11.5" text-anchor="end" fill="#333" font-family="'Liberation Sans',sans-serif" textLength="38" lengthAdjust="spacingAndGlyphs" font-weight="bold">159.50</text>
<text x="1141.5" y="989.9" font-size="11.5" text-anchor="end" fill="#333" font-family="'Liberation Sans',sans-serif" textLength="38" lengthAdjust="spacingAndGlyphs" font-weight="bold">151.75</text>
<text x="1141.5" y="1086.9" font-size="11.5" text-anchor="end" fill="#333" font-family="'Liberation Sans',sans-serif" textLength="38" lengthAdjust="spacingAndGlyphs" font-weight="bold">144.00</text>
<text x="1211.5" y="1137.5" font-size="11.5" text-anchor="middle" fill="#333" font-family="'Liberation Sans',sans-serif" textLength="38" lengthAdjust="spacingAndGlyphs" font-weight="bold">144.67</text>
<text x="1377.5" y="1137.5" font-size="11.5" text-anchor="middle" fill="#333" font-family="'Liberation Sans',sans-serif" textLength="38" lengthAdjust="spacingAndGlyphs" font-weight="bold">152.03</text>
<text x="1543.5" y="1137.5" font-size="11.5" text-anchor="middle" fill="#333" font-family="'Liberation Sans',sans-serif" textLength="38" lengthAdjust="spacingAndGlyphs" font-weight="bold">159.38</text>
<text x="1708.5" y="1137.5" font-size="11.5" text-anchor="middle" fill="#333" font-family="'Liberation Sans',sans-serif" textLength="38" lengthAdjust="spacingAndGlyphs" font-weight="bold">166.74</text>
<text x="1874.5" y="1137.5" font-size="11.5" text-anchor="middle" fill="#333" font-family="'Liberation Sans',sans-serif" textLength="38" lengthAdjust="spacingAndGlyphs" font-weight="bold">174.09</text>
<g stroke="#1c2a10" stroke-width="1">
<rect x="1863" y="703.1" width="14.5" height="7.5" fill="#dd1414"/>
<rect x="1759.8" y="781" width="14.5" height="7.5" fill="#ff9a22"/>
<rect x="1705.7" y="782.8" width="14.5" height="7.5" fill="#fbe62c"/>
<rect x="1682.8" y="810" width="14.5" height="7.5" fill="#f0ee28"/>
<rect x="1667.5" y="823" width="14.5" height="7.5" fill="#d8ee2c"/>
<rect x="1637" y="825" width="14.5" height="7.5" fill="#a4ec30"/>
<rect x="1594.5" y="839.6" width="14.5" height="7.5" fill="#62e62c"/>
<rect x="1606.3" y="845.1" width="14.5" height="7.5" fill="#66e62c"/>
<rect x="1602.5" y="864.4" width="14.5" height="7.5" fill="#58e42c"/>
<rect x="1548.7" y="863.9" width="14.5" height="7.5" fill="#30dc38"/>
<rect x="1510.2" y="895.4" width="14.5" height="7.5" fill="#2cdc3c"/>
<rect x="1515.2" y="895.4" width="14.5" height="7.5" fill="#2cdc3c"/>
<rect x="1514.5" y="917.2" width="14.5" height="7.5" fill="#28dc3c"/>
<rect x="1484" y="902" width="14.5" height="7.5" fill="#28dc48"/>
<rect x="1452.5" y="940.5" width="14.5" height="7.5" fill="#2cdc70"/>
<rect x="1465" y="938" width="14.5" height="7.5" fill="#2cdc6c"/>
<rect x="1204.2" y="1066.5" width="14.5" height="7.5" fill="#0808c8"/>
</g>
<text x="1540.8" y="664.4" font-size="26" text-anchor="middle" fill="#111" font-family="'Liberation Sans',sans-serif" textLength="261" lengthAdjust="spacingAndGlyphs">Predicted vs. Actual</text>
<text x="1532.7" y="1194.3" font-size="33.5" text-anchor="middle" fill="#1a1a1a" font-family="'DejaVu Sans',sans-serif" textLength="103" lengthAdjust="spacingAndGlyphs">Actual</text>
<text x="1064.5" y="899.3" font-size="36" text-anchor="middle" fill="#1a1a1a" font-family="'DejaVu Sans',sans-serif" transform="rotate(-90 1064.5 899.3)" textLength="137.5" lengthAdjust="spacingAndGlyphs">Predicted</text></g>
</svg>
</body></html>
